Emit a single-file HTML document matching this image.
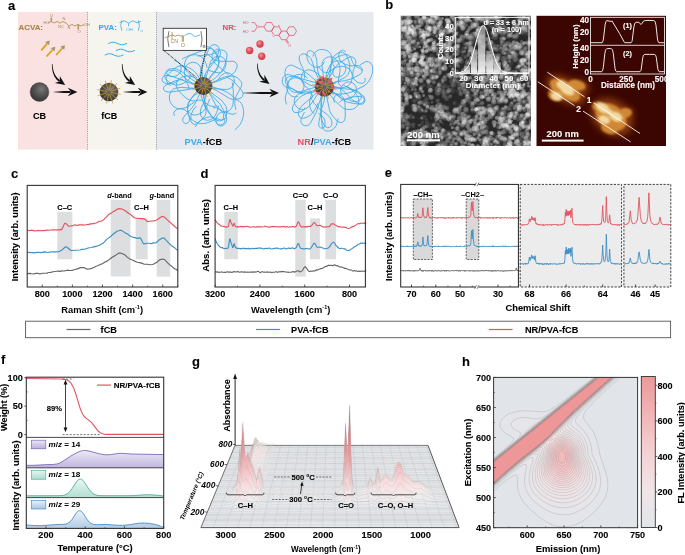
<!DOCTYPE html><html><head><meta charset="utf-8"><style>html,body{margin:0;padding:0;background:#fff;width:685px;height:555px;overflow:hidden}svg{display:block;will-change:transform}*{-webkit-font-smoothing:antialiased}text{font-family:"Liberation Sans",sans-serif}</style></head><body><svg width="685" height="555" viewBox="0 0 685 555" font-family="Liberation Sans"><defs><radialGradient id="gball" cx="0.6" cy="0.35" r="0.75"><stop offset="0" stop-color="#7a7a7a"/><stop offset="0.35" stop-color="#5a5a5a"/><stop offset="1" stop-color="#2e2e2e"/></radialGradient><linearGradient id="ag1" gradientUnits="userSpaceOnUse" x1="53.6" y1="92" x2="70.5" y2="92.0"><stop offset="0" stop-color="#111" stop-opacity="0.15"/><stop offset="0.6" stop-color="#111"/></linearGradient><linearGradient id="ag2" gradientUnits="userSpaceOnUse" x1="123.6" y1="92" x2="140.5" y2="92.0"><stop offset="0" stop-color="#111" stop-opacity="0.15"/><stop offset="0.6" stop-color="#111"/></linearGradient><linearGradient id="ag3" gradientUnits="userSpaceOnUse" x1="243" y1="93" x2="272.1" y2="93.0"><stop offset="0" stop-color="#111" stop-opacity="0.15"/><stop offset="0.6" stop-color="#111"/></linearGradient><radialGradient id="rball" cx="0.4" cy="0.35" r="0.7"><stop offset="0" stop-color="#f29aa2"/><stop offset="0.5" stop-color="#e2505c"/><stop offset="1" stop-color="#c83a48"/></radialGradient><clipPath id="csem"><rect x="400.8" y="15.8" width="130.2" height="130.2"/></clipPath><filter id="fsem" x="-5%" y="-5%" width="110%" height="110%"><feGaussianBlur stdDeviation="0.35"/></filter><radialGradient id="pg" cx="0.42" cy="0.4" r="0.6"><stop offset="0" stop-color="#fff" stop-opacity="1"/><stop offset="0.55" stop-color="#fff" stop-opacity="0.8"/><stop offset="0.85" stop-color="#fff" stop-opacity="0.3"/><stop offset="1" stop-color="#fff" stop-opacity="0"/></radialGradient><linearGradient id="hbar" x1="0" y1="0" x2="0" y2="1"><stop offset="0" stop-color="#aaa" stop-opacity="0.7"/><stop offset="1" stop-color="#f2f2f2" stop-opacity="1"/></linearGradient><clipPath id="cafm"><rect x="536.5" y="15.8" width="129.5" height="130.2"/></clipPath><filter id="fafm" x="-30%" y="-30%" width="160%" height="160%"><feGaussianBlur stdDeviation="1.6"/></filter><filter id="fafm2" x="-30%" y="-30%" width="160%" height="160%"><feGaussianBlur stdDeviation="1.1"/></filter><filter id="fafm3" x="-50%" y="-50%" width="200%" height="200%"><feGaussianBlur stdDeviation="3"/></filter><linearGradient id="gp14" x1="0" y1="0" x2="0" y2="1"><stop offset="0" stop-color="#ece8f6"/><stop offset="1" stop-color="#b9aedb"/></linearGradient><linearGradient id="gp18" x1="0" y1="0" x2="0" y2="1"><stop offset="0" stop-color="#e8f6f2"/><stop offset="1" stop-color="#a8dccd"/></linearGradient><linearGradient id="gp29" x1="0" y1="0" x2="0" y2="1"><stop offset="0" stop-color="#eaf1f9"/><stop offset="1" stop-color="#a9c6e4"/></linearGradient><linearGradient id="gpk" gradientUnits="userSpaceOnUse" x1="0" y1="400" x2="0" y2="500"><stop offset="0" stop-color="#e8666c"/><stop offset="0.45" stop-color="#f1a3a5"/><stop offset="1" stop-color="#f6e6e8" stop-opacity="0.6"/></linearGradient><linearGradient id="gs0" gradientUnits="userSpaceOnUse" x1="0" y1="360.5" x2="0" y2="445.5"><stop offset="0" stop-color="#e0565e"/><stop offset="0.4" stop-color="#ec9194"/><stop offset="0.8" stop-color="#f6d8d9" stop-opacity="0.7"/><stop offset="1" stop-color="#fbf2f2" stop-opacity="0.2"/></linearGradient><linearGradient id="gs1" gradientUnits="userSpaceOnUse" x1="0" y1="362.3" x2="0" y2="447.3"><stop offset="0" stop-color="#e0565e"/><stop offset="0.4" stop-color="#ec9194"/><stop offset="0.8" stop-color="#f6d8d9" stop-opacity="0.7"/><stop offset="1" stop-color="#fbf2f2" stop-opacity="0.2"/></linearGradient><linearGradient id="gs2" gradientUnits="userSpaceOnUse" x1="0" y1="364.1" x2="0" y2="449.1"><stop offset="0" stop-color="#e0565e"/><stop offset="0.4" stop-color="#ec9194"/><stop offset="0.8" stop-color="#f6d8d9" stop-opacity="0.7"/><stop offset="1" stop-color="#fbf2f2" stop-opacity="0.2"/></linearGradient><linearGradient id="gs3" gradientUnits="userSpaceOnUse" x1="0" y1="365.9" x2="0" y2="450.9"><stop offset="0" stop-color="#e0565e"/><stop offset="0.4" stop-color="#ec9194"/><stop offset="0.8" stop-color="#f6d8d9" stop-opacity="0.7"/><stop offset="1" stop-color="#fbf2f2" stop-opacity="0.2"/></linearGradient><linearGradient id="gs4" gradientUnits="userSpaceOnUse" x1="0" y1="367.7" x2="0" y2="452.7"><stop offset="0" stop-color="#e0565e"/><stop offset="0.4" stop-color="#ec9194"/><stop offset="0.8" stop-color="#f6d8d9" stop-opacity="0.7"/><stop offset="1" stop-color="#fbf2f2" stop-opacity="0.2"/></linearGradient><linearGradient id="gs5" gradientUnits="userSpaceOnUse" x1="0" y1="369.5" x2="0" y2="454.5"><stop offset="0" stop-color="#e0565e"/><stop offset="0.4" stop-color="#ec9194"/><stop offset="0.8" stop-color="#f6d8d9" stop-opacity="0.7"/><stop offset="1" stop-color="#fbf2f2" stop-opacity="0.2"/></linearGradient><linearGradient id="gs6" gradientUnits="userSpaceOnUse" x1="0" y1="371.3" x2="0" y2="456.3"><stop offset="0" stop-color="#e0565e"/><stop offset="0.4" stop-color="#ec9194"/><stop offset="0.8" stop-color="#f6d8d9" stop-opacity="0.7"/><stop offset="1" stop-color="#fbf2f2" stop-opacity="0.2"/></linearGradient><linearGradient id="gs7" gradientUnits="userSpaceOnUse" x1="0" y1="373.1" x2="0" y2="458.1"><stop offset="0" stop-color="#e0565e"/><stop offset="0.4" stop-color="#ec9194"/><stop offset="0.8" stop-color="#f6d8d9" stop-opacity="0.7"/><stop offset="1" stop-color="#fbf2f2" stop-opacity="0.2"/></linearGradient><linearGradient id="gs8" gradientUnits="userSpaceOnUse" x1="0" y1="374.9" x2="0" y2="459.9"><stop offset="0" stop-color="#e0565e"/><stop offset="0.4" stop-color="#ec9194"/><stop offset="0.8" stop-color="#f6d8d9" stop-opacity="0.7"/><stop offset="1" stop-color="#fbf2f2" stop-opacity="0.2"/></linearGradient><linearGradient id="gs9" gradientUnits="userSpaceOnUse" x1="0" y1="376.7" x2="0" y2="461.7"><stop offset="0" stop-color="#e0565e"/><stop offset="0.4" stop-color="#ec9194"/><stop offset="0.8" stop-color="#f6d8d9" stop-opacity="0.7"/><stop offset="1" stop-color="#fbf2f2" stop-opacity="0.2"/></linearGradient><linearGradient id="gs10" gradientUnits="userSpaceOnUse" x1="0" y1="378.5" x2="0" y2="463.5"><stop offset="0" stop-color="#e0565e"/><stop offset="0.4" stop-color="#ec9194"/><stop offset="0.8" stop-color="#f6d8d9" stop-opacity="0.7"/><stop offset="1" stop-color="#fbf2f2" stop-opacity="0.2"/></linearGradient><linearGradient id="gs11" gradientUnits="userSpaceOnUse" x1="0" y1="380.3" x2="0" y2="465.3"><stop offset="0" stop-color="#e0565e"/><stop offset="0.4" stop-color="#ec9194"/><stop offset="0.8" stop-color="#f6d8d9" stop-opacity="0.7"/><stop offset="1" stop-color="#fbf2f2" stop-opacity="0.2"/></linearGradient><linearGradient id="gs12" gradientUnits="userSpaceOnUse" x1="0" y1="382.3" x2="0" y2="467.3"><stop offset="0" stop-color="#e0565e"/><stop offset="0.4" stop-color="#ec9194"/><stop offset="0.8" stop-color="#f6d8d9" stop-opacity="0.7"/><stop offset="1" stop-color="#fbf2f2" stop-opacity="0.2"/></linearGradient><linearGradient id="gs13" gradientUnits="userSpaceOnUse" x1="0" y1="384.2" x2="0" y2="469.2"><stop offset="0" stop-color="#e0565e"/><stop offset="0.4" stop-color="#ec9194"/><stop offset="0.8" stop-color="#f6d8d9" stop-opacity="0.7"/><stop offset="1" stop-color="#fbf2f2" stop-opacity="0.2"/></linearGradient><linearGradient id="gs14" gradientUnits="userSpaceOnUse" x1="0" y1="386.1" x2="0" y2="471.1"><stop offset="0" stop-color="#e0565e"/><stop offset="0.4" stop-color="#ec9194"/><stop offset="0.8" stop-color="#f6d8d9" stop-opacity="0.7"/><stop offset="1" stop-color="#fbf2f2" stop-opacity="0.2"/></linearGradient><linearGradient id="gs15" gradientUnits="userSpaceOnUse" x1="0" y1="388.0" x2="0" y2="473.0"><stop offset="0" stop-color="#e0565e"/><stop offset="0.4" stop-color="#ec9194"/><stop offset="0.8" stop-color="#f6d8d9" stop-opacity="0.7"/><stop offset="1" stop-color="#fbf2f2" stop-opacity="0.2"/></linearGradient><linearGradient id="gs16" gradientUnits="userSpaceOnUse" x1="0" y1="389.9" x2="0" y2="474.9"><stop offset="0" stop-color="#e0565e"/><stop offset="0.4" stop-color="#ec9194"/><stop offset="0.8" stop-color="#f6d8d9" stop-opacity="0.7"/><stop offset="1" stop-color="#fbf2f2" stop-opacity="0.2"/></linearGradient><linearGradient id="gs17" gradientUnits="userSpaceOnUse" x1="0" y1="391.8" x2="0" y2="476.8"><stop offset="0" stop-color="#e0565e"/><stop offset="0.4" stop-color="#ec9194"/><stop offset="0.8" stop-color="#f6d8d9" stop-opacity="0.7"/><stop offset="1" stop-color="#fbf2f2" stop-opacity="0.2"/></linearGradient><linearGradient id="gs18" gradientUnits="userSpaceOnUse" x1="0" y1="393.7" x2="0" y2="478.7"><stop offset="0" stop-color="#e0565e"/><stop offset="0.4" stop-color="#ec9194"/><stop offset="0.8" stop-color="#f6d8d9" stop-opacity="0.7"/><stop offset="1" stop-color="#fbf2f2" stop-opacity="0.2"/></linearGradient><linearGradient id="gs19" gradientUnits="userSpaceOnUse" x1="0" y1="395.6" x2="0" y2="480.6"><stop offset="0" stop-color="#e0565e"/><stop offset="0.4" stop-color="#ec9194"/><stop offset="0.8" stop-color="#f6d8d9" stop-opacity="0.7"/><stop offset="1" stop-color="#fbf2f2" stop-opacity="0.2"/></linearGradient><linearGradient id="gs20" gradientUnits="userSpaceOnUse" x1="0" y1="397.5" x2="0" y2="482.5"><stop offset="0" stop-color="#e0565e"/><stop offset="0.4" stop-color="#ec9194"/><stop offset="0.8" stop-color="#f6d8d9" stop-opacity="0.7"/><stop offset="1" stop-color="#fbf2f2" stop-opacity="0.2"/></linearGradient><linearGradient id="gs21" gradientUnits="userSpaceOnUse" x1="0" y1="399.4" x2="0" y2="484.4"><stop offset="0" stop-color="#e0565e"/><stop offset="0.4" stop-color="#ec9194"/><stop offset="0.8" stop-color="#f6d8d9" stop-opacity="0.7"/><stop offset="1" stop-color="#fbf2f2" stop-opacity="0.2"/></linearGradient><linearGradient id="gs22" gradientUnits="userSpaceOnUse" x1="0" y1="401.5" x2="0" y2="486.5"><stop offset="0" stop-color="#e0565e"/><stop offset="0.4" stop-color="#ec9194"/><stop offset="0.8" stop-color="#f6d8d9" stop-opacity="0.7"/><stop offset="1" stop-color="#fbf2f2" stop-opacity="0.2"/></linearGradient><linearGradient id="gs23" gradientUnits="userSpaceOnUse" x1="0" y1="403.9" x2="0" y2="488.9"><stop offset="0" stop-color="#e0565e"/><stop offset="0.4" stop-color="#ec9194"/><stop offset="0.8" stop-color="#f6d8d9" stop-opacity="0.7"/><stop offset="1" stop-color="#fbf2f2" stop-opacity="0.2"/></linearGradient><linearGradient id="gs24" gradientUnits="userSpaceOnUse" x1="0" y1="406.2" x2="0" y2="491.2"><stop offset="0" stop-color="#e0565e"/><stop offset="0.4" stop-color="#ec9194"/><stop offset="0.8" stop-color="#f6d8d9" stop-opacity="0.7"/><stop offset="1" stop-color="#fbf2f2" stop-opacity="0.2"/></linearGradient><linearGradient id="gs25" gradientUnits="userSpaceOnUse" x1="0" y1="408.6" x2="0" y2="493.6"><stop offset="0" stop-color="#e0565e"/><stop offset="0.4" stop-color="#ec9194"/><stop offset="0.8" stop-color="#f6d8d9" stop-opacity="0.7"/><stop offset="1" stop-color="#fbf2f2" stop-opacity="0.2"/></linearGradient><linearGradient id="gs26" gradientUnits="userSpaceOnUse" x1="0" y1="411.0" x2="0" y2="496.0"><stop offset="0" stop-color="#e0565e"/><stop offset="0.4" stop-color="#ec9194"/><stop offset="0.8" stop-color="#f6d8d9" stop-opacity="0.7"/><stop offset="1" stop-color="#fbf2f2" stop-opacity="0.2"/></linearGradient><linearGradient id="gs27" gradientUnits="userSpaceOnUse" x1="0" y1="413.3" x2="0" y2="498.3"><stop offset="0" stop-color="#e0565e"/><stop offset="0.4" stop-color="#ec9194"/><stop offset="0.8" stop-color="#f6d8d9" stop-opacity="0.7"/><stop offset="1" stop-color="#fbf2f2" stop-opacity="0.2"/></linearGradient><linearGradient id="gs28" gradientUnits="userSpaceOnUse" x1="0" y1="415.7" x2="0" y2="500.7"><stop offset="0" stop-color="#e0565e"/><stop offset="0.4" stop-color="#ec9194"/><stop offset="0.8" stop-color="#f6d8d9" stop-opacity="0.7"/><stop offset="1" stop-color="#fbf2f2" stop-opacity="0.2"/></linearGradient><linearGradient id="gs29" gradientUnits="userSpaceOnUse" x1="0" y1="418.1" x2="0" y2="503.1"><stop offset="0" stop-color="#e0565e"/><stop offset="0.4" stop-color="#ec9194"/><stop offset="0.8" stop-color="#f6d8d9" stop-opacity="0.7"/><stop offset="1" stop-color="#fbf2f2" stop-opacity="0.2"/></linearGradient><linearGradient id="gs30" gradientUnits="userSpaceOnUse" x1="0" y1="420.4" x2="0" y2="505.4"><stop offset="0" stop-color="#e0565e"/><stop offset="0.4" stop-color="#ec9194"/><stop offset="0.8" stop-color="#f6d8d9" stop-opacity="0.7"/><stop offset="1" stop-color="#fbf2f2" stop-opacity="0.2"/></linearGradient><linearGradient id="gs31" gradientUnits="userSpaceOnUse" x1="0" y1="422.8" x2="0" y2="507.8"><stop offset="0" stop-color="#e0565e"/><stop offset="0.4" stop-color="#ec9194"/><stop offset="0.8" stop-color="#f6d8d9" stop-opacity="0.7"/><stop offset="1" stop-color="#fbf2f2" stop-opacity="0.2"/></linearGradient><linearGradient id="gs32" gradientUnits="userSpaceOnUse" x1="0" y1="425.2" x2="0" y2="510.2"><stop offset="0" stop-color="#e0565e"/><stop offset="0.4" stop-color="#ec9194"/><stop offset="0.8" stop-color="#f6d8d9" stop-opacity="0.7"/><stop offset="1" stop-color="#fbf2f2" stop-opacity="0.2"/></linearGradient><linearGradient id="gs33" gradientUnits="userSpaceOnUse" x1="0" y1="427.4" x2="0" y2="512.4"><stop offset="0" stop-color="#e0565e"/><stop offset="0.4" stop-color="#ec9194"/><stop offset="0.8" stop-color="#f6d8d9" stop-opacity="0.7"/><stop offset="1" stop-color="#fbf2f2" stop-opacity="0.2"/></linearGradient><linearGradient id="gs34" gradientUnits="userSpaceOnUse" x1="0" y1="429.0" x2="0" y2="514.0"><stop offset="0" stop-color="#e0565e"/><stop offset="0.4" stop-color="#ec9194"/><stop offset="0.8" stop-color="#f6d8d9" stop-opacity="0.7"/><stop offset="1" stop-color="#fbf2f2" stop-opacity="0.2"/></linearGradient><linearGradient id="gs35" gradientUnits="userSpaceOnUse" x1="0" y1="430.7" x2="0" y2="515.7"><stop offset="0" stop-color="#e0565e"/><stop offset="0.4" stop-color="#ec9194"/><stop offset="0.8" stop-color="#f6d8d9" stop-opacity="0.7"/><stop offset="1" stop-color="#fbf2f2" stop-opacity="0.2"/></linearGradient><linearGradient id="gs36" gradientUnits="userSpaceOnUse" x1="0" y1="432.3" x2="0" y2="517.3"><stop offset="0" stop-color="#e0565e"/><stop offset="0.4" stop-color="#ec9194"/><stop offset="0.8" stop-color="#f6d8d9" stop-opacity="0.7"/><stop offset="1" stop-color="#fbf2f2" stop-opacity="0.2"/></linearGradient><linearGradient id="gs37" gradientUnits="userSpaceOnUse" x1="0" y1="434.0" x2="0" y2="519.0"><stop offset="0" stop-color="#e0565e"/><stop offset="0.4" stop-color="#ec9194"/><stop offset="0.8" stop-color="#f6d8d9" stop-opacity="0.7"/><stop offset="1" stop-color="#fbf2f2" stop-opacity="0.2"/></linearGradient><linearGradient id="gs38" gradientUnits="userSpaceOnUse" x1="0" y1="435.6" x2="0" y2="520.6"><stop offset="0" stop-color="#e0565e"/><stop offset="0.4" stop-color="#ec9194"/><stop offset="0.8" stop-color="#f6d8d9" stop-opacity="0.7"/><stop offset="1" stop-color="#fbf2f2" stop-opacity="0.2"/></linearGradient><linearGradient id="gs39" gradientUnits="userSpaceOnUse" x1="0" y1="437.3" x2="0" y2="522.3"><stop offset="0" stop-color="#e0565e"/><stop offset="0.4" stop-color="#ec9194"/><stop offset="0.8" stop-color="#f6d8d9" stop-opacity="0.7"/><stop offset="1" stop-color="#fbf2f2" stop-opacity="0.2"/></linearGradient><clipPath id="chh"><rect x="493.6" y="377.4" width="144.0" height="150.30000000000007"/></clipPath><linearGradient id="gcb" x1="0" y1="1" x2="0" y2="0"><stop offset="0.000" stop-color="#e1e5ea"/><stop offset="0.118" stop-color="#e8e5e8"/><stop offset="0.235" stop-color="#f0e5e7"/><stop offset="0.353" stop-color="#f2dcde"/><stop offset="0.471" stop-color="#f4d4d6"/><stop offset="0.588" stop-color="#f3c7c9"/><stop offset="0.706" stop-color="#f2babc"/><stop offset="0.824" stop-color="#f0acae"/><stop offset="1.000" stop-color="#ed9799"/></linearGradient></defs><text x="8.00" y="9.80" font-size="13" font-weight="bold" text-anchor="start" fill="#000" stroke="#000" stroke-width="0.1" >a</text>
<text x="385.20" y="9.40" font-size="13" font-weight="bold" text-anchor="start" fill="#000" stroke="#000" stroke-width="0.1" >b</text>
<text x="11.00" y="177.50" font-size="13" font-weight="bold" text-anchor="start" fill="#000" stroke="#000" stroke-width="0.1" >c</text>
<text x="200.50" y="177.50" font-size="13" font-weight="bold" text-anchor="start" fill="#000" stroke="#000" stroke-width="0.1" >d</text>
<text x="384.80" y="177.40" font-size="13" font-weight="bold" text-anchor="start" fill="#000" stroke="#000" stroke-width="0.1" >e</text>
<text x="1.00" y="364.00" font-size="13" font-weight="bold" text-anchor="start" fill="#000" stroke="#000" stroke-width="0.1" >f</text>
<text x="192.00" y="365.60" font-size="13" font-weight="bold" text-anchor="start" fill="#000" stroke="#000" stroke-width="0.1" >g</text>
<text x="462.00" y="366.00" font-size="13" font-weight="bold" text-anchor="start" fill="#000" stroke="#000" stroke-width="0.1" >h</text>
<rect x="18.00" y="12.00" width="69.50" height="137.50" fill="#fae2e2" stroke="none" stroke-width="1" />
<rect x="87.50" y="12.00" width="69.00" height="137.50" fill="#f5f4ef" stroke="none" stroke-width="1" />
<rect x="156.50" y="12.00" width="217.00" height="137.50" fill="#e6e9ed" stroke="none" stroke-width="1" />
<line x1="87.50" y1="12.00" x2="87.50" y2="149.50" stroke="#8a8a8a" stroke-width="0.8" stroke-dasharray="1.2,1"/>
<line x1="156.50" y1="12.00" x2="156.50" y2="149.50" stroke="#8a8a8a" stroke-width="0.8" stroke-dasharray="1.2,1"/>
<text x="18.60" y="30.00" font-size="7.9" font-weight="bold" text-anchor="start" fill="#a8864a" stroke="#a8864a" stroke-width="0.1" >ACVA:</text>
<path d="M48,23 L51,21.5 L54,23 L57,21.5 L60,23 L63,21.5 L66,23 L69,26 L72,24.5 L75,26 L78,24.5 L81,26 L84,24.5" stroke="#a8864a" stroke-width="0.8" fill="none"/>
<path d="M51,21.5 L51,17.5 M51.6,21.5 L51.6,17.5 M78,24.5 L78,29.5 M78.6,24.5 L78.6,29.5" stroke="#a8864a" stroke-width="0.8" fill="none"/>
<text x="43.50" y="24.00" font-size="4.0" font-weight="normal" text-anchor="start" fill="#a8864a" stroke="#a8864a" stroke-width="0" >HO</text>
<text x="58.00" y="27.50" font-size="4.0" font-weight="normal" text-anchor="start" fill="#a8864a" stroke="#a8864a" stroke-width="0" >NC</text>
<text x="62.50" y="19.50" font-size="4.0" font-weight="normal" text-anchor="start" fill="#a8864a" stroke="#a8864a" stroke-width="0" >N</text>
<text x="67.50" y="29.00" font-size="4.0" font-weight="normal" text-anchor="start" fill="#a8864a" stroke="#a8864a" stroke-width="0" >N</text>
<text x="84.00" y="25.50" font-size="4.0" font-weight="normal" text-anchor="start" fill="#a8864a" stroke="#a8864a" stroke-width="0" >OH</text>
<text x="50.00" y="17.00" font-size="4.0" font-weight="normal" text-anchor="start" fill="#a8864a" stroke="#a8864a" stroke-width="0" >O</text>
<text x="77.50" y="33.00" font-size="4.0" font-weight="normal" text-anchor="start" fill="#a8864a" stroke="#a8864a" stroke-width="0" >O</text>
<line x1="41.30" y1="50.30" x2="47.16" y2="43.61" stroke="#dca11a" stroke-width="1.8" />
<path d="M49.80,40.60 L49.12,45.32 L45.21,41.89 Z" fill="#a49672"/>
<line x1="46.50" y1="56.50" x2="52.61" y2="49.76" stroke="#dca11a" stroke-width="1.8" />
<path d="M55.30,46.80 L54.54,51.51 L50.69,48.02 Z" fill="#a49672"/>
<line x1="56.10" y1="55.00" x2="62.30" y2="48.25" stroke="#dca11a" stroke-width="1.8" />
<path d="M65.00,45.30 L64.21,50.01 L60.38,46.49 Z" fill="#a49672"/>
<circle cx="39.5" cy="92" r="9.4" fill="url(#gball)" stroke="#333" stroke-width="0.4"/>
<circle cx="109" cy="92" r="9.3" fill="url(#gball)"/>
<path d="M111.3,92.5 120.4,94.3M110.7,93.5 117.7,99.7M109.7,94.2 112.7,103.0M108.5,94.3 106.7,103.4M107.5,93.7 101.3,100.7M106.8,92.7 98.0,95.7M106.7,91.5 97.6,89.7M107.3,90.5 100.3,84.3M108.3,89.8 105.3,81.0M109.5,89.7 111.3,80.6M110.5,90.3 116.7,83.3M111.2,91.3 120.0,88.3" stroke="#d19a24" stroke-width="0.75" stroke-linecap="round"/>
<path d="M53.60,93.00 55.00,93.00 56.36,93.01 57.67,93.01 58.93,93.01 60.15,93.02 61.32,93.02 62.45,93.02 63.52,93.03 64.56,93.03 65.55,93.03 66.49,93.03 67.38,93.04 68.23,93.04 69.03,93.04 69.79,93.05 70.50,93.05 70.50,90.95 69.79,90.95 69.03,90.96 68.23,90.96 67.38,90.96 66.49,90.97 65.55,90.97 64.56,90.97 63.52,90.97 62.45,90.98 61.32,90.98 60.15,90.98 58.93,90.99 57.67,90.99 56.36,90.99 55.00,91.00 53.60,91.00Z" fill="url(#ag1)"/>
<path d="M77.40,92.00 L67.80,96.30 L71.00,92.00 L67.80,87.70 Z" fill="#111"/>
<path d="M51.90,64.00 51.91,65.49 51.97,66.93 52.09,68.31 52.27,69.65 52.50,70.93 52.79,72.17 53.13,73.36 53.54,74.50 54.00,75.59 54.53,76.63 55.11,77.62 55.76,78.56 56.47,79.44 57.24,80.28 58.07,81.06 58.96,81.78 60.11,80.14 59.27,79.57 58.48,78.94 57.74,78.26 57.04,77.52 56.39,76.73 55.79,75.87 55.24,74.96 54.73,73.98 54.27,72.95 53.86,71.85 53.51,70.69 53.20,69.47 52.95,68.19 52.74,66.85 52.60,65.45 52.50,64.00Z" fill="#111"/>
<path d="M65.20,84.90 L54.86,82.95 L59.95,81.25 L59.77,75.89 Z" fill="#111"/>
<path d="M123.60,93.00 125.00,93.00 126.36,93.01 127.67,93.01 128.93,93.01 130.15,93.02 131.32,93.02 132.45,93.02 133.53,93.03 134.56,93.03 135.55,93.03 136.49,93.03 137.38,93.04 138.23,93.04 139.03,93.04 139.79,93.05 140.50,93.05 140.50,90.95 139.79,90.95 139.03,90.96 138.23,90.96 137.38,90.96 136.49,90.97 135.55,90.97 134.56,90.97 133.53,90.97 132.45,90.98 131.32,90.98 130.15,90.98 128.93,90.99 127.67,90.99 126.36,90.99 125.00,91.00 123.60,91.00Z" fill="url(#ag2)"/>
<path d="M147.40,92.00 L137.80,96.30 L141.00,92.00 L137.80,87.70 Z" fill="#111"/>
<path d="M121.90,64.00 121.91,65.49 121.97,66.93 122.09,68.31 122.27,69.65 122.50,70.93 122.79,72.17 123.13,73.36 123.54,74.50 124.00,75.59 124.53,76.63 125.11,77.62 125.76,78.56 126.47,79.44 127.24,80.28 128.07,81.06 128.96,81.78 130.11,80.14 129.27,79.57 128.48,78.94 127.74,78.26 127.04,77.52 126.39,76.73 125.79,75.87 125.24,74.96 124.73,73.98 124.27,72.95 123.86,71.85 123.51,70.69 123.20,69.47 122.95,68.19 122.74,66.85 122.60,65.45 122.50,64.00Z" fill="#111"/>
<path d="M135.20,84.90 L124.86,82.95 L129.95,81.25 L129.77,75.89 Z" fill="#111"/>
<path d="M243.00,94.00 245.34,94.00 247.61,94.01 249.81,94.01 251.94,94.01 254.01,94.02 256.00,94.02 257.92,94.02 259.77,94.03 261.56,94.03 263.27,94.03 264.92,94.03 266.49,94.04 268.00,94.04 269.44,94.04 270.80,94.05 272.10,94.05 272.10,91.95 270.80,91.95 269.44,91.96 268.00,91.96 266.49,91.96 264.92,91.97 263.27,91.97 261.56,91.97 259.77,91.97 257.92,91.98 256.00,91.98 254.01,91.98 251.94,91.99 249.81,91.99 247.61,91.99 245.34,92.00 243.00,92.00Z" fill="url(#ag3)"/>
<path d="M279.00,93.00 L269.40,97.30 L272.60,93.00 L269.40,88.70 Z" fill="#111"/>
<path d="M257.00,63.51 257.02,64.93 257.08,66.31 257.20,67.64 257.36,68.92 257.58,70.16 257.84,71.34 258.16,72.49 258.52,73.58 258.94,74.63 259.41,75.63 259.94,76.59 260.52,77.50 261.15,78.36 261.85,79.17 262.59,79.93 263.39,80.64 264.60,79.04 263.85,78.49 263.14,77.88 262.47,77.22 261.84,76.51 261.25,75.74 260.70,74.91 260.19,74.03 259.73,73.09 259.30,72.09 258.92,71.03 258.59,69.92 258.30,68.75 258.05,67.52 257.86,66.23 257.70,64.89 257.60,63.49Z" fill="#111"/>
<path d="M269.50,84.00 L259.25,81.64 L264.40,80.14 L264.44,74.78 Z" fill="#111"/>
<text x="33.00" y="119.00" font-size="9.1" font-weight="bold" text-anchor="start" fill="#000" stroke="#000" stroke-width="0.1" >CB</text>
<text x="101.20" y="119.00" font-size="9.0" font-weight="bold" text-anchor="start" fill="#000" stroke="#000" stroke-width="0.1" >fCB</text>
<text x="98.50" y="30.20" font-size="7.9" font-weight="bold" text-anchor="start" fill="#3aabe9" stroke="#3aabe9" stroke-width="0.1" >PVA:</text>
<path d="M121.8,20.3 Q119.6,25.5 121.8,30.7 M138.3,20.3 Q140.5,25.5 138.3,30.7" stroke="#3aabe9" stroke-width="0.8" fill="none"/>
<path d="M119.5,22.6 L124.2,20.8 L128.6,23.2 L133,20.8 L137,22.8 L140.8,21.4 M128.6,23.2 L128.6,26.4" stroke="#3aabe9" stroke-width="0.8" fill="none"/>
<text x="126.20" y="30.60" font-size="4.4" font-weight="normal" text-anchor="start" fill="#3aabe9" stroke="#3aabe9" stroke-width="0" >OH</text>
<text x="140.40" y="31.60" font-size="4.0" font-weight="normal" text-anchor="start" fill="#3aabe9" stroke="#3aabe9" stroke-width="0" >n</text>
<path d="M108.7,43.5 111.1,42.5 112.9,42.2 115.3,42.5 119.4,44.3 121.8,44.8 124.2,44.5 126.6,43.5" stroke="#3aabe9" stroke-width="1.0" fill="none" stroke-linejoin="round" stroke-linecap="round"/>
<path d="M116.3,50.5 118.7,49.5 120.5,49.2 123,49.5 127.2,51.3 129.6,51.8 132.1,51.5 134.5,50.5" stroke="#3aabe9" stroke-width="1.0" fill="none" stroke-linejoin="round" stroke-linecap="round"/>
<path d="M105.2,55 107.6,54 109.4,53.7 111.7,54 115.9,55.8 118.3,56.3 120.6,56 123,55" stroke="#3aabe9" stroke-width="1.0" fill="none" stroke-linejoin="round" stroke-linecap="round"/>
<path d="M209.7,85.9 223,90.4 226.7,92 230.9,94.7 236.1,99.3 239.5,101.4 241.5,103.6 242.7,106.4 243.5,110.3 243.7,113.3 243.1,117.2 241.9,121 240,124.5 238.1,126.9 235.1,129.6M209.5,86.9 219.2,92.1 229.3,98.4 232.2,99.2 235.2,99.2 238.2,98.9 241,97.9 242.4,96.5 243,94.6 242.8,92.6 242,90.8 234.1,81.8 230.9,79.4 227.3,77.5M208.3,87.6 213.2,88.6 226.2,89.5 229.1,89 230.9,88.1 233.4,85 234.5,81.2 233.7,77.3 232.7,75.6 231.3,74.2 228.6,72.9 226.6,72.8 224.6,73.2 221.3,75.3 220,76.8 218.6,79.5M207,88.1 211.9,93.1 221.5,100.3 225.2,105 226.1,106.8 226.7,109.7 226.6,113.7 225.9,117.6 224.7,119.2 221.9,120.2 211.4,117.1 209.4,116.9 206.4,117.5 201.9,119.5 199.4,121.2 195.3,126.8M208.1,91.3 220.4,104.5 223.7,110.6 226.3,117.1 226.7,119.1 226.5,121.1 225.7,122.9 224.5,124.4 222.8,125.6 220.9,126.1 218.1,125.2 216.9,123.6 216.1,120.7 216.1,118.7 217.5,115 219.7,113 221.5,112.2 224.5,112 232.1,114.3 234.1,114 235.9,113.1M206,89.6 208,91.8 210.9,95.9 215.6,104.7 218.5,108.7 220.9,110.6 222.7,111.5 224.6,111.9 226.6,111.7 228.5,111.1 230.8,109.2 231.9,107.5 232.9,104.7 233.4,99.7 233.3,90.7 232.3,82.8M206,92.3 205.5,98.2 204.2,102 201.4,107.3 200.4,111.2 200.6,115.1 202,117.7 204.4,119.6 207.3,120.3 210.2,119.8 212.8,118.4 214.8,116.1 216.7,112.6 217.9,108.8 218.3,105.8M203.6,90.5 204.1,98.5 205.9,110.4 205.8,113.4 205.2,115.3 202.9,118.5 196.9,123.8 195,124.4 194,124.3 192.2,123.4 191.2,121.7 190.7,119.8 191.1,114.8 193,110.2 196.2,106.5M203.1,92.9 204,98.8 206.1,105.5 207.5,109.2 211,115.3 214.3,119 217.9,120.7 219.9,120.9 221.8,120.3 223.1,118.8 223.4,117.9 223.7,115.9 223.5,113.9 221.6,110.5 218.3,108.2 216.4,107.8 213.4,107.8M201.3,92.1 201.5,96.1 202.1,99 204.9,106.5 208,111.7 213.1,117.8 216.9,123.6 218.6,124.7 220.6,125 223.3,124 224.5,122.4 224.8,121.5 224.6,119.5 223.8,117.7M200.2,92.1 197.6,98.6 194.8,103.9 192,108 185.2,115.3 182.8,118.5 182.7,120.5 183,121.5 184.3,123 186.2,123.5 188,122.9 188.7,122.1 189.5,120.3 189.4,116.3 187.8,112.7 185,109.9 181.2,108.7 178.2,109 176.4,109.8 174.8,111 173.8,112.7 173.7,113.7 174.5,115.5M198.8,92.1 194.8,95.1 191.9,97.8 189.5,101 188.1,103.7 187.3,106.6 187.5,109.5 188.9,112.2 190.3,113.6 193,114.8 196,115 198.9,114.1 202.3,112.1 204.5,110 206.2,107.6 209.6,99.3M198.1,89.6 191.9,97.3 189,102.6 187.4,110.4 187.8,113.4 188.8,116.2 190.6,118.6 193.7,121 197.3,122.9 200.2,123.5 203.2,123.6 207.1,122.9 215.4,119.5M196.9,88.3 189.9,88.1 181.9,87.4 176,88 173.3,89.2 171.8,90.6 170.2,93.1 169.4,96 169.5,100 171.1,103.6 173.7,106.7 177.2,108.5 181.2,108.7 185.1,107.8 187.8,106.5 194.4,102.1M198.7,87.4 186,89.9 171.1,91.9 168.1,92 165.2,91.3 163.8,89.9 163.5,89 163.8,87 165.1,85.5 174.1,81.2 179,79.9 182.9,79.5M197.7,85.5 193.1,83.5 188.8,81 185.6,78.5 179.8,73 177.3,71.4 174.5,70.3 169.5,70.3 166.8,71.4 165.5,72.8 164.7,74.7 164.7,76.7 165.5,78.6 168.1,81.5 171.5,83.7 175.2,85 178.2,85 183,83.5 188.1,80.5 189.8,78 190.1,75M199.5,84.8 192.5,83.9 172.9,76.6 169,75.6 166,75.4 164.1,75.9 162.7,77.3 162.2,78.2 162.1,80.2 162.9,82 163.7,82.6 166.5,83.5 169.5,83.8 172.5,83.4 175.4,82.5 177.9,80.9M196.3,82.6 181.1,71.2 176.6,69.1 171.7,68.6 167.8,69.6 166.6,71.1 166.4,72.1 167,74 167.7,74.7 169.3,75.9 171.2,76.6 174.1,76.6 177.8,75.2 180.4,72.2 181.2,68.3 180.3,64.4 179.2,62.8 177.6,61.6 174.8,60.6M198.2,81.3 194.8,77.7 187.6,72.2 185.7,70 184.8,68.2 184.5,65.2 184.9,62.2 186,59.4 188.6,56.5 191.3,55.1 195.2,54.7 199.2,55.4 201.7,56.9 204.3,59.9 206,63.5 207,67.4M198.5,80.5 194.5,77.6 190.7,76.2 186.7,76 181.9,77.1 178.7,79.4 176.6,82.8 176.3,84.8 176.5,86.8 178.2,90.4 180.2,92.7 185.3,97.4 189.5,100.2 193.3,101 198.2,100.1 201.2,100.2 204,101.3 207.7,104.6 210.4,106 213.4,106.5 216.3,105.8M200.8,80.3 195.8,72.9 192.2,69.5 188.6,67.6 184.9,66.3 181.9,65.8 179.9,65.9 177.1,66.9 173.7,69 168.7,73.9 166.3,77.1 166.1,79.1 167,81.9 168.8,84.3 170.5,85.4M201.5,79.7 200.2,74.9 200.9,69 203.5,60.4 209.5,47.8 210.7,46.1 212.3,45 215.2,44.6 217.8,46.1 218.8,47.8 219.2,49.7 217.8,54.5 215.8,59.1 213.3,62.1 210,64.4M202.9,81.5 202.1,71.5 201.2,68.7 199.8,66 197.8,63.8 195.1,62.5 192.1,62.3 189.3,63.3 187.6,64.4 185.6,66.7 184.8,68.5 184.3,71.4 185.5,80.3 188.3,85.5 188.9,88.5M203.5,79.9 205.2,74.1 207.1,70.6 212.9,63.7 218.4,58 220,55.5 220.6,52.5 220.1,50.6 218.6,49.4 216.6,49.3 215.7,49.7 213.6,51.9 212.3,54.5 212.1,57.5 213,60.4 214.7,62.9 216.7,65 228.4,74.4M205.1,79.2 207.2,73.6 210.4,62.1 212,59.5 214.2,57.5 217,56.3 218.9,56.2 220.9,56.5 223.5,58 225.3,60.4 225.9,62.3 226,64.3 225.3,67.2 224.4,69 222.5,71.3 220.8,72.3 218.8,72.8 214.9,72.4 208.3,70.2M207.1,80.6 214.7,72.7 216.9,69.4 218.5,65.7 219,61.7 218.1,56.8 216.5,53.2 213.9,50.1 211.4,48.4 208.5,48.4 188.8,55.7 182.6,58.8M207.7,81.5 211.2,75.4 216.2,69.2 217.8,66.7 219,62.9 218.7,59.9 217.2,56.2 215.1,52.7 212.1,48.8 210.5,47.6 207.6,46.7 204.6,46.4 201.7,47.1 199.1,48.6M209.9,81.4 213.4,79.5 216.5,77 220.6,72.6 222.9,69.3 224.6,65.7 226.3,59.9 227,55 226.6,53.1 225.4,51.5 223.7,50.4 220.8,49.9 218.9,50.5 214.6,53.1 210.9,54.6 198,56.1M208.3,83.7 217,81.4 225.3,78.1 230.8,75.5 233.1,73.7 235,71.4 236.5,68.8 237.3,65.9 236.3,63.1 234,61.3 221,61.3 217.1,60.7 212.6,58.5 206.5,53.3M207.8,84.7 222.2,77.9 227,76.3 232.9,76.1 235.8,76.9 238.4,78.5 241.5,82.4 241.9,84.3 241.1,87.2 236.6,95 235.2,98.7 234.7,103.7 235.7,109.5" stroke="#3aabe9" stroke-width="0.85" fill="none" stroke-linejoin="round" stroke-linecap="round"/>
<path d="M331.1,87 344,88.8 352,89.4 355.8,90.4 358.5,91.8 360.5,94 361.4,96.9 360.9,98.8 359.5,100.2 356.8,101.5 353.8,101.7 350.9,100.9 348.5,99.2M329.8,87.9 336.8,88.1 341.8,87.8 345.7,87 348.3,85.7 350.9,82.7 352.2,78.9 352.3,74.9 351.1,71.1 349.2,68.8 346.6,67.3 343.7,66.4 340.8,66.3 337.8,66.8 335,67.9 328.3,72.3 325.4,72.6 323.5,72 321.9,70.8 318.1,66.2M331.4,90.3 341.3,98.7 343.2,99.4 345.2,99.6 349.1,99 351.7,97.6 354,95.6 355.7,93.1 356.3,91.2 356.4,88.3 355.8,86.4 354.1,83.9 351.5,82.3 349.6,81.9 346.6,82.2 344.8,83.1 342.6,85.1 340.5,88.5 340.6,90.5 341.4,94.4M330.3,91.2 336.7,94 343.5,99.9 346.9,101.9 353.7,103.5 358.7,104 360.7,103.7 363.2,102.2 364.2,100.5 364.3,97.5 363.3,95.8 349.5,87.8 346.7,86.8M327.8,90.4 332.2,92.8 335,93.8 338,94.1 345,93.7 348.9,92.9 353.6,91.1 365.2,85.3 369.1,80.8 371.4,76.4 372.7,71.6 372.5,66.6 371.8,64.7 370.7,63.1 368.2,61.6 365.2,61.8 360.1,65M326.5,90.7 334.9,100.7 342.2,107.5 344.9,108.8 347.8,109.6 352.8,109.2 355.4,107.9 358.2,105 359,101.1 358.5,98.1 356.6,94.7 354,91.7 350,88.7 343.8,85.3M326.2,94 329.6,110.6 331.4,114.2 335.7,119.6 338,121.6 340.8,122.7 342.7,122.2 344.2,120.9 344.9,119 345.3,116 345,103 344.3,100.1 343,97.5 341.6,96 338.9,94.7 336.9,94.8 334.5,96.5 333.6,99.3 334.3,102.2M325,91.6 324.3,100.6 321.8,108.2 321,112.1 322.2,126 322.6,128 324.5,130.3 326.4,131 329.3,131 332.1,130 334.4,128.1 336.2,125.7 338,118.9M323.7,92.8 319.9,101 316.2,112.4 310.5,123 309.3,124.5 307.6,125.5 304.6,125.7 302.8,124.9 301.1,122.5 300.8,120.6 301.2,118.6 304.3,112.4M322.8,91.2 321.7,99.1 320.8,113.1 321,117 322.4,121.8 324.8,126.2 327.3,127.7 329.3,127.4 330.2,127 331.5,125.4 331.9,123.5 331.6,120.5 330.3,117.8 326.9,114.3 318.8,108.3 314,103.2 312.5,100.6M322.2,91.8 320.8,97.6 321.3,110.6 319,121.4 318.7,125.3 319.5,127.1 320.3,127.8 322.2,128.2 324,127.4 325,125.7 325.1,121.7 324.2,118.8 321.7,115.7 318.5,113.3M320,91.8 316.7,95.6 311.8,103.1 309.2,106.2 306.1,108.7 303.3,109.6 301.3,109.5 298.5,108.4 296.3,106.5 294.7,103.9 294.2,102 294.5,99 295.3,97.2 297.2,94.9 299.7,93.2 303.5,92 306.5,91.7 309.4,91.9 311.2,92.9 312.2,94.6 312.3,96.6 311.3,99.4M319.2,90.2 312,97.1 302.1,105.5 299.2,109.6 298.4,112.4 298.5,115.4 300.3,117.8 302.2,118.4 303.2,118.3 307,117.2 310.4,115.1 312.6,113.1 315.4,108.9 318,103.5M317.9,90.3 312.3,92.6 307.5,93.5 301.5,92.7 295.8,90.9 289,86.7 285.6,83.1 285.2,81.1 285.6,79.2 286.8,77.6 289.5,76.5 293.5,76.2 297.5,76.7 300.2,78 302.9,80.8 304,83.6 303.9,87.6 302.4,91.3 299.5,94M317.1,89.3 307.8,92.9 301.6,96.1 298.4,98.6 294.6,103.2 293.1,105.8 292.3,108.7 292.7,110.6 294.1,112.1 295,112.5 297.9,112.5 300.8,111.7 303.3,110.2 305.1,107.8M317.6,86.5 313.6,86.1 309.8,85 297.7,77.9 291.3,75.2 288.4,74.4 285.5,75 283.3,77 282.3,79.8 282.4,82.8 283.7,85.5 285.3,86.7 292.9,89.1 299.9,92.9 302.8,93.9M318.4,86.3 298.4,92.4 294.4,92.4 290.8,90.7 288.4,87.6 287.9,85.7 287.8,83.7 289.3,80 292.1,77.1 296.5,74.8 300.4,74.3 302.4,74.6 304.3,75.3 307.2,78M319.5,84.1 309,74.8 301.6,69.7 292.6,65.4 290.6,65.1 287.8,66.1 285.9,68.4 284.9,72.2 285.2,76.2 287.7,82.7 288.1,85.7 287.8,89.7 285.7,95.3 285.3,97.2 285.4,100.2 286.4,104.1M318.7,83.5 298.5,78 294.5,77.8 290.8,79.3 288.7,81.4 287.3,84 286.7,87.9 287.3,90.9 289.4,94.2 291.7,96.1 294.6,96.9 297.5,96.5M319.6,80.8 314.8,71 312.5,62.3 310.9,58.6 308.2,55.7 304.7,53.9 302.7,53.9 300.9,54.7 299.5,56.2 299.1,58.1 299.9,62 303.3,69.3 304.2,72.1 304.6,75.1 304.3,78.1M321.9,83.2 319.7,77.6 318,71.8 317,65.9 316.8,59.9 315,54.2 313.1,51.9 310.4,50.6 308.5,51 307.7,51.7 306.8,54.5 307.2,58.4 308.6,62.2 310.5,64.4 313.8,66.7 316.7,67.4 319.7,66.8 322.2,65.2 324.3,61.9M323.1,80.7 321,77.3 317.7,73.6 315.2,71.9 311.5,70.3 308.6,69.8 305.7,70.4 303.3,72.1 301.7,74.7 301.3,78.6 302.4,82.5 304.6,85.8 309.3,89.5 311,91.9 311.4,94.9 309.8,100.6 309.6,105.6 310.7,109.4 312.3,112 313.7,113.4M323.7,80.3 323.1,73.3 322,66.4 322.1,63.4 322.7,61.5 324.4,59 326.9,57.4 329.8,56.8 332.8,57.3 334.5,58.2 336.7,60.3 338.3,62.8 339.5,65.5 340,68.5 340,71.5 338.2,81.3 338.9,84.1 341,86.3M324.8,82.7 329.3,71.6 331.3,63.9 332.5,61.1 333.8,59.6 336.1,57.7 341.6,55.3 346.5,54.4 349.2,55.5 351,57.9 352.7,62.6 354.3,65.1 355.8,66.4 359.4,68.2 362.7,70.5M325.6,83 326,76 327.2,71.2 330.3,64.9 332.2,62.6 333.9,61.6 336.8,60.8 339.8,61.1 342.5,62.3 344,63.6 345.4,66.3 345.8,68.2 345.7,70.2 344.5,73 342.6,75.3 340,76.8 337.1,77.3 335.2,76.8 333.6,75.5 332.9,73.7 333,70.7 334.1,67.9M327.2,81.9 334.2,68.6 336,66.2 340.5,62.3 347.3,58 350,56.8 352,56.9 353.8,57.8 355.1,59.2 355.8,61.1 355.7,64.1 353.3,70.6 352.8,73.6 352.9,76.6 354,79.3 357,82 359.8,83.1 361.8,83.3 363.7,82.9 364.4,82.2 365.2,80.4 364.9,78.4M327.7,82.7 330.4,72.1 331.7,60.1 331.5,56.2 330.4,53.4 329.1,51.9 326.6,50.3 323.7,49.6 319.7,49.6 317.8,50.3 315.3,52 313.6,54.4 313,56.3M330.5,83.2 336.3,81.8 345.2,80.6 351,79 359,75 360.7,73.9 361.9,72.3 362.2,69.4 361.3,67.6 359.8,66.3 357,65.4 352,65.9 348.1,65.3 343.4,63.5 340.4,61 339.4,59.2 338.8,56.3 338.9,54.3 339.5,52.4 340.7,50.8 342.6,50.2 343.6,50.3 345.3,51.3M331,84.6 345.3,77.3 348,74.4 349.7,70.8 349.7,64.8 348.5,60 346,54.5 344.5,53.2 342.7,52.4 340.7,52.2 337.9,53.2 335.3,54.8 333.4,57.1 332.7,58.9 332.5,61.9 333.2,64.8 334.3,66.5M328.4,85.9 335.4,86.5 340,88.4 344.7,92.1 352.5,99.9 359.3,104 362.3,104.2 364,103.1 365.1,100.4 364.5,98.5 363.1,97.2 360.2,96.4 352.2,96.8 343.7,99.5 341.1,100.9 339.6,102.3" stroke="#3aabe9" stroke-width="0.85" fill="none" stroke-linejoin="round" stroke-linecap="round"/>
<circle cx="203.4" cy="86" r="9" fill="url(#gball)"/>
<path d="M205.6,86.4 214.4,88.2M205.1,87.5 211.8,93.4M204.1,88.1 207.0,96.7M203.0,88.2 201.2,97.0M201.9,87.7 196.0,94.4M201.3,86.7 192.7,89.6M201.2,85.6 192.4,83.8M201.7,84.5 195.0,78.6M202.7,83.9 199.8,75.3M203.8,83.8 205.6,75.0M204.9,84.3 210.8,77.6M205.5,85.3 214.1,82.4" stroke="#d19a24" stroke-width="0.75" stroke-linecap="round"/>
<circle cx="324.5" cy="87" r="9.5" fill="url(#gball)"/>
<path d="M326.8,87.5 336.1,89.4M326.3,88.6 333.4,94.9M325.3,89.3 328.3,98.3M324.0,89.3 322.1,98.6M322.9,88.8 316.6,95.9M322.2,87.8 313.2,90.8M322.2,86.5 312.9,84.6M322.7,85.4 315.6,79.1M323.7,84.7 320.7,75.7M325.0,84.7 326.9,75.4M326.1,85.2 332.4,78.1M326.8,86.2 335.8,83.2" stroke="#d19a24" stroke-width="0.75" stroke-linecap="round"/>
<circle cx="325.10" cy="94.94" r="1.1" fill="#e4606c"/>
<circle cx="318.84" cy="93.03" r="1.1" fill="#e4606c"/>
<circle cx="320.59" cy="83.05" r="1.1" fill="#e4606c"/>
<circle cx="333.91" cy="87.78" r="1.1" fill="#e4606c"/>
<circle cx="324.12" cy="93.39" r="1.1" fill="#e4606c"/>
<circle cx="332.09" cy="86.79" r="1.1" fill="#e4606c"/>
<circle cx="328.44" cy="80.47" r="1.1" fill="#e4606c"/>
<circle cx="320.66" cy="82.41" r="1.1" fill="#e4606c"/>
<circle cx="318.15" cy="79.81" r="1.1" fill="#e4606c"/>
<circle cx="315.64" cy="85.70" r="1.1" fill="#e4606c"/>
<circle cx="321.87" cy="82.12" r="1.1" fill="#e4606c"/>
<circle cx="324.92" cy="78.81" r="1.1" fill="#e4606c"/>
<circle cx="322.80" cy="92.10" r="1.1" fill="#e4606c"/>
<circle cx="329.55" cy="81.31" r="1.1" fill="#e4606c"/>
<circle cx="322.62" cy="77.53" r="1.1" fill="#e4606c"/>
<circle cx="322.30" cy="77.39" r="1.1" fill="#e4606c"/>
<circle cx="317.19" cy="92.68" r="1.1" fill="#e4606c"/>
<circle cx="315.16" cy="90.39" r="1.1" fill="#e4606c"/>
<circle cx="328.64" cy="83.06" r="1.1" fill="#e4606c"/>
<circle cx="328.65" cy="91.76" r="1.1" fill="#e4606c"/>
<circle cx="331.75" cy="85.40" r="1.1" fill="#e4606c"/>
<circle cx="319.78" cy="82.18" r="1.1" fill="#e4606c"/>
<circle cx="317.34" cy="86.67" r="1.1" fill="#e4606c"/>
<circle cx="319.66" cy="93.58" r="1.1" fill="#e4606c"/>
<circle cx="316.06" cy="82.06" r="1.1" fill="#e4606c"/>
<circle cx="320.40" cy="77.99" r="1.1" fill="#e4606c"/>
<circle cx="330.83" cy="78.98" r="1.1" fill="#e4606c"/>
<circle cx="321.63" cy="81.68" r="1.1" fill="#e4606c"/>
<circle cx="330.96" cy="79.26" r="1.1" fill="#e4606c"/>
<circle cx="331.18" cy="82.44" r="1.1" fill="#e4606c"/>
<rect x="163.20" y="28.30" width="43.30" height="22.10" fill="#fff" stroke="#333" stroke-width="0.9" />
<line x1="164.00" y1="50.60" x2="196.50" y2="77.50" stroke="#111" stroke-width="1.0" stroke-dasharray="1,0.8"/>
<line x1="205.50" y1="50.60" x2="200.50" y2="77.50" stroke="#111" stroke-width="1.0" stroke-dasharray="1,0.8"/>
<path d="M168.9,31.2 Q166.6,39.2 168.9,47.2 M200.9,31.2 Q203.2,39.2 200.9,47.2" stroke="#555" stroke-width="0.8" fill="none"/>
<path d="M164.6,38 L172.1,35 L175.2,36.1 L178.2,35 L180.9,36.1 L183.5,35.4 M172.1,32 L172.1,39.2" stroke="#a8864a" stroke-width="0.8" fill="none"/>
<path d="M182.3,36 L182.3,41.8 M183.4,36 L183.4,41.8" stroke="#a8864a" stroke-width="0.8" fill="none"/>
<path d="M184.5,35.6 C187,34.2 188.5,33 190.4,33.5 S193.5,36.7 195.3,36.5 S198.5,35 200,35.2" stroke="#3aabe9" stroke-width="0.85" fill="none"/>
<text x="170.40" y="43.40" font-size="5.4" font-weight="normal" text-anchor="start" fill="#a8864a" stroke="#a8864a" stroke-width="0" >CN</text>
<text x="182.80" y="47.20" font-size="5.4" font-weight="normal" text-anchor="middle" fill="#a8864a" stroke="#a8864a" stroke-width="0" >O</text>
<text x="202.60" y="48.00" font-size="5.4" font-weight="normal" text-anchor="start" fill="#222" stroke="#222" stroke-width="0" >n</text>
<text x="222.60" y="29.80" font-size="7.8" font-weight="bold" text-anchor="start" fill="#e2506b" stroke="#e2506b" stroke-width="0.1" >NR:</text>
<path d="M274.0,26.8 271.5,31.1 266.5,31.1 264.0,26.8 266.5,22.5 271.5,22.5ZM281.5,31.1 279.0,35.4 274.0,35.4 271.5,31.1 274.0,26.8 279.0,26.8ZM289.0,35.4 286.5,39.7 281.5,39.7 279.0,35.4 281.5,31.1 286.5,31.1ZM296.5,31.1 294.0,35.4 289.0,35.4 286.5,31.1 289.0,26.8 294.0,26.8ZM251.5,22.6 L254.6,22.6 L257.3,26.8 L254.6,31.2 L251.5,31.2 M257.3,26.8 L264,26.8M286.5,39.7 L288.8,43.2 M285.6,40.2 L287.9,43.7" stroke="#e2506b" stroke-width="0.75" fill="none" stroke-linejoin="round"/>
<circle cx="279" cy="26.8" r="1.3" fill="#e6e9ed"/>
<text x="279.00" y="28.10" font-size="3.6" font-weight="normal" text-anchor="middle" fill="#e2506b" stroke="#e2506b" stroke-width="0" >N</text>
<circle cx="274" cy="35.4" r="1.3" fill="#e6e9ed"/>
<text x="274.00" y="36.70" font-size="3.6" font-weight="normal" text-anchor="middle" fill="#e2506b" stroke="#e2506b" stroke-width="0" >O</text>
<circle cx="257.3" cy="26.8" r="1.3" fill="#e6e9ed"/>
<text x="257.30" y="28.10" font-size="3.6" font-weight="normal" text-anchor="middle" fill="#e2506b" stroke="#e2506b" stroke-width="0" >N</text>
<text x="289.60" y="46.80" font-size="3.8" font-weight="normal" text-anchor="middle" fill="#e2506b" stroke="#e2506b" stroke-width="0" >O</text>
<text x="242.80" y="24.00" font-size="3.9" font-weight="normal" text-anchor="start" fill="#e2506b" stroke="#e2506b" stroke-width="0" >HO</text>
<text x="242.80" y="32.80" font-size="3.9" font-weight="normal" text-anchor="start" fill="#e2506b" stroke="#e2506b" stroke-width="0" >HO</text>
<circle cx="249.6" cy="50.5" r="3.7" fill="url(#rball)"/>
<circle cx="260" cy="44" r="3.7" fill="url(#rball)"/>
<circle cx="261.7" cy="56.3" r="3.7" fill="url(#rball)"/>
<text x="184.5" y="144.6" font-size="9.2" font-weight="bold"><tspan fill="#3aabe9">PVA</tspan><tspan fill="#000">-fCB</tspan></text>
<text x="297.6" y="144.6" font-size="9.2" font-weight="bold"><tspan fill="#e2506b">NR</tspan><tspan fill="#000">/</tspan><tspan fill="#3aabe9">PVA</tspan><tspan fill="#000">-fCB</tspan></text>
<rect x="400.8" y="15.8" width="130.2" height="130.2" fill="#282828"/>
<g clip-path="url(#csem)"><g filter="url(#fsem)" fill="url(#pg)"><circle cx="482.6" cy="113.8" r="3.3" opacity="0.36"/><circle cx="523.4" cy="16.8" r="3.3" opacity="0.32"/><circle cx="520.5" cy="28.2" r="2.0" opacity="0.25"/><circle cx="476.0" cy="14.6" r="2.0" opacity="0.42"/><circle cx="416.7" cy="96.9" r="1.5" opacity="0.38"/><circle cx="426.3" cy="42.1" r="3.2" opacity="0.21"/><circle cx="528.8" cy="86.2" r="1.9" opacity="0.43"/><circle cx="491.9" cy="144.4" r="2.1" opacity="0.23"/><circle cx="420.4" cy="32.6" r="2.1" opacity="0.34"/><circle cx="398.3" cy="105.1" r="2.1" opacity="0.38"/><circle cx="463.3" cy="55.8" r="2.8" opacity="0.09"/><circle cx="530.6" cy="15.9" r="3.1" opacity="0.10"/><circle cx="505.1" cy="62.7" r="1.5" opacity="0.10"/><circle cx="422.4" cy="142.9" r="2.9" opacity="0.41"/><circle cx="526.1" cy="59.7" r="2.5" opacity="0.36"/><circle cx="410.2" cy="59.2" r="3.2" opacity="0.22"/><circle cx="523.7" cy="87.0" r="2.1" opacity="0.15"/><circle cx="408.5" cy="33.1" r="3.4" opacity="0.16"/><circle cx="404.4" cy="147.2" r="2.3" opacity="0.18"/><circle cx="478.7" cy="125.3" r="2.3" opacity="0.11"/><circle cx="522.6" cy="17.3" r="3.1" opacity="0.13"/><circle cx="497.5" cy="142.2" r="3.0" opacity="0.13"/><circle cx="457.0" cy="33.1" r="2.1" opacity="0.25"/><circle cx="463.0" cy="52.4" r="1.8" opacity="0.20"/><circle cx="532.4" cy="143.5" r="2.4" opacity="0.21"/><circle cx="409.9" cy="49.9" r="3.1" opacity="0.24"/><circle cx="504.9" cy="118.3" r="2.8" opacity="0.40"/><circle cx="447.3" cy="108.7" r="2.4" opacity="0.28"/><circle cx="486.3" cy="91.9" r="2.5" opacity="0.18"/><circle cx="489.3" cy="75.9" r="2.7" opacity="0.36"/><circle cx="528.1" cy="83.4" r="1.8" opacity="0.39"/><circle cx="525.5" cy="77.8" r="2.9" opacity="0.35"/><circle cx="488.4" cy="70.1" r="3.0" opacity="0.29"/><circle cx="495.9" cy="16.6" r="2.3" opacity="0.31"/><circle cx="427.6" cy="106.2" r="1.6" opacity="0.22"/><circle cx="428.6" cy="20.2" r="2.1" opacity="0.16"/><circle cx="424.1" cy="17.7" r="2.2" opacity="0.32"/><circle cx="397.9" cy="68.0" r="2.3" opacity="0.13"/><circle cx="511.0" cy="63.7" r="2.7" opacity="0.12"/><circle cx="472.1" cy="59.0" r="3.3" opacity="0.30"/><circle cx="454.9" cy="123.5" r="2.2" opacity="0.14"/><circle cx="529.6" cy="95.7" r="3.2" opacity="0.09"/><circle cx="412.5" cy="89.9" r="1.8" opacity="0.31"/><circle cx="519.2" cy="64.0" r="1.9" opacity="0.19"/><circle cx="522.3" cy="93.9" r="3.4" opacity="0.27"/><circle cx="464.8" cy="51.8" r="1.7" opacity="0.27"/><circle cx="458.2" cy="52.7" r="3.1" opacity="0.09"/><circle cx="504.3" cy="46.3" r="1.8" opacity="0.36"/><circle cx="485.6" cy="95.0" r="1.7" opacity="0.36"/><circle cx="438.8" cy="85.5" r="2.1" opacity="0.21"/><circle cx="478.3" cy="17.8" r="2.4" opacity="0.41"/><circle cx="518.7" cy="87.1" r="3.0" opacity="0.24"/><circle cx="476.2" cy="109.3" r="2.4" opacity="0.41"/><circle cx="450.3" cy="66.2" r="1.9" opacity="0.19"/><circle cx="492.4" cy="71.8" r="3.0" opacity="0.39"/><circle cx="417.2" cy="78.0" r="2.4" opacity="0.19"/><circle cx="418.7" cy="92.6" r="1.6" opacity="0.16"/><circle cx="509.4" cy="120.6" r="1.5" opacity="0.39"/><circle cx="531.1" cy="148.8" r="1.6" opacity="0.40"/><circle cx="494.8" cy="31.1" r="3.2" opacity="0.11"/><circle cx="481.0" cy="69.2" r="2.7" opacity="0.09"/><circle cx="412.5" cy="64.4" r="1.6" opacity="0.30"/><circle cx="498.9" cy="132.4" r="2.3" opacity="0.22"/><circle cx="448.8" cy="20.4" r="1.8" opacity="0.32"/><circle cx="466.7" cy="136.8" r="2.7" opacity="0.18"/><circle cx="468.2" cy="31.0" r="2.2" opacity="0.34"/><circle cx="422.2" cy="110.0" r="1.7" opacity="0.27"/><circle cx="410.2" cy="29.8" r="2.0" opacity="0.44"/><circle cx="401.8" cy="111.5" r="1.8" opacity="0.39"/><circle cx="490.6" cy="43.2" r="3.3" opacity="0.26"/><circle cx="446.1" cy="44.8" r="2.7" opacity="0.22"/><circle cx="450.3" cy="31.4" r="2.7" opacity="0.38"/><circle cx="456.8" cy="128.8" r="2.6" opacity="0.29"/><circle cx="498.6" cy="66.7" r="1.6" opacity="0.15"/><circle cx="403.2" cy="133.9" r="2.9" opacity="0.09"/><circle cx="461.8" cy="134.0" r="2.3" opacity="0.26"/><circle cx="411.4" cy="33.9" r="2.2" opacity="0.25"/><circle cx="517.7" cy="33.5" r="2.0" opacity="0.12"/><circle cx="436.9" cy="44.8" r="1.6" opacity="0.45"/><circle cx="448.1" cy="140.5" r="2.8" opacity="0.22"/><circle cx="526.6" cy="28.9" r="2.1" opacity="0.31"/><circle cx="497.1" cy="35.0" r="1.5" opacity="0.13"/><circle cx="447.4" cy="55.3" r="2.0" opacity="0.35"/><circle cx="495.6" cy="35.0" r="2.8" opacity="0.32"/><circle cx="398.7" cy="21.1" r="2.3" opacity="0.11"/><circle cx="472.5" cy="147.6" r="2.2" opacity="0.12"/><circle cx="407.5" cy="135.2" r="3.3" opacity="0.10"/><circle cx="431.0" cy="19.7" r="1.6" opacity="0.19"/><circle cx="453.3" cy="54.5" r="1.6" opacity="0.42"/><circle cx="422.2" cy="82.1" r="2.5" opacity="0.11"/><circle cx="440.6" cy="27.5" r="3.3" opacity="0.32"/><circle cx="514.5" cy="42.0" r="2.5" opacity="0.22"/><circle cx="475.6" cy="64.1" r="2.9" opacity="0.34"/><circle cx="428.3" cy="28.6" r="1.7" opacity="0.40"/><circle cx="509.4" cy="55.4" r="1.7" opacity="0.16"/><circle cx="409.3" cy="71.2" r="2.0" opacity="0.10"/><circle cx="493.2" cy="19.3" r="2.0" opacity="0.21"/><circle cx="411.2" cy="70.1" r="2.9" opacity="0.27"/><circle cx="519.8" cy="101.9" r="2.6" opacity="0.25"/><circle cx="497.0" cy="108.3" r="3.0" opacity="0.21"/><circle cx="415.5" cy="21.8" r="2.0" opacity="0.35"/><circle cx="436.7" cy="21.5" r="2.6" opacity="0.10"/><circle cx="404.7" cy="30.5" r="3.1" opacity="0.46"/><circle cx="481.2" cy="44.3" r="2.2" opacity="0.17"/><circle cx="399.5" cy="92.4" r="2.9" opacity="0.12"/><circle cx="470.0" cy="36.1" r="2.3" opacity="0.40"/><circle cx="506.0" cy="28.9" r="3.2" opacity="0.20"/><circle cx="456.9" cy="72.9" r="3.3" opacity="0.25"/><circle cx="529.9" cy="94.0" r="3.0" opacity="0.24"/><circle cx="404.9" cy="146.0" r="2.6" opacity="0.26"/><circle cx="517.9" cy="66.3" r="2.0" opacity="0.16"/><circle cx="430.7" cy="60.7" r="3.4" opacity="0.41"/><circle cx="513.5" cy="97.0" r="1.8" opacity="0.39"/><circle cx="464.6" cy="17.9" r="1.7" opacity="0.35"/><circle cx="482.7" cy="121.8" r="1.5" opacity="0.28"/><circle cx="477.7" cy="38.0" r="2.1" opacity="0.09"/><circle cx="440.3" cy="64.9" r="2.8" opacity="0.23"/><circle cx="531.6" cy="123.9" r="2.8" opacity="0.34"/><circle cx="470.9" cy="121.6" r="2.6" opacity="0.34"/><circle cx="468.9" cy="51.5" r="1.7" opacity="0.18"/><circle cx="476.8" cy="116.3" r="2.1" opacity="0.43"/><circle cx="435.2" cy="110.3" r="2.9" opacity="0.28"/><circle cx="528.1" cy="135.0" r="3.1" opacity="0.37"/><circle cx="481.0" cy="41.2" r="3.2" opacity="0.15"/><circle cx="530.5" cy="86.9" r="1.5" opacity="0.23"/><circle cx="521.8" cy="96.4" r="1.7" opacity="0.34"/><circle cx="473.2" cy="110.2" r="3.2" opacity="0.16"/><circle cx="439.4" cy="49.3" r="3.2" opacity="0.16"/><circle cx="484.0" cy="117.2" r="1.6" opacity="0.30"/><circle cx="510.9" cy="132.5" r="2.3" opacity="0.26"/><circle cx="469.8" cy="136.0" r="2.0" opacity="0.31"/><circle cx="529.4" cy="38.3" r="1.7" opacity="0.27"/><circle cx="480.0" cy="37.8" r="2.6" opacity="0.28"/><circle cx="491.8" cy="112.1" r="2.4" opacity="0.40"/><circle cx="528.2" cy="56.2" r="2.7" opacity="0.41"/><circle cx="462.7" cy="26.5" r="1.8" opacity="0.12"/><circle cx="418.5" cy="96.7" r="2.9" opacity="0.33"/><circle cx="509.0" cy="122.3" r="3.3" opacity="0.48"/><circle cx="482.9" cy="144.2" r="1.7" opacity="0.11"/><circle cx="425.9" cy="63.8" r="2.8" opacity="0.37"/><circle cx="409.2" cy="67.7" r="2.2" opacity="0.13"/><circle cx="438.1" cy="28.7" r="2.2" opacity="0.37"/><circle cx="522.9" cy="64.8" r="2.4" opacity="0.33"/><circle cx="505.3" cy="91.2" r="2.1" opacity="0.39"/><circle cx="468.5" cy="19.7" r="2.0" opacity="0.33"/><circle cx="407.8" cy="49.7" r="2.4" opacity="0.47"/><circle cx="410.3" cy="61.3" r="1.5" opacity="0.37"/><circle cx="447.0" cy="15.0" r="2.4" opacity="0.23"/><circle cx="468.2" cy="20.0" r="3.4" opacity="0.25"/><circle cx="462.1" cy="24.4" r="3.3" opacity="0.33"/><circle cx="467.0" cy="20.0" r="3.0" opacity="0.24"/><circle cx="478.6" cy="135.7" r="2.7" opacity="0.11"/><circle cx="401.0" cy="117.6" r="3.2" opacity="0.34"/><circle cx="500.8" cy="134.3" r="3.0" opacity="0.26"/><circle cx="530.2" cy="148.2" r="2.3" opacity="0.19"/><circle cx="461.8" cy="51.8" r="1.7" opacity="0.13"/><circle cx="460.1" cy="22.9" r="3.2" opacity="0.41"/><circle cx="424.6" cy="15.3" r="3.3" opacity="0.32"/><circle cx="416.4" cy="45.0" r="3.3" opacity="0.11"/><circle cx="423.0" cy="71.2" r="2.9" opacity="0.22"/><circle cx="503.4" cy="33.5" r="3.4" opacity="0.25"/><circle cx="410.1" cy="27.9" r="2.2" opacity="0.24"/><circle cx="430.6" cy="90.3" r="2.5" opacity="0.28"/><circle cx="416.0" cy="78.3" r="1.5" opacity="0.34"/><circle cx="454.8" cy="81.5" r="3.0" opacity="0.09"/><circle cx="466.0" cy="18.0" r="2.2" opacity="0.10"/><circle cx="438.4" cy="74.1" r="3.3" opacity="0.21"/><circle cx="527.1" cy="147.4" r="1.8" opacity="0.43"/><circle cx="408.3" cy="73.9" r="2.5" opacity="0.21"/><circle cx="523.7" cy="53.6" r="3.1" opacity="0.13"/><circle cx="445.6" cy="80.1" r="1.9" opacity="0.20"/><circle cx="405.9" cy="24.8" r="1.8" opacity="0.46"/><circle cx="433.7" cy="50.4" r="2.9" opacity="0.20"/><circle cx="510.7" cy="98.0" r="2.7" opacity="0.17"/><circle cx="433.7" cy="132.2" r="3.2" opacity="0.14"/><circle cx="416.5" cy="19.9" r="2.6" opacity="0.10"/><circle cx="403.7" cy="125.0" r="3.2" opacity="0.09"/><circle cx="478.0" cy="28.8" r="2.7" opacity="0.29"/><circle cx="428.0" cy="142.1" r="1.6" opacity="0.30"/><circle cx="410.4" cy="21.9" r="2.7" opacity="0.43"/><circle cx="496.0" cy="22.2" r="3.1" opacity="0.12"/><circle cx="500.6" cy="48.0" r="1.5" opacity="0.30"/><circle cx="468.0" cy="135.6" r="1.8" opacity="0.17"/><circle cx="433.7" cy="141.8" r="1.7" opacity="0.18"/><circle cx="408.6" cy="70.7" r="2.7" opacity="0.14"/><circle cx="416.7" cy="79.7" r="2.3" opacity="0.28"/><circle cx="522.0" cy="32.6" r="2.4" opacity="0.25"/><circle cx="520.4" cy="88.4" r="2.3" opacity="0.37"/><circle cx="511.7" cy="52.8" r="2.0" opacity="0.20"/><circle cx="519.0" cy="48.8" r="2.7" opacity="0.39"/><circle cx="413.7" cy="117.7" r="1.7" opacity="0.22"/><circle cx="512.8" cy="92.1" r="3.3" opacity="0.23"/><circle cx="484.5" cy="111.4" r="2.3" opacity="0.21"/><circle cx="410.9" cy="21.6" r="2.3" opacity="0.42"/><circle cx="406.3" cy="53.9" r="3.3" opacity="0.39"/><circle cx="519.9" cy="81.8" r="2.3" opacity="0.17"/><circle cx="401.5" cy="89.7" r="1.7" opacity="0.27"/><circle cx="524.9" cy="141.6" r="1.7" opacity="0.38"/><circle cx="413.4" cy="86.0" r="3.4" opacity="0.27"/><circle cx="457.4" cy="49.9" r="3.3" opacity="0.23"/><circle cx="442.2" cy="123.2" r="1.8" opacity="0.11"/><circle cx="525.7" cy="76.3" r="3.2" opacity="0.30"/><circle cx="432.7" cy="76.9" r="2.6" opacity="0.13"/><circle cx="411.8" cy="148.7" r="1.8" opacity="0.12"/><circle cx="420.0" cy="108.0" r="2.6" opacity="0.15"/><circle cx="446.3" cy="19.9" r="1.7" opacity="0.37"/><circle cx="464.4" cy="131.8" r="2.0" opacity="0.21"/><circle cx="517.2" cy="30.9" r="2.3" opacity="0.37"/><circle cx="415.3" cy="102.0" r="2.9" opacity="0.08"/><circle cx="526.3" cy="55.4" r="2.8" opacity="0.23"/><circle cx="511.9" cy="104.8" r="2.9" opacity="0.27"/><circle cx="494.7" cy="96.5" r="1.8" opacity="0.25"/><circle cx="398.0" cy="120.5" r="3.1" opacity="0.10"/><circle cx="470.7" cy="78.0" r="1.9" opacity="0.40"/><circle cx="486.5" cy="65.2" r="1.9" opacity="0.17"/><circle cx="399.2" cy="102.2" r="2.9" opacity="0.27"/><circle cx="457.0" cy="54.5" r="2.2" opacity="0.28"/><circle cx="501.0" cy="73.3" r="1.6" opacity="0.18"/><circle cx="512.3" cy="32.9" r="1.5" opacity="0.28"/><circle cx="412.3" cy="75.2" r="3.0" opacity="0.24"/><circle cx="468.9" cy="16.2" r="3.0" opacity="0.31"/><circle cx="511.5" cy="96.4" r="3.1" opacity="0.31"/><circle cx="425.2" cy="21.8" r="1.7" opacity="0.24"/><circle cx="409.9" cy="42.8" r="2.3" opacity="0.22"/><circle cx="497.1" cy="65.7" r="3.3" opacity="0.38"/><circle cx="491.7" cy="42.4" r="2.4" opacity="0.19"/><circle cx="401.4" cy="74.9" r="2.8" opacity="0.38"/><circle cx="490.8" cy="116.7" r="3.2" opacity="0.40"/><circle cx="518.0" cy="110.0" r="1.9" opacity="0.22"/><circle cx="447.6" cy="25.7" r="2.2" opacity="0.14"/><circle cx="437.0" cy="13.7" r="2.3" opacity="0.13"/><circle cx="408.7" cy="33.3" r="1.6" opacity="0.33"/><circle cx="500.9" cy="77.9" r="2.4" opacity="0.41"/><circle cx="480.6" cy="85.9" r="2.3" opacity="0.24"/><circle cx="509.9" cy="44.1" r="3.1" opacity="0.09"/><circle cx="470.9" cy="42.7" r="2.6" opacity="0.11"/><circle cx="497.3" cy="68.3" r="3.1" opacity="0.35"/><circle cx="440.0" cy="105.1" r="2.5" opacity="0.09"/><circle cx="485.1" cy="137.6" r="1.6" opacity="0.28"/><circle cx="461.7" cy="73.1" r="2.0" opacity="0.22"/><circle cx="407.5" cy="104.7" r="2.1" opacity="0.12"/><circle cx="439.0" cy="139.6" r="1.7" opacity="0.17"/><circle cx="526.5" cy="24.8" r="1.9" opacity="0.32"/><circle cx="460.7" cy="26.2" r="2.1" opacity="0.33"/><circle cx="459.5" cy="131.5" r="1.9" opacity="0.19"/><circle cx="433.8" cy="124.8" r="2.2" opacity="0.25"/><circle cx="513.0" cy="90.4" r="2.7" opacity="0.31"/><circle cx="453.0" cy="70.9" r="2.3" opacity="0.37"/><circle cx="439.5" cy="62.5" r="2.6" opacity="0.15"/><circle cx="458.5" cy="112.8" r="1.7" opacity="0.33"/><circle cx="521.1" cy="22.0" r="2.7" opacity="0.18"/><circle cx="487.2" cy="17.5" r="1.8" opacity="0.20"/><circle cx="492.3" cy="82.3" r="3.1" opacity="0.31"/><circle cx="513.2" cy="37.0" r="2.1" opacity="0.24"/><circle cx="413.0" cy="133.4" r="3.0" opacity="0.39"/><circle cx="525.9" cy="65.9" r="3.4" opacity="0.14"/><circle cx="499.6" cy="111.8" r="2.0" opacity="0.15"/><circle cx="453.9" cy="139.7" r="2.0" opacity="0.29"/><circle cx="436.8" cy="17.6" r="2.8" opacity="0.18"/><circle cx="465.8" cy="91.9" r="3.2" opacity="0.31"/><circle cx="439.5" cy="58.9" r="1.8" opacity="0.43"/><circle cx="404.0" cy="80.8" r="2.5" opacity="0.10"/><circle cx="428.3" cy="147.5" r="1.9" opacity="0.24"/><circle cx="402.2" cy="29.4" r="3.4" opacity="0.21"/><circle cx="431.5" cy="21.7" r="3.4" opacity="0.37"/><circle cx="523.2" cy="126.6" r="2.0" opacity="0.16"/><circle cx="434.6" cy="21.7" r="2.9" opacity="0.28"/><circle cx="399.2" cy="54.3" r="3.1" opacity="0.36"/><circle cx="497.4" cy="137.0" r="2.2" opacity="0.32"/><circle cx="436.3" cy="17.8" r="2.4" opacity="0.14"/><circle cx="408.8" cy="46.5" r="3.3" opacity="0.29"/><circle cx="511.8" cy="114.2" r="2.1" opacity="0.25"/><circle cx="505.5" cy="53.0" r="1.5" opacity="0.26"/><circle cx="428.9" cy="13.6" r="1.9" opacity="0.17"/><circle cx="488.3" cy="92.4" r="2.9" opacity="0.16"/><circle cx="523.3" cy="29.0" r="2.8" opacity="0.32"/><circle cx="464.2" cy="131.5" r="2.8" opacity="0.12"/><circle cx="423.2" cy="76.2" r="1.7" opacity="0.34"/><circle cx="445.0" cy="77.5" r="3.1" opacity="0.17"/><circle cx="474.0" cy="95.3" r="2.1" opacity="0.18"/><circle cx="416.0" cy="73.6" r="1.9" opacity="0.12"/><circle cx="524.3" cy="15.6" r="2.1" opacity="0.10"/><circle cx="434.6" cy="34.8" r="3.2" opacity="0.13"/><circle cx="400.6" cy="44.0" r="3.2" opacity="0.26"/><circle cx="432.9" cy="78.2" r="1.8" opacity="0.30"/><circle cx="496.0" cy="77.8" r="3.0" opacity="0.42"/><circle cx="481.3" cy="18.8" r="2.8" opacity="0.20"/><circle cx="491.0" cy="62.9" r="2.7" opacity="0.29"/><circle cx="523.8" cy="109.2" r="2.8" opacity="0.18"/><circle cx="481.4" cy="97.3" r="2.9" opacity="0.17"/><circle cx="471.3" cy="120.3" r="1.8" opacity="0.27"/><circle cx="507.2" cy="125.6" r="2.3" opacity="0.46"/><circle cx="526.7" cy="115.8" r="3.0" opacity="0.29"/><circle cx="488.7" cy="99.6" r="2.9" opacity="0.43"/><circle cx="465.0" cy="80.0" r="2.6" opacity="0.09"/><circle cx="528.5" cy="56.2" r="1.6" opacity="0.15"/><circle cx="524.3" cy="50.6" r="3.0" opacity="0.17"/><circle cx="488.7" cy="90.2" r="2.4" opacity="0.21"/><circle cx="433.1" cy="62.4" r="1.7" opacity="0.15"/><circle cx="446.1" cy="46.8" r="2.7" opacity="0.26"/><circle cx="413.8" cy="84.1" r="1.8" opacity="0.35"/><circle cx="412.1" cy="72.6" r="2.5" opacity="0.37"/><circle cx="441.0" cy="141.7" r="3.2" opacity="0.19"/><circle cx="398.2" cy="48.1" r="2.9" opacity="0.37"/><circle cx="508.3" cy="13.7" r="2.4" opacity="0.41"/><circle cx="473.3" cy="54.3" r="2.3" opacity="0.22"/><circle cx="431.1" cy="70.4" r="2.0" opacity="0.44"/><circle cx="482.4" cy="84.1" r="2.8" opacity="0.27"/><circle cx="447.7" cy="32.9" r="1.7" opacity="0.24"/><circle cx="399.2" cy="104.7" r="1.9" opacity="0.20"/><circle cx="463.6" cy="22.1" r="3.2" opacity="0.30"/><circle cx="437.5" cy="109.9" r="3.2" opacity="0.35"/><circle cx="488.3" cy="19.7" r="3.1" opacity="0.29"/><circle cx="426.3" cy="44.7" r="2.5" opacity="0.17"/><circle cx="464.8" cy="119.6" r="3.3" opacity="0.39"/><circle cx="463.5" cy="133.5" r="3.4" opacity="0.21"/><circle cx="523.7" cy="126.8" r="2.9" opacity="0.12"/><circle cx="490.5" cy="18.1" r="2.2" opacity="0.15"/><circle cx="428.4" cy="83.1" r="2.0" opacity="0.21"/><circle cx="526.8" cy="94.1" r="3.3" opacity="0.10"/><circle cx="517.7" cy="25.8" r="2.9" opacity="0.32"/><circle cx="481.5" cy="77.6" r="2.3" opacity="0.15"/><circle cx="427.7" cy="28.1" r="3.3" opacity="0.46"/><circle cx="445.3" cy="69.0" r="3.0" opacity="0.26"/><circle cx="404.1" cy="75.3" r="2.7" opacity="0.20"/><circle cx="438.4" cy="54.0" r="2.5" opacity="0.27"/><circle cx="482.5" cy="93.1" r="2.9" opacity="0.16"/><circle cx="454.6" cy="34.2" r="2.8" opacity="0.21"/><circle cx="432.5" cy="16.3" r="2.8" opacity="0.22"/><circle cx="422.8" cy="91.9" r="2.0" opacity="0.37"/><circle cx="480.9" cy="109.5" r="3.1" opacity="0.19"/><circle cx="482.0" cy="113.2" r="2.0" opacity="0.21"/><circle cx="531.0" cy="102.4" r="2.6" opacity="0.33"/><circle cx="433.5" cy="23.1" r="2.6" opacity="0.32"/><circle cx="531.0" cy="97.4" r="3.4" opacity="0.27"/><circle cx="455.2" cy="77.0" r="2.9" opacity="0.26"/><circle cx="414.5" cy="142.9" r="2.9" opacity="0.28"/><circle cx="478.0" cy="91.3" r="1.7" opacity="0.34"/><circle cx="445.4" cy="30.3" r="2.9" opacity="0.37"/><circle cx="450.5" cy="30.7" r="1.9" opacity="0.33"/><circle cx="492.7" cy="50.0" r="2.6" opacity="0.31"/><circle cx="477.9" cy="146.9" r="2.9" opacity="0.25"/><circle cx="476.8" cy="54.0" r="2.5" opacity="0.25"/><circle cx="521.7" cy="95.1" r="2.7" opacity="0.32"/><circle cx="453.4" cy="49.1" r="2.2" opacity="0.10"/><circle cx="421.0" cy="61.7" r="2.7" opacity="0.28"/><circle cx="509.0" cy="57.3" r="2.9" opacity="0.31"/><circle cx="455.8" cy="133.9" r="2.5" opacity="0.39"/><circle cx="470.4" cy="140.2" r="2.8" opacity="0.32"/><circle cx="532.7" cy="59.0" r="1.7" opacity="0.33"/><circle cx="407.4" cy="128.5" r="1.9" opacity="0.37"/><circle cx="465.7" cy="115.6" r="2.0" opacity="0.21"/><circle cx="518.0" cy="105.5" r="2.9" opacity="0.42"/><circle cx="478.6" cy="42.8" r="3.3" opacity="0.26"/><circle cx="418.1" cy="40.4" r="1.6" opacity="0.10"/><circle cx="448.7" cy="47.9" r="1.6" opacity="0.29"/><circle cx="489.8" cy="56.0" r="2.5" opacity="0.32"/><circle cx="476.3" cy="99.7" r="3.1" opacity="0.12"/><circle cx="398.9" cy="134.6" r="3.1" opacity="0.34"/><circle cx="449.0" cy="28.3" r="2.8" opacity="0.26"/><circle cx="434.7" cy="62.4" r="2.4" opacity="0.17"/><circle cx="532.1" cy="146.0" r="1.9" opacity="0.36"/><circle cx="450.5" cy="77.4" r="2.0" opacity="0.26"/><circle cx="425.6" cy="42.9" r="2.3" opacity="0.45"/><circle cx="417.3" cy="137.6" r="2.2" opacity="0.12"/><circle cx="440.9" cy="146.4" r="3.1" opacity="0.39"/><circle cx="492.5" cy="37.9" r="1.8" opacity="0.14"/><circle cx="443.4" cy="35.4" r="2.5" opacity="0.20"/><circle cx="432.5" cy="32.2" r="2.3" opacity="0.13"/><circle cx="462.1" cy="133.3" r="2.5" opacity="0.18"/><circle cx="494.2" cy="71.2" r="2.0" opacity="0.23"/><circle cx="448.2" cy="92.2" r="2.4" opacity="0.24"/><circle cx="527.6" cy="106.6" r="2.6" opacity="0.46"/><circle cx="505.4" cy="75.5" r="3.3" opacity="0.28"/><circle cx="533.5" cy="142.3" r="1.6" opacity="0.21"/><circle cx="510.4" cy="88.8" r="1.7" opacity="0.18"/><circle cx="415.1" cy="32.4" r="1.9" opacity="0.16"/><circle cx="486.4" cy="132.4" r="2.9" opacity="0.20"/><circle cx="455.4" cy="64.5" r="3.2" opacity="0.23"/><circle cx="506.6" cy="98.7" r="1.9" opacity="0.28"/><circle cx="505.3" cy="44.5" r="2.2" opacity="0.20"/><circle cx="455.0" cy="138.8" r="2.0" opacity="0.20"/><circle cx="466.9" cy="34.7" r="1.6" opacity="0.31"/><circle cx="515.9" cy="135.2" r="2.2" opacity="0.31"/><circle cx="473.5" cy="36.8" r="2.4" opacity="0.15"/><circle cx="458.1" cy="126.7" r="2.1" opacity="0.17"/><circle cx="483.6" cy="88.1" r="2.4" opacity="0.23"/><circle cx="483.2" cy="132.4" r="2.5" opacity="0.30"/><circle cx="488.7" cy="46.0" r="3.3" opacity="0.12"/><circle cx="490.6" cy="48.2" r="2.4" opacity="0.14"/><circle cx="421.8" cy="143.2" r="1.8" opacity="0.34"/><circle cx="448.4" cy="39.4" r="3.4" opacity="0.17"/><circle cx="479.1" cy="134.7" r="1.8" opacity="0.25"/><circle cx="493.9" cy="33.6" r="3.4" opacity="0.33"/><circle cx="486.4" cy="21.4" r="3.4" opacity="0.35"/><circle cx="495.2" cy="72.7" r="3.3" opacity="0.26"/><circle cx="408.0" cy="32.6" r="2.8" opacity="0.46"/><circle cx="417.9" cy="27.2" r="2.3" opacity="0.28"/><circle cx="496.7" cy="71.3" r="2.3" opacity="0.25"/><circle cx="525.9" cy="22.4" r="2.2" opacity="0.25"/><circle cx="472.5" cy="129.9" r="3.2" opacity="0.18"/><circle cx="506.3" cy="66.2" r="3.0" opacity="0.28"/><circle cx="428.5" cy="134.5" r="2.8" opacity="0.40"/><circle cx="481.6" cy="63.0" r="2.2" opacity="0.31"/><circle cx="450.6" cy="125.0" r="1.8" opacity="0.20"/><circle cx="513.7" cy="46.1" r="2.4" opacity="0.12"/><circle cx="426.5" cy="66.9" r="1.8" opacity="0.31"/><circle cx="443.9" cy="131.3" r="2.8" opacity="0.34"/><circle cx="493.5" cy="115.3" r="1.8" opacity="0.23"/><circle cx="528.4" cy="17.8" r="2.1" opacity="0.24"/><circle cx="516.4" cy="36.2" r="1.5" opacity="0.17"/><circle cx="496.8" cy="74.5" r="2.5" opacity="0.21"/><circle cx="497.6" cy="26.1" r="3.0" opacity="0.23"/><circle cx="499.8" cy="115.2" r="3.1" opacity="0.17"/><circle cx="439.0" cy="65.3" r="2.1" opacity="0.25"/><circle cx="518.6" cy="148.6" r="1.9" opacity="0.25"/><circle cx="421.1" cy="138.7" r="3.1" opacity="0.25"/><circle cx="465.7" cy="143.0" r="1.9" opacity="0.40"/><circle cx="502.9" cy="95.9" r="2.5" opacity="0.16"/><circle cx="442.1" cy="138.7" r="1.6" opacity="0.25"/><circle cx="533.1" cy="98.1" r="2.4" opacity="0.32"/><circle cx="518.6" cy="119.3" r="2.9" opacity="0.17"/><circle cx="464.6" cy="49.1" r="3.3" opacity="0.15"/><circle cx="508.8" cy="126.4" r="1.5" opacity="0.17"/><circle cx="485.7" cy="109.4" r="2.6" opacity="0.15"/><circle cx="487.4" cy="119.3" r="2.6" opacity="0.31"/><circle cx="398.1" cy="49.1" r="1.6" opacity="0.12"/><circle cx="528.2" cy="105.9" r="2.8" opacity="0.41"/><circle cx="484.3" cy="71.0" r="3.3" opacity="0.39"/><circle cx="444.6" cy="107.4" r="2.9" opacity="0.22"/><circle cx="528.0" cy="116.5" r="2.9" opacity="0.14"/><circle cx="472.2" cy="59.8" r="2.1" opacity="0.09"/><circle cx="457.1" cy="45.1" r="2.1" opacity="0.13"/><circle cx="400.8" cy="145.4" r="3.2" opacity="0.24"/><circle cx="414.2" cy="71.2" r="1.6" opacity="0.27"/><circle cx="398.8" cy="53.5" r="3.1" opacity="0.16"/><circle cx="453.2" cy="141.8" r="1.7" opacity="0.16"/><circle cx="515.7" cy="59.8" r="3.3" opacity="0.30"/><circle cx="424.7" cy="78.3" r="2.4" opacity="0.30"/><circle cx="530.7" cy="106.6" r="3.0" opacity="0.28"/><circle cx="424.1" cy="104.1" r="1.9" opacity="0.20"/><circle cx="463.8" cy="17.2" r="3.3" opacity="0.27"/><circle cx="447.9" cy="75.0" r="2.5" opacity="0.21"/><circle cx="455.5" cy="108.9" r="2.7" opacity="0.13"/><circle cx="463.9" cy="79.9" r="1.7" opacity="0.22"/><circle cx="502.0" cy="123.3" r="3.0" opacity="0.49"/><circle cx="424.5" cy="33.4" r="3.0" opacity="0.17"/><circle cx="440.9" cy="31.7" r="1.9" opacity="0.18"/><circle cx="478.8" cy="108.6" r="2.6" opacity="0.28"/><circle cx="473.3" cy="83.0" r="3.1" opacity="0.37"/><circle cx="442.9" cy="18.5" r="1.6" opacity="0.32"/><circle cx="463.2" cy="114.5" r="2.9" opacity="0.32"/><circle cx="443.1" cy="111.7" r="1.9" opacity="0.34"/><circle cx="462.2" cy="85.1" r="3.1" opacity="0.21"/><circle cx="498.9" cy="127.5" r="2.6" opacity="0.28"/><circle cx="402.5" cy="17.3" r="1.7" opacity="0.25"/><circle cx="444.4" cy="45.6" r="2.6" opacity="0.43"/><circle cx="424.3" cy="64.6" r="3.0" opacity="0.25"/><circle cx="423.1" cy="65.3" r="3.3" opacity="0.33"/><circle cx="512.8" cy="126.4" r="2.5" opacity="0.43"/><circle cx="496.3" cy="67.2" r="2.9" opacity="0.18"/><circle cx="433.9" cy="47.0" r="2.7" opacity="0.46"/><circle cx="443.2" cy="33.5" r="1.6" opacity="0.36"/><circle cx="454.0" cy="124.6" r="1.5" opacity="0.20"/><circle cx="433.7" cy="48.7" r="2.0" opacity="0.23"/><circle cx="412.5" cy="31.1" r="2.0" opacity="0.31"/><circle cx="475.5" cy="25.6" r="2.8" opacity="0.28"/><circle cx="436.0" cy="66.9" r="2.3" opacity="0.38"/><circle cx="450.5" cy="76.3" r="2.9" opacity="0.21"/><circle cx="450.3" cy="118.1" r="1.6" opacity="0.30"/><circle cx="498.3" cy="20.0" r="3.2" opacity="0.25"/><circle cx="453.3" cy="30.5" r="2.6" opacity="0.42"/><circle cx="488.0" cy="144.7" r="1.6" opacity="0.22"/><circle cx="447.7" cy="20.6" r="3.2" opacity="0.42"/><circle cx="415.9" cy="24.0" r="1.8" opacity="0.21"/><circle cx="428.6" cy="41.2" r="2.4" opacity="0.40"/><circle cx="407.5" cy="79.7" r="3.0" opacity="0.38"/><circle cx="517.0" cy="85.5" r="2.9" opacity="0.12"/><circle cx="436.6" cy="113.6" r="2.0" opacity="0.23"/><circle cx="456.4" cy="34.0" r="2.5" opacity="0.34"/><circle cx="444.1" cy="96.5" r="2.5" opacity="0.10"/><circle cx="504.8" cy="38.8" r="1.6" opacity="0.15"/><circle cx="471.5" cy="43.9" r="3.2" opacity="0.18"/><circle cx="427.2" cy="67.2" r="2.9" opacity="0.42"/><circle cx="472.1" cy="58.4" r="1.6" opacity="0.27"/><circle cx="512.1" cy="137.5" r="2.7" opacity="0.40"/><circle cx="437.5" cy="89.4" r="3.3" opacity="0.19"/><circle cx="421.8" cy="146.8" r="1.9" opacity="0.39"/><circle cx="483.1" cy="97.6" r="2.1" opacity="0.19"/><circle cx="475.5" cy="40.5" r="2.4" opacity="0.14"/><circle cx="414.8" cy="34.9" r="3.2" opacity="0.41"/><circle cx="513.3" cy="90.0" r="2.1" opacity="0.22"/><circle cx="520.9" cy="48.0" r="2.6" opacity="0.10"/><circle cx="474.9" cy="121.4" r="2.3" opacity="0.42"/><circle cx="403.0" cy="136.3" r="3.0" opacity="0.25"/><circle cx="477.8" cy="125.2" r="1.8" opacity="0.37"/><circle cx="517.1" cy="43.8" r="2.5" opacity="0.17"/><circle cx="417.9" cy="26.7" r="2.2" opacity="0.11"/><circle cx="418.9" cy="141.0" r="2.9" opacity="0.16"/><circle cx="399.6" cy="13.8" r="3.3" opacity="0.26"/><circle cx="431.8" cy="19.2" r="2.1" opacity="0.16"/><circle cx="457.3" cy="109.7" r="2.6" opacity="0.13"/><circle cx="524.2" cy="91.2" r="2.3" opacity="0.36"/><circle cx="476.6" cy="109.5" r="2.3" opacity="0.35"/><circle cx="422.5" cy="59.4" r="1.9" opacity="0.42"/><circle cx="440.3" cy="113.1" r="3.3" opacity="0.22"/><circle cx="499.1" cy="27.3" r="3.0" opacity="0.16"/><circle cx="410.5" cy="65.0" r="2.9" opacity="0.11"/><circle cx="442.0" cy="137.5" r="1.7" opacity="0.33"/><circle cx="509.5" cy="73.5" r="2.9" opacity="0.38"/><circle cx="505.2" cy="83.9" r="3.4" opacity="0.45"/><circle cx="507.4" cy="81.8" r="3.2" opacity="0.27"/><circle cx="415.8" cy="96.2" r="2.1" opacity="0.28"/><circle cx="441.7" cy="60.3" r="3.4" opacity="0.27"/><circle cx="506.2" cy="125.3" r="2.7" opacity="0.48"/><circle cx="400.6" cy="29.7" r="2.6" opacity="0.25"/><circle cx="505.8" cy="73.3" r="2.2" opacity="0.35"/><circle cx="485.2" cy="80.3" r="3.4" opacity="0.11"/><circle cx="491.5" cy="64.8" r="2.8" opacity="0.27"/><circle cx="504.8" cy="88.1" r="2.0" opacity="0.37"/><circle cx="412.4" cy="25.8" r="1.6" opacity="0.43"/><circle cx="424.1" cy="76.4" r="2.4" opacity="0.30"/><circle cx="418.2" cy="42.6" r="1.7" opacity="0.10"/><circle cx="528.4" cy="144.0" r="3.1" opacity="0.30"/><circle cx="426.1" cy="133.0" r="2.7" opacity="0.30"/><circle cx="493.0" cy="45.1" r="2.7" opacity="0.16"/><circle cx="480.3" cy="113.5" r="2.9" opacity="0.45"/><circle cx="452.7" cy="91.1" r="3.2" opacity="0.11"/><circle cx="411.4" cy="81.3" r="2.6" opacity="0.15"/><circle cx="524.3" cy="85.6" r="2.9" opacity="0.10"/><circle cx="523.2" cy="126.4" r="2.4" opacity="0.11"/><circle cx="505.8" cy="145.4" r="3.4" opacity="0.27"/><circle cx="516.0" cy="127.7" r="2.4" opacity="0.30"/><circle cx="402.5" cy="142.4" r="2.6" opacity="0.31"/><circle cx="421.5" cy="60.5" r="1.5" opacity="0.24"/><circle cx="526.9" cy="131.4" r="2.7" opacity="0.35"/><circle cx="505.2" cy="31.9" r="2.7" opacity="0.15"/><circle cx="522.5" cy="69.2" r="1.6" opacity="0.41"/><circle cx="530.3" cy="144.2" r="3.1" opacity="0.45"/><circle cx="412.4" cy="22.9" r="3.4" opacity="0.11"/><circle cx="511.9" cy="102.7" r="1.8" opacity="0.27"/><circle cx="519.0" cy="20.2" r="1.8" opacity="0.34"/><circle cx="485.3" cy="141.5" r="2.9" opacity="0.32"/><circle cx="472.3" cy="83.3" r="1.9" opacity="0.31"/><circle cx="511.1" cy="44.8" r="2.4" opacity="0.25"/><circle cx="409.6" cy="38.7" r="3.0" opacity="0.41"/><circle cx="471.0" cy="49.1" r="3.3" opacity="0.34"/><circle cx="414.3" cy="29.0" r="2.3" opacity="0.35"/><circle cx="418.7" cy="130.0" r="1.6" opacity="0.17"/><circle cx="467.9" cy="122.1" r="3.3" opacity="0.16"/><circle cx="492.6" cy="81.7" r="3.0" opacity="0.37"/><circle cx="407.5" cy="123.5" r="2.8" opacity="0.24"/><circle cx="438.3" cy="25.0" r="2.7" opacity="0.29"/><circle cx="439.1" cy="18.6" r="1.7" opacity="0.15"/><circle cx="402.9" cy="145.7" r="2.9" opacity="0.24"/><circle cx="426.6" cy="143.5" r="3.1" opacity="0.12"/><circle cx="532.2" cy="101.7" r="2.6" opacity="0.25"/><circle cx="417.1" cy="85.0" r="1.8" opacity="0.39"/><circle cx="500.3" cy="29.2" r="2.8" opacity="0.32"/><circle cx="533.8" cy="50.4" r="2.6" opacity="0.22"/><circle cx="430.5" cy="27.2" r="2.3" opacity="0.14"/><circle cx="425.6" cy="56.6" r="1.9" opacity="0.19"/><circle cx="530.7" cy="70.5" r="2.5" opacity="0.43"/><circle cx="510.3" cy="139.0" r="2.9" opacity="0.43"/><circle cx="430.0" cy="59.1" r="2.6" opacity="0.17"/><circle cx="415.1" cy="132.1" r="2.5" opacity="0.34"/><circle cx="464.0" cy="77.8" r="3.3" opacity="0.27"/><circle cx="488.8" cy="66.4" r="2.2" opacity="0.14"/><circle cx="486.3" cy="145.7" r="3.2" opacity="0.37"/><circle cx="475.5" cy="93.5" r="1.5" opacity="0.10"/><circle cx="519.1" cy="67.0" r="2.3" opacity="0.40"/><circle cx="498.2" cy="63.8" r="1.9" opacity="0.40"/><circle cx="419.6" cy="137.0" r="1.8" opacity="0.42"/><circle cx="424.9" cy="105.2" r="1.8" opacity="0.33"/><circle cx="519.1" cy="134.3" r="2.7" opacity="0.16"/><circle cx="533.7" cy="57.4" r="1.5" opacity="0.20"/><circle cx="469.0" cy="77.3" r="2.2" opacity="0.09"/><circle cx="485.8" cy="61.1" r="2.2" opacity="0.28"/><circle cx="499.1" cy="69.4" r="2.7" opacity="0.29"/><circle cx="463.7" cy="144.9" r="2.5" opacity="0.10"/><circle cx="415.9" cy="39.3" r="1.8" opacity="0.14"/><circle cx="523.0" cy="92.8" r="2.6" opacity="0.19"/><circle cx="515.8" cy="113.0" r="1.5" opacity="0.09"/><circle cx="402.6" cy="111.7" r="2.4" opacity="0.25"/><circle cx="527.8" cy="115.6" r="3.3" opacity="0.35"/><circle cx="429.3" cy="31.9" r="1.7" opacity="0.25"/><circle cx="480.6" cy="41.2" r="2.1" opacity="0.21"/><circle cx="517.6" cy="134.2" r="2.0" opacity="0.41"/><circle cx="429.5" cy="86.5" r="3.0" opacity="0.15"/><circle cx="504.3" cy="38.5" r="2.3" opacity="0.30"/><circle cx="484.3" cy="47.2" r="2.1" opacity="0.27"/><circle cx="437.0" cy="35.6" r="1.6" opacity="0.15"/><circle cx="441.3" cy="58.1" r="2.4" opacity="0.15"/><circle cx="510.8" cy="109.4" r="1.8" opacity="0.13"/><circle cx="462.2" cy="29.1" r="2.9" opacity="0.11"/><circle cx="482.8" cy="110.4" r="1.8" opacity="0.18"/><circle cx="457.5" cy="128.6" r="2.2" opacity="0.09"/><circle cx="471.5" cy="39.4" r="3.3" opacity="0.17"/><circle cx="406.1" cy="93.1" r="1.7" opacity="0.13"/><circle cx="443.2" cy="59.0" r="3.3" opacity="0.33"/><circle cx="457.7" cy="76.8" r="1.7" opacity="0.28"/><circle cx="494.8" cy="77.6" r="3.2" opacity="0.31"/><circle cx="491.6" cy="133.1" r="2.4" opacity="0.46"/><circle cx="420.5" cy="132.6" r="3.0" opacity="0.19"/><circle cx="436.8" cy="36.8" r="1.7" opacity="0.16"/><circle cx="509.5" cy="86.1" r="3.4" opacity="0.25"/><circle cx="421.9" cy="134.9" r="2.5" opacity="0.36"/><circle cx="414.8" cy="49.3" r="1.7" opacity="0.44"/><circle cx="499.6" cy="88.3" r="1.8" opacity="0.39"/><circle cx="460.1" cy="18.7" r="1.6" opacity="0.29"/><circle cx="427.4" cy="68.8" r="2.8" opacity="0.32"/><circle cx="445.7" cy="44.0" r="1.6" opacity="0.30"/><circle cx="496.8" cy="98.4" r="1.7" opacity="0.29"/><circle cx="430.2" cy="27.9" r="1.6" opacity="0.31"/><circle cx="470.5" cy="38.5" r="2.4" opacity="0.31"/><circle cx="505.5" cy="121.6" r="1.7" opacity="0.33"/><circle cx="488.7" cy="39.4" r="2.5" opacity="0.15"/><circle cx="409.0" cy="51.7" r="3.0" opacity="0.47"/><circle cx="513.0" cy="134.4" r="2.5" opacity="0.34"/><circle cx="444.9" cy="95.8" r="3.3" opacity="0.14"/><circle cx="527.6" cy="68.9" r="2.0" opacity="0.34"/><circle cx="482.2" cy="128.1" r="2.5" opacity="0.46"/><circle cx="401.1" cy="97.9" r="1.7" opacity="0.20"/><circle cx="528.9" cy="42.0" r="3.1" opacity="0.12"/><circle cx="400.8" cy="94.9" r="1.6" opacity="0.39"/><circle cx="502.3" cy="93.9" r="3.3" opacity="0.16"/><circle cx="533.9" cy="87.9" r="2.5" opacity="0.31"/><circle cx="526.0" cy="72.4" r="3.3" opacity="0.45"/><circle cx="426.4" cy="44.6" r="3.1" opacity="0.13"/><circle cx="511.7" cy="121.1" r="1.7" opacity="0.42"/><circle cx="409.1" cy="27.9" r="1.8" opacity="0.38"/><circle cx="532.1" cy="78.5" r="3.2" opacity="0.32"/><circle cx="531.9" cy="106.9" r="1.6" opacity="0.42"/><circle cx="434.6" cy="72.7" r="1.7" opacity="0.25"/><circle cx="495.1" cy="109.6" r="3.2" opacity="0.34"/><circle cx="431.8" cy="118.3" r="1.7" opacity="0.08"/><circle cx="526.8" cy="70.0" r="1.6" opacity="0.12"/><circle cx="513.7" cy="97.7" r="1.9" opacity="0.12"/><circle cx="502.1" cy="49.9" r="3.1" opacity="0.17"/><circle cx="420.8" cy="89.8" r="2.5" opacity="0.24"/><circle cx="471.5" cy="49.1" r="3.3" opacity="0.14"/><circle cx="454.8" cy="75.7" r="2.2" opacity="0.28"/><circle cx="524.9" cy="33.2" r="3.4" opacity="0.08"/><circle cx="492.2" cy="62.9" r="2.9" opacity="0.16"/><circle cx="459.8" cy="140.2" r="2.8" opacity="0.32"/><circle cx="502.3" cy="101.4" r="2.9" opacity="0.16"/><circle cx="518.0" cy="95.8" r="2.7" opacity="0.22"/><circle cx="430.5" cy="137.4" r="2.2" opacity="0.26"/><circle cx="465.4" cy="25.4" r="3.0" opacity="0.14"/><circle cx="463.4" cy="27.8" r="3.4" opacity="0.24"/><circle cx="461.5" cy="22.8" r="2.5" opacity="0.42"/><circle cx="525.6" cy="67.2" r="1.9" opacity="0.39"/><circle cx="416.6" cy="54.5" r="2.9" opacity="0.43"/><circle cx="411.3" cy="117.0" r="3.2" opacity="0.13"/><circle cx="516.5" cy="128.8" r="1.9" opacity="0.34"/><circle cx="408.1" cy="91.3" r="2.8" opacity="0.13"/><circle cx="491.6" cy="49.2" r="2.9" opacity="0.12"/><circle cx="519.2" cy="16.8" r="2.2" opacity="0.40"/><circle cx="465.8" cy="57.5" r="2.3" opacity="0.18"/><circle cx="400.7" cy="98.6" r="2.3" opacity="0.25"/><circle cx="517.5" cy="142.8" r="2.9" opacity="0.16"/><circle cx="447.1" cy="59.0" r="3.0" opacity="0.38"/><circle cx="418.7" cy="43.7" r="2.1" opacity="0.34"/><circle cx="456.0" cy="110.5" r="3.0" opacity="0.35"/><circle cx="492.4" cy="60.7" r="1.9" opacity="0.32"/><circle cx="506.6" cy="93.7" r="2.8" opacity="0.36"/><circle cx="520.8" cy="116.2" r="2.9" opacity="0.13"/><circle cx="425.1" cy="136.8" r="3.1" opacity="0.32"/><circle cx="416.9" cy="133.5" r="1.9" opacity="0.19"/><circle cx="490.4" cy="97.9" r="3.1" opacity="0.20"/><circle cx="514.4" cy="144.2" r="2.3" opacity="0.18"/><circle cx="466.0" cy="66.9" r="1.7" opacity="0.17"/><circle cx="410.3" cy="29.5" r="2.5" opacity="0.40"/><circle cx="448.8" cy="133.6" r="3.3" opacity="0.19"/><circle cx="441.9" cy="34.8" r="2.6" opacity="0.45"/><circle cx="465.4" cy="117.0" r="3.3" opacity="0.11"/><circle cx="423.6" cy="147.6" r="3.3" opacity="0.44"/><circle cx="406.6" cy="69.9" r="3.3" opacity="0.27"/><circle cx="521.4" cy="70.6" r="1.6" opacity="0.32"/><circle cx="426.5" cy="111.2" r="1.6" opacity="0.21"/><circle cx="429.2" cy="81.8" r="2.3" opacity="0.15"/><circle cx="463.4" cy="71.0" r="2.7" opacity="0.32"/><circle cx="430.4" cy="30.0" r="2.0" opacity="0.39"/><circle cx="473.4" cy="25.4" r="3.3" opacity="0.38"/><circle cx="504.7" cy="131.7" r="3.2" opacity="0.21"/><circle cx="526.3" cy="146.5" r="3.3" opacity="0.34"/><circle cx="409.7" cy="135.4" r="3.2" opacity="0.34"/><circle cx="517.2" cy="94.2" r="2.9" opacity="0.37"/><circle cx="484.3" cy="63.3" r="2.6" opacity="0.11"/><circle cx="434.7" cy="32.7" r="1.7" opacity="0.39"/><circle cx="478.3" cy="31.5" r="3.0" opacity="0.09"/><circle cx="522.7" cy="97.0" r="1.9" opacity="0.36"/><circle cx="493.1" cy="114.7" r="1.9" opacity="0.24"/><circle cx="420.6" cy="102.9" r="2.7" opacity="0.34"/><circle cx="483.6" cy="36.7" r="2.1" opacity="0.17"/><circle cx="491.0" cy="64.2" r="3.3" opacity="0.27"/><circle cx="521.8" cy="71.5" r="1.6" opacity="0.41"/><circle cx="401.4" cy="23.0" r="2.3" opacity="0.11"/><circle cx="444.2" cy="92.8" r="2.2" opacity="0.10"/><circle cx="466.6" cy="133.7" r="2.9" opacity="0.39"/><circle cx="399.7" cy="26.3" r="2.4" opacity="0.25"/><circle cx="515.4" cy="47.3" r="3.0" opacity="0.30"/><circle cx="407.0" cy="48.3" r="2.7" opacity="0.25"/><circle cx="520.0" cy="84.7" r="2.0" opacity="0.31"/><circle cx="449.4" cy="13.3" r="2.5" opacity="0.21"/><circle cx="440.9" cy="69.5" r="3.3" opacity="0.34"/><circle cx="526.4" cy="54.2" r="1.8" opacity="0.38"/><circle cx="505.0" cy="79.5" r="3.1" opacity="0.16"/><circle cx="533.5" cy="82.8" r="2.4" opacity="0.25"/><circle cx="486.9" cy="64.2" r="3.1" opacity="0.33"/><circle cx="431.9" cy="87.0" r="2.5" opacity="0.08"/><circle cx="466.8" cy="35.5" r="2.2" opacity="0.27"/><circle cx="496.8" cy="67.4" r="1.6" opacity="0.19"/><circle cx="407.7" cy="80.5" r="1.9" opacity="0.20"/><circle cx="399.2" cy="142.0" r="2.1" opacity="0.45"/><circle cx="497.2" cy="82.2" r="2.8" opacity="0.38"/><circle cx="505.3" cy="74.0" r="1.9" opacity="0.37"/><circle cx="531.4" cy="18.4" r="2.8" opacity="0.33"/><circle cx="416.9" cy="15.7" r="3.4" opacity="0.43"/><circle cx="406.4" cy="114.4" r="2.2" opacity="0.16"/><circle cx="494.5" cy="67.0" r="1.6" opacity="0.10"/><circle cx="455.3" cy="111.6" r="3.3" opacity="0.35"/><circle cx="519.6" cy="86.2" r="2.8" opacity="0.32"/><circle cx="421.5" cy="87.3" r="2.4" opacity="0.25"/><circle cx="467.0" cy="95.3" r="1.8" opacity="0.38"/><circle cx="504.7" cy="57.8" r="1.9" opacity="0.09"/><circle cx="483.8" cy="145.5" r="2.5" opacity="0.45"/><circle cx="433.7" cy="15.9" r="2.7" opacity="0.44"/><circle cx="409.1" cy="126.1" r="3.1" opacity="0.16"/><circle cx="401.7" cy="99.1" r="1.8" opacity="0.14"/><circle cx="410.3" cy="95.5" r="1.7" opacity="0.16"/><circle cx="509.9" cy="46.2" r="1.9" opacity="0.32"/><circle cx="477.1" cy="24.9" r="2.8" opacity="0.17"/><circle cx="415.6" cy="66.8" r="1.6" opacity="0.13"/><circle cx="530.5" cy="43.2" r="3.2" opacity="0.34"/><circle cx="479.2" cy="18.4" r="1.5" opacity="0.28"/><circle cx="453.5" cy="31.7" r="2.0" opacity="0.17"/><circle cx="426.5" cy="120.1" r="1.9" opacity="0.11"/><circle cx="488.5" cy="105.1" r="1.8" opacity="0.09"/><circle cx="524.3" cy="94.8" r="2.7" opacity="0.39"/><circle cx="425.6" cy="141.5" r="2.3" opacity="0.23"/><circle cx="529.0" cy="78.2" r="2.9" opacity="0.19"/><circle cx="460.5" cy="75.6" r="1.9" opacity="0.13"/><circle cx="532.5" cy="139.0" r="3.4" opacity="0.22"/><circle cx="501.3" cy="76.5" r="2.3" opacity="0.10"/><circle cx="477.2" cy="99.3" r="2.9" opacity="0.16"/><circle cx="516.0" cy="113.9" r="2.9" opacity="0.18"/><circle cx="531.4" cy="111.8" r="2.0" opacity="0.20"/><circle cx="517.8" cy="148.7" r="1.8" opacity="0.20"/><circle cx="471.7" cy="14.0" r="2.6" opacity="0.42"/><circle cx="491.7" cy="134.3" r="3.2" opacity="0.18"/><circle cx="432.1" cy="102.4" r="1.5" opacity="0.27"/><circle cx="406.6" cy="99.9" r="2.5" opacity="0.41"/><circle cx="454.8" cy="40.6" r="3.2" opacity="0.25"/><circle cx="498.4" cy="46.1" r="1.9" opacity="0.24"/><circle cx="504.6" cy="32.5" r="2.1" opacity="0.14"/><circle cx="445.6" cy="114.9" r="2.9" opacity="0.29"/><circle cx="448.6" cy="87.2" r="1.9" opacity="0.14"/><circle cx="514.1" cy="135.7" r="2.2" opacity="0.22"/><circle cx="491.5" cy="61.8" r="2.4" opacity="0.39"/><circle cx="422.9" cy="122.3" r="2.2" opacity="0.08"/><circle cx="431.9" cy="56.2" r="2.7" opacity="0.14"/><circle cx="477.6" cy="36.4" r="3.0" opacity="0.39"/><circle cx="420.7" cy="24.4" r="3.4" opacity="0.25"/><circle cx="529.0" cy="93.7" r="1.6" opacity="0.10"/><circle cx="512.1" cy="76.4" r="3.0" opacity="0.09"/><circle cx="467.8" cy="95.8" r="2.0" opacity="0.18"/><circle cx="522.7" cy="98.2" r="2.0" opacity="0.30"/><circle cx="458.5" cy="66.4" r="2.2" opacity="0.20"/><circle cx="413.3" cy="147.2" r="3.3" opacity="0.18"/><circle cx="490.7" cy="110.7" r="2.6" opacity="0.35"/><circle cx="478.5" cy="87.1" r="2.0" opacity="0.20"/><circle cx="465.9" cy="69.7" r="1.6" opacity="0.39"/><circle cx="419.9" cy="38.3" r="1.5" opacity="0.19"/><circle cx="481.6" cy="108.3" r="2.5" opacity="0.32"/><circle cx="409.6" cy="30.5" r="2.3" opacity="0.37"/><circle cx="496.9" cy="118.0" r="2.3" opacity="0.45"/><circle cx="489.1" cy="78.5" r="2.2" opacity="0.21"/><circle cx="478.7" cy="146.3" r="2.1" opacity="0.13"/><circle cx="486.4" cy="77.8" r="2.2" opacity="0.21"/><circle cx="476.8" cy="34.4" r="1.8" opacity="0.25"/><circle cx="465.4" cy="68.8" r="3.0" opacity="0.15"/><circle cx="469.6" cy="144.3" r="2.3" opacity="0.34"/><circle cx="465.5" cy="119.2" r="1.9" opacity="0.27"/><circle cx="462.3" cy="75.1" r="1.9" opacity="0.17"/><circle cx="431.3" cy="72.1" r="2.1" opacity="0.42"/><circle cx="482.0" cy="55.8" r="2.7" opacity="0.25"/><circle cx="475.6" cy="19.0" r="3.0" opacity="0.29"/><circle cx="488.9" cy="61.0" r="2.0" opacity="0.32"/><circle cx="499.2" cy="86.4" r="2.1" opacity="0.44"/><circle cx="403.1" cy="89.7" r="3.0" opacity="0.43"/><circle cx="477.5" cy="111.1" r="3.4" opacity="0.25"/><circle cx="516.6" cy="16.5" r="2.8" opacity="0.15"/><circle cx="399.1" cy="57.3" r="3.1" opacity="0.16"/><circle cx="478.7" cy="131.2" r="2.7" opacity="0.27"/><circle cx="428.8" cy="50.3" r="2.1" opacity="0.37"/><circle cx="431.6" cy="97.7" r="2.8" opacity="0.31"/><circle cx="416.8" cy="66.3" r="2.2" opacity="0.11"/><circle cx="458.3" cy="138.5" r="2.9" opacity="0.38"/><circle cx="446.2" cy="116.9" r="2.0" opacity="0.30"/><circle cx="494.0" cy="19.4" r="3.3" opacity="0.10"/><circle cx="451.3" cy="74.8" r="2.1" opacity="0.15"/><circle cx="487.3" cy="58.9" r="2.1" opacity="0.35"/><circle cx="498.0" cy="31.0" r="2.6" opacity="0.12"/><circle cx="509.8" cy="145.5" r="3.0" opacity="0.24"/><circle cx="521.1" cy="106.8" r="1.8" opacity="0.14"/><circle cx="421.5" cy="61.9" r="3.1" opacity="0.38"/><circle cx="497.0" cy="80.3" r="2.3" opacity="0.13"/><circle cx="494.8" cy="95.2" r="3.2" opacity="0.13"/><circle cx="483.4" cy="27.5" r="2.7" opacity="0.25"/><circle cx="516.7" cy="43.4" r="2.2" opacity="0.17"/><circle cx="489.8" cy="58.6" r="3.0" opacity="0.10"/><circle cx="486.8" cy="80.3" r="2.3" opacity="0.15"/><circle cx="415.4" cy="110.7" r="2.0" opacity="0.13"/><circle cx="483.6" cy="107.9" r="1.5" opacity="0.25"/><circle cx="454.3" cy="36.8" r="2.3" opacity="0.39"/><circle cx="405.7" cy="60.3" r="1.7" opacity="0.33"/><circle cx="403.4" cy="39.5" r="2.8" opacity="0.18"/><circle cx="405.1" cy="27.6" r="2.0" opacity="0.46"/><circle cx="495.4" cy="62.3" r="2.3" opacity="0.24"/><circle cx="450.3" cy="30.3" r="2.5" opacity="0.23"/><circle cx="472.5" cy="105.9" r="2.7" opacity="0.29"/><circle cx="475.6" cy="83.2" r="2.0" opacity="0.31"/><circle cx="525.6" cy="27.2" r="2.4" opacity="0.40"/><circle cx="517.7" cy="42.9" r="1.6" opacity="0.32"/><circle cx="407.1" cy="141.3" r="2.1" opacity="0.21"/><circle cx="413.4" cy="61.5" r="1.6" opacity="0.27"/><circle cx="511.3" cy="116.0" r="1.7" opacity="0.27"/><circle cx="424.4" cy="85.4" r="2.3" opacity="0.11"/><circle cx="522.5" cy="134.5" r="3.1" opacity="0.27"/><circle cx="514.7" cy="54.9" r="3.4" opacity="0.20"/><circle cx="403.6" cy="42.9" r="3.1" opacity="0.47"/><circle cx="435.2" cy="29.4" r="3.4" opacity="0.28"/><circle cx="415.6" cy="54.9" r="2.7" opacity="0.30"/><circle cx="503.2" cy="73.7" r="2.8" opacity="0.30"/><circle cx="411.2" cy="56.1" r="3.2" opacity="0.43"/><circle cx="493.4" cy="105.5" r="1.5" opacity="0.11"/><circle cx="410.9" cy="97.6" r="1.8" opacity="0.37"/><circle cx="509.7" cy="77.9" r="1.7" opacity="0.30"/><circle cx="499.6" cy="133.5" r="3.0" opacity="0.17"/><circle cx="523.3" cy="24.9" r="2.5" opacity="0.32"/><circle cx="484.9" cy="96.6" r="2.3" opacity="0.10"/><circle cx="481.7" cy="78.0" r="1.7" opacity="0.21"/><circle cx="530.5" cy="82.0" r="2.8" opacity="0.17"/><circle cx="458.3" cy="46.1" r="2.5" opacity="0.35"/><circle cx="474.8" cy="65.7" r="1.5" opacity="0.18"/><circle cx="481.3" cy="49.6" r="2.4" opacity="0.11"/><circle cx="427.7" cy="80.7" r="2.1" opacity="0.31"/><circle cx="441.2" cy="31.7" r="2.7" opacity="0.34"/><circle cx="499.2" cy="82.6" r="1.8" opacity="0.28"/><circle cx="487.3" cy="17.8" r="3.2" opacity="0.30"/><circle cx="518.2" cy="79.5" r="1.5" opacity="0.28"/><circle cx="499.6" cy="120.3" r="2.3" opacity="0.12"/><circle cx="499.2" cy="147.1" r="3.1" opacity="0.10"/><circle cx="490.7" cy="138.4" r="2.7" opacity="0.32"/><circle cx="449.9" cy="138.0" r="1.8" opacity="0.32"/><circle cx="502.0" cy="78.4" r="1.9" opacity="0.18"/><circle cx="403.3" cy="126.8" r="2.7" opacity="0.23"/><circle cx="471.7" cy="49.9" r="3.0" opacity="0.21"/><circle cx="445.1" cy="86.5" r="2.9" opacity="0.14"/><circle cx="442.1" cy="48.9" r="2.9" opacity="0.34"/><circle cx="507.3" cy="77.1" r="2.3" opacity="0.28"/><circle cx="508.8" cy="54.3" r="2.2" opacity="0.10"/><circle cx="529.4" cy="128.1" r="1.5" opacity="0.43"/><circle cx="415.3" cy="136.5" r="1.5" opacity="0.34"/><circle cx="401.2" cy="125.0" r="3.1" opacity="0.09"/><circle cx="414.8" cy="106.4" r="2.9" opacity="0.12"/><circle cx="474.6" cy="128.7" r="3.1" opacity="0.35"/><circle cx="509.0" cy="82.2" r="2.6" opacity="0.38"/><circle cx="423.1" cy="50.1" r="1.9" opacity="0.14"/><circle cx="506.5" cy="146.3" r="1.6" opacity="0.28"/><circle cx="475.8" cy="101.5" r="2.4" opacity="0.12"/><circle cx="465.4" cy="101.1" r="2.7" opacity="0.28"/><circle cx="412.8" cy="43.3" r="2.3" opacity="0.22"/><circle cx="519.3" cy="25.6" r="2.9" opacity="0.10"/><circle cx="404.6" cy="48.3" r="2.5" opacity="0.32"/><circle cx="500.0" cy="138.8" r="2.4" opacity="0.24"/><circle cx="428.0" cy="34.7" r="2.3" opacity="0.49"/><circle cx="427.0" cy="73.8" r="3.3" opacity="0.39"/><circle cx="444.9" cy="143.5" r="3.1" opacity="0.17"/><circle cx="513.1" cy="94.5" r="2.9" opacity="0.13"/><circle cx="524.9" cy="142.5" r="1.7" opacity="0.31"/><circle cx="484.3" cy="119.3" r="1.7" opacity="0.17"/><circle cx="398.4" cy="146.8" r="2.6" opacity="0.40"/><circle cx="423.4" cy="57.3" r="2.2" opacity="0.38"/><circle cx="429.4" cy="34.6" r="2.6" opacity="0.42"/><circle cx="472.7" cy="80.6" r="1.6" opacity="0.19"/><circle cx="502.7" cy="100.4" r="3.2" opacity="0.36"/><circle cx="513.8" cy="115.7" r="2.0" opacity="0.24"/><circle cx="454.6" cy="20.0" r="2.8" opacity="0.40"/><circle cx="407.0" cy="36.5" r="3.1" opacity="0.28"/><circle cx="476.3" cy="93.6" r="2.5" opacity="0.30"/><circle cx="413.6" cy="60.2" r="2.6" opacity="0.38"/><circle cx="478.1" cy="89.4" r="2.2" opacity="0.32"/><circle cx="502.4" cy="76.5" r="1.5" opacity="0.31"/><circle cx="496.8" cy="107.5" r="2.5" opacity="0.29"/><circle cx="494.7" cy="142.1" r="1.9" opacity="0.34"/><circle cx="403.5" cy="72.8" r="2.7" opacity="0.30"/><circle cx="412.4" cy="32.6" r="2.1" opacity="0.29"/><circle cx="477.9" cy="57.4" r="1.6" opacity="0.32"/><circle cx="423.7" cy="141.1" r="1.8" opacity="0.28"/><circle cx="408.2" cy="46.3" r="2.2" opacity="0.13"/><circle cx="424.1" cy="35.6" r="3.0" opacity="0.45"/><circle cx="507.8" cy="43.4" r="2.5" opacity="0.22"/><circle cx="524.9" cy="118.5" r="1.8" opacity="0.47"/><circle cx="532.9" cy="124.7" r="2.9" opacity="0.44"/><circle cx="500.1" cy="92.0" r="2.7" opacity="0.11"/><circle cx="412.4" cy="50.9" r="1.8" opacity="0.17"/><circle cx="409.5" cy="15.1" r="3.0" opacity="0.33"/><circle cx="511.9" cy="81.9" r="3.1" opacity="0.22"/><circle cx="509.7" cy="91.6" r="1.6" opacity="0.26"/><circle cx="443.3" cy="146.8" r="2.4" opacity="0.32"/><circle cx="440.7" cy="105.4" r="1.9" opacity="0.09"/><circle cx="477.9" cy="104.3" r="2.1" opacity="0.12"/><circle cx="421.8" cy="131.1" r="2.7" opacity="0.13"/><circle cx="430.7" cy="21.9" r="2.0" opacity="0.26"/><circle cx="449.8" cy="13.4" r="2.7" opacity="0.21"/><circle cx="403.1" cy="105.3" r="3.2" opacity="0.42"/><circle cx="481.0" cy="116.6" r="1.6" opacity="0.31"/><circle cx="502.7" cy="119.6" r="2.9" opacity="0.42"/><circle cx="517.8" cy="25.6" r="1.7" opacity="0.25"/><circle cx="417.6" cy="72.7" r="2.6" opacity="0.19"/><circle cx="412.9" cy="13.0" r="2.2" opacity="0.33"/><circle cx="407.6" cy="22.3" r="2.7" opacity="0.44"/><circle cx="448.9" cy="90.8" r="2.8" opacity="0.23"/><circle cx="511.0" cy="95.5" r="1.8" opacity="0.24"/><circle cx="482.9" cy="18.1" r="3.1" opacity="0.30"/><circle cx="522.8" cy="28.5" r="2.0" opacity="0.29"/><circle cx="398.3" cy="92.0" r="2.3" opacity="0.21"/><circle cx="504.7" cy="15.1" r="2.2" opacity="0.40"/><circle cx="508.3" cy="65.6" r="1.6" opacity="0.23"/><circle cx="466.7" cy="25.1" r="1.9" opacity="0.15"/><circle cx="413.7" cy="57.4" r="2.5" opacity="0.25"/><circle cx="466.7" cy="20.5" r="2.8" opacity="0.10"/><circle cx="488.4" cy="137.6" r="3.3" opacity="0.21"/><circle cx="439.5" cy="24.0" r="2.8" opacity="0.27"/><circle cx="484.3" cy="67.3" r="1.6" opacity="0.16"/><circle cx="532.4" cy="128.6" r="3.1" opacity="0.10"/><circle cx="423.0" cy="63.6" r="3.0" opacity="0.38"/><circle cx="503.1" cy="95.9" r="3.3" opacity="0.36"/><circle cx="489.0" cy="148.9" r="2.3" opacity="0.28"/><circle cx="499.9" cy="31.1" r="2.5" opacity="0.24"/><circle cx="422.7" cy="130.1" r="3.0" opacity="0.36"/><circle cx="511.8" cy="130.8" r="1.9" opacity="0.27"/><circle cx="525.6" cy="18.9" r="2.0" opacity="0.22"/><circle cx="445.8" cy="15.0" r="1.9" opacity="0.29"/><circle cx="438.7" cy="127.8" r="2.8" opacity="0.21"/><circle cx="424.8" cy="33.5" r="2.8" opacity="0.40"/><circle cx="509.5" cy="122.3" r="1.8" opacity="0.43"/><circle cx="419.1" cy="103.0" r="2.2" opacity="0.17"/><circle cx="446.3" cy="37.5" r="2.0" opacity="0.13"/><circle cx="491.6" cy="91.1" r="2.9" opacity="0.44"/><circle cx="519.4" cy="66.3" r="1.8" opacity="0.42"/><circle cx="493.8" cy="102.1" r="2.9" opacity="0.39"/><circle cx="515.8" cy="75.4" r="2.7" opacity="0.11"/><circle cx="499.5" cy="29.5" r="2.7" opacity="0.14"/><circle cx="477.2" cy="19.7" r="2.6" opacity="0.41"/><circle cx="521.6" cy="53.4" r="2.8" opacity="0.32"/><circle cx="498.6" cy="56.1" r="3.0" opacity="0.27"/><circle cx="435.5" cy="28.4" r="2.1" opacity="0.45"/><circle cx="512.1" cy="73.1" r="1.5" opacity="0.28"/><circle cx="495.7" cy="25.1" r="2.2" opacity="0.22"/><circle cx="478.7" cy="74.5" r="1.9" opacity="0.32"/><circle cx="520.6" cy="145.5" r="2.8" opacity="0.29"/><circle cx="484.9" cy="44.8" r="2.3" opacity="0.19"/><circle cx="522.5" cy="54.0" r="1.6" opacity="0.20"/><circle cx="431.8" cy="66.1" r="2.1" opacity="0.21"/><circle cx="460.8" cy="76.6" r="2.7" opacity="0.23"/><circle cx="446.3" cy="147.1" r="3.1" opacity="0.13"/><circle cx="459.1" cy="123.6" r="1.5" opacity="0.43"/><circle cx="522.0" cy="64.4" r="1.9" opacity="0.32"/><circle cx="415.2" cy="37.3" r="2.9" opacity="0.11"/><circle cx="490.0" cy="43.2" r="2.5" opacity="0.28"/><circle cx="452.8" cy="118.9" r="3.3" opacity="0.21"/><circle cx="420.4" cy="56.7" r="2.8" opacity="0.22"/><circle cx="412.4" cy="106.6" r="1.8" opacity="0.20"/><circle cx="481.0" cy="36.3" r="2.9" opacity="0.39"/><circle cx="440.1" cy="32.7" r="2.9" opacity="0.14"/><circle cx="462.5" cy="142.8" r="2.5" opacity="0.12"/><circle cx="531.7" cy="63.5" r="2.1" opacity="0.43"/><circle cx="508.7" cy="81.3" r="2.8" opacity="0.21"/><circle cx="464.7" cy="88.3" r="2.8" opacity="0.20"/><circle cx="510.6" cy="131.1" r="2.9" opacity="0.16"/><circle cx="447.5" cy="116.2" r="3.4" opacity="0.15"/><circle cx="514.1" cy="90.5" r="3.3" opacity="0.22"/><circle cx="528.1" cy="113.7" r="2.4" opacity="0.39"/><circle cx="404.8" cy="43.9" r="2.8" opacity="0.45"/><circle cx="531.2" cy="120.8" r="3.0" opacity="0.14"/><circle cx="476.6" cy="110.1" r="2.1" opacity="0.29"/><circle cx="481.5" cy="73.9" r="1.9" opacity="0.40"/><circle cx="525.6" cy="30.7" r="2.5" opacity="0.35"/><circle cx="477.6" cy="147.3" r="2.3" opacity="0.15"/><circle cx="503.2" cy="44.7" r="3.2" opacity="0.12"/><circle cx="443.2" cy="130.0" r="1.9" opacity="0.39"/><circle cx="521.2" cy="61.0" r="2.7" opacity="0.36"/><circle cx="419.5" cy="125.3" r="1.9" opacity="0.20"/><circle cx="509.7" cy="61.1" r="1.8" opacity="0.32"/><circle cx="439.5" cy="55.7" r="2.0" opacity="0.15"/><circle cx="413.1" cy="41.7" r="2.5" opacity="0.46"/><circle cx="473.6" cy="79.8" r="2.8" opacity="0.15"/><circle cx="417.0" cy="27.7" r="3.0" opacity="0.23"/><circle cx="528.8" cy="53.0" r="2.7" opacity="0.29"/><circle cx="401.8" cy="24.1" r="2.2" opacity="0.10"/><circle cx="500.3" cy="100.2" r="2.0" opacity="0.13"/><circle cx="525.2" cy="74.7" r="2.4" opacity="0.28"/><circle cx="519.5" cy="84.6" r="1.7" opacity="0.40"/><circle cx="508.1" cy="108.6" r="3.2" opacity="0.26"/><circle cx="493.2" cy="17.3" r="3.0" opacity="0.36"/><circle cx="506.3" cy="71.6" r="3.1" opacity="0.40"/><circle cx="524.4" cy="84.3" r="1.5" opacity="0.41"/><circle cx="423.7" cy="39.6" r="2.7" opacity="0.21"/><circle cx="424.6" cy="127.3" r="2.3" opacity="0.31"/><circle cx="486.8" cy="137.4" r="1.8" opacity="0.12"/><circle cx="488.1" cy="56.6" r="2.5" opacity="0.26"/><circle cx="522.3" cy="52.4" r="3.2" opacity="0.31"/><circle cx="418.0" cy="63.7" r="2.8" opacity="0.34"/><circle cx="461.9" cy="18.9" r="2.0" opacity="0.27"/><circle cx="428.1" cy="22.8" r="2.7" opacity="0.41"/><circle cx="431.4" cy="16.9" r="1.7" opacity="0.24"/><circle cx="491.8" cy="82.0" r="3.4" opacity="0.26"/><circle cx="527.5" cy="106.7" r="3.1" opacity="0.17"/><circle cx="425.2" cy="136.2" r="2.4" opacity="0.30"/><circle cx="493.8" cy="98.7" r="2.0" opacity="0.38"/><circle cx="428.4" cy="137.4" r="2.2" opacity="0.13"/><circle cx="422.8" cy="35.7" r="2.5" opacity="0.40"/><circle cx="448.0" cy="27.2" r="2.3" opacity="0.39"/><circle cx="532.7" cy="83.1" r="1.9" opacity="0.09"/><circle cx="401.2" cy="37.0" r="2.3" opacity="0.41"/><circle cx="516.5" cy="128.5" r="3.4" opacity="0.47"/><circle cx="532.6" cy="60.0" r="3.0" opacity="0.11"/><circle cx="530.7" cy="41.1" r="2.7" opacity="0.24"/><circle cx="516.3" cy="46.2" r="1.9" opacity="0.32"/><circle cx="482.4" cy="103.4" r="2.4" opacity="0.32"/><circle cx="509.1" cy="136.6" r="1.6" opacity="0.28"/><circle cx="519.9" cy="107.8" r="3.0" opacity="0.37"/><circle cx="413.6" cy="32.3" r="1.9" opacity="0.11"/><circle cx="513.7" cy="138.7" r="2.0" opacity="0.46"/><circle cx="407.9" cy="116.9" r="2.5" opacity="0.34"/><circle cx="497.2" cy="61.0" r="2.3" opacity="0.26"/><circle cx="405.6" cy="147.3" r="1.5" opacity="0.18"/><circle cx="492.9" cy="114.1" r="2.1" opacity="0.28"/><circle cx="523.9" cy="42.8" r="2.1" opacity="0.14"/><circle cx="526.8" cy="138.3" r="2.8" opacity="0.22"/><circle cx="413.6" cy="127.0" r="1.5" opacity="0.14"/><circle cx="476.2" cy="124.4" r="2.9" opacity="0.34"/><circle cx="417.8" cy="131.4" r="2.2" opacity="0.37"/><circle cx="487.8" cy="22.7" r="2.1" opacity="0.39"/><circle cx="409.5" cy="84.8" r="2.7" opacity="0.14"/><circle cx="421.8" cy="125.0" r="2.3" opacity="0.08"/><circle cx="407.1" cy="95.3" r="3.1" opacity="0.17"/><circle cx="518.7" cy="139.7" r="2.4" opacity="0.26"/><circle cx="485.7" cy="142.6" r="3.2" opacity="0.25"/><circle cx="448.2" cy="106.6" r="1.7" opacity="0.07"/><circle cx="404.3" cy="146.8" r="2.8" opacity="0.25"/><circle cx="521.7" cy="41.6" r="1.9" opacity="0.22"/><circle cx="401.3" cy="69.1" r="2.7" opacity="0.36"/><circle cx="531.1" cy="140.2" r="2.9" opacity="0.16"/><circle cx="514.0" cy="86.7" r="1.8" opacity="0.44"/><circle cx="417.0" cy="29.8" r="3.2" opacity="0.11"/><circle cx="499.5" cy="136.3" r="1.7" opacity="0.44"/><circle cx="414.8" cy="33.6" r="3.1" opacity="0.28"/><circle cx="495.9" cy="139.8" r="1.8" opacity="0.28"/><circle cx="425.1" cy="102.9" r="3.3" opacity="0.16"/><circle cx="472.8" cy="145.4" r="2.0" opacity="0.41"/><circle cx="459.4" cy="109.5" r="2.9" opacity="0.38"/><circle cx="514.7" cy="91.1" r="1.8" opacity="0.29"/><circle cx="432.7" cy="131.0" r="2.2" opacity="0.21"/><circle cx="516.4" cy="88.8" r="1.5" opacity="0.16"/><circle cx="475.8" cy="96.0" r="2.8" opacity="0.19"/><circle cx="462.6" cy="144.1" r="3.1" opacity="0.18"/><circle cx="530.7" cy="142.3" r="1.6" opacity="0.19"/><circle cx="514.9" cy="77.7" r="2.0" opacity="0.14"/><circle cx="482.8" cy="129.3" r="2.9" opacity="0.10"/><circle cx="421.2" cy="148.0" r="2.7" opacity="0.25"/><circle cx="484.5" cy="139.3" r="2.5" opacity="0.22"/><circle cx="515.8" cy="74.4" r="1.9" opacity="0.43"/><circle cx="530.7" cy="116.4" r="1.9" opacity="0.11"/><circle cx="418.9" cy="97.9" r="3.2" opacity="0.16"/><circle cx="522.7" cy="138.2" r="2.8" opacity="0.19"/><circle cx="462.8" cy="125.0" r="3.1" opacity="0.39"/><circle cx="402.9" cy="34.5" r="1.9" opacity="0.24"/><circle cx="426.8" cy="62.1" r="1.9" opacity="0.16"/><circle cx="412.0" cy="136.2" r="1.7" opacity="0.19"/><circle cx="516.1" cy="129.4" r="2.9" opacity="0.40"/><circle cx="517.0" cy="142.4" r="3.3" opacity="0.46"/><circle cx="432.6" cy="109.9" r="3.1" opacity="0.16"/><circle cx="411.4" cy="72.8" r="1.8" opacity="0.40"/><circle cx="528.6" cy="104.4" r="2.7" opacity="0.23"/><circle cx="462.6" cy="38.1" r="3.1" opacity="0.28"/><circle cx="476.1" cy="73.3" r="3.0" opacity="0.30"/><circle cx="500.6" cy="120.7" r="3.2" opacity="0.30"/><circle cx="435.8" cy="117.4" r="1.7" opacity="0.11"/><circle cx="462.0" cy="141.5" r="2.4" opacity="0.23"/><circle cx="431.8" cy="98.0" r="2.4" opacity="0.10"/><circle cx="502.6" cy="15.5" r="2.0" opacity="0.10"/><circle cx="465.0" cy="134.3" r="1.6" opacity="0.23"/><circle cx="496.4" cy="148.7" r="2.6" opacity="0.12"/><circle cx="458.1" cy="128.9" r="2.7" opacity="0.23"/><circle cx="494.2" cy="95.4" r="3.3" opacity="0.27"/><circle cx="442.8" cy="50.4" r="3.3" opacity="0.25"/><circle cx="403.3" cy="138.4" r="3.1" opacity="0.34"/><circle cx="402.3" cy="143.7" r="1.8" opacity="0.27"/><circle cx="486.2" cy="128.1" r="3.2" opacity="0.19"/><circle cx="403.0" cy="53.0" r="2.6" opacity="0.44"/><circle cx="510.4" cy="91.1" r="2.6" opacity="0.34"/><circle cx="495.5" cy="17.8" r="2.6" opacity="0.29"/><circle cx="526.2" cy="138.3" r="2.4" opacity="0.37"/><circle cx="461.1" cy="36.4" r="2.6" opacity="0.17"/><circle cx="416.8" cy="69.3" r="3.0" opacity="0.10"/><circle cx="399.8" cy="31.6" r="2.3" opacity="0.21"/><circle cx="425.8" cy="111.3" r="2.2" opacity="0.21"/><circle cx="467.9" cy="65.0" r="2.1" opacity="0.08"/><circle cx="406.5" cy="16.5" r="2.7" opacity="0.32"/><circle cx="434.5" cy="26.6" r="2.3" opacity="0.36"/><circle cx="480.2" cy="32.3" r="1.7" opacity="0.26"/><circle cx="531.4" cy="71.9" r="2.6" opacity="0.18"/><circle cx="459.7" cy="73.9" r="2.3" opacity="0.28"/><circle cx="454.6" cy="26.0" r="3.4" opacity="0.18"/><circle cx="430.1" cy="30.7" r="1.7" opacity="0.32"/><circle cx="468.3" cy="117.5" r="2.2" opacity="0.21"/><circle cx="453.6" cy="85.3" r="3.2" opacity="0.21"/><circle cx="442.7" cy="133.2" r="2.5" opacity="0.14"/><circle cx="505.6" cy="14.2" r="2.1" opacity="0.21"/><circle cx="419.6" cy="35.0" r="1.9" opacity="0.14"/><circle cx="405.5" cy="135.1" r="2.7" opacity="0.39"/><circle cx="527.2" cy="114.4" r="2.4" opacity="0.16"/><circle cx="444.4" cy="145.4" r="3.3" opacity="0.14"/><circle cx="450.1" cy="90.1" r="2.5" opacity="0.09"/><circle cx="492.7" cy="94.7" r="1.7" opacity="0.40"/><circle cx="478.4" cy="30.1" r="2.0" opacity="0.39"/><circle cx="405.0" cy="83.3" r="1.5" opacity="0.39"/><circle cx="468.1" cy="16.8" r="2.1" opacity="0.37"/><circle cx="506.4" cy="63.0" r="2.3" opacity="0.21"/><circle cx="438.8" cy="86.9" r="3.0" opacity="0.08"/><circle cx="533.5" cy="80.5" r="2.3" opacity="0.16"/><circle cx="418.7" cy="22.0" r="1.7" opacity="0.29"/><circle cx="496.4" cy="17.2" r="2.1" opacity="0.42"/><circle cx="461.6" cy="61.6" r="3.0" opacity="0.17"/><circle cx="471.0" cy="13.9" r="1.7" opacity="0.14"/><circle cx="398.1" cy="55.5" r="2.2" opacity="0.11"/><circle cx="532.9" cy="103.9" r="2.8" opacity="0.16"/><circle cx="525.2" cy="126.2" r="2.3" opacity="0.27"/><circle cx="493.9" cy="71.8" r="2.9" opacity="0.36"/><circle cx="467.1" cy="33.4" r="2.7" opacity="0.39"/><circle cx="475.3" cy="91.6" r="3.0" opacity="0.24"/><circle cx="404.2" cy="22.0" r="2.8" opacity="0.32"/><circle cx="525.3" cy="142.7" r="3.1" opacity="0.34"/><circle cx="510.1" cy="115.0" r="3.1" opacity="0.43"/><circle cx="418.1" cy="141.1" r="1.7" opacity="0.09"/><circle cx="444.6" cy="118.0" r="3.4" opacity="0.09"/><circle cx="485.4" cy="82.2" r="2.6" opacity="0.18"/><circle cx="437.8" cy="36.2" r="2.5" opacity="0.14"/><circle cx="523.3" cy="96.6" r="2.0" opacity="0.13"/><circle cx="486.5" cy="63.7" r="2.2" opacity="0.12"/><circle cx="514.6" cy="26.8" r="2.6" opacity="0.36"/><circle cx="404.8" cy="87.2" r="2.8" opacity="0.36"/><circle cx="479.5" cy="139.7" r="2.0" opacity="0.36"/><circle cx="416.0" cy="70.7" r="1.6" opacity="0.30"/><circle cx="513.5" cy="53.3" r="2.8" opacity="0.29"/><circle cx="477.7" cy="100.0" r="2.3" opacity="0.42"/><circle cx="443.2" cy="137.8" r="1.8" opacity="0.13"/><circle cx="464.0" cy="121.6" r="3.0" opacity="0.31"/><circle cx="521.6" cy="129.0" r="1.8" opacity="0.10"/><circle cx="441.5" cy="34.4" r="2.0" opacity="0.31"/><circle cx="408.9" cy="45.9" r="3.0" opacity="0.34"/><circle cx="525.4" cy="110.7" r="2.4" opacity="0.17"/><circle cx="426.2" cy="142.0" r="2.5" opacity="0.34"/><circle cx="506.1" cy="18.5" r="1.6" opacity="0.23"/><circle cx="415.6" cy="110.1" r="2.9" opacity="0.28"/><circle cx="440.6" cy="136.1" r="1.6" opacity="0.19"/><circle cx="410.1" cy="48.5" r="1.5" opacity="0.44"/><circle cx="519.1" cy="79.5" r="2.8" opacity="0.26"/><circle cx="442.8" cy="147.3" r="1.6" opacity="0.14"/><circle cx="516.6" cy="111.7" r="1.9" opacity="0.26"/><circle cx="438.7" cy="82.3" r="1.7" opacity="0.09"/><circle cx="496.7" cy="82.1" r="2.2" opacity="0.17"/><circle cx="443.1" cy="114.3" r="3.0" opacity="0.25"/><circle cx="490.6" cy="146.4" r="3.3" opacity="0.16"/><circle cx="490.6" cy="109.6" r="2.9" opacity="0.24"/><circle cx="474.9" cy="100.0" r="1.6" opacity="0.24"/><circle cx="524.8" cy="97.2" r="2.2" opacity="0.21"/><circle cx="407.0" cy="22.5" r="1.8" opacity="0.37"/><circle cx="430.5" cy="90.9" r="2.9" opacity="0.35"/><circle cx="511.4" cy="117.2" r="2.7" opacity="0.33"/><circle cx="440.8" cy="129.1" r="2.3" opacity="0.15"/><circle cx="489.3" cy="23.4" r="2.3" opacity="0.35"/><circle cx="496.2" cy="141.0" r="1.6" opacity="0.37"/><circle cx="456.3" cy="23.0" r="2.3" opacity="0.35"/><circle cx="504.4" cy="62.5" r="3.3" opacity="0.11"/><circle cx="532.6" cy="16.3" r="2.5" opacity="0.37"/><circle cx="514.0" cy="94.1" r="2.6" opacity="0.26"/><circle cx="504.3" cy="66.1" r="2.2" opacity="0.28"/><circle cx="509.6" cy="97.3" r="1.6" opacity="0.27"/><circle cx="472.6" cy="27.9" r="1.6" opacity="0.19"/><circle cx="429.7" cy="108.4" r="1.7" opacity="0.17"/><circle cx="464.8" cy="100.5" r="2.2" opacity="0.08"/><circle cx="498.2" cy="84.8" r="1.8" opacity="0.37"/><circle cx="405.9" cy="94.5" r="2.3" opacity="0.34"/><circle cx="502.4" cy="92.4" r="1.6" opacity="0.12"/><circle cx="399.0" cy="67.4" r="1.9" opacity="0.18"/><circle cx="407.4" cy="27.3" r="3.2" opacity="0.35"/><circle cx="499.2" cy="16.7" r="3.3" opacity="0.39"/><circle cx="403.9" cy="54.3" r="1.8" opacity="0.15"/><circle cx="430.1" cy="29.1" r="3.3" opacity="0.43"/><circle cx="503.5" cy="132.4" r="2.6" opacity="0.21"/><circle cx="442.1" cy="18.6" r="2.2" opacity="0.17"/><circle cx="468.3" cy="62.6" r="3.4" opacity="0.26"/><circle cx="420.6" cy="32.6" r="3.4" opacity="0.17"/><circle cx="472.2" cy="58.0" r="2.7" opacity="0.16"/><circle cx="484.1" cy="96.5" r="2.3" opacity="0.12"/><circle cx="528.1" cy="18.5" r="2.3" opacity="0.42"/><circle cx="471.6" cy="57.9" r="1.9" opacity="0.25"/><circle cx="532.6" cy="143.2" r="3.3" opacity="0.19"/><circle cx="406.9" cy="103.0" r="2.5" opacity="0.37"/><circle cx="434.4" cy="43.6" r="2.6" opacity="0.33"/><circle cx="435.2" cy="122.6" r="2.3" opacity="0.09"/><circle cx="459.9" cy="59.8" r="3.1" opacity="0.35"/><circle cx="431.3" cy="40.0" r="2.5" opacity="0.45"/><circle cx="524.8" cy="101.7" r="2.5" opacity="0.31"/><circle cx="513.2" cy="52.9" r="2.2" opacity="0.34"/><circle cx="438.3" cy="65.8" r="3.1" opacity="0.15"/><circle cx="529.4" cy="20.5" r="2.1" opacity="0.22"/><circle cx="521.2" cy="142.3" r="2.3" opacity="0.18"/><circle cx="478.9" cy="41.1" r="2.4" opacity="0.33"/><circle cx="528.3" cy="97.5" r="1.9" opacity="0.24"/><circle cx="464.8" cy="44.5" r="1.5" opacity="0.27"/><circle cx="474.7" cy="70.4" r="2.9" opacity="0.16"/><circle cx="484.9" cy="120.4" r="3.1" opacity="0.15"/><circle cx="431.6" cy="49.4" r="2.2" opacity="0.28"/><circle cx="405.2" cy="20.4" r="2.0" opacity="0.38"/><circle cx="529.6" cy="99.4" r="3.4" opacity="0.36"/><circle cx="511.8" cy="113.2" r="2.1" opacity="0.37"/><circle cx="494.6" cy="125.9" r="2.2" opacity="0.46"/><circle cx="503.3" cy="111.2" r="3.1" opacity="0.22"/><circle cx="419.9" cy="29.3" r="1.5" opacity="0.47"/><circle cx="413.0" cy="34.3" r="1.5" opacity="0.36"/><circle cx="445.3" cy="117.9" r="3.2" opacity="0.14"/><circle cx="468.3" cy="144.4" r="2.5" opacity="0.16"/><circle cx="440.1" cy="33.7" r="2.5" opacity="0.16"/><circle cx="400.1" cy="94.4" r="2.3" opacity="0.13"/><circle cx="411.0" cy="49.9" r="1.7" opacity="0.14"/><circle cx="408.0" cy="20.2" r="2.5" opacity="0.40"/><circle cx="512.0" cy="47.2" r="3.0" opacity="0.21"/><circle cx="473.6" cy="16.3" r="2.2" opacity="0.15"/><circle cx="458.4" cy="46.6" r="1.9" opacity="0.14"/><circle cx="517.0" cy="131.4" r="2.2" opacity="0.28"/><circle cx="515.1" cy="73.5" r="3.4" opacity="0.20"/><circle cx="409.3" cy="13.0" r="2.8" opacity="0.20"/><circle cx="411.3" cy="61.5" r="2.8" opacity="0.30"/><circle cx="406.8" cy="97.0" r="3.0" opacity="0.26"/><circle cx="527.2" cy="143.3" r="2.4" opacity="0.24"/><circle cx="438.5" cy="117.0" r="2.9" opacity="0.18"/><circle cx="462.4" cy="117.9" r="1.9" opacity="0.25"/><circle cx="479.3" cy="101.0" r="1.8" opacity="0.25"/><circle cx="436.3" cy="105.8" r="1.5" opacity="0.34"/><circle cx="516.3" cy="71.7" r="1.6" opacity="0.30"/><circle cx="476.6" cy="33.8" r="2.3" opacity="0.26"/><circle cx="454.4" cy="80.8" r="2.0" opacity="0.26"/><circle cx="402.5" cy="15.6" r="1.5" opacity="0.30"/><circle cx="528.4" cy="115.0" r="2.5" opacity="0.40"/><circle cx="501.7" cy="127.1" r="2.7" opacity="0.31"/><circle cx="413.4" cy="124.7" r="2.4" opacity="0.17"/><circle cx="438.7" cy="26.3" r="1.6" opacity="0.46"/><circle cx="423.7" cy="36.5" r="2.5" opacity="0.45"/><circle cx="429.3" cy="135.5" r="2.1" opacity="0.30"/><circle cx="528.5" cy="142.6" r="2.4" opacity="0.10"/><circle cx="438.6" cy="44.9" r="2.0" opacity="0.37"/><circle cx="499.0" cy="71.5" r="3.1" opacity="0.29"/><circle cx="467.9" cy="126.5" r="2.6" opacity="0.40"/><circle cx="460.5" cy="106.2" r="3.3" opacity="0.09"/><circle cx="510.8" cy="13.0" r="1.6" opacity="0.32"/><circle cx="490.5" cy="26.1" r="2.4" opacity="0.13"/><circle cx="455.8" cy="146.9" r="1.7" opacity="0.32"/><circle cx="443.6" cy="91.9" r="2.9" opacity="0.20"/><circle cx="467.3" cy="138.2" r="3.2" opacity="0.45"/><circle cx="520.8" cy="21.0" r="3.3" opacity="0.42"/><circle cx="482.7" cy="96.6" r="2.2" opacity="0.21"/><circle cx="506.2" cy="101.6" r="2.8" opacity="0.32"/><circle cx="423.8" cy="35.9" r="1.8" opacity="0.18"/><circle cx="523.8" cy="85.3" r="1.9" opacity="0.43"/><circle cx="503.7" cy="59.0" r="3.2" opacity="0.22"/><circle cx="499.6" cy="32.1" r="3.1" opacity="0.25"/><circle cx="530.5" cy="106.7" r="1.9" opacity="0.24"/><circle cx="493.7" cy="61.4" r="1.5" opacity="0.35"/><circle cx="408.6" cy="81.9" r="2.7" opacity="0.11"/><circle cx="415.5" cy="89.8" r="1.7" opacity="0.31"/><circle cx="502.4" cy="108.6" r="1.7" opacity="0.26"/><circle cx="454.9" cy="72.0" r="1.6" opacity="0.26"/><circle cx="469.0" cy="89.8" r="2.0" opacity="0.10"/><circle cx="505.3" cy="49.5" r="3.0" opacity="0.11"/><circle cx="460.7" cy="134.6" r="1.6" opacity="0.21"/><circle cx="472.4" cy="119.9" r="1.8" opacity="0.28"/><circle cx="480.6" cy="86.4" r="3.4" opacity="0.37"/><circle cx="475.4" cy="118.4" r="2.6" opacity="0.20"/><circle cx="486.2" cy="109.2" r="1.6" opacity="0.28"/><circle cx="403.3" cy="142.1" r="3.3" opacity="0.12"/><circle cx="478.2" cy="137.8" r="1.6" opacity="0.44"/><circle cx="432.8" cy="18.1" r="3.2" opacity="0.16"/><circle cx="430.3" cy="137.3" r="2.7" opacity="0.17"/><circle cx="420.7" cy="88.4" r="1.9" opacity="0.27"/><circle cx="470.0" cy="96.7" r="2.9" opacity="0.14"/><circle cx="513.5" cy="125.4" r="2.0" opacity="0.29"/><circle cx="489.9" cy="106.6" r="2.9" opacity="0.27"/><circle cx="457.8" cy="13.3" r="2.5" opacity="0.38"/><circle cx="522.5" cy="88.9" r="2.1" opacity="0.38"/><circle cx="440.6" cy="109.4" r="1.7" opacity="0.22"/><circle cx="428.3" cy="13.1" r="2.6" opacity="0.22"/><circle cx="523.8" cy="127.6" r="2.1" opacity="0.43"/><circle cx="451.9" cy="58.0" r="3.1" opacity="0.17"/><circle cx="449.5" cy="118.7" r="3.2" opacity="0.30"/><circle cx="472.1" cy="69.4" r="3.3" opacity="0.15"/><circle cx="469.7" cy="52.3" r="2.5" opacity="0.28"/><circle cx="412.7" cy="30.9" r="1.8" opacity="0.33"/><circle cx="447.9" cy="25.5" r="2.0" opacity="0.43"/><circle cx="439.8" cy="111.9" r="2.2" opacity="0.19"/><circle cx="520.0" cy="107.2" r="2.6" opacity="0.36"/><circle cx="436.5" cy="130.0" r="3.0" opacity="0.30"/><circle cx="506.9" cy="140.4" r="2.0" opacity="0.18"/><circle cx="484.8" cy="126.4" r="2.1" opacity="0.36"/><circle cx="470.7" cy="21.1" r="1.7" opacity="0.33"/><circle cx="400.7" cy="74.2" r="1.9" opacity="0.22"/><circle cx="528.4" cy="127.6" r="3.2" opacity="0.47"/><circle cx="430.4" cy="20.7" r="2.3" opacity="0.32"/><circle cx="444.7" cy="77.3" r="1.5" opacity="0.34"/><circle cx="414.8" cy="41.1" r="1.8" opacity="0.30"/><circle cx="530.9" cy="89.7" r="1.7" opacity="0.36"/><circle cx="519.6" cy="110.1" r="2.7" opacity="0.44"/><circle cx="507.5" cy="87.6" r="3.1" opacity="0.38"/><circle cx="456.6" cy="47.4" r="3.2" opacity="0.40"/><circle cx="530.2" cy="115.5" r="1.8" opacity="0.25"/><circle cx="510.4" cy="146.1" r="1.8" opacity="0.36"/><circle cx="440.1" cy="24.0" r="2.3" opacity="0.24"/><circle cx="514.7" cy="108.4" r="2.2" opacity="0.39"/><circle cx="527.9" cy="140.5" r="1.6" opacity="0.35"/><circle cx="477.2" cy="119.0" r="2.5" opacity="0.30"/><circle cx="483.9" cy="76.9" r="1.5" opacity="0.38"/><circle cx="524.6" cy="17.3" r="2.8" opacity="0.33"/><circle cx="510.4" cy="79.1" r="2.6" opacity="0.43"/><circle cx="423.1" cy="51.2" r="2.1" opacity="0.45"/><circle cx="410.4" cy="41.8" r="2.7" opacity="0.19"/><circle cx="487.7" cy="39.7" r="3.0" opacity="0.33"/><circle cx="527.4" cy="31.0" r="1.8" opacity="0.15"/><circle cx="509.0" cy="68.3" r="3.1" opacity="0.23"/><circle cx="525.8" cy="48.4" r="2.5" opacity="0.32"/><circle cx="514.8" cy="118.5" r="2.2" opacity="0.39"/><circle cx="527.6" cy="63.3" r="1.9" opacity="0.42"/><circle cx="448.0" cy="140.4" r="3.2" opacity="0.13"/><circle cx="533.4" cy="77.4" r="2.2" opacity="0.24"/><circle cx="515.3" cy="125.4" r="2.7" opacity="0.11"/><circle cx="439.2" cy="112.6" r="2.4" opacity="0.08"/><circle cx="440.7" cy="121.6" r="1.8" opacity="0.25"/><circle cx="429.1" cy="137.8" r="2.0" opacity="0.16"/><circle cx="524.2" cy="105.5" r="3.2" opacity="0.14"/><circle cx="455.7" cy="29.0" r="2.4" opacity="0.39"/><circle cx="486.9" cy="141.9" r="1.8" opacity="0.17"/><circle cx="427.3" cy="47.5" r="2.6" opacity="0.35"/><circle cx="495.6" cy="146.2" r="1.7" opacity="0.39"/><circle cx="403.4" cy="115.9" r="3.0" opacity="0.24"/><circle cx="443.1" cy="82.2" r="2.1" opacity="0.26"/><circle cx="406.3" cy="13.5" r="2.7" opacity="0.23"/><circle cx="457.5" cy="60.6" r="2.2" opacity="0.36"/><circle cx="474.8" cy="140.1" r="2.1" opacity="0.30"/><circle cx="500.1" cy="30.3" r="3.2" opacity="0.09"/><circle cx="464.4" cy="122.8" r="3.1" opacity="0.29"/><circle cx="510.1" cy="144.3" r="3.2" opacity="0.46"/><circle cx="501.4" cy="45.5" r="1.9" opacity="0.16"/><circle cx="473.3" cy="74.0" r="2.7" opacity="0.35"/><circle cx="473.1" cy="38.6" r="1.6" opacity="0.10"/><circle cx="448.8" cy="31.8" r="3.1" opacity="0.24"/><circle cx="495.9" cy="142.2" r="2.8" opacity="0.19"/><circle cx="518.0" cy="108.9" r="2.0" opacity="0.15"/><circle cx="443.0" cy="34.1" r="1.9" opacity="0.28"/><circle cx="506.6" cy="87.5" r="2.5" opacity="0.10"/><circle cx="495.4" cy="74.8" r="3.3" opacity="0.26"/><circle cx="448.7" cy="41.8" r="3.0" opacity="0.41"/><circle cx="506.7" cy="49.4" r="2.4" opacity="0.32"/><circle cx="449.5" cy="114.5" r="2.4" opacity="0.19"/><circle cx="420.6" cy="62.0" r="2.3" opacity="0.40"/><circle cx="484.0" cy="97.2" r="1.8" opacity="0.25"/><circle cx="502.0" cy="82.9" r="1.7" opacity="0.39"/><circle cx="515.3" cy="56.1" r="1.7" opacity="0.14"/><circle cx="451.0" cy="136.4" r="2.1" opacity="0.23"/><circle cx="406.8" cy="116.3" r="2.4" opacity="0.11"/><circle cx="509.6" cy="69.7" r="1.8" opacity="0.33"/><circle cx="417.2" cy="69.1" r="3.3" opacity="0.23"/><circle cx="426.9" cy="99.2" r="2.6" opacity="0.13"/><circle cx="523.2" cy="27.7" r="2.0" opacity="0.10"/><circle cx="399.1" cy="124.6" r="1.6" opacity="0.23"/><circle cx="410.4" cy="32.2" r="3.3" opacity="0.28"/><circle cx="433.2" cy="44.4" r="2.5" opacity="0.18"/><circle cx="467.9" cy="78.9" r="3.0" opacity="0.38"/><circle cx="482.2" cy="146.6" r="1.8" opacity="0.19"/><circle cx="468.4" cy="93.1" r="2.2" opacity="0.33"/><circle cx="493.0" cy="59.0" r="1.8" opacity="0.25"/><circle cx="528.6" cy="24.8" r="2.8" opacity="0.16"/><circle cx="520.4" cy="116.4" r="2.3" opacity="0.10"/><circle cx="427.6" cy="106.6" r="2.1" opacity="0.26"/><circle cx="436.2" cy="16.6" r="1.5" opacity="0.24"/><circle cx="452.8" cy="37.6" r="1.6" opacity="0.24"/><circle cx="442.2" cy="131.2" r="2.1" opacity="0.20"/><circle cx="423.5" cy="145.0" r="1.6" opacity="0.23"/><circle cx="438.4" cy="137.0" r="2.3" opacity="0.19"/><circle cx="503.5" cy="30.1" r="2.0" opacity="0.11"/><circle cx="524.3" cy="75.6" r="2.6" opacity="0.45"/><circle cx="444.6" cy="68.0" r="3.2" opacity="0.36"/><circle cx="427.1" cy="32.2" r="1.7" opacity="0.37"/><circle cx="425.2" cy="134.1" r="3.4" opacity="0.23"/><circle cx="437.9" cy="14.4" r="2.7" opacity="0.13"/><circle cx="413.4" cy="109.1" r="2.6" opacity="0.09"/><circle cx="453.3" cy="47.0" r="1.6" opacity="0.19"/><circle cx="508.8" cy="82.3" r="2.0" opacity="0.28"/><circle cx="415.4" cy="58.0" r="3.0" opacity="0.34"/><circle cx="398.6" cy="42.4" r="2.1" opacity="0.23"/><circle cx="402.7" cy="23.5" r="3.3" opacity="0.45"/><circle cx="487.4" cy="142.1" r="1.6" opacity="0.13"/><circle cx="430.2" cy="65.2" r="1.6" opacity="0.35"/><circle cx="511.9" cy="77.7" r="1.6" opacity="0.26"/><circle cx="504.8" cy="63.7" r="2.8" opacity="0.36"/><circle cx="452.0" cy="81.4" r="3.0" opacity="0.15"/><circle cx="422.7" cy="41.4" r="3.1" opacity="0.25"/><circle cx="417.8" cy="75.4" r="2.6" opacity="0.41"/><circle cx="401.7" cy="26.5" r="2.5" opacity="0.20"/><circle cx="477.2" cy="60.1" r="1.8" opacity="0.12"/><circle cx="461.2" cy="114.3" r="3.2" opacity="0.16"/><circle cx="436.7" cy="131.2" r="2.3" opacity="0.10"/><circle cx="438.0" cy="60.7" r="3.3" opacity="0.39"/><circle cx="437.4" cy="17.7" r="3.2" opacity="0.19"/><circle cx="406.5" cy="78.3" r="1.6" opacity="0.30"/><circle cx="428.3" cy="40.8" r="1.6" opacity="0.27"/><circle cx="471.7" cy="64.6" r="2.4" opacity="0.18"/><circle cx="478.5" cy="54.0" r="2.5" opacity="0.08"/><circle cx="471.8" cy="131.6" r="3.2" opacity="0.19"/><circle cx="503.3" cy="98.7" r="2.6" opacity="0.31"/><circle cx="525.7" cy="42.7" r="1.7" opacity="0.15"/><circle cx="408.7" cy="65.1" r="2.8" opacity="0.44"/><circle cx="434.3" cy="29.3" r="2.2" opacity="0.11"/><circle cx="481.0" cy="123.4" r="3.2" opacity="0.43"/><circle cx="473.2" cy="53.3" r="2.0" opacity="0.20"/><circle cx="501.4" cy="74.7" r="1.9" opacity="0.37"/><circle cx="502.1" cy="114.4" r="2.4" opacity="0.44"/><circle cx="467.9" cy="38.1" r="2.0" opacity="0.26"/><circle cx="511.7" cy="146.3" r="1.5" opacity="0.29"/><circle cx="472.5" cy="146.4" r="3.1" opacity="0.33"/><circle cx="521.0" cy="76.2" r="3.0" opacity="0.27"/><circle cx="447.0" cy="98.9" r="2.7" opacity="0.19"/><circle cx="406.7" cy="46.8" r="2.8" opacity="0.46"/><circle cx="456.7" cy="61.5" r="3.4" opacity="0.34"/><circle cx="413.9" cy="68.9" r="2.1" opacity="0.39"/><circle cx="513.2" cy="136.9" r="3.0" opacity="0.24"/><circle cx="524.5" cy="70.3" r="2.5" opacity="0.20"/><circle cx="432.9" cy="70.8" r="2.7" opacity="0.17"/><circle cx="404.7" cy="143.9" r="3.1" opacity="0.24"/><circle cx="452.7" cy="17.2" r="3.1" opacity="0.45"/><circle cx="497.9" cy="83.2" r="2.3" opacity="0.28"/><circle cx="423.1" cy="111.3" r="1.7" opacity="0.24"/><circle cx="399.8" cy="28.3" r="2.4" opacity="0.28"/><circle cx="406.5" cy="66.9" r="2.7" opacity="0.10"/><circle cx="515.0" cy="112.5" r="2.1" opacity="0.23"/><circle cx="497.0" cy="49.7" r="2.5" opacity="0.32"/><circle cx="516.2" cy="55.2" r="3.0" opacity="0.21"/><circle cx="452.0" cy="138.7" r="1.9" opacity="0.19"/><circle cx="449.7" cy="58.2" r="3.0" opacity="0.33"/><circle cx="519.2" cy="46.3" r="3.3" opacity="0.37"/><circle cx="511.1" cy="57.2" r="2.8" opacity="0.32"/><circle cx="401.8" cy="121.5" r="2.3" opacity="0.08"/><circle cx="407.7" cy="14.1" r="2.2" opacity="0.22"/><circle cx="475.2" cy="133.8" r="2.3" opacity="0.17"/><circle cx="483.4" cy="37.9" r="2.2" opacity="0.13"/><circle cx="436.9" cy="108.8" r="2.7" opacity="0.12"/><circle cx="401.4" cy="87.3" r="2.2" opacity="0.16"/><circle cx="400.1" cy="128.0" r="1.8" opacity="0.21"/><circle cx="442.2" cy="39.3" r="2.0" opacity="0.12"/><circle cx="470.1" cy="43.3" r="2.8" opacity="0.15"/><circle cx="533.8" cy="82.1" r="2.2" opacity="0.34"/><circle cx="428.9" cy="59.7" r="3.3" opacity="0.33"/><circle cx="419.9" cy="47.1" r="1.7" opacity="0.41"/><circle cx="516.6" cy="93.7" r="3.1" opacity="0.28"/><circle cx="495.2" cy="64.6" r="1.7" opacity="0.34"/><circle cx="402.6" cy="69.3" r="2.5" opacity="0.35"/><circle cx="521.9" cy="124.5" r="3.0" opacity="0.40"/><circle cx="426.1" cy="70.5" r="3.2" opacity="0.39"/><circle cx="466.5" cy="36.4" r="3.3" opacity="0.22"/><circle cx="459.8" cy="40.6" r="2.9" opacity="0.39"/><circle cx="415.8" cy="27.2" r="1.6" opacity="0.15"/><circle cx="399.7" cy="113.5" r="3.4" opacity="0.22"/><circle cx="498.5" cy="30.4" r="2.7" opacity="0.10"/><circle cx="442.3" cy="114.4" r="2.8" opacity="0.39"/><circle cx="494.7" cy="48.3" r="1.8" opacity="0.24"/><circle cx="438.6" cy="134.0" r="2.3" opacity="0.28"/><circle cx="525.1" cy="71.5" r="3.1" opacity="0.40"/><circle cx="534.0" cy="81.5" r="2.0" opacity="0.29"/><circle cx="523.8" cy="108.4" r="1.9" opacity="0.44"/><circle cx="438.3" cy="93.1" r="3.2" opacity="0.26"/><circle cx="440.7" cy="112.2" r="1.7" opacity="0.16"/><circle cx="484.5" cy="112.4" r="2.6" opacity="0.20"/><circle cx="429.5" cy="95.8" r="1.6" opacity="0.29"/><circle cx="525.1" cy="144.0" r="2.2" opacity="0.31"/><circle cx="460.7" cy="106.6" r="1.7" opacity="0.33"/><circle cx="442.2" cy="105.3" r="1.8" opacity="0.09"/><circle cx="505.4" cy="54.1" r="1.9" opacity="0.26"/><circle cx="443.8" cy="31.9" r="2.1" opacity="0.34"/><circle cx="457.3" cy="74.7" r="3.3" opacity="0.18"/><circle cx="438.2" cy="124.1" r="1.9" opacity="0.21"/><circle cx="471.4" cy="137.9" r="3.0" opacity="0.33"/><circle cx="404.5" cy="105.6" r="1.5" opacity="0.13"/><circle cx="445.3" cy="34.3" r="2.0" opacity="0.23"/><circle cx="518.1" cy="73.5" r="1.6" opacity="0.31"/><circle cx="486.3" cy="90.4" r="2.7" opacity="0.33"/><circle cx="451.8" cy="30.0" r="3.2" opacity="0.20"/><circle cx="532.7" cy="111.6" r="2.2" opacity="0.39"/><circle cx="533.7" cy="32.3" r="2.0" opacity="0.28"/><circle cx="398.7" cy="112.1" r="1.9" opacity="0.33"/><circle cx="409.3" cy="56.4" r="1.7" opacity="0.33"/><circle cx="443.4" cy="107.9" r="2.7" opacity="0.10"/><circle cx="455.5" cy="35.3" r="3.0" opacity="0.15"/><circle cx="441.9" cy="110.1" r="2.0" opacity="0.24"/><circle cx="425.8" cy="14.2" r="2.2" opacity="0.19"/><circle cx="511.3" cy="137.9" r="2.4" opacity="0.32"/><circle cx="510.1" cy="34.4" r="3.1" opacity="0.24"/><circle cx="493.7" cy="56.3" r="3.1" opacity="0.32"/><circle cx="496.8" cy="81.8" r="2.9" opacity="0.11"/><circle cx="503.4" cy="53.1" r="2.3" opacity="0.32"/><circle cx="469.4" cy="122.6" r="3.0" opacity="0.32"/><circle cx="442.0" cy="136.5" r="3.3" opacity="0.34"/><circle cx="454.4" cy="52.3" r="1.9" opacity="0.17"/><circle cx="475.4" cy="85.6" r="2.3" opacity="0.37"/><circle cx="533.4" cy="101.2" r="2.3" opacity="0.23"/><circle cx="528.6" cy="58.0" r="1.9" opacity="0.31"/><circle cx="519.5" cy="99.4" r="2.9" opacity="0.45"/><circle cx="526.5" cy="95.1" r="1.9" opacity="0.32"/><circle cx="417.7" cy="69.6" r="3.4" opacity="0.42"/><circle cx="483.1" cy="83.0" r="3.0" opacity="0.31"/><circle cx="504.7" cy="73.1" r="2.7" opacity="0.28"/><circle cx="509.2" cy="51.8" r="2.8" opacity="0.17"/><circle cx="529.7" cy="14.5" r="1.9" opacity="0.35"/><circle cx="489.5" cy="44.6" r="3.4" opacity="0.12"/><circle cx="471.2" cy="62.8" r="1.6" opacity="0.28"/><circle cx="427.5" cy="107.7" r="2.4" opacity="0.32"/><circle cx="446.1" cy="136.3" r="2.2" opacity="0.14"/><circle cx="445.2" cy="116.1" r="2.7" opacity="0.21"/><circle cx="452.5" cy="127.9" r="1.9" opacity="0.42"/><circle cx="483.8" cy="77.1" r="3.0" opacity="0.40"/><circle cx="447.4" cy="24.6" r="2.5" opacity="0.21"/><circle cx="424.5" cy="44.6" r="2.9" opacity="0.15"/><circle cx="463.6" cy="84.8" r="2.7" opacity="0.31"/><circle cx="506.5" cy="101.0" r="2.1" opacity="0.38"/><circle cx="475.1" cy="138.4" r="2.5" opacity="0.10"/><circle cx="416.6" cy="43.7" r="2.6" opacity="0.12"/><circle cx="405.0" cy="29.3" r="3.4" opacity="0.47"/><circle cx="464.3" cy="82.8" r="1.8" opacity="0.32"/><circle cx="495.8" cy="37.8" r="2.9" opacity="0.17"/><circle cx="525.2" cy="118.4" r="2.5" opacity="0.10"/><circle cx="432.6" cy="65.3" r="3.3" opacity="0.40"/><circle cx="475.1" cy="33.3" r="2.1" opacity="0.30"/><circle cx="490.7" cy="17.6" r="2.5" opacity="0.23"/><circle cx="498.6" cy="144.5" r="2.9" opacity="0.11"/><circle cx="443.1" cy="117.3" r="2.5" opacity="0.29"/><circle cx="484.6" cy="110.7" r="2.2" opacity="0.20"/><circle cx="515.6" cy="134.0" r="2.4" opacity="0.37"/><circle cx="509.8" cy="120.7" r="2.3" opacity="0.11"/><circle cx="484.0" cy="142.8" r="1.7" opacity="0.40"/><circle cx="511.5" cy="50.2" r="3.3" opacity="0.27"/><circle cx="507.7" cy="18.5" r="2.2" opacity="0.13"/><circle cx="531.0" cy="114.1" r="2.1" opacity="0.31"/><circle cx="458.1" cy="26.2" r="2.2" opacity="0.10"/><circle cx="493.0" cy="68.0" r="2.8" opacity="0.12"/><circle cx="400.9" cy="114.9" r="2.1" opacity="0.32"/><circle cx="519.0" cy="129.8" r="3.2" opacity="0.30"/><circle cx="484.1" cy="12.8" r="2.7" opacity="0.11"/><circle cx="408.0" cy="84.0" r="2.3" opacity="0.23"/><circle cx="530.3" cy="43.2" r="1.5" opacity="0.28"/><circle cx="440.6" cy="20.8" r="2.5" opacity="0.26"/><circle cx="486.3" cy="132.3" r="2.7" opacity="0.21"/><circle cx="484.2" cy="138.8" r="2.9" opacity="0.11"/><circle cx="435.8" cy="127.9" r="1.8" opacity="0.24"/><circle cx="530.0" cy="110.3" r="3.3" opacity="0.46"/><circle cx="477.1" cy="133.0" r="2.3" opacity="0.17"/><circle cx="429.4" cy="63.1" r="2.5" opacity="0.31"/><circle cx="482.3" cy="61.5" r="3.0" opacity="0.13"/><circle cx="481.5" cy="118.2" r="2.6" opacity="0.35"/><circle cx="431.0" cy="125.9" r="3.2" opacity="0.09"/><circle cx="433.2" cy="44.2" r="1.5" opacity="0.21"/><circle cx="412.8" cy="83.2" r="2.0" opacity="0.30"/><circle cx="420.6" cy="36.7" r="1.6" opacity="0.43"/><circle cx="502.0" cy="125.6" r="3.0" opacity="0.24"/><circle cx="477.5" cy="30.6" r="2.0" opacity="0.37"/><circle cx="442.4" cy="110.1" r="3.3" opacity="0.11"/><circle cx="507.3" cy="68.4" r="2.5" opacity="0.21"/><circle cx="463.5" cy="42.0" r="2.2" opacity="0.11"/><circle cx="493.9" cy="100.2" r="2.3" opacity="0.15"/><circle cx="445.6" cy="60.6" r="3.3" opacity="0.26"/><circle cx="495.9" cy="98.0" r="1.8" opacity="0.16"/><circle cx="431.3" cy="15.7" r="2.2" opacity="0.34"/><circle cx="415.6" cy="82.6" r="2.3" opacity="0.33"/><circle cx="410.3" cy="62.3" r="1.6" opacity="0.23"/><circle cx="451.1" cy="41.9" r="3.3" opacity="0.40"/><circle cx="456.5" cy="65.6" r="2.8" opacity="0.11"/><circle cx="415.8" cy="80.0" r="3.0" opacity="0.37"/><circle cx="399.5" cy="48.0" r="2.9" opacity="0.30"/><circle cx="509.4" cy="94.2" r="2.3" opacity="0.12"/><circle cx="522.4" cy="28.6" r="2.6" opacity="0.23"/><circle cx="494.4" cy="147.1" r="2.2" opacity="0.12"/><circle cx="522.2" cy="65.3" r="3.2" opacity="0.17"/><circle cx="493.2" cy="68.8" r="1.5" opacity="0.40"/><circle cx="510.0" cy="143.1" r="3.1" opacity="0.39"/><circle cx="399.0" cy="39.1" r="3.2" opacity="0.10"/><circle cx="452.5" cy="143.7" r="3.1" opacity="0.27"/><circle cx="433.7" cy="41.6" r="2.5" opacity="0.13"/><circle cx="437.8" cy="101.0" r="2.4" opacity="0.20"/><circle cx="477.0" cy="129.4" r="2.9" opacity="0.20"/><circle cx="461.0" cy="94.0" r="2.6" opacity="0.28"/><circle cx="401.5" cy="46.7" r="3.1" opacity="0.29"/><circle cx="468.4" cy="62.9" r="1.7" opacity="0.34"/><circle cx="467.2" cy="97.4" r="2.7" opacity="0.32"/><circle cx="415.7" cy="93.8" r="2.5" opacity="0.36"/><circle cx="422.4" cy="50.5" r="2.3" opacity="0.38"/><circle cx="399.6" cy="21.7" r="3.4" opacity="0.46"/><circle cx="465.5" cy="35.9" r="2.3" opacity="0.11"/><circle cx="470.3" cy="102.8" r="2.3" opacity="0.15"/><circle cx="450.2" cy="135.9" r="2.9" opacity="0.24"/><circle cx="467.8" cy="18.3" r="3.4" opacity="0.17"/><circle cx="500.0" cy="99.3" r="3.1" opacity="0.32"/><circle cx="530.7" cy="103.8" r="2.1" opacity="0.25"/><circle cx="459.4" cy="15.0" r="3.3" opacity="0.18"/><circle cx="423.8" cy="95.7" r="1.8" opacity="0.38"/><circle cx="438.7" cy="55.1" r="2.1" opacity="0.12"/><circle cx="430.8" cy="48.6" r="3.2" opacity="0.29"/><circle cx="487.1" cy="97.5" r="2.9" opacity="0.14"/><circle cx="426.2" cy="51.1" r="2.2" opacity="0.32"/><circle cx="513.7" cy="95.5" r="2.4" opacity="0.34"/><circle cx="521.8" cy="23.5" r="2.6" opacity="0.24"/><circle cx="476.6" cy="24.0" r="3.1" opacity="0.27"/><circle cx="511.2" cy="142.2" r="1.8" opacity="0.11"/><circle cx="439.4" cy="105.8" r="3.4" opacity="0.26"/><circle cx="488.1" cy="80.0" r="3.2" opacity="0.20"/><circle cx="424.2" cy="18.4" r="3.2" opacity="0.41"/><circle cx="414.4" cy="60.8" r="2.9" opacity="0.33"/><circle cx="438.3" cy="84.5" r="1.7" opacity="0.18"/><circle cx="498.1" cy="98.9" r="1.7" opacity="0.12"/><circle cx="487.8" cy="109.8" r="1.8" opacity="0.29"/><circle cx="489.6" cy="21.0" r="1.8" opacity="0.17"/><circle cx="473.9" cy="26.2" r="3.0" opacity="0.23"/><circle cx="435.6" cy="15.3" r="2.1" opacity="0.46"/><circle cx="427.0" cy="126.8" r="2.3" opacity="0.25"/><circle cx="513.8" cy="22.7" r="2.9" opacity="0.35"/><circle cx="532.1" cy="33.3" r="2.0" opacity="0.15"/><circle cx="526.2" cy="94.0" r="2.0" opacity="0.38"/><circle cx="414.5" cy="100.5" r="2.6" opacity="0.10"/><circle cx="523.6" cy="60.5" r="3.2" opacity="0.41"/><circle cx="475.3" cy="77.1" r="1.5" opacity="0.31"/><circle cx="457.9" cy="81.6" r="2.4" opacity="0.23"/><circle cx="420.4" cy="73.3" r="3.4" opacity="0.33"/><circle cx="533.6" cy="50.0" r="2.3" opacity="0.12"/><circle cx="533.2" cy="115.0" r="1.6" opacity="0.43"/><circle cx="454.7" cy="135.5" r="3.2" opacity="0.13"/><circle cx="492.9" cy="27.4" r="2.9" opacity="0.09"/><circle cx="438.5" cy="43.8" r="1.5" opacity="0.45"/><circle cx="485.8" cy="16.3" r="2.7" opacity="0.17"/><circle cx="437.1" cy="138.6" r="3.3" opacity="0.14"/><circle cx="526.4" cy="51.8" r="1.6" opacity="0.21"/><circle cx="463.2" cy="28.4" r="2.5" opacity="0.35"/><circle cx="399.7" cy="44.4" r="2.1" opacity="0.40"/><circle cx="468.5" cy="55.2" r="2.3" opacity="0.30"/><circle cx="484.3" cy="56.1" r="2.2" opacity="0.32"/><circle cx="448.8" cy="119.3" r="2.7" opacity="0.34"/><circle cx="439.8" cy="84.9" r="2.6" opacity="0.27"/><circle cx="439.5" cy="52.5" r="2.4" opacity="0.16"/><circle cx="409.9" cy="144.0" r="2.5" opacity="0.13"/><circle cx="472.8" cy="63.6" r="3.1" opacity="0.21"/><circle cx="501.7" cy="42.6" r="2.2" opacity="0.25"/><circle cx="423.2" cy="24.0" r="1.9" opacity="0.12"/><circle cx="399.5" cy="102.3" r="3.3" opacity="0.35"/><circle cx="512.1" cy="115.4" r="3.3" opacity="0.11"/><circle cx="505.1" cy="69.8" r="3.0" opacity="0.13"/><circle cx="501.5" cy="17.2" r="2.2" opacity="0.28"/><circle cx="462.1" cy="148.0" r="3.1" opacity="0.41"/><circle cx="445.7" cy="135.3" r="2.0" opacity="0.15"/><circle cx="406.8" cy="89.3" r="2.6" opacity="0.12"/><circle cx="500.7" cy="118.3" r="2.0" opacity="0.26"/><circle cx="517.3" cy="136.6" r="2.2" opacity="0.21"/><circle cx="527.2" cy="42.9" r="2.4" opacity="0.12"/><circle cx="431.3" cy="89.6" r="1.7" opacity="0.11"/><circle cx="474.8" cy="16.7" r="2.5" opacity="0.25"/><circle cx="400.3" cy="24.7" r="1.9" opacity="0.38"/><circle cx="529.2" cy="53.0" r="3.0" opacity="0.32"/><circle cx="500.7" cy="119.2" r="3.3" opacity="0.32"/><circle cx="480.1" cy="119.2" r="2.0" opacity="0.29"/><circle cx="457.0" cy="52.8" r="3.2" opacity="0.11"/><circle cx="532.7" cy="128.6" r="2.3" opacity="0.18"/><circle cx="518.0" cy="107.7" r="2.5" opacity="0.22"/><circle cx="483.6" cy="108.5" r="2.5" opacity="0.30"/><circle cx="420.7" cy="110.2" r="3.3" opacity="0.14"/><circle cx="454.7" cy="103.3" r="2.3" opacity="0.15"/><circle cx="497.4" cy="19.0" r="3.0" opacity="0.18"/><circle cx="430.6" cy="80.8" r="3.0" opacity="0.22"/><circle cx="466.0" cy="65.3" r="2.0" opacity="0.15"/><circle cx="449.9" cy="48.9" r="3.1" opacity="0.39"/><circle cx="424.1" cy="70.7" r="1.8" opacity="0.31"/><circle cx="441.0" cy="22.6" r="2.6" opacity="0.40"/><circle cx="476.1" cy="52.0" r="3.3" opacity="0.12"/><circle cx="440.5" cy="73.1" r="2.1" opacity="0.27"/><circle cx="502.9" cy="137.8" r="2.3" opacity="0.17"/><circle cx="410.6" cy="27.8" r="3.3" opacity="0.21"/><circle cx="492.6" cy="112.7" r="2.2" opacity="0.20"/><circle cx="494.6" cy="113.1" r="2.1" opacity="0.34"/><circle cx="514.8" cy="84.2" r="3.1" opacity="0.39"/><circle cx="495.5" cy="64.1" r="2.5" opacity="0.33"/><circle cx="443.0" cy="68.3" r="1.9" opacity="0.31"/><circle cx="425.2" cy="146.1" r="2.9" opacity="0.24"/><circle cx="427.2" cy="123.5" r="2.4" opacity="0.14"/><circle cx="515.5" cy="116.6" r="1.8" opacity="0.45"/><circle cx="474.7" cy="102.9" r="2.5" opacity="0.30"/><circle cx="490.4" cy="46.3" r="1.8" opacity="0.18"/><circle cx="529.0" cy="47.9" r="2.0" opacity="0.10"/><circle cx="489.1" cy="144.1" r="3.2" opacity="0.12"/><circle cx="414.9" cy="109.5" r="2.9" opacity="0.34"/><circle cx="523.4" cy="122.1" r="2.2" opacity="0.31"/><circle cx="435.2" cy="32.0" r="2.8" opacity="0.32"/><circle cx="533.7" cy="100.7" r="2.8" opacity="0.16"/><circle cx="409.3" cy="18.3" r="2.8" opacity="0.34"/><circle cx="493.3" cy="28.9" r="2.4" opacity="0.15"/><circle cx="484.8" cy="122.5" r="3.0" opacity="0.32"/><circle cx="439.7" cy="44.8" r="2.0" opacity="0.21"/><circle cx="401.1" cy="63.0" r="2.4" opacity="0.13"/><circle cx="469.2" cy="117.0" r="2.4" opacity="0.30"/><circle cx="428.9" cy="135.7" r="2.6" opacity="0.39"/><circle cx="417.0" cy="47.2" r="2.2" opacity="0.21"/><circle cx="460.8" cy="89.7" r="3.0" opacity="0.21"/><circle cx="414.9" cy="59.9" r="2.9" opacity="0.35"/><circle cx="489.9" cy="110.3" r="2.8" opacity="0.30"/><circle cx="408.8" cy="137.4" r="2.1" opacity="0.33"/><circle cx="449.7" cy="75.0" r="2.5" opacity="0.39"/><circle cx="409.7" cy="25.4" r="2.9" opacity="0.25"/><circle cx="518.2" cy="80.7" r="2.3" opacity="0.44"/><circle cx="486.6" cy="140.3" r="3.2" opacity="0.41"/><circle cx="486.2" cy="112.7" r="3.3" opacity="0.21"/><circle cx="509.7" cy="127.8" r="3.1" opacity="0.44"/><circle cx="490.1" cy="63.1" r="2.2" opacity="0.10"/><circle cx="473.5" cy="34.9" r="3.2" opacity="0.25"/><circle cx="454.0" cy="116.6" r="2.4" opacity="0.31"/><circle cx="510.4" cy="144.8" r="1.5" opacity="0.32"/><circle cx="440.5" cy="134.8" r="3.0" opacity="0.15"/><circle cx="422.3" cy="31.3" r="2.8" opacity="0.39"/><circle cx="409.2" cy="69.0" r="2.3" opacity="0.40"/><circle cx="526.6" cy="123.7" r="2.6" opacity="0.12"/><circle cx="478.9" cy="51.9" r="1.7" opacity="0.17"/><circle cx="426.8" cy="51.7" r="2.2" opacity="0.44"/><circle cx="510.2" cy="94.9" r="3.3" opacity="0.44"/><circle cx="513.7" cy="82.4" r="2.1" opacity="0.34"/><circle cx="481.0" cy="93.2" r="2.1" opacity="0.16"/><circle cx="473.1" cy="139.9" r="2.7" opacity="0.44"/><circle cx="522.9" cy="122.6" r="1.8" opacity="0.46"/><circle cx="489.1" cy="74.6" r="2.8" opacity="0.33"/><circle cx="458.4" cy="91.7" r="2.6" opacity="0.08"/><circle cx="516.0" cy="47.1" r="2.6" opacity="0.29"/><circle cx="456.3" cy="143.7" r="2.1" opacity="0.40"/><circle cx="421.8" cy="61.3" r="2.9" opacity="0.15"/><circle cx="436.8" cy="77.3" r="2.5" opacity="0.38"/><circle cx="413.5" cy="75.0" r="2.5" opacity="0.12"/><circle cx="402.9" cy="28.9" r="3.2" opacity="0.16"/><circle cx="486.7" cy="65.4" r="3.3" opacity="0.37"/><circle cx="530.7" cy="121.2" r="2.0" opacity="0.15"/><circle cx="512.6" cy="148.1" r="2.9" opacity="0.12"/><circle cx="430.7" cy="141.1" r="3.3" opacity="0.13"/><circle cx="423.7" cy="47.8" r="1.6" opacity="0.47"/><circle cx="413.4" cy="143.7" r="3.3" opacity="0.25"/><circle cx="490.3" cy="92.2" r="2.7" opacity="0.20"/><circle cx="434.1" cy="43.1" r="2.0" opacity="0.39"/><circle cx="427.1" cy="36.6" r="2.0" opacity="0.10"/><circle cx="494.6" cy="59.4" r="1.8" opacity="0.31"/><circle cx="506.6" cy="45.6" r="1.8" opacity="0.28"/><circle cx="467.3" cy="84.8" r="2.3" opacity="0.22"/><circle cx="421.0" cy="80.7" r="2.8" opacity="0.41"/><circle cx="426.0" cy="133.0" r="3.1" opacity="0.11"/><circle cx="491.1" cy="48.1" r="2.8" opacity="0.21"/><circle cx="454.5" cy="36.0" r="1.8" opacity="0.38"/><circle cx="490.2" cy="112.6" r="3.3" opacity="0.28"/><circle cx="399.7" cy="144.6" r="2.6" opacity="0.23"/><circle cx="522.5" cy="115.7" r="2.5" opacity="0.29"/><circle cx="511.0" cy="123.0" r="1.8" opacity="0.44"/><circle cx="479.0" cy="128.3" r="3.2" opacity="0.10"/><circle cx="475.8" cy="109.5" r="2.8" opacity="0.11"/><circle cx="516.9" cy="67.9" r="2.2" opacity="0.25"/><circle cx="414.5" cy="60.4" r="3.1" opacity="0.34"/><circle cx="438.9" cy="112.0" r="1.6" opacity="0.35"/><circle cx="533.2" cy="85.1" r="1.6" opacity="0.18"/><circle cx="427.5" cy="104.2" r="3.0" opacity="0.16"/><circle cx="421.2" cy="89.9" r="1.8" opacity="0.24"/><circle cx="497.6" cy="57.9" r="2.6" opacity="0.32"/><circle cx="443.6" cy="58.4" r="3.0" opacity="0.32"/><circle cx="431.0" cy="140.4" r="2.2" opacity="0.28"/><circle cx="506.2" cy="66.3" r="3.0" opacity="0.10"/><circle cx="421.8" cy="20.9" r="3.1" opacity="0.23"/><circle cx="471.6" cy="139.7" r="2.8" opacity="0.39"/><circle cx="462.1" cy="78.5" r="1.7" opacity="0.34"/><circle cx="516.4" cy="95.7" r="2.7" opacity="0.43"/><circle cx="481.7" cy="120.3" r="2.0" opacity="0.19"/><circle cx="505.3" cy="138.6" r="1.9" opacity="0.41"/><circle cx="445.0" cy="14.2" r="1.9" opacity="0.33"/><circle cx="447.0" cy="48.4" r="2.9" opacity="0.32"/><circle cx="434.8" cy="47.2" r="2.7" opacity="0.23"/><circle cx="442.8" cy="80.2" r="2.2" opacity="0.33"/><circle cx="462.0" cy="75.2" r="3.1" opacity="0.21"/><circle cx="420.4" cy="141.8" r="3.0" opacity="0.21"/><circle cx="433.5" cy="65.0" r="1.8" opacity="0.31"/><circle cx="503.8" cy="113.8" r="3.4" opacity="0.28"/><circle cx="451.4" cy="116.3" r="2.1" opacity="0.40"/><circle cx="421.1" cy="22.6" r="2.9" opacity="0.24"/><circle cx="497.8" cy="59.8" r="2.8" opacity="0.40"/><circle cx="514.8" cy="85.0" r="2.5" opacity="0.12"/><circle cx="475.7" cy="139.9" r="2.4" opacity="0.34"/><circle cx="416.3" cy="107.0" r="2.8" opacity="0.26"/><circle cx="533.3" cy="129.6" r="2.7" opacity="0.34"/><circle cx="529.6" cy="142.2" r="2.2" opacity="0.25"/><circle cx="474.3" cy="88.3" r="1.7" opacity="0.15"/><circle cx="504.6" cy="139.0" r="3.4" opacity="0.18"/><circle cx="424.2" cy="143.3" r="1.7" opacity="0.25"/><circle cx="529.0" cy="44.1" r="3.2" opacity="0.31"/><circle cx="478.5" cy="108.8" r="2.6" opacity="0.29"/><circle cx="498.6" cy="123.4" r="1.8" opacity="0.34"/><circle cx="436.9" cy="118.0" r="3.0" opacity="0.34"/><circle cx="532.5" cy="128.3" r="1.6" opacity="0.28"/><circle cx="502.6" cy="140.8" r="2.5" opacity="0.11"/><circle cx="533.7" cy="67.8" r="2.2" opacity="0.39"/><circle cx="426.7" cy="74.5" r="2.5" opacity="0.22"/><circle cx="417.2" cy="138.5" r="2.6" opacity="0.14"/><circle cx="405.7" cy="119.7" r="3.0" opacity="0.25"/><circle cx="422.2" cy="57.9" r="2.5" opacity="0.37"/><circle cx="502.0" cy="138.5" r="2.6" opacity="0.43"/><circle cx="499.7" cy="102.2" r="2.6" opacity="0.25"/><circle cx="432.1" cy="140.0" r="2.5" opacity="0.09"/><circle cx="519.6" cy="70.2" r="1.8" opacity="0.17"/><circle cx="441.0" cy="133.7" r="1.8" opacity="0.21"/><circle cx="530.4" cy="100.5" r="3.0" opacity="0.23"/><circle cx="472.3" cy="15.9" r="1.8" opacity="0.31"/><circle cx="478.9" cy="124.1" r="1.7" opacity="0.33"/><circle cx="438.6" cy="116.1" r="2.7" opacity="0.22"/><circle cx="479.7" cy="135.9" r="1.8" opacity="0.36"/><circle cx="438.5" cy="12.9" r="2.0" opacity="0.16"/><circle cx="407.0" cy="132.4" r="2.9" opacity="0.31"/><circle cx="458.1" cy="41.2" r="3.0" opacity="0.27"/><circle cx="532.3" cy="93.1" r="2.7" opacity="0.16"/><circle cx="474.3" cy="134.7" r="1.8" opacity="0.35"/><circle cx="468.6" cy="99.8" r="3.1" opacity="0.20"/><circle cx="496.0" cy="61.3" r="2.6" opacity="0.38"/><circle cx="457.7" cy="24.9" r="2.0" opacity="0.44"/><circle cx="454.7" cy="47.5" r="1.5" opacity="0.29"/><circle cx="486.4" cy="34.9" r="2.7" opacity="0.08"/><circle cx="399.1" cy="118.3" r="3.1" opacity="0.18"/><circle cx="477.0" cy="32.2" r="1.9" opacity="0.40"/><circle cx="438.0" cy="59.5" r="2.7" opacity="0.21"/><circle cx="423.2" cy="53.3" r="2.2" opacity="0.41"/><circle cx="424.5" cy="38.3" r="1.9" opacity="0.48"/><circle cx="512.8" cy="88.1" r="1.7" opacity="0.27"/><circle cx="428.0" cy="19.7" r="3.1" opacity="0.40"/><circle cx="517.6" cy="141.5" r="2.5" opacity="0.32"/><circle cx="453.0" cy="69.1" r="1.7" opacity="0.40"/><circle cx="477.8" cy="114.2" r="2.3" opacity="0.19"/><circle cx="507.0" cy="90.9" r="1.8" opacity="0.12"/><circle cx="420.3" cy="26.3" r="1.7" opacity="0.38"/><circle cx="505.2" cy="85.3" r="2.0" opacity="0.33"/><circle cx="458.8" cy="88.1" r="1.6" opacity="0.24"/><circle cx="464.6" cy="146.3" r="1.6" opacity="0.29"/><circle cx="437.3" cy="77.2" r="1.6" opacity="0.40"/><circle cx="482.1" cy="79.5" r="2.9" opacity="0.26"/><circle cx="422.6" cy="57.5" r="3.4" opacity="0.33"/><circle cx="521.5" cy="61.3" r="2.1" opacity="0.40"/><circle cx="523.2" cy="101.9" r="2.0" opacity="0.26"/><circle cx="493.8" cy="139.8" r="2.6" opacity="0.29"/><circle cx="504.1" cy="25.9" r="1.9" opacity="0.27"/><circle cx="524.3" cy="137.0" r="2.0" opacity="0.18"/><circle cx="482.5" cy="80.4" r="2.4" opacity="0.26"/><circle cx="411.0" cy="80.7" r="3.2" opacity="0.18"/><circle cx="482.1" cy="97.2" r="2.8" opacity="0.40"/><circle cx="413.4" cy="105.1" r="1.5" opacity="0.35"/><circle cx="398.0" cy="43.8" r="2.5" opacity="0.39"/><circle cx="481.3" cy="45.9" r="1.7" opacity="0.18"/><circle cx="438.1" cy="146.3" r="2.9" opacity="0.39"/><circle cx="504.5" cy="108.4" r="2.2" opacity="0.28"/><circle cx="404.0" cy="91.7" r="1.9" opacity="0.25"/><circle cx="495.6" cy="123.3" r="2.3" opacity="0.19"/><circle cx="499.8" cy="134.7" r="2.3" opacity="0.17"/><circle cx="528.4" cy="33.6" r="3.0" opacity="0.10"/><circle cx="503.8" cy="125.8" r="3.0" opacity="0.36"/><circle cx="451.5" cy="14.7" r="2.5" opacity="0.41"/><circle cx="445.5" cy="64.2" r="2.1" opacity="0.33"/><circle cx="411.5" cy="37.6" r="2.9" opacity="0.18"/><circle cx="447.8" cy="113.6" r="2.8" opacity="0.13"/><circle cx="530.9" cy="28.1" r="1.7" opacity="0.38"/><circle cx="470.1" cy="28.4" r="2.6" opacity="0.37"/><circle cx="453.7" cy="132.9" r="2.4" opacity="0.43"/><circle cx="481.7" cy="66.9" r="1.7" opacity="0.09"/><circle cx="518.3" cy="146.6" r="2.9" opacity="0.35"/><circle cx="428.0" cy="65.5" r="1.8" opacity="0.11"/><circle cx="479.9" cy="73.0" r="2.5" opacity="0.22"/><circle cx="493.9" cy="110.2" r="3.1" opacity="0.14"/><circle cx="404.0" cy="62.7" r="3.1" opacity="0.31"/><circle cx="483.5" cy="20.2" r="2.2" opacity="0.13"/><circle cx="463.9" cy="88.3" r="3.1" opacity="0.09"/><circle cx="401.9" cy="21.6" r="3.3" opacity="0.09"/><circle cx="474.7" cy="128.7" r="3.1" opacity="0.22"/><circle cx="505.6" cy="126.6" r="3.3" opacity="0.49"/><circle cx="435.0" cy="30.5" r="1.8" opacity="0.30"/><circle cx="451.3" cy="49.2" r="3.4" opacity="0.10"/><circle cx="436.8" cy="65.2" r="2.1" opacity="0.27"/><circle cx="400.0" cy="90.7" r="2.8" opacity="0.10"/><circle cx="401.6" cy="142.2" r="2.9" opacity="0.27"/><circle cx="453.8" cy="14.3" r="3.0" opacity="0.16"/><circle cx="413.1" cy="26.8" r="1.7" opacity="0.46"/><circle cx="456.6" cy="122.2" r="2.5" opacity="0.44"/><circle cx="402.9" cy="95.1" r="2.5" opacity="0.21"/><circle cx="529.0" cy="128.5" r="2.5" opacity="0.17"/><circle cx="477.0" cy="128.4" r="2.7" opacity="0.38"/><circle cx="399.7" cy="83.4" r="3.0" opacity="0.42"/><circle cx="462.6" cy="17.4" r="2.3" opacity="0.41"/><circle cx="487.1" cy="29.1" r="1.9" opacity="0.12"/><circle cx="399.3" cy="18.6" r="3.3" opacity="0.30"/><circle cx="420.6" cy="135.9" r="1.6" opacity="0.19"/><circle cx="421.7" cy="118.3" r="2.0" opacity="0.28"/><circle cx="508.8" cy="36.4" r="2.7" opacity="0.25"/><circle cx="492.1" cy="65.7" r="3.3" opacity="0.39"/><circle cx="524.3" cy="43.5" r="2.2" opacity="0.40"/><circle cx="461.7" cy="134.7" r="2.5" opacity="0.30"/><circle cx="519.3" cy="96.8" r="3.2" opacity="0.41"/><circle cx="479.7" cy="18.7" r="2.9" opacity="0.21"/><circle cx="423.0" cy="64.6" r="1.7" opacity="0.21"/><circle cx="407.1" cy="96.3" r="2.0" opacity="0.22"/><circle cx="414.7" cy="106.0" r="2.0" opacity="0.28"/><circle cx="509.7" cy="35.4" r="2.7" opacity="0.08"/><circle cx="397.8" cy="56.7" r="3.4" opacity="0.44"/><circle cx="413.4" cy="47.4" r="1.7" opacity="0.27"/><circle cx="482.4" cy="63.6" r="1.8" opacity="0.19"/><circle cx="482.4" cy="13.8" r="3.2" opacity="0.31"/><circle cx="419.9" cy="137.4" r="2.5" opacity="0.22"/><circle cx="467.3" cy="139.9" r="2.7" opacity="0.30"/><circle cx="530.7" cy="125.6" r="2.6" opacity="0.21"/><circle cx="530.2" cy="71.3" r="2.8" opacity="0.41"/><circle cx="511.3" cy="88.8" r="2.7" opacity="0.16"/><circle cx="501.7" cy="38.1" r="2.5" opacity="0.08"/><circle cx="421.0" cy="130.1" r="1.9" opacity="0.36"/><circle cx="515.1" cy="106.1" r="1.7" opacity="0.26"/><circle cx="442.0" cy="88.6" r="3.4" opacity="0.12"/><circle cx="442.1" cy="45.6" r="2.8" opacity="0.25"/><circle cx="400.8" cy="55.9" r="3.2" opacity="0.09"/><circle cx="471.6" cy="21.9" r="2.0" opacity="0.13"/><circle cx="436.5" cy="131.8" r="2.3" opacity="0.24"/><circle cx="498.0" cy="142.6" r="2.1" opacity="0.40"/><circle cx="464.7" cy="122.7" r="2.7" opacity="0.31"/><circle cx="453.1" cy="68.3" r="2.0" opacity="0.18"/><circle cx="448.6" cy="45.4" r="2.1" opacity="0.33"/><circle cx="504.7" cy="22.0" r="2.8" opacity="0.19"/><circle cx="532.5" cy="15.7" r="2.1" opacity="0.13"/><circle cx="424.4" cy="17.9" r="2.1" opacity="0.46"/><circle cx="458.2" cy="121.0" r="1.6" opacity="0.20"/><circle cx="436.3" cy="18.8" r="2.2" opacity="0.41"/><circle cx="517.1" cy="20.8" r="3.0" opacity="0.10"/><circle cx="506.7" cy="22.5" r="1.7" opacity="0.18"/><circle cx="436.5" cy="120.8" r="1.9" opacity="0.25"/><circle cx="409.3" cy="13.1" r="1.7" opacity="0.32"/><circle cx="524.0" cy="121.3" r="3.0" opacity="0.26"/><circle cx="530.6" cy="75.6" r="3.1" opacity="0.26"/><circle cx="497.7" cy="109.9" r="2.5" opacity="0.10"/><circle cx="403.5" cy="120.9" r="2.5" opacity="0.26"/><circle cx="436.2" cy="124.1" r="1.5" opacity="0.11"/><circle cx="414.7" cy="55.6" r="3.2" opacity="0.31"/><circle cx="430.5" cy="148.7" r="2.1" opacity="0.24"/><circle cx="452.4" cy="85.7" r="1.7" opacity="0.08"/><circle cx="419.6" cy="19.7" r="2.4" opacity="0.42"/><circle cx="401.9" cy="109.2" r="3.2" opacity="0.41"/><circle cx="440.8" cy="39.2" r="3.0" opacity="0.32"/><circle cx="466.4" cy="111.5" r="3.2" opacity="0.12"/><circle cx="465.8" cy="48.0" r="1.6" opacity="0.29"/><circle cx="495.6" cy="46.8" r="2.8" opacity="0.20"/><circle cx="522.0" cy="148.8" r="3.0" opacity="0.34"/><circle cx="468.8" cy="44.8" r="3.3" opacity="0.34"/><circle cx="469.3" cy="130.1" r="2.8" opacity="0.32"/><circle cx="424.2" cy="117.3" r="3.0" opacity="0.10"/><circle cx="483.2" cy="80.2" r="1.6" opacity="0.14"/><circle cx="408.9" cy="23.4" r="2.2" opacity="0.44"/><circle cx="406.9" cy="34.7" r="2.7" opacity="0.24"/><circle cx="435.2" cy="130.6" r="1.8" opacity="0.14"/><circle cx="505.2" cy="140.1" r="2.6" opacity="0.30"/><circle cx="411.8" cy="68.5" r="2.2" opacity="0.30"/><circle cx="410.8" cy="97.1" r="2.3" opacity="0.44"/><circle cx="492.0" cy="70.0" r="2.4" opacity="0.19"/><circle cx="527.6" cy="134.6" r="2.1" opacity="0.22"/><circle cx="400.5" cy="73.5" r="1.6" opacity="0.26"/><circle cx="400.5" cy="117.4" r="2.4" opacity="0.10"/><circle cx="531.5" cy="69.3" r="2.0" opacity="0.44"/><circle cx="439.5" cy="89.9" r="2.4" opacity="0.25"/><circle cx="434.2" cy="82.6" r="2.3" opacity="0.30"/><circle cx="418.7" cy="17.2" r="1.6" opacity="0.11"/><circle cx="512.8" cy="71.9" r="2.2" opacity="0.16"/><circle cx="500.0" cy="117.4" r="1.5" opacity="0.28"/><circle cx="447.6" cy="143.9" r="3.1" opacity="0.09"/><circle cx="516.9" cy="114.1" r="2.4" opacity="0.38"/><circle cx="426.9" cy="24.9" r="1.7" opacity="0.15"/><circle cx="472.3" cy="109.7" r="1.8" opacity="0.32"/><circle cx="517.1" cy="94.6" r="2.8" opacity="0.30"/><circle cx="513.2" cy="13.3" r="2.6" opacity="0.41"/><circle cx="525.2" cy="60.9" r="2.3" opacity="0.35"/><circle cx="523.4" cy="25.8" r="2.0" opacity="0.21"/><circle cx="432.3" cy="108.1" r="3.1" opacity="0.33"/><circle cx="406.7" cy="40.3" r="1.5" opacity="0.17"/><circle cx="521.0" cy="125.6" r="2.7" opacity="0.23"/><circle cx="529.3" cy="127.2" r="2.5" opacity="0.15"/><circle cx="452.9" cy="148.8" r="2.3" opacity="0.28"/><circle cx="448.9" cy="22.2" r="2.7" opacity="0.40"/><circle cx="475.8" cy="125.5" r="3.4" opacity="0.19"/><circle cx="521.8" cy="116.1" r="2.3" opacity="0.17"/><circle cx="452.0" cy="123.2" r="2.5" opacity="0.19"/><circle cx="477.2" cy="13.5" r="2.7" opacity="0.11"/><circle cx="521.6" cy="123.9" r="3.0" opacity="0.37"/><circle cx="422.5" cy="148.4" r="3.0" opacity="0.18"/><circle cx="482.0" cy="124.3" r="3.3" opacity="0.33"/><circle cx="499.3" cy="93.0" r="2.8" opacity="0.28"/><circle cx="407.3" cy="98.7" r="2.6" opacity="0.34"/><circle cx="479.9" cy="104.5" r="1.5" opacity="0.16"/><circle cx="532.8" cy="52.6" r="3.2" opacity="0.25"/><circle cx="423.4" cy="31.6" r="1.8" opacity="0.21"/><circle cx="472.5" cy="103.3" r="2.4" opacity="0.19"/><circle cx="481.8" cy="20.0" r="3.3" opacity="0.31"/><circle cx="426.7" cy="46.5" r="1.6" opacity="0.27"/><circle cx="482.7" cy="47.3" r="1.6" opacity="0.25"/><circle cx="428.6" cy="40.3" r="2.2" opacity="0.29"/><circle cx="409.0" cy="23.5" r="1.7" opacity="0.24"/><circle cx="399.2" cy="18.9" r="2.7" opacity="0.15"/><circle cx="452.4" cy="14.5" r="3.0" opacity="0.09"/><circle cx="477.5" cy="74.1" r="3.1" opacity="0.21"/><circle cx="439.5" cy="118.9" r="2.7" opacity="0.25"/><circle cx="522.9" cy="69.5" r="2.7" opacity="0.12"/><circle cx="459.7" cy="84.7" r="3.0" opacity="0.14"/><circle cx="403.9" cy="143.3" r="2.2" opacity="0.36"/><circle cx="439.4" cy="18.4" r="2.1" opacity="0.13"/><circle cx="435.2" cy="41.0" r="1.7" opacity="0.21"/><circle cx="488.3" cy="83.3" r="1.6" opacity="0.11"/><circle cx="408.1" cy="81.2" r="2.6" opacity="0.18"/><circle cx="481.8" cy="133.6" r="3.0" opacity="0.20"/><circle cx="466.6" cy="43.3" r="1.6" opacity="0.30"/><circle cx="401.8" cy="109.7" r="3.0" opacity="0.41"/><circle cx="463.7" cy="104.9" r="3.2" opacity="0.23"/><circle cx="407.7" cy="75.6" r="2.9" opacity="0.10"/><circle cx="533.8" cy="62.7" r="1.6" opacity="0.19"/><circle cx="475.6" cy="130.7" r="1.7" opacity="0.33"/><circle cx="499.5" cy="75.9" r="2.6" opacity="0.26"/><circle cx="533.1" cy="103.2" r="2.3" opacity="0.27"/><circle cx="401.4" cy="28.0" r="2.0" opacity="0.26"/><circle cx="434.1" cy="126.1" r="2.0" opacity="0.32"/><circle cx="525.0" cy="74.7" r="2.1" opacity="0.44"/><circle cx="491.7" cy="133.9" r="2.2" opacity="0.23"/><circle cx="449.1" cy="23.5" r="3.2" opacity="0.39"/><circle cx="458.2" cy="133.8" r="3.3" opacity="0.16"/><circle cx="524.2" cy="145.7" r="1.7" opacity="0.33"/><circle cx="460.2" cy="18.2" r="2.2" opacity="0.42"/><circle cx="436.6" cy="115.1" r="2.2" opacity="0.37"/><circle cx="516.7" cy="148.4" r="3.2" opacity="0.22"/><circle cx="400.6" cy="32.4" r="2.5" opacity="0.10"/><circle cx="401.6" cy="66.7" r="2.1" opacity="0.15"/><circle cx="534.0" cy="143.1" r="3.3" opacity="0.42"/><circle cx="466.1" cy="109.7" r="3.0" opacity="0.33"/><circle cx="501.1" cy="98.1" r="3.4" opacity="0.08"/><circle cx="459.9" cy="119.0" r="3.2" opacity="0.33"/><circle cx="460.3" cy="16.8" r="2.6" opacity="0.20"/><circle cx="506.1" cy="60.7" r="2.4" opacity="0.14"/><circle cx="473.1" cy="90.0" r="2.8" opacity="0.35"/><circle cx="481.2" cy="57.1" r="2.8" opacity="0.14"/><circle cx="432.4" cy="76.9" r="3.3" opacity="0.25"/><circle cx="494.3" cy="122.8" r="2.8" opacity="0.38"/><circle cx="509.5" cy="117.6" r="2.9" opacity="0.45"/><circle cx="404.5" cy="76.5" r="1.9" opacity="0.14"/><circle cx="463.5" cy="101.9" r="3.0" opacity="0.33"/><circle cx="482.4" cy="141.5" r="3.3" opacity="0.24"/><circle cx="511.3" cy="94.5" r="3.1" opacity="0.34"/><circle cx="478.9" cy="72.7" r="2.9" opacity="0.36"/><circle cx="448.0" cy="137.7" r="2.7" opacity="0.08"/><circle cx="451.3" cy="146.4" r="2.4" opacity="0.30"/><circle cx="400.7" cy="34.2" r="1.5" opacity="0.15"/><circle cx="401.9" cy="138.2" r="2.5" opacity="0.25"/><circle cx="531.3" cy="27.4" r="3.1" opacity="0.37"/><circle cx="493.9" cy="134.2" r="2.1" opacity="0.13"/><circle cx="426.8" cy="31.1" r="2.2" opacity="0.18"/><circle cx="408.2" cy="36.9" r="2.5" opacity="0.15"/><circle cx="461.9" cy="73.2" r="1.5" opacity="0.14"/><circle cx="447.0" cy="53.5" r="3.2" opacity="0.31"/><circle cx="406.9" cy="41.8" r="2.0" opacity="0.33"/><circle cx="472.7" cy="103.4" r="2.1" opacity="0.20"/><circle cx="487.5" cy="94.3" r="2.2" opacity="0.33"/><circle cx="508.4" cy="128.7" r="2.6" opacity="0.37"/><circle cx="452.1" cy="60.6" r="2.4" opacity="0.09"/><circle cx="413.3" cy="30.9" r="3.3" opacity="0.48"/><circle cx="399.0" cy="63.4" r="2.8" opacity="0.27"/><circle cx="434.2" cy="70.6" r="3.0" opacity="0.30"/><circle cx="403.2" cy="89.8" r="2.0" opacity="0.29"/><circle cx="534.0" cy="136.6" r="2.8" opacity="0.23"/><circle cx="484.9" cy="92.4" r="2.4" opacity="0.16"/><circle cx="456.0" cy="60.5" r="2.9" opacity="0.37"/><circle cx="516.0" cy="36.5" r="3.3" opacity="0.36"/><circle cx="450.1" cy="45.5" r="2.6" opacity="0.42"/><circle cx="404.6" cy="57.0" r="2.4" opacity="0.40"/><circle cx="465.0" cy="74.3" r="2.7" opacity="0.28"/><circle cx="522.0" cy="120.1" r="2.8" opacity="0.20"/><circle cx="507.3" cy="147.6" r="2.9" opacity="0.32"/><circle cx="488.2" cy="141.2" r="3.2" opacity="0.34"/><circle cx="435.6" cy="49.9" r="3.1" opacity="0.35"/><circle cx="531.6" cy="86.1" r="1.6" opacity="0.17"/><circle cx="500.5" cy="28.3" r="2.7" opacity="0.35"/><circle cx="517.1" cy="80.0" r="3.4" opacity="0.19"/><circle cx="513.6" cy="43.4" r="2.3" opacity="0.32"/><circle cx="515.0" cy="100.6" r="2.4" opacity="0.35"/><circle cx="519.3" cy="33.6" r="2.2" opacity="0.21"/><circle cx="522.9" cy="61.5" r="3.4" opacity="0.31"/><circle cx="505.7" cy="107.0" r="2.0" opacity="0.35"/><circle cx="440.2" cy="107.2" r="2.2" opacity="0.32"/><circle cx="455.7" cy="55.0" r="1.8" opacity="0.14"/><circle cx="401.8" cy="79.2" r="2.3" opacity="0.25"/><circle cx="495.9" cy="101.9" r="3.3" opacity="0.12"/><circle cx="454.7" cy="14.4" r="1.7" opacity="0.26"/><circle cx="456.6" cy="144.9" r="2.5" opacity="0.16"/><circle cx="520.3" cy="103.9" r="1.9" opacity="0.21"/><circle cx="495.7" cy="84.8" r="1.6" opacity="0.36"/><circle cx="510.3" cy="90.8" r="2.4" opacity="0.21"/><circle cx="529.5" cy="74.9" r="1.6" opacity="0.43"/><circle cx="521.5" cy="45.6" r="3.3" opacity="0.28"/><circle cx="425.4" cy="46.2" r="2.6" opacity="0.27"/><circle cx="458.5" cy="124.6" r="1.6" opacity="0.24"/><circle cx="430.8" cy="139.7" r="1.7" opacity="0.11"/><circle cx="507.1" cy="31.3" r="2.9" opacity="0.25"/><circle cx="510.9" cy="35.6" r="2.5" opacity="0.29"/><circle cx="499.8" cy="128.1" r="1.5" opacity="0.19"/><circle cx="504.4" cy="49.4" r="3.0" opacity="0.21"/><circle cx="450.4" cy="96.5" r="2.3" opacity="0.25"/><circle cx="523.7" cy="95.5" r="1.8" opacity="0.19"/><circle cx="399.5" cy="133.6" r="1.6" opacity="0.34"/><circle cx="417.9" cy="57.2" r="2.0" opacity="0.33"/><circle cx="455.5" cy="78.7" r="3.1" opacity="0.10"/><circle cx="416.0" cy="83.2" r="2.4" opacity="0.31"/><circle cx="502.7" cy="39.8" r="3.2" opacity="0.32"/><circle cx="428.7" cy="81.9" r="2.6" opacity="0.29"/><circle cx="435.8" cy="15.6" r="3.2" opacity="0.45"/><circle cx="486.4" cy="88.9" r="2.8" opacity="0.16"/><circle cx="490.9" cy="18.2" r="1.7" opacity="0.22"/><circle cx="421.4" cy="133.1" r="1.7" opacity="0.12"/><circle cx="510.9" cy="89.5" r="2.9" opacity="0.15"/><circle cx="434.8" cy="77.9" r="3.1" opacity="0.27"/><circle cx="422.1" cy="70.0" r="2.4" opacity="0.26"/><circle cx="433.9" cy="59.4" r="2.8" opacity="0.29"/><circle cx="515.5" cy="49.8" r="2.3" opacity="0.23"/><circle cx="426.8" cy="35.6" r="2.4" opacity="0.32"/><circle cx="429.9" cy="28.4" r="1.8" opacity="0.33"/><circle cx="448.9" cy="134.0" r="1.9" opacity="0.32"/><circle cx="457.8" cy="63.6" r="3.2" opacity="0.11"/><circle cx="418.9" cy="106.7" r="1.6" opacity="0.28"/><circle cx="462.6" cy="73.4" r="2.5" opacity="0.36"/><circle cx="518.8" cy="88.0" r="3.3" opacity="0.39"/></g></g>
<rect x="455.30" y="17.40" width="73.70" height="56.10" fill="none" stroke="#fff" stroke-width="0.9" />
<rect x="464.20" y="65.90" width="6.04" height="7.00" fill="url(#hbar)" stroke="none" stroke-width="1" />
<rect x="471.00" y="49.55" width="6.19" height="23.35" fill="url(#hbar)" stroke="none" stroke-width="1" />
<rect x="478.10" y="26.20" width="7.25" height="46.70" fill="url(#hbar)" stroke="none" stroke-width="1" />
<rect x="486.25" y="50.72" width="6.80" height="22.18" fill="url(#hbar)" stroke="none" stroke-width="1" />
<rect x="493.80" y="62.39" width="6.95" height="10.51" fill="url(#hbar)" stroke="none" stroke-width="1" />
<rect x="501.35" y="70.57" width="5.44" height="2.33" fill="url(#hbar)" stroke="none" stroke-width="1" />
<path d="M455.3,72.8 460.1,72.5 463.1,71.5 465.6,69.8 466.8,68.5 468,66.8 470.4,61.8 472.2,56.6 477.6,36.9 479.5,31.2 481.3,27.2 482.5,25.9 483.1,25.6 483.7,25.7 484.9,26.7 486.7,30.4 488.5,35.9 492.7,51.5 495.2,59.3 497.6,65.1 498.8,67.2 500.6,69.5 501.8,70.6 503.6,71.7 505.4,72.3 507.2,72.6 512.7,72.9 529,72.9" stroke="#fff" stroke-width="1.0" fill="none" stroke-linejoin="round" />
<text x="453.80" y="75.80" font-size="7.8" font-weight="bold" text-anchor="end" fill="#fff" stroke="#fff" stroke-width="0.1" >0</text>
<line x1="455.30" y1="72.90" x2="456.80" y2="72.90" stroke="#fff" stroke-width="0.6" />
<text x="453.80" y="64.13" font-size="7.8" font-weight="bold" text-anchor="end" fill="#fff" stroke="#fff" stroke-width="0.1" >10</text>
<line x1="455.30" y1="61.23" x2="456.80" y2="61.23" stroke="#fff" stroke-width="0.6" />
<text x="453.80" y="52.45" font-size="7.8" font-weight="bold" text-anchor="end" fill="#fff" stroke="#fff" stroke-width="0.1" >20</text>
<line x1="455.30" y1="49.55" x2="456.80" y2="49.55" stroke="#fff" stroke-width="0.6" />
<text x="453.80" y="40.78" font-size="7.8" font-weight="bold" text-anchor="end" fill="#fff" stroke="#fff" stroke-width="0.1" >30</text>
<line x1="455.30" y1="37.88" x2="456.80" y2="37.88" stroke="#fff" stroke-width="0.6" />
<text x="453.80" y="29.10" font-size="7.8" font-weight="bold" text-anchor="end" fill="#fff" stroke="#fff" stroke-width="0.1" >40</text>
<line x1="455.30" y1="26.20" x2="456.80" y2="26.20" stroke="#fff" stroke-width="0.6" />
<text x="463.60" y="81.40" font-size="7.8" font-weight="bold" text-anchor="middle" fill="#fff" stroke="#fff" stroke-width="0.1" >20</text>
<line x1="463.60" y1="73.50" x2="463.60" y2="72.00" stroke="#fff" stroke-width="0.6" />
<text x="478.70" y="81.40" font-size="7.8" font-weight="bold" text-anchor="middle" fill="#fff" stroke="#fff" stroke-width="0.1" >30</text>
<line x1="478.70" y1="73.50" x2="478.70" y2="72.00" stroke="#fff" stroke-width="0.6" />
<text x="493.80" y="81.40" font-size="7.8" font-weight="bold" text-anchor="middle" fill="#fff" stroke="#fff" stroke-width="0.1" >40</text>
<line x1="493.80" y1="73.50" x2="493.80" y2="72.00" stroke="#fff" stroke-width="0.6" />
<text x="508.90" y="81.40" font-size="7.8" font-weight="bold" text-anchor="middle" fill="#fff" stroke="#fff" stroke-width="0.1" >50</text>
<line x1="508.90" y1="73.50" x2="508.90" y2="72.00" stroke="#fff" stroke-width="0.6" />
<text x="524.00" y="81.40" font-size="7.8" font-weight="bold" text-anchor="middle" fill="#fff" stroke="#fff" stroke-width="0.1" >60</text>
<line x1="524.00" y1="73.50" x2="524.00" y2="72.00" stroke="#fff" stroke-width="0.6" />
<text x="492.70" y="88.40" font-size="8.0" font-weight="bold" text-anchor="middle" fill="#fff" stroke="#fff" stroke-width="0.1" >Diameter (nm)</text>
<text transform="translate(443.00,46.00) rotate(-90)" font-size="7.6" font-weight="bold" text-anchor="middle" fill="#fff" stroke="#fff" stroke-width="0.1">Counts</text>
<text x="528.80" y="24.60" font-size="7.2" font-weight="bold" text-anchor="end" fill="#fff" stroke="#fff" stroke-width="0.1" >d = 33 ± 6 nm</text>
<text x="521.50" y="32.30" font-size="7.3" font-weight="bold" text-anchor="end" fill="#fff" stroke="#fff" stroke-width="0.1" >(n = 100)</text>
<rect x="406.80" y="139.30" width="33.20" height="2.00" fill="#fff" stroke="none" stroke-width="1" />
<text x="423.40" y="137.60" font-size="9.4" font-weight="bold" text-anchor="middle" fill="#fff" stroke="#fff" stroke-width="0.1" >200 nm</text>
<rect x="536.5" y="15.8" width="129.5" height="130.2" fill="#3b0602"/>
<g clip-path="url(#cafm)"><g filter="url(#fafm3)"><ellipse cx="566" cy="90" rx="22" ry="12" transform="rotate(30,566,90)" fill="#8c3a0a" opacity="0.9"/><ellipse cx="612" cy="117" rx="23" ry="17" transform="rotate(35,612,117)" fill="#8c3a0a" opacity="0.9"/><ellipse cx="580" cy="86" rx="10" ry="6" transform="rotate(20,580,86)" fill="#8c3a0a" opacity="0.9"/><ellipse cx="626" cy="113" rx="8" ry="6" transform="rotate(0,626,113)" fill="#8c3a0a" opacity="0.9"/></g><g filter="url(#fafm2)"><ellipse cx="565" cy="90" rx="17" ry="8.5" transform="rotate(32,565,90)" fill="#d08834" opacity="1"/><ellipse cx="556" cy="95" rx="8" ry="6" transform="rotate(10,556,95)" fill="#d08834" opacity="1"/><ellipse cx="577" cy="85" rx="9" ry="5" transform="rotate(15,577,85)" fill="#d08834" opacity="1"/><ellipse cx="611" cy="117" rx="17" ry="12" transform="rotate(35,611,117)" fill="#d08834" opacity="1"/><ellipse cx="625" cy="113" rx="7" ry="5" transform="rotate(-10,625,113)" fill="#d08834" opacity="1"/><ellipse cx="610" cy="128" rx="9" ry="6" transform="rotate(10,610,128)" fill="#d08834" opacity="1"/><ellipse cx="599" cy="107" rx="7" ry="5" transform="rotate(20,599,107)" fill="#d08834" opacity="1"/></g><g filter="url(#fafm2)"><ellipse cx="567" cy="89.7" rx="8" ry="4.8" transform="rotate(32,567,89.7)" fill="#f2d9a2" opacity="1"/><ellipse cx="556.5" cy="96.3" rx="5.5" ry="4" transform="rotate(20,556.5,96.3)" fill="#f2d9a2" opacity="1"/><ellipse cx="561.5" cy="85.3" rx="5.5" ry="3.8" transform="rotate(30,561.5,85.3)" fill="#f2d9a2" opacity="1"/><ellipse cx="602.8" cy="108" rx="7.5" ry="4.5" transform="rotate(30,602.8,108)" fill="#f2d9a2" opacity="1"/><ellipse cx="615.9" cy="116.7" rx="7" ry="4.6" transform="rotate(25,615.9,116.7)" fill="#f2d9a2" opacity="1"/><ellipse cx="604.2" cy="119.6" rx="6" ry="4" transform="rotate(20,604.2,119.6)" fill="#f2d9a2" opacity="1"/><ellipse cx="609" cy="112" rx="4" ry="3" transform="rotate(30,609,112)" fill="#f2d9a2" opacity="1"/></g></g>
<line x1="547.30" y1="72.20" x2="584.50" y2="96.80" stroke="#fff" stroke-width="0.85" />
<line x1="593.50" y1="102.75" x2="640.00" y2="133.50" stroke="#fff" stroke-width="0.85" />
<line x1="537.80" y1="81.80" x2="574.50" y2="105.57" stroke="#fff" stroke-width="0.85" />
<line x1="583.00" y1="111.07" x2="630.60" y2="141.90" stroke="#fff" stroke-width="0.85" />
<text x="589.00" y="102.70" font-size="8.4" font-weight="bold" text-anchor="middle" fill="#fff" stroke="#fff" stroke-width="0.1" >1</text>
<text x="578.70" y="112.00" font-size="8.4" font-weight="bold" text-anchor="middle" fill="#fff" stroke="#fff" stroke-width="0.1" >2</text>
<rect x="541.80" y="139.60" width="41.80" height="2.00" fill="#fff" stroke="none" stroke-width="1" />
<text x="562.70" y="137.20" font-size="9.4" font-weight="bold" text-anchor="middle" fill="#fff" stroke="#fff" stroke-width="0.1" >200 nm</text>
<rect x="590.60" y="17.30" width="73.90" height="56.70" fill="none" stroke="#fff" stroke-width="0.8" />
<line x1="590.60" y1="45.30" x2="664.50" y2="45.30" stroke="#fff" stroke-width="0.8" />
<path d="M590.6,42.7 602,42.7 602.3,42.5 603,40.9 603.4,39.1 605.2,24.2 605.9,21.7 606.2,21.1 606.9,20.6 611.6,21.5 611.9,20.9 619.7,33.7 624.4,42.4 624.7,42.7 631.1,42.7 631.8,41.7 632.2,40.5 633.9,26.9 634.3,25 635,23 635.4,22.6 636.1,22.3 638.6,22.3 639.3,22.6 640.7,24.3 641.1,24.4 641.8,23.7 643.2,21.5 644.2,20.8 645.7,20.5 649.9,20.4 653.8,20.6 654.6,21 655.3,22.2 656,25.5 657.4,38.2 657.7,40.3 658.5,42.3 658.8,42.7 664.5,42.7" stroke="#fff" stroke-width="0.9" fill="none" stroke-linejoin="round" />
<path d="M590.6,71.7 601.6,71.7 602,71.5 602.7,70.2 603.4,66.8 604.8,53.7 605.5,50.3 605.9,49.5 606.6,48.8 607.3,48.6 609.1,48.5 610.9,48.6 611.6,48.8 612.3,49.5 612.6,50.3 613.3,53.7 615.1,68.9 615.8,71 616.5,71.7 640,71.7 640.7,70.9 641.1,69.9 642.8,57.4 643.5,55.2 644.2,54.6 645,54.4 649.6,54.4 654.2,54.4 654.9,54.6 655.6,55.2 656.3,57.4 657.7,68.2 658.1,69.9 658.8,71.4 659.2,71.7 664.5,71.7" stroke="#fff" stroke-width="0.9" fill="none" stroke-linejoin="round" />
<text x="627.50" y="27.50" font-size="7.2" font-weight="bold" text-anchor="middle" fill="#fff" stroke="#fff" stroke-width="0.1" >(1)</text>
<text x="627.50" y="55.50" font-size="7.2" font-weight="bold" text-anchor="middle" fill="#fff" stroke="#fff" stroke-width="0.1" >(2)</text>
<text x="589.10" y="23.34" font-size="8.2" font-weight="bold" text-anchor="end" fill="#fff" stroke="#fff" stroke-width="0.1" >40</text>
<text x="589.10" y="34.77" font-size="8.2" font-weight="bold" text-anchor="end" fill="#fff" stroke="#fff" stroke-width="0.1" >20</text>
<text x="589.10" y="51.38" font-size="8.2" font-weight="bold" text-anchor="end" fill="#fff" stroke="#fff" stroke-width="0.1" >40</text>
<text x="589.10" y="63.14" font-size="8.2" font-weight="bold" text-anchor="end" fill="#fff" stroke="#fff" stroke-width="0.1" >20</text>
<text x="589.10" y="74.90" font-size="8.2" font-weight="bold" text-anchor="end" fill="#fff" stroke="#fff" stroke-width="0.1" >0</text>
<text x="590.60" y="82.00" font-size="8.2" font-weight="bold" text-anchor="middle" fill="#fff" stroke="#fff" stroke-width="0.1" >0</text>
<text x="626.13" y="82.00" font-size="8.2" font-weight="bold" text-anchor="middle" fill="#fff" stroke="#fff" stroke-width="0.1" >250</text>
<text x="661.66" y="82.00" font-size="8.2" font-weight="bold" text-anchor="middle" fill="#fff" stroke="#fff" stroke-width="0.1" >500</text>
<text x="628.00" y="88.00" font-size="8.2" font-weight="bold" text-anchor="middle" fill="#fff" stroke="#fff" stroke-width="0.1" >Distance (nm)</text>
<text transform="translate(578.00,46.60) rotate(-90)" font-size="8.0" font-weight="bold" text-anchor="middle" fill="#fff" stroke="#fff" stroke-width="0.1">Height (nm)</text>
<rect x="57.32" y="211.80" width="15.06" height="47.50" fill="#dcdedf" stroke="none" stroke-width="1" />
<rect x="110.78" y="199.80" width="19.73" height="76.60" fill="#dcdedf" stroke="none" stroke-width="1" />
<rect x="135.63" y="218.40" width="12.05" height="40.90" fill="#dcdedf" stroke="none" stroke-width="1" />
<rect x="156.72" y="199.80" width="13.55" height="76.80" fill="#dcdedf" stroke="none" stroke-width="1" />
<path d="M27.2,230.3 29.6,230.6 32,230.1 34.4,230.9 35.6,231 38.6,230.4 39.9,230.7 41.1,230.5 41.7,230.7 42.3,230.5 44.1,230.6 47.1,230.1 49.5,230.3 53.1,229.7 53.7,229.9 54.9,229.8 56.1,230 56.7,229.8 57.9,229.9 58.5,229.7 59.7,229.9 60.3,229.6 61.5,229.6 62.7,227.6 64.5,223.7 65.2,223.3 65.8,223.5 66.4,223.9 68.2,225.9 68.8,226.2 69.4,226.3 71.8,225.8 72.4,225.8 74.2,225 75.4,224.9 76,225.3 76.6,225.2 77.2,225.4 79,224.9 80.8,224.7 81.4,224.9 83.2,224.8 83.8,225.2 85,225 86.8,224.5 88.6,224.3 89.2,224.4 90.5,223.9 91.7,223.9 93.5,223.5 94.1,223.6 94.7,223.2 95.3,223.2 96.5,222.8 98.3,221.8 98.9,221.8 100.1,221.3 101.3,221.2 102.5,220.6 103.7,219.6 104.9,218.3 106.1,217.4 108.5,214.7 110.3,213.5 111.5,212.9 112.1,212.3 112.7,212.1 114.5,210.9 115.2,210.8 117,209.2 118.8,208.6 120,208.9 121.2,208.8 123.6,209.8 126,211.2 129,213.8 130.2,214.3 131.4,215.2 134.4,217.7 136.2,218.3 139.2,218.4 140.5,218.5 141.1,218.8 141.7,218.6 143.5,218.9 144.1,218.7 145.3,219.5 146.5,220.8 147.7,221.6 148.3,221.7 149.5,221.3 153.7,220.9 156.1,220.2 157.9,219.3 160.3,217.5 162.1,216.4 163.9,216.7 167,219.6 175.4,227 176.6,228 177.8,228.6" stroke="#e2545f" stroke-width="1.15" fill="none" stroke-linejoin="round" />
<path d="M27.2,252.4 32,252.6 34.4,252.9 37.4,252.3 41.1,252.6 44.1,251.9 44.7,252.1 45.3,251.9 46.5,252.3 47.7,252.5 50.7,251.9 51.3,252 53.1,251.8 56.1,251.9 56.7,251.7 57.3,251.8 58.5,251.6 59.7,251.2 62.1,249.9 65.2,247 65.8,246.9 67,247.2 70,249.8 71.2,250.5 80.2,250 81.4,249.4 84.4,249.2 86.8,248.6 87.4,248.2 89.2,247.7 91.7,247.5 92.3,247.3 92.9,246.9 94.1,246.9 98.9,245.5 102.5,243.5 103.7,242.7 106.7,239.4 110.3,236.8 112.7,234.5 117,231.2 118.8,230.7 119.4,230.4 121.2,230.3 122.4,230.9 125.4,233.1 126.6,233.5 127.8,234.2 129.6,235.9 130.2,236 131.4,236.7 132.6,237 133.8,237.6 135,237.6 137.4,238.4 138,238.4 139.8,237.9 140.5,238.1 141.1,239 142.9,242.8 143.5,243.8 144.1,243.9 147.1,243.2 148.9,243.2 150.1,243.5 151.3,243.6 151.9,243.5 152.5,243.1 153.7,242.9 155.5,243 156.1,242.8 157.3,241.8 159.1,239.9 160.3,239.2 162.7,237.9 163.9,238 165.1,239 166.4,240.6 168.8,243.1 171.2,245.4 174.2,247.4 177.2,250.1 177.8,250.5" stroke="#3d8fc4" stroke-width="1.15" fill="none" stroke-linejoin="round" />
<path d="M27.2,273.6 30.2,273.4 31.4,273.8 33.2,274 34.4,273.6 36.2,273.4 38,273.3 39.2,273.8 40.5,273.8 42.3,273.3 47.1,273.2 47.7,272.8 48.9,272.5 50.7,272.4 53.1,271.7 56.7,271.2 57.9,271.1 59.7,271.4 62.1,270.9 63.9,271 68.2,270.1 69.4,270.5 71.8,270.4 74.2,269.8 75.4,269.2 76.6,269.1 79.6,267.9 81.4,267.6 83.8,267.5 86.8,269.1 89.8,269 91.7,268.4 95.3,266.7 96.5,266 97.7,265.8 101.3,264.1 101.9,264 104.3,262.6 104.9,261.9 106.1,261.8 107.3,260.8 107.9,260.6 111.5,257.8 115.2,255.6 118.2,253.4 118.8,253.1 120,253 121.2,253.2 123.6,254.2 125.4,255.3 127.2,257.1 129,258.4 131.4,259.7 132.6,260 133.8,260.8 134.4,260.9 135,261.4 137.4,262.2 140.5,262.9 141.1,262.8 141.7,263.3 142.3,263.3 144.1,264.2 147.1,264.2 150.1,264.7 152.5,264.5 153.7,264.1 157.3,262.1 158.5,260.8 160.3,259.5 162.7,259.1 163.9,259.3 164.5,259.6 165.1,260.1 167.6,262.8 171.2,266.1 172.4,266.8 173.6,268 175.4,269.2 176,269.3 176.6,269.6 177.8,270.8" stroke="#666" stroke-width="1.15" fill="none" stroke-linejoin="round" />
<rect x="27.20" y="185.40" width="150.60" height="101.60" fill="none" stroke="#333" stroke-width="1.1" />
<line x1="42.26" y1="287.00" x2="42.26" y2="284.50" stroke="#333" stroke-width="0.8" />
<text x="42.26" y="297.30" font-size="9.1" font-weight="bold" text-anchor="middle" fill="#000" stroke="#000" stroke-width="0.1" >800</text>
<line x1="72.38" y1="287.00" x2="72.38" y2="284.50" stroke="#333" stroke-width="0.8" />
<text x="72.38" y="297.30" font-size="9.1" font-weight="bold" text-anchor="middle" fill="#000" stroke="#000" stroke-width="0.1" >1000</text>
<line x1="102.50" y1="287.00" x2="102.50" y2="284.50" stroke="#333" stroke-width="0.8" />
<text x="102.50" y="297.30" font-size="9.1" font-weight="bold" text-anchor="middle" fill="#000" stroke="#000" stroke-width="0.1" >1200</text>
<line x1="132.62" y1="287.00" x2="132.62" y2="284.50" stroke="#333" stroke-width="0.8" />
<text x="132.62" y="297.30" font-size="9.1" font-weight="bold" text-anchor="middle" fill="#000" stroke="#000" stroke-width="0.1" >1400</text>
<line x1="162.74" y1="287.00" x2="162.74" y2="284.50" stroke="#333" stroke-width="0.8" />
<text x="162.74" y="297.30" font-size="9.1" font-weight="bold" text-anchor="middle" fill="#000" stroke="#000" stroke-width="0.1" >1600</text>
<line x1="57.32" y1="287.00" x2="57.32" y2="285.50" stroke="#333" stroke-width="0.6" />
<line x1="87.44" y1="287.00" x2="87.44" y2="285.50" stroke="#333" stroke-width="0.6" />
<line x1="117.56" y1="287.00" x2="117.56" y2="285.50" stroke="#333" stroke-width="0.6" />
<line x1="147.68" y1="287.00" x2="147.68" y2="285.50" stroke="#333" stroke-width="0.6" />
<line x1="177.80" y1="287.00" x2="177.80" y2="285.50" stroke="#333" stroke-width="0.6" />
<text x="61.3" y="312.6" font-size="9.35" font-weight="bold">Raman Shift (cm<tspan font-size="5.5" dy="-3.5">-1</tspan><tspan dy="3.5">)</tspan></text>
<text transform="translate(18.40,236.80) rotate(-90)" font-size="9.3" font-weight="bold" text-anchor="middle" fill="#000" stroke="#000" stroke-width="0.1">Intensity (arb. units)</text>
<text x="57.30" y="210.40" font-size="7.4" font-weight="bold" text-anchor="start" fill="#000" stroke="#000" stroke-width="0.1" >C–C</text>
<text x="148.90" y="210.40" font-size="7.4" font-weight="bold" text-anchor="end" fill="#000" stroke="#000" stroke-width="0.1" >C–H</text>
<text x="107.2" y="197.9" font-size="7.4" font-weight="bold"><tspan font-style="italic">d</tspan>-band</text>
<text x="149.6" y="197.9" font-size="7.4" font-weight="bold"><tspan font-style="italic">g</tspan>-band</text>
<rect x="224.30" y="211.80" width="13.50" height="47.50" fill="#dcdedf" stroke="none" stroke-width="1" />
<rect x="295.30" y="199.80" width="10.40" height="76.80" fill="#dcdedf" stroke="none" stroke-width="1" />
<rect x="310.00" y="218.40" width="9.90" height="40.90" fill="#dcdedf" stroke="none" stroke-width="1" />
<rect x="325.40" y="199.80" width="10.60" height="59.50" fill="#dcdedf" stroke="none" stroke-width="1" />
<path d="M215.1,219.5 215.8,221.1 216.1,221.3 217.5,223.4 218.5,224.1 218.8,224 220.5,225.6 221.1,226 221.5,225.9 221.8,226.3 223.2,226.5 223.5,226.2 224.5,226.5 225.2,227.1 225.9,227 226.2,227.2 226.9,226.8 227.2,227 227.9,226.8 228.2,226.5 228.9,224.1 229.5,220.3 229.9,219.5 230.2,219.9 230.9,222.4 231.6,223.4 232.6,226 232.9,226.1 233.2,225.7 233.9,223.4 234.3,223.4 235.3,226.4 235.6,226.8 235.9,226.8 236.3,227 237.9,226.6 239,226.9 240.6,226.4 243,226.9 243.7,226.5 244,226.8 244.7,226.6 245,226.8 245.7,226.5 246.3,226.5 247,226.2 248.7,226.9 249.7,226.9 250,227.3 254.1,226.7 255.8,227.2 256.4,226.8 258.1,226.9 258.8,226.6 259.1,226.9 261.1,226.8 262.1,227 263.8,226.7 264.5,226.3 265.5,226.3 266.5,226.7 267.5,226.7 267.9,227 268.2,226.9 269.2,227.2 270.5,226.7 271.2,226.9 273.6,226.4 274.2,226.8 274.9,226.6 276.6,226.8 277.3,226.5 278.6,227 279.3,226.7 281,226.9 281.3,226.5 283,226.7 283.6,226.4 284,226.6 284.3,226.4 285.7,227.2 286,227.2 286.7,226.6 287.3,226.6 287.7,227 288.7,227.2 289.7,226.7 291.7,227 292.4,226.5 293.4,226.5 294.1,227.1 294.4,227.1 295.1,227 296.4,226 298.1,221.8 298.4,221.7 299.1,222.8 300.1,225.6 301.1,226.7 301.8,226.9 303.5,226.7 304.1,227.1 305.8,226.6 307.5,226.9 307.8,226.8 308.2,226.4 310.2,226.5 311.2,225.7 311.5,225.8 312.9,223.9 313.2,223.1 313.9,222.6 314.6,222.8 316.9,225.7 317.9,225.8 319.6,225.2 319.9,225.2 320.6,225.4 321.6,226.3 321.9,226.2 323,227 323.3,226.9 323.6,227.1 324.3,227.1 324.6,226.8 325.3,227 326,226.9 326.3,227.1 328,226.5 328.3,226.7 329.3,226.7 329.7,226.4 331.4,223.9 333,223.9 333.4,223.7 334,223.9 335.4,225.3 336.4,225.5 336.7,226 337.4,226.2 338.1,226.7 338.4,226.6 339.1,226.9 340.4,226.8 341.1,227 342.1,227.1 342.4,227.3 343.1,227 343.8,227.1 344.1,226.9 344.8,227.4 345.1,227.3 345.8,227.6 346.5,227.6 347.1,228.3 348.2,228.5 350.2,228 350.8,227.7 351.2,227.2 351.5,227.3 351.9,226.8 353.5,226.4 354.5,226 354.9,225.6 355.9,225.2 357.6,223.8 358.6,223.5 359.9,223.7 360.3,223.4 361.3,223.3 361.6,223.1 361.9,223.3 363.6,223 364.3,223.4 365.3,223.4 365.6,223.1 366.3,222.8" stroke="#e2545f" stroke-width="1.1" fill="none" stroke-linejoin="round" />
<path d="M215.1,238.4 216.4,242.3 218.5,245.5 220.5,247.3 221.1,247.6 222.2,247.6 224.2,248.7 225.9,248.2 226.9,248.5 227.9,248.3 228.5,246.6 229.5,239.7 229.9,238.8 230.2,239.3 231.2,243.7 231.9,245 232.6,247.5 232.9,247.6 233.2,247 233.9,243.9 234.3,243.7 235.3,247.3 235.6,247.8 236.3,247.8 236.9,248.4 237.3,248.3 238.3,248.5 238.6,248.2 239,248.6 240,248.6 241,248.9 242,248.6 242.3,248.3 242.7,248.4 243.3,248.1 244,248.6 244.3,248.3 245,248.8 245.3,248.6 246.3,248.4 247,248.8 248.7,248.4 250.7,248.9 252.1,248.4 253.1,248.4 253.7,248.7 254.1,248.5 254.7,248.6 255.8,248.3 256.1,248.5 256.4,248.3 257.1,248.4 258.4,248.1 259.1,248.3 259.8,248.1 260.1,248.3 260.8,247.8 261.5,248.4 262.1,248.5 262.5,248.7 263.1,248.7 263.8,249 265.5,248.2 266.5,248.5 266.8,248.4 267.2,248.6 269.2,248 269.9,248.2 270.2,248.6 270.9,249 271.9,249 274.2,248.4 276.3,248.3 276.6,248 276.9,247.9 277.3,248.2 277.9,248.1 278.3,248.6 278.6,248.8 280.6,248.7 281.3,249.2 281.6,248.8 283.3,248.2 284.3,248.1 286.3,248.9 287.7,248.3 288.7,248.1 289.4,248.4 289.7,248.1 290.4,248.7 291,248.2 291.7,248.2 292,247.8 293.1,248 294.4,248.9 295.1,248.3 295.4,248.3 296.4,247.2 297.8,243.7 298.4,243.6 298.8,243.9 299.4,246.1 300.4,248 300.8,248.2 302.1,248.6 302.5,248.4 303.1,248.9 304.1,249.1 304.5,248.9 305.5,248.8 305.8,248.5 307.2,248.4 309.2,249.2 310.5,248.4 311.2,247.8 313.5,243.8 314.2,243.3 314.6,243.4 315.2,244.1 316.6,246.5 317.2,247.3 318.6,247.3 318.9,247.1 319.3,247.3 319.6,247.2 319.9,247.3 320.3,247 321.6,247.5 321.9,247.8 323,248 324.6,248.7 325.6,248.8 326.3,248.5 327.7,248.3 328.7,247.7 330.3,245.8 331,244.3 332,243.1 333.4,242.1 334.4,242.7 336.1,245.7 338.1,247.5 338.4,247.6 339.1,248.5 339.4,248.6 341.4,248.2 342.1,248.3 343.5,248.8 344.1,248.9 344.5,248.7 344.8,248.9 345.1,248.9 345.8,249.3 346.8,250.3 347.8,250.5 348.5,250.4 348.8,250.6 350.2,250.1 350.5,249.6 352.2,248.4 352.9,248.1 354.2,247 356.6,245.8 357.6,244.9 357.9,244.3 359.6,244 360.6,243 362.3,243.4 362.9,243.1 363.6,243.3 364.3,243.2 364.6,243.4 365,243.1 365.6,243.3 366.3,243.1" stroke="#3d8fc4" stroke-width="1.1" fill="none" stroke-linejoin="round" />
<path d="M215.1,271.8 215.4,271.8 215.8,272.1 216.1,272 216.8,272.1 217.1,271.7 217.5,271.7 218.8,272.4 221.1,272 221.5,271.8 222.2,272.2 225.5,272.4 227.5,271.8 228.2,272.1 228.9,272 229.5,272.2 229.9,271.9 231.9,272.5 232.6,272.1 233.2,272.1 233.9,271.5 235.3,271.8 235.6,272.1 236.6,271.8 237.3,271.4 238.3,271.7 239,272.3 241.6,271.9 242.7,271.9 243.3,272.2 244.7,271.9 246,272.2 247.4,272 248,272.3 250,272 250.7,272.2 251.4,271.9 251.7,272.2 252.4,271.9 252.7,271.9 253.1,272.2 253.4,271.9 253.7,272.1 254.1,272 254.4,272.2 254.7,271.9 255.1,272.1 255.4,271.9 256.4,272 257.8,271.3 258.8,271.5 259.5,272.3 260.5,272.9 261.8,271.7 262.1,271.6 263.5,272.3 264.2,272.3 264.8,272 266.2,272.3 267.2,271.9 268.9,272.2 270.5,272.1 271.5,272.6 272.9,272.2 274.6,272.2 276.3,271.6 277.3,272.2 277.9,272.4 278.9,271.6 279.6,271.9 280.6,271.9 281.3,271.4 282.3,271.6 283.3,271.5 287,272.2 287.3,272 288,272.1 288.3,272.4 288.7,272.2 289,272.3 291.4,272.2 292.7,271.6 294.1,271.9 294.4,272.2 297.4,270.8 298.1,270.7 298.8,271 299.8,271.8 300.4,271.9 302.5,270.6 304.1,267.5 304.5,267.1 305.1,266.6 306.5,268 308.2,270.6 309.2,271.5 309.9,271.5 310.5,271.1 312.5,271.3 313.5,270.7 313.9,271 314.9,271 315.9,270.1 316.6,269.9 316.9,270.1 317.6,269.9 319.3,269.2 319.6,269.2 320.3,268.6 320.6,268.8 320.9,268.5 321.9,268.7 322.3,268.3 322.6,268.3 324,267.1 324.6,267.1 325.3,266.6 325.6,266.8 326.3,266.1 326.7,266 327,266.3 327.3,265.8 327.7,265.8 328.7,265.1 330,265.5 331.7,265.2 332.7,265.8 334.4,264.8 334.7,265 335.1,265 335.7,265.5 336.4,265.6 336.7,265.9 337.1,265.9 337.4,265.6 337.7,265.7 338.4,266.3 338.7,266.3 339.4,266.9 340.1,266.8 340.8,267 341.4,266.9 342.1,267.2 342.8,267.3 343.5,267.9 344.1,267.8 344.8,268.5 345.1,268.3 345.8,268.6 346.8,268.6 348.5,269.6 349.5,270 350.8,269.9 351.9,270.3 352.9,271.2 354.5,270.5 355.2,270.9 356.6,271 357.6,271.4 358.9,271.1 359.6,271.4 360.6,271.5 361.6,271.1 362.6,271.1 362.9,271.3 364.6,271 365.3,271.1 366,270.7 366.3,270.7" stroke="#666" stroke-width="1.1" fill="none" stroke-linejoin="round" />
<rect x="215.10" y="185.40" width="150.30" height="101.60" fill="none" stroke="#333" stroke-width="1.1" />
<line x1="215.10" y1="287.00" x2="215.10" y2="284.50" stroke="#333" stroke-width="0.8" />
<text x="215.10" y="297.30" font-size="9.1" font-weight="bold" text-anchor="middle" fill="#000" stroke="#000" stroke-width="0.1" >3200</text>
<line x1="259.90" y1="287.00" x2="259.90" y2="284.50" stroke="#333" stroke-width="0.8" />
<text x="259.90" y="297.30" font-size="9.1" font-weight="bold" text-anchor="middle" fill="#000" stroke="#000" stroke-width="0.1" >2400</text>
<line x1="304.70" y1="287.00" x2="304.70" y2="284.50" stroke="#333" stroke-width="0.8" />
<text x="304.70" y="297.30" font-size="9.1" font-weight="bold" text-anchor="middle" fill="#000" stroke="#000" stroke-width="0.1" >1600</text>
<line x1="349.50" y1="287.00" x2="349.50" y2="284.50" stroke="#333" stroke-width="0.8" />
<text x="349.50" y="297.30" font-size="9.1" font-weight="bold" text-anchor="middle" fill="#000" stroke="#000" stroke-width="0.1" >800</text>
<line x1="237.50" y1="287.00" x2="237.50" y2="285.50" stroke="#333" stroke-width="0.6" />
<line x1="282.30" y1="287.00" x2="282.30" y2="285.50" stroke="#333" stroke-width="0.6" />
<line x1="327.10" y1="287.00" x2="327.10" y2="285.50" stroke="#333" stroke-width="0.6" />
<text x="251" y="312.6" font-size="9.35" font-weight="bold">Wavelength (cm<tspan font-size="5.5" dy="-3.5">-1</tspan><tspan dy="3.5">)</tspan></text>
<text transform="translate(209.20,235.30) rotate(-90)" font-size="9.55" font-weight="bold" text-anchor="middle" fill="#000" stroke="#000" stroke-width="0.1">Abs. (arb. units)</text>
<text x="230.80" y="210.40" font-size="7.4" font-weight="bold" text-anchor="middle" fill="#000" stroke="#000" stroke-width="0.1" >C–H</text>
<text x="300.50" y="197.90" font-size="7.4" font-weight="bold" text-anchor="middle" fill="#000" stroke="#000" stroke-width="0.1" >C=O</text>
<text x="315.00" y="210.40" font-size="7.4" font-weight="bold" text-anchor="middle" fill="#000" stroke="#000" stroke-width="0.1" >C–H</text>
<text x="330.70" y="197.90" font-size="7.4" font-weight="bold" text-anchor="middle" fill="#000" stroke="#000" stroke-width="0.1" >C–O</text>
<rect x="413.30" y="199.00" width="19.10" height="60.50" fill="#d9d9d9" stroke="#222" stroke-width="0.7" stroke-dasharray="2,1.3"/>
<rect x="466.20" y="199.00" width="12.60" height="60.50" fill="#d9d9d9" stroke="#222" stroke-width="0.7" stroke-dasharray="2,1.3"/>
<path d="M400.6,218 400.8,217.4 401,218 401.1,217.6 401.6,218.2 401.9,217.9 402.2,218 402.4,217.6 402.7,218.3 403.2,218.1 403.3,218.2 403.7,217.4 404.1,217.6 404.3,218.1 404.6,218 404.7,218.3 405,217.8 405.4,217.9 406,217.5 406.1,217.7 406.2,217.5 406.5,217.8 406.6,217.7 406.8,218 407.1,217.7 407.2,217.9 407.3,217.7 407.6,218.3 407.8,217.9 408,218.1 408.5,217.6 408.7,218.1 408.9,218.2 409.1,218 409.4,218.2 409.5,218 409.9,218.1 410.1,217.9 410.3,218.2 410.8,217.5 411,217.9 411.3,217.5 411.5,218.1 411.7,217.7 412.1,218.1 412.3,218.1 412.4,217.7 412.7,218.2 412.9,218.2 413.2,217.5 413.5,218.1 413.6,217.9 414,217.9 414.6,217.3 414.7,217.7 414.9,217.8 415,217.7 415.3,218.2 415.6,217.9 415.7,218.2 415.8,217.9 416,218 416.1,217.7 416.4,217.7 416.6,217.3 416.7,217.4 417.1,217 417.7,213.6 417.9,213.7 418.6,217.5 418.7,217.2 419,217.1 419.1,217.6 419.4,217.9 419.8,216.8 420.3,217.9 420.6,217 420.9,217.7 421.5,217 421.7,217.2 422.2,215.8 422.9,207.8 423.4,213.7 423.8,216.3 423.9,216.2 424.8,217.9 425.2,217.6 425.3,217.1 425.4,216.9 425.5,217.2 425.6,216.9 425.9,217.9 426.6,216.2 426.7,216.5 427.1,215.3 427.8,207.5 428.5,215.9 428.7,216.4 429.1,217 429.2,216.8 429.5,217.8 429.7,217.3 430.1,217.2 430.4,218.2 430.6,217.5 430.9,218.2 431.1,218 431.4,218.3 431.6,217.8 431.9,218.2 432.2,217.8 432.4,218.2 432.7,217.7 433.2,218 433.5,217.6 433.7,218 433.9,217.7 434.1,218 434.6,217.3 435,218.1 435.2,217.5 435.5,218 435.8,217.9 436,218.2 436.1,218 436.4,218.2 436.6,217.7 437.2,218.5 437.8,217.4 438.2,218.3 438.6,217.4 438.8,217.7 439,217.4 439.2,217.9 439.5,218 439.8,217.7 439.9,218 440.1,218 440.2,217.8 440.5,218.1 440.6,217.7 440.8,217.6 440.9,218 441,217.8 441.1,218 441.4,217.5 441.7,217.7 441.8,217.3 442.1,218.1 442.4,217.5 442.7,217.9 442.7,217.6 443,218.2 443.4,217.7 443.6,217.7 444,218.4 444.4,217.4 445,218.4 445.2,217.8 445.4,217.9 445.7,218.7 445.9,217.7 446.1,217.7 446.2,218.1 446.5,217.7 447.2,218.1 447.4,217.8 447.8,217.9 448.1,217.5 448.4,218.4 448.6,217.4 448.9,217.7 449,217.3 449.3,217.8 449.7,217.7 449.8,218.1 450.2,218 450.4,217.6 450.7,218.2 451,217.9 451.2,217.9 451.5,218.5 451.9,217.6 452.3,217.9 452.5,217.6 452.8,218.3 453.2,217.4 453.2,218 453.5,217.1 453.8,218.4 454.7,217.7 455.1,218 455.4,217.7 455.5,218 455.6,217.9 455.9,218.3 456.2,217.8 456.5,218.3 456.9,217.4 457.1,217.9 457.3,217.7 457.4,218 457.7,217.8 457.9,218.2 458.2,217.6 458.5,218 458.8,217.6 459.3,218.3 459.8,217.6 459.9,218 460.1,217.5 460.3,217.6 460.6,218 460.7,217.8 461.4,217.5 461.6,218.3 461.7,218.4 462,218 462.2,218.5 462.5,217.5 463,218 463.5,217.5 463.8,218 464,217.6 464.6,218.3 464.9,217.7 465.2,218 465.4,217.6 465.6,218 465.9,217.4 466,217.8 466.7,217.8 467,217 467.3,217.8 467.9,217.4 468,217.7 468.2,217.8 468.3,217.5 469,217.7 469.6,217.3 470.2,215.9 470.5,216.2 470.8,214.3 471.5,202.3 471.9,208.7 472.1,210.6 472.2,210.8 472.3,210.7 472.9,201.6 473.4,212.1 473.9,215.7 474.4,216.8 474.5,216.6 474.7,216.9 474.8,217.3 475,217 475.3,217.8 475.5,217.4 475.9,217.5 476.1,217.8 476.4,217.4 476.8,217.9 477.1,217.8 477.3,218 477.4,217.8 477.7,218.2 477.9,218" stroke="#e2545f" stroke-width="0.9" fill="none" stroke-linejoin="round" />
<path d="M477.1,217.9 477.4,217.8 477.5,218.1 477.6,217.9 477.7,218.3 477.8,217.6 477.9,217.8 478,217.6 478.1,218 478.3,217.7 478.5,218.2 478.8,217.6 478.9,218 479.3,218 479.6,217.4 479.8,217.4 480,218 480.3,217.2 480.7,218.4 481,217.6 481.2,218.1 481.8,217.5 481.9,217.8 482,217.6 482.2,217.9 482.5,218.1 483,217.8 483.1,218.1 483.4,217.7 483.7,217.9 484,217.5 484.3,218.3 484.6,217.7 485,218.2 485.2,217.8 485.6,217.6 486.1,218.1 486.4,217.5 486.8,218 486.9,217.7 487,218.2 487.1,217.9 487.2,218 487.6,217.8 487.7,218.3 487.8,218.2 487.9,218.4 488.2,217.6 488.4,218 488.7,217.9 488.8,218.2 488.9,217.9 489.2,218.2 489.3,217.8 489.7,218.1 489.9,217.4 490.1,217.4 490.4,218.3 490.7,218.3 491,217.5 491.5,218 491.8,217.7 492.1,218.2 492.6,217.4 493.1,218.8 493.3,217.7 493.7,218.3 494.1,217.3 494.4,218 494.6,217.8 494.9,218 495.2,217.5 495.5,217.8 495.6,217.6 495.8,218.2 496.1,218.1 496.3,218.4 496.7,217.1 497,218 497.3,217.5 497.4,217.9 497.5,217.7 497.6,218 497.7,217.8 497.9,218 498.3,217.4 498.7,218 499,217.4 499.7,218.3 499.9,217.9 500.3,218.1 500.5,217.7 500.8,218.6 501.2,217.6 501.4,217.9 501.8,217.5 502,218 502.3,217.8 502.5,218.1 502.7,217.8 503,218 503.4,217.6 503.8,218.2 504,218.2 504.2,217.8 504.5,217.9 504.7,217.2 504.9,217.7 505.2,217.4 505.5,217.9 506.3,217.6 506.8,218.4 507.1,217.5 507.3,218.2 507.8,217.7 508.4,218.1 508.6,218 508.8,218.4 509.6,217.3 509.7,217.6 510.1,217.8 510.2,217.5 510.5,218.3 510.6,217.8 510.8,217.7 511.1,218.1 511.2,217.9 511.5,218.2 511.7,217.7 512,218.4 512.7,217.4 512.8,217.7 513,217.8 513.2,217.5 513.5,218.4 513.6,217.9 513.9,218.2 514.2,217.6 514.5,218.2 514.7,217.7 515,218.2 515.2,217.9 515.4,218 515.8,217.1 516.4,218 516.6,217.4 516.9,217.4 517.6,218.8 518.3,217.4 518.6,218.3 518.8,217.6 519.1,218.6 519.3,218" stroke="#e2545f" stroke-width="0.9" fill="none" stroke-linejoin="round" />
<path d="M400.6,246.4 400.9,246.2 401.1,246.8 401.5,246.2 401.8,246.7 402.1,245.8 402.5,246.5 402.9,246.4 403.2,246.9 403.5,246.1 403.8,246.5 404.1,246.1 404.4,246.5 405,246 405.2,246.3 405.5,246.3 405.8,246.8 406.1,246.3 406.4,246.3 406.7,246 406.8,246.4 407.1,245.9 407.3,246.7 407.6,245.8 408,246.7 408.2,246.5 408.5,246.8 408.7,246.3 409,246.8 409.2,246.1 410,246.7 410.1,246.5 410.4,246.6 410.7,246.4 411,246.4 411.2,246.7 411.4,246.1 411.8,246.6 411.9,246.2 412.1,246.2 412.3,246.7 412.6,246.4 413,246.4 413.3,246.5 413.4,246.8 413.8,246.2 414.2,246.6 414.5,245.8 414.7,246.4 415,246.3 415.1,246.6 415.3,246.6 415.8,245.7 416.4,246.5 416.7,245.5 416.9,245.9 417.2,244.6 417.3,244.8 417.9,241.9 418.4,245.6 418.5,245.5 418.6,245.8 418.7,245.5 419.1,246.1 419.3,245.6 419.6,245.9 419.7,245.6 420,246.6 420.3,245.8 420.5,246.2 420.9,246.3 421,245.8 421.3,245.9 421.5,245.8 421.6,246 421.9,245.5 421.9,245.7 422,245.3 422.5,242.2 422.9,236.9 423.6,244.4 424,245.8 424.2,245.8 424.5,245 424.8,245.8 424.9,245.7 425.1,245.8 425.4,246.2 425.8,245.5 425.9,245.7 426.2,245.5 426.3,245.8 426.5,245.6 427.1,243.7 427.8,235.5 428.3,242.1 428.8,245 428.9,245.6 429.3,246.1 429.4,245.7 429.7,246.2 430,246 430.6,246.5 431.1,246.1 431.3,246.4 431.6,246 431.8,246.4 432,246.1 432.3,246.9 432.4,246.1 432.6,246.7 433,246.1 433.5,246.7 433.8,246.1 434,246.4 434.1,246.2 434.4,246.6 434.5,246.1 434.8,247 435.2,246 435.4,245.9 435.5,246.3 435.8,246.3 435.9,246.6 436.6,246.2 437,246.4 437.3,246.2 437.5,246.6 438,246 438.2,246.4 438.5,245.7 438.7,246.4 438.9,246 439.3,246.7 439.5,246.6 439.8,246.9 440.1,246.3 440.5,246.8 440.6,246.6 440.8,246.9 441,246.5 441.3,246.8 441.7,246.2 442,246.7 442.4,246.6 443.1,246.1 443.2,245.8 443.6,246.5 443.8,246.1 444.1,246.9 444.4,246 444.7,246.4 445,246.2 445.2,245.7 446,246.9 446.2,246 446.6,246.4 446.9,246 447.1,246.3 447.3,246.2 447.6,246.5 448,245.8 448.3,246.2 448.7,246.1 449,246.5 449.3,246.2 449.5,246.5 449.7,246 449.9,246.1 450.7,246.8 451.2,246 451.4,246.8 451.6,247 452.4,246.3 452.7,246.7 453.2,246.3 453.7,246.9 453.9,246.4 454.2,246.6 454.3,246.3 454.5,246.3 454.7,246.7 455,246.4 455.3,246.8 455.6,246.6 455.7,246.8 456,246 456.3,246.7 456.5,245.8 456.7,246.5 457.2,246 457.5,246.5 457.9,246.2 458.2,246.7 458.5,246.1 459,246.8 459.5,246.4 459.6,246 459.8,246.5 460.1,246.4 460.1,246.5 460.4,246 461.1,246.6 461.5,246.1 462.3,246.6 462.5,246.3 462.8,246.7 463.2,246.1 463.4,246.4 463.6,246.2 463.7,246.5 464,246.1 464.2,246.4 464.5,245.8 464.8,246.7 465,246.7 465.3,246.2 465.4,246.4 465.6,246.1 465.8,246.2 466.1,246 466.2,246.2 466.5,246.2 466.7,246.5 466.9,246.5 467,246.2 467.1,246.2 467.2,246.5 467.6,246 467.8,245.8 467.9,246.1 468.2,245.6 468.5,246.1 469.1,245.5 469.2,245.8 469.4,245.9 469.5,245.6 469.8,245.6 469.9,245.9 470.3,245 470.8,242.8 470.9,241.8 471.5,230.6 472,238.3 472.2,238.9 472.9,229.4 473.4,240 474,244.3 474.3,245.5 474.6,245.2 475.2,246 475.6,245.6 475.8,246.2 476.2,246.2 476.6,246.6 476.9,246.1 477.2,246.7 477.5,246.1 477.9,246.4" stroke="#3d8fc4" stroke-width="0.9" fill="none" stroke-linejoin="round" />
<path d="M477.1,247 477.2,247.1 477.9,246 478.2,246.8 478.4,246.8 478.7,246.3 478.9,246.2 479.3,247.1 479.6,246.3 479.7,246.6 479.8,246.2 480.2,246.5 480.3,246.3 480.7,246.8 481,246.2 481.2,246.2 481.5,247 481.7,246.9 481.9,246.1 482.1,246 482.2,246.4 482.4,246.3 482.6,246.8 482.9,246.2 483.1,246.6 483.5,246.3 483.8,246.6 484.2,245.9 484.5,246.7 484.8,246.3 485.2,246.7 485.5,246.2 485.9,246.7 486.2,246.2 486.3,246.4 486.4,246.2 486.6,246.5 486.8,246.3 487.3,246.3 487.4,246.5 487.7,246.3 487.8,246.6 487.9,246.6 488,246.8 488.1,246.5 488.3,246.9 488.8,246.1 489.1,246.7 489.3,246.1 489.6,246.3 489.7,246.1 490,246.6 490.6,246.1 491,247 491.4,246.1 491.7,246.6 491.8,246.4 492,246.4 492.1,246.8 492.2,246.5 492.3,246.8 492.8,245.7 493.1,246.6 493.3,245.7 493.6,246.4 493.8,246.1 494.1,246.6 494.2,246.3 494.4,246.7 494.7,246.3 494.8,246.6 495,246.2 495.4,246.3 496.1,246.9 496.5,246.2 497,246.7 497.2,246.2 497.3,246.4 497.4,246.2 497.5,246.4 497.6,246.2 497.7,246.4 497.9,246 498.1,246.5 498.4,246.1 498.5,246.6 498.7,246.7 498.9,246 499.5,246.8 499.7,246.3 499.8,246.7 500.1,246.1 500.2,246.3 500.5,245.9 500.9,246.5 501.3,246.2 501.7,246.5 502,246.4 502.3,246.8 502.7,246.1 503.2,246.5 503.4,245.8 503.7,246.8 504.1,246.4 504.3,246.5 504.6,246.1 504.9,246.8 505.2,245.7 505.5,246.4 505.7,246.3 506,246.5 506.4,246.4 506.5,246.7 506.6,246.4 506.8,246.6 507.1,246 507.3,246.3 507.4,246.2 507.5,246.4 507.6,246.3 507.7,246.7 507.8,246.4 508.1,246.3 508.5,247.1 508.8,246.4 509,246.5 509.3,246.1 509.6,246.7 509.9,246.3 510.2,246.6 510.6,246.2 510.9,246.8 511.2,246.4 511.6,246.3 511.8,246 512.2,246 512.5,246.5 512.8,246 513.3,246 513.4,246.3 513.6,246.4 513.6,246.2 513.7,246.4 514,246.5 514.2,247 514.7,246.1 515.2,246.4 515.4,246.1 515.6,246.6 515.9,245.9 516.1,246.6 516.4,246.2 516.7,247 517.1,245.9 517.4,246 517.5,246.5 518,245.9 518.6,246.7 518.9,246.6 519.1,246.1 519.3,246.3" stroke="#3d8fc4" stroke-width="0.9" fill="none" stroke-linejoin="round" />
<path d="M400.6,270.6 401.1,270.7 401.2,270.5 401.4,270.9 401.9,271 402,270.9 402.1,271 402.2,270.4 402.5,271.1 402.9,270.6 403.2,271 403.4,270.4 403.6,271.1 404.2,270.6 404.5,271 404.6,270.7 405.1,271.4 405.7,270.5 405.9,271 406.3,270.5 406.4,270.9 406.8,270.5 407.3,270.9 407.6,270.4 407.8,270.8 407.9,270.5 408,270.8 408,270.6 408.1,271.2 408.4,270.4 408.7,270.8 408.8,270.5 408.9,270.8 409,270.6 409.1,271 409.4,270.6 409.6,271.2 410.2,270.3 410.5,271.1 411,270.6 411.3,271.3 412.2,270.3 412.5,271.1 412.7,270.9 413,271 413.1,270.6 413.3,270.6 413.4,271.1 413.7,271.1 414.1,270.8 414.4,271.4 414.7,270.6 415,270.6 415,270.2 415.3,271.1 415.5,270.7 415.8,270.9 415.9,270.6 416,270.7 416.3,270.5 416.5,270.9 417,270.6 417.4,271.2 417.6,271.1 417.7,270.5 417.8,270.9 418.3,270.3 418.5,270.9 419.2,270.2 420,268.3 421.4,271.3 421.8,270 422,270.9 422.7,270.7 422.9,270.3 423.2,271.6 423.5,270.7 423.7,271 423.9,270.7 424.1,270.9 424.2,270.7 424.5,270.8 424.8,270.5 425.1,271 425.5,270.2 425.6,270.6 425.9,270.7 426.1,271.2 426.4,270.8 426.7,270.9 426.9,270.6 427.1,271.3 427.3,271.2 427.6,270.5 427.9,270.9 428.2,270.6 428.8,271.1 428.9,270.6 429,270.5 429.1,270.8 429.3,270.5 429.5,271.2 429.8,270.4 430.1,271 430.4,270.8 430.6,270.9 430.9,270.4 431.2,270.6 431.3,270.3 431.6,271.3 431.7,270.9 432,271.2 432.1,271.1 432.3,270.2 432.5,271.1 433.2,270.8 433.5,271.5 433.8,270.7 434.2,270.9 434.5,270.6 434.7,270.7 435,270.5 435.2,271.1 435.5,270.7 435.8,271.1 436,270.3 436.3,270.9 436.6,270.8 436.8,271.1 437,270.9 437.3,271.3 437.8,270.4 438.3,271.1 438.6,270.5 438.9,270.8 439.2,270.3 439.4,270.8 439.7,270.7 440,271.3 440.2,270.7 440.5,271.2 440.9,270.9 441.1,270.9 441.4,270.5 441.8,271.2 442,270.7 442.1,270.9 442.3,270.8 442.5,271.1 442.7,270.6 442.9,270.4 443,270.7 443.1,270.5 443.2,270.7 443.3,270.4 443.4,270.6 443.6,270.5 443.8,271 444.1,270.7 444.3,271.3 444.6,270.5 444.7,270.9 444.8,270.5 445.1,270.8 445.4,270.5 445.6,270.6 445.8,271.2 446,270.6 446.2,271 446.3,270.6 446.6,271.4 446.9,270.4 447.5,271 447.7,270.6 447.8,270.8 447.9,270.6 448.1,270.8 448.2,271 448.3,270.8 448.4,271.1 448.7,270.6 449.2,271.3 449.4,271.2 449.5,270.8 449.7,270.8 449.9,271.1 450.2,270.9 450.3,271.1 450.6,270.8 450.9,271.1 451.4,270.7 451.6,271 451.8,270.5 452,270.8 452.2,270.7 452.3,271 452.5,270.9 452.6,270.5 453,271.1 453.3,270.9 453.5,271 453.7,270.6 454,271 454.2,270.6 454.5,270.9 454.6,270.7 455.1,270.8 455.4,270.5 455.5,270.8 455.7,270.4 456.2,270.6 456.3,270.9 456.4,270.4 456.6,271.1 456.9,270.6 457.1,270.7 457.2,270.6 457.5,271 457.6,270.6 457.8,270.5 457.9,270.7 458.2,270.3 458.8,271.6 459.2,270.6 459.3,270.5 459.6,271 460,270.4 460.1,270.8 460.2,270.6 460.5,271.3 460.7,271.3 461.2,270.4 461.6,270.6 461.7,270.5 462,270.8 462.3,270.6 463,270.5 463.1,270.6 463.2,270.5 463.5,271.1 463.9,270.5 464.3,271.3 464.7,270.5 465.1,271.3 465.4,270.5 465.7,271.1 465.9,270.7 466.3,271.1 466.6,270.6 467,270.9 467.3,270.6 467.6,271.1 468.3,270.9 468.6,270.5 468.9,270.5 469.3,271.1 469.5,270.7 469.8,271.4 470.1,270.4 470.6,270.9 471,270.6 471.3,271.1 471.4,270.8 471.6,270.7 471.7,271 472,270.7 472.2,271 472.8,271.1 473.1,270.4 473.4,271.2 473.5,270.9 474,270.6 474.2,271.3 474.5,270.9 474.7,271.2 475,270.6 475.1,270.9 475.2,270.5 475.9,271.4 476.3,270.7 476.7,271.1 477,270.6 477.4,270.9 477.6,270.6 477.9,270.9" stroke="#666" stroke-width="0.9" fill="none" stroke-linejoin="round" />
<path d="M477.1,271.2 477.3,270.5 477.6,270.4 477.9,270.9 478.3,270.6 478.5,270.7 478.6,271.3 478.9,271 479,271.1 479.1,270.9 479.5,271.1 479.7,270.7 480.1,271.1 480.7,270.5 481,271.2 481.3,270.6 481.5,270.7 481.6,271 481.8,270.7 482,271.1 482.3,270.4 482.4,270.9 482.6,270.7 482.9,271 483.1,270.4 483.4,270.6 483.5,270.4 484.1,271.3 484.5,270.4 484.9,270.7 485.3,270.3 485.8,271 485.9,270.6 486,270.8 486.1,270.6 486.2,270.9 486.5,270.4 486.7,271.1 487,270.5 487.3,270.8 487.6,270.4 488.2,271.2 488.5,270.4 488.8,271 489,270.7 489.3,270.7 489.5,271.1 489.7,270.9 490,271.1 490.3,270.5 490.6,271.1 490.8,270.8 491,271.3 491.4,270.4 492,271.3 492.3,270.6 492.5,271.3 492.7,270.7 492.9,271 493,270.7 493.4,271.2 493.8,270.8 493.9,271.3 494.2,270.6 494.6,271 494.9,270.3 495,270.9 495.3,270.3 495.7,271.2 496,270.9 496.1,271.1 496.3,271 496.3,270.8 496.4,271.1 496.7,270.8 496.9,271.2 497.4,270.5 497.7,271 498,270.3 498.3,271.1 498.8,270.6 498.9,270.7 499,270.6 499.5,271.1 499.6,270.9 499.7,271.1 499.9,271 500.2,271.3 500.4,270.5 500.6,270.9 500.9,270.5 501.2,271.1 501.5,270.8 501.9,271 502.1,270.7 502.4,271.3 502.9,270.9 503.2,271.5 503.3,271 503.5,270.9 503.6,271.1 503.7,270.8 504,271.3 504.6,270.6 504.9,271.2 505.2,270.7 505.5,271.2 505.8,270.5 506.2,271 506.5,271.1 506.7,270.5 507,270.8 507.2,270.8 507.3,271.1 507.5,271.1 507.6,270.7 508,270.5 508.2,270.8 508.5,270.8 508.9,271.1 509,270.7 509.2,270.6 509.4,271 509.7,270.8 509.8,270.9 509.9,270.4 510.1,270.3 510.3,271.1 510.6,270.7 510.9,270.7 511.1,271 511.4,270.4 511.5,270.7 511.6,270.5 511.9,270.7 512.1,270.5 512.3,271.1 512.6,270.5 513.2,270.9 513.5,270.5 514,270.9 514.2,270.5 514.5,270.8 515.1,270.1 515.3,270.4 515.5,270.3 515.6,269.8 515.8,269.8 516.1,268.2 516.4,268 516.8,270.3 517.1,269.9 517.3,270.5 517.5,270.6 517.6,270.4 517.7,270.8 517.8,270.5 518.2,271 518.7,270.3 519.1,271.5 519.3,271.3" stroke="#666" stroke-width="0.9" fill="none" stroke-linejoin="round" />
<rect x="400.70" y="184.40" width="117.70" height="102.60" fill="none" stroke="#222" stroke-width="1.0" />
<rect x="475.50" y="182.90" width="3.00" height="3.00" fill="#fff" stroke="none" stroke-width="1" />
<path d="M474.5,186.20000000000002 l2,-3.6 M477,186.20000000000002 l2,-3.6" stroke="#222" stroke-width="0.6"/>
<rect x="475.50" y="285.50" width="3.00" height="3.00" fill="#fff" stroke="none" stroke-width="1" />
<path d="M474.5,288.8 l2,-3.6 M477,288.8 l2,-3.6" stroke="#222" stroke-width="0.6"/>
<line x1="411.50" y1="287.00" x2="411.50" y2="284.50" stroke="#222" stroke-width="0.8" />
<text x="411.50" y="297.30" font-size="9.1" font-weight="bold" text-anchor="middle" fill="#000" stroke="#000" stroke-width="0.1" >70</text>
<line x1="435.80" y1="287.00" x2="435.80" y2="284.50" stroke="#222" stroke-width="0.8" />
<text x="435.80" y="297.30" font-size="9.1" font-weight="bold" text-anchor="middle" fill="#000" stroke="#000" stroke-width="0.1" >60</text>
<line x1="460.10" y1="287.00" x2="460.10" y2="284.50" stroke="#222" stroke-width="0.8" />
<text x="460.10" y="297.30" font-size="9.1" font-weight="bold" text-anchor="middle" fill="#000" stroke="#000" stroke-width="0.1" >50</text>
<line x1="498.00" y1="287.00" x2="498.00" y2="284.50" stroke="#222" stroke-width="0.8" />
<text x="498.00" y="297.30" font-size="9.1" font-weight="bold" text-anchor="middle" fill="#000" stroke="#000" stroke-width="0.1" >30</text>
<line x1="423.65" y1="287.00" x2="423.65" y2="285.50" stroke="#222" stroke-width="0.6" />
<line x1="447.95" y1="287.00" x2="447.95" y2="285.50" stroke="#222" stroke-width="0.6" />
<line x1="472.25" y1="287.00" x2="472.25" y2="285.50" stroke="#222" stroke-width="0.6" />
<line x1="510.15" y1="287.00" x2="510.15" y2="285.50" stroke="#222" stroke-width="0.6" />
<text x="422.90" y="197.20" font-size="7.4" font-weight="bold" text-anchor="middle" fill="#000" stroke="#000" stroke-width="0.1" >–CH–</text>
<text x="472.5" y="197.2" font-size="7.4" font-weight="bold" text-anchor="middle">–CH2–</text>
<text transform="translate(391.50,236.40) rotate(-90)" font-size="9.35" font-weight="bold" text-anchor="middle" fill="#000" stroke="#000" stroke-width="0.1">Intensity (arb. units)</text>
<rect x="520.20" y="184.40" width="101.40" height="102.60" fill="#ececec" stroke="#111" stroke-width="0.8" stroke-dasharray="2.2,1.4"/>
<rect x="623.90" y="184.40" width="46.90" height="102.60" fill="#ececec" stroke="#111" stroke-width="0.8" stroke-dasharray="2.2,1.4"/>
<path d="M520.4,224.6 520.5,224.3 520.7,224.9 521,224.3 521.3,225 521.6,225.1 521.8,224.8 521.9,225.3 522,225 522.1,225.5 522.3,225.4 522.5,224.7 523.1,224.8 523.4,224.5 523.5,224.9 523.8,224.9 523.9,224.6 524.2,225.3 524.4,224.8 524.6,224.8 525,224.4 525.3,224.8 525.9,224.3 526.5,225.1 526.9,224.4 527.3,224.8 527.7,224.2 528,224.4 528.3,223.6 528.5,223.7 528.6,223.5 529,221.5 529.4,218.8 530,221.8 530.5,220.5 530.7,219.1 530.9,219 531,219.8 531.1,219.5 531.2,219.6 531.7,216.3 532,219.3 532.2,219.9 532.8,217.7 533.4,220 533.9,217.9 534.3,221.1 534.7,220.2 535.1,217.6 535.2,217.7 535.6,221.9 536.1,223.9 536.2,223.7 536.3,223.9 536.5,223.2 537,224.7 537.4,223.8 537.7,224.4 537.8,224.2 538,224.4 538.1,224.9 538.4,225 538.7,224.5 539,225.2 539.6,225.1 539.9,224.2 540.4,225 541,225 541.1,224.6 541.3,224.5 541.8,225.2 541.9,224.9 542.1,225.1 542.2,224.9 542.5,225.6 542.9,224.7 543.3,225.5 543.6,224.4 543.7,224.9 543.8,224.6 544,225.3 544.2,225.1 544.5,225.4 544.8,224.9 545.2,225.4 545.4,224.7 546,225 546.5,224.5 546.7,224.5 547,225 547.3,224.3 547.7,225.4 548,224.9 548.2,225 548.6,224.6 549,225.1 549.4,224.6 549.7,225 550.1,225.1 550.3,224.8 550.5,225.1 550.8,224.2 551,224.3 551.1,224.8 551.2,224.6 551.5,225.4 551.9,224.7 552,225.3 552.3,224.9 552.4,225 552.5,224.9 552.9,224.3 553.3,225 553.6,224.3 554.3,225 554.4,224.5 554.5,224.6 554.6,224.5 554.8,224.8 555.2,224.3 555.4,225 555.6,224.6 555.8,224.9 556,224.5 556.4,225 556.6,224.6 556.9,225 557,224.7 557.4,225.6 557.7,224.6 557.9,224.4 558.1,225.1 558.3,224.8 558.7,225.1 559,224.9 559.2,225.4 559.7,224.6 560.3,224.8 560.4,224.6 560.8,225.3 561,224.4 561.3,224.7 561.5,224.4 562.1,225.1 562.4,224.7 562.5,224.8 562.6,224.1 562.7,224.4 563.1,223.5 563.3,224.5 563.7,224.1 564.2,223.4 564.3,223.7 564.5,222.9 564.9,219.6 565.4,212.4 565.8,216.2 566.2,209.4 566.8,215.8 567.2,210.9 567.6,215.2 567.8,214.7 568,213.1 568.3,215.7 568.8,211 569.2,214.9 569.5,211.5 570,214.2 570.4,210 570.7,216.6 571,217.9 571.5,211.4 572,208.3 572.4,218.9 572.7,222.2 573.2,223.5 573.4,223.4 573.5,223.5 574,224.6 574.7,224.4 574.9,224.8 575.2,224.2 575.4,224.8 575.6,224.9 575.8,224.1 576.1,225.2 576.2,224.7 576.3,225.1 576.7,224.7 576.9,225.1 577.8,224.3 578.2,225.1 578.8,224.3 579.3,225.3 579.6,224.3 579.9,224.7 580.3,224.6 580.4,224.3 580.6,224.2 581,225.3 581.4,224.8 581.6,224.8 581.7,225.1 582.1,224.3 582.7,225.2 583,225.1 583.2,224.8 583.3,224.9 583.4,224.6 583.5,224.8 583.6,224.6 583.8,225.4 584,224.8 584.3,224.7 584.9,225.2 585.2,224 586,225.5 586.3,224.5 586.6,225.1 587.1,225.1 587.3,224.6 587.5,225.2 587.9,224.4 588.6,225.5 589,224.6 589.1,224.6 589.3,225.1 589.6,224.1 589.9,225 590.1,224.6 590.4,224.4 591.1,225 591.5,224.4 591.8,224.8 592,224.2 592.4,224.4 592.5,224.3 592.6,224.7 592.8,224.4 592.9,224.6 593,224.4 593.1,224.6 593.3,224.2 593.5,224.7 593.8,224.5 593.9,224.7 594,224.4 594.4,224.9 594.6,224.6 594.9,224.9 595,224.6 595.3,225.1 595.6,224.5 595.7,224.6 595.8,224.4 596,225.1 596.4,224.6 596.9,224.8 597.2,224.7 597.3,225.2 597.8,224.4 598.1,224.9 598.5,224.7 598.9,223.8 599.2,224.8 599.3,224.5 599.4,224.9 599.7,224.2 599.8,224.4 600.1,224 600.4,224.4 600.7,223.4 601.1,224.2 601.5,223.1 602,218.5 602.7,205.5 603.2,216.5 603.7,221.4 603.8,221.9 604.6,222.6 605,222.2 605.4,220 605.8,215.3 606.3,196.6 607,215.8 607.4,221.3 608.1,222.9 608.3,223.1 609,221.6 609.5,215.4 609.7,214.8 610.3,221.8 610.7,223.9 610.9,223.3 611.3,224.1 611.4,224 611.7,224.5 612,223.9 612.5,224.3 612.8,225.1 612.9,224.6 613,224.8 613.2,224.5 613.7,225 614.4,224.2 614.7,224.8 614.8,224.7 614.9,224.8 615,224.5 615.1,224.7 615.5,224.6 615.8,225.1 616.1,224.5 616.2,224.9 616.4,225 616.6,225 616.9,224.6 617.4,225.5 617.7,224.6 618.2,225 618.5,224.6 618.6,224.8 618.7,224.5 619.1,225.6 619.4,224.6 619.7,225.2 620.2,224.4 620.4,224.8 620.7,224.5 620.9,225 621.3,224.2" stroke="#e2545f" stroke-width="0.9" fill="none" stroke-linejoin="round" />
<path d="M623.9,224.5 624,224.7 624.1,224.4 624.5,224.8 624.7,224.6 624.8,224.9 625.2,224.7 625.4,224.2 625.8,224.5 626.2,224.1 626.4,224.4 626.5,224.1 626.6,224.3 626.7,224.1 626.9,224.2 627.3,223.6 627.6,224.1 627.8,224.1 628.1,223.2 628.2,223.3 629.1,222 630.3,210.8 631.2,219.6 632.4,223.6 632.5,223.4 632.8,223.7 633.1,223.3 633.4,223.7 633.7,223.7 634.3,223.1 634.6,223.7 634.8,223.2 635.1,223.5 635.9,222.7 636.3,221.5 636.5,221.8 636.8,220.7 636.9,220.9 637.1,220.7 637.3,219.9 637.8,215.8 639.1,197.4 640.4,216.3 641.3,220.8 641.6,222 641.7,221.9 642.1,222.4 642.2,222.8 642.4,222.9 642.6,222.6 642.8,223.3 642.9,223.4 643.1,223.2 643.4,223.8 643.7,222.9 644.2,223.9 644.5,223.2 644.8,223.2 645.1,223.5 645.4,222.9 645.7,223.4 646.3,221.9 646.9,221.3 647.6,217.7 648,212.7 648.9,192.8 649.8,214.4 650.3,218.8 651.1,222.2 651.5,222.6 651.7,222.4 652,223.5 652.2,223.3 652.4,223.7 652.7,223.3 653.4,224.5 653.6,224.1 653.8,224.3 653.9,224.1 654,224.3 654.1,224.2 654.2,224.6 654.5,224.2 654.7,224.7 655,224.5 655.1,224.7 655.4,224.1 655.5,224.3 655.8,224 656.3,223.9 656.6,224.3 656.8,224.3 656.9,224.6 657.1,224 657.3,224.4 657.5,224.1 657.8,224.3 658.2,223.2 658.5,223.7 658.6,223.6 659.4,220.7 659.9,217.1 660.1,217.3 661,222.7 661.1,222.5 661.4,223.5 661.7,223.3 662,224 662.2,224.3 662.4,224.2 662.7,224.8 663,224.3 663.2,224.6 663.4,224.4 663.6,224.7 663.9,224.4 664,224.7 664.5,224.1 664.6,224.3 664.7,224.2 664.8,224.8 665,224.3 665.1,224.6 665.4,224.4 665.6,225 666.1,224.5 666.4,224.8 666.8,224.8 667,224.4 667.3,224.9 667.5,224.6 667.6,224.8 667.8,224.8 667.9,224.5 668.2,225.3 668.8,224.5 669.2,224.6 669.3,225.1 669.6,224.6 669.9,225.1 670.1,224.4 670.2,224.6" stroke="#e2545f" stroke-width="0.9" fill="none" stroke-linejoin="round" />
<path d="M520.4,264.4 520.8,263.3 521.1,264.2 521.7,263.5 521.9,264.1 522.2,263.7 522.7,263.7 522.9,263.5 523.4,264.5 523.8,263.8 524,264.2 524.3,263.3 524.4,263.6 524.6,263.4 524.9,263.7 525.1,263.4 525.4,264.3 525.7,263.5 526.1,264.3 526.4,264 526.5,264.1 526.8,263.2 526.9,263.8 527.2,263.9 527.3,263.7 527.4,263.9 527.8,264 528.1,263.2 528.3,263.3 528.5,263.1 529.4,257 530,260.6 530.3,260.4 530.7,257.5 530.9,257.1 531.2,257.7 531.7,254.9 532.2,258.9 532.6,256.6 532.9,256.4 533.2,258.1 533.5,257.9 533.9,256.5 534.3,260 534.6,259.4 535.1,255.7 535.2,255.9 535.8,261.7 536.5,263.7 537.1,263.1 537.5,263.2 537.8,263.8 538,263.1 538.4,263.1 538.7,264.2 539,263.3 539.3,264.3 539.7,263.5 539.9,264.1 540.1,264.1 540.2,263.6 540.7,264 540.8,263.7 541.1,264.1 541.4,263.6 541.8,263.9 541.9,263.6 542.2,264.4 542.3,263.7 542.4,264.1 542.5,263.9 542.6,264.6 542.7,264.1 543,264 543.1,264.4 543.4,264 543.5,264.4 543.8,263.7 544,263.8 544.2,263.5 544.5,264.4 544.8,263.6 544.9,263.9 545.3,263.7 545.6,264.2 545.8,263.7 545.9,263.9 546,263.6 546.4,264.4 546.7,263.6 547,264.5 547.4,263.2 547.7,264 547.8,263.9 548,264.2 548.3,264.1 548.6,264.6 548.9,263.9 549.1,264.2 549.4,263.5 550.1,264.5 550.4,263.4 550.9,264.2 551.1,263.6 551.4,264.1 551.9,263.6 552.1,264.2 552.3,264 552.6,264.3 553,263.6 553.3,264.1 553.9,263.5 554.7,264 554.9,263.9 555.2,264.2 555.6,263.5 555.9,264.2 556,263.9 556.1,264.2 556.4,263.9 556.7,264.4 556.9,264.3 557,264.4 557.2,264.1 557.6,264.4 557.7,264 557.8,264.1 558.1,263.7 558.7,264.2 558.8,263.9 559.1,264.1 559.2,263.6 559.5,264.2 559.7,263.8 560.1,263.4 560.4,264.2 560.5,263.9 560.6,264.1 560.9,263.8 561,263.3 561.4,263.7 561.7,263.4 562,263.8 562.2,263.5 562.5,263.7 562.7,263.1 563.1,263.5 563.5,263.3 563.6,262.9 563.8,263.3 563.9,263.2 564.1,263.3 564.2,262.9 564.3,263.1 564.4,263 564.9,259.4 565.4,250.5 565.7,254.1 565.8,254.3 565.9,253.7 566.2,247 566.8,254.1 567.2,249.4 567.6,253.6 567.7,253.7 568,250.3 568.3,253.9 568.8,248.1 569.1,252.5 569.3,253.3 569.7,249.5 570,252.3 570.3,248.2 571,256.3 571.5,249.9 572,247.3 572.5,258.7 573.1,262.3 573.5,262.8 573.7,262.5 574.2,263.5 574.4,262.9 574.6,263.1 574.7,263.7 575.1,263.3 575.2,263.6 575.5,263.3 575.8,263.9 576.1,263.4 576.5,264.3 576.7,263.9 577.3,263.8 577.6,263.3 577.9,264 578.1,263.8 578.4,263.9 578.8,263.7 579,263.8 579.2,263.3 579.5,263.8 579.8,263.4 580.2,264.6 580.5,263.8 580.8,264.1 581.1,263.9 581.2,264.2 581.8,263.5 582.2,264.2 582.4,263.6 582.7,264.4 583,263.6 583.4,264.2 583.7,263.6 584.4,264.5 584.9,263.7 585.4,264.2 585.5,263.8 585.6,264 585.7,263.9 585.8,264.2 586,264.1 586.2,263.5 586.6,264.1 586.8,264 587,263.2 587.4,264.1 587.5,263.9 587.8,264.1 587.9,263.6 588.1,263.6 588.3,264.1 588.4,263.6 588.5,264 589.1,264.4 589.3,264.3 589.4,264.4 589.7,263.6 589.9,263.7 590,263.4 590.2,263.5 590.3,263.3 591,264.7 591.4,263.6 591.6,263.5 591.7,263.7 591.8,263.4 592.2,264.1 592.7,263.7 592.8,263.9 592.9,263.8 593,264.3 593.1,264.1 593.3,264.3 593.4,264 593.6,264.2 593.8,263.4 594.1,263.7 594.2,263.5 594.5,263.9 594.9,263.7 595,264.1 595.2,264.2 595.3,263.9 595.6,264.1 595.9,263.5 596.2,263.8 596.6,263.7 596.8,263.3 597.2,264.1 597.6,263.7 597.9,263.3 598.4,264.2 598.5,263.8 598.6,264.1 599,263.7 599.2,263.9 599.3,263.7 599.5,263.7 599.7,264.2 600.1,262.9 600.2,262.8 600.6,263.2 600.8,262.6 601.1,262.6 601.3,261.5 601.4,261.8 601.6,261.1 602,257.3 602.7,245 603.2,255.5 603.7,260.1 603.8,260.7 604,261.2 604.1,260.9 604.5,261.8 604.8,261.6 605.1,260.6 605.8,253.9 606.3,234.2 607,254.5 607.3,259.1 608,261.7 608.1,261.8 608.3,261.2 608.5,261.5 609,260.2 609.6,249 610.2,258.7 610.6,261.6 611.3,263.4 611.6,262.7 611.9,263.6 612.3,263.3 612.5,263.7 612.8,263.5 613,263.8 613.2,263.5 613.6,263.7 613.7,263.5 613.9,264.1 614.1,263.7 614.3,263.9 614.6,263.3 614.9,264.2 615,263.8 615.2,263.7 615.4,264.1 615.5,263.7 615.9,264.4 616.2,263.5 616.5,263.8 616.6,263.6 617,264.1 617.2,263.6 618,264.2 618.1,263.7 618.2,263.8 618.3,263.5 619.1,264.4 619.3,264 619.6,264.4 619.9,263.4 620.3,263.7 620.8,263.6 621.1,264.3 621.3,263.9" stroke="#3d8fc4" stroke-width="0.9" fill="none" stroke-linejoin="round" />
<path d="M623.9,263.9 624.4,263.9 624.7,264.3 625.2,263.8 625.5,264.1 625.7,263.8 625.9,263.9 626.1,263.2 626.3,263.7 626.6,263.5 626.7,263.9 627.2,263.3 627.4,263.5 627.7,263.1 627.8,263.4 628.1,263 628.4,263.5 628.6,262.8 628.9,263.1 629,262.8 629.2,262.8 630.3,258 630.9,260.9 631.4,262.4 631.6,262.7 632.1,262.9 632.4,263.6 632.5,263 632.7,262.8 633.2,263.5 633.5,263.1 633.6,263.8 634,263.5 634.1,263.1 634.4,263.9 634.7,262.9 634.9,263.5 635.2,263.2 635.5,263.8 636,262.7 636.1,262.9 636.2,262.7 636.6,263.3 636.9,262.2 637,262.4 637.3,261.5 637.6,261.3 638,259.5 638.7,253.9 639.2,251.9 640.2,259.2 641,261.9 641.2,262 641.4,262.6 641.4,262.4 641.6,262.5 642,263.2 642.3,262.7 642.4,263 642.5,262.9 643.1,263.5 643.4,263.1 643.8,263.6 644.1,263.5 644.2,263.7 644.8,262.9 645.1,263.5 645.7,262.7 646,263.2 646.2,262.8 646.7,262.5 646.8,262.7 647.1,261.8 647.3,261.8 647.4,261.5 648.1,257.8 648.9,249.4 649.9,259.8 650.5,261.9 651.2,263 651.7,263 652.1,263.5 652.4,263.3 652.7,263.6 653,263.3 653.1,263.6 653.4,262.9 653.8,264 654,263.9 654.2,263 654.5,263.8 654.8,263.7 655.1,264 655.4,263.6 655.5,263.8 655.6,263.6 655.7,263.8 655.8,263.6 655.9,263.9 656,263.7 656.4,264.2 656.7,263.4 657.1,264.2 657.8,263 658.1,263.9 658.4,263 658.7,263.4 658.8,263 659.1,263.1 660,261.2 660.4,261.8 660.7,262.9 660.8,262.8 661,263.2 661.2,263 661.8,263.9 661.9,263.6 662.3,263.6 662.4,263.2 662.7,264.3 662.8,264.2 663,264.4 663.3,264 663.7,264.2 664.1,263.9 664.5,264.2 664.6,264.1 664.9,264.3 665,263.8 665.2,264.3 665.5,263.9 665.6,264.3 665.9,263.7 666.2,264.2 666.4,263.7 666.6,263.6 667.1,264.4 667.4,264 667.7,264.3 668,263.5 668.2,264 668.4,263.5 668.6,264 668.8,263.6 668.9,263.9 669.1,263.8 669.2,263.5 669.5,264.1 669.6,263.8 670,263.9 670.2,264.4" stroke="#3d8fc4" stroke-width="0.9" fill="none" stroke-linejoin="round" />
<line x1="529.50" y1="287.00" x2="529.50" y2="284.50" stroke="#222" stroke-width="0.8" />
<text x="529.50" y="297.30" font-size="9.1" font-weight="bold" text-anchor="middle" fill="#000" stroke="#000" stroke-width="0.1" >68</text>
<line x1="566.10" y1="287.00" x2="566.10" y2="284.50" stroke="#222" stroke-width="0.8" />
<text x="566.10" y="297.30" font-size="9.1" font-weight="bold" text-anchor="middle" fill="#000" stroke="#000" stroke-width="0.1" >66</text>
<line x1="602.70" y1="287.00" x2="602.70" y2="284.50" stroke="#222" stroke-width="0.8" />
<text x="602.70" y="297.30" font-size="9.1" font-weight="bold" text-anchor="middle" fill="#000" stroke="#000" stroke-width="0.1" >64</text>
<line x1="547.80" y1="287.00" x2="547.80" y2="285.50" stroke="#222" stroke-width="0.6" />
<line x1="584.40" y1="287.00" x2="584.40" y2="285.50" stroke="#222" stroke-width="0.6" />
<line x1="621.00" y1="287.00" x2="621.00" y2="285.50" stroke="#222" stroke-width="0.6" />
<line x1="635.60" y1="287.00" x2="635.60" y2="284.50" stroke="#222" stroke-width="0.8" />
<text x="635.60" y="297.30" font-size="9.1" font-weight="bold" text-anchor="middle" fill="#000" stroke="#000" stroke-width="0.1" >46</text>
<line x1="655.10" y1="287.00" x2="655.10" y2="284.50" stroke="#222" stroke-width="0.8" />
<text x="655.10" y="297.30" font-size="9.1" font-weight="bold" text-anchor="middle" fill="#000" stroke="#000" stroke-width="0.1" >45</text>
<text x="537.90" y="310.50" font-size="9.35" font-weight="bold" text-anchor="middle" fill="#000" stroke="#000" stroke-width="0.1" >Chemical Shift</text>
<rect x="25.60" y="321.20" width="645.00" height="16.50" fill="none" stroke="#555" stroke-width="0.9" />
<line x1="66.60" y1="329.50" x2="90.40" y2="329.50" stroke="#666" stroke-width="1.2" />
<text x="100.60" y="332.80" font-size="9.2" font-weight="bold" text-anchor="start" fill="#000" stroke="#000" stroke-width="0.1" >fCB</text>
<line x1="256.00" y1="329.50" x2="280.00" y2="329.50" stroke="#3d8fc4" stroke-width="1.2" />
<text x="291.00" y="332.80" font-size="9.2" font-weight="bold" text-anchor="start" fill="#000" stroke="#000" stroke-width="0.1" >PVA-fCB</text>
<line x1="488.80" y1="329.50" x2="512.60" y2="329.50" stroke="#e2545f" stroke-width="1.2" />
<text x="524.90" y="332.80" font-size="9.2" font-weight="bold" text-anchor="start" fill="#000" stroke="#000" stroke-width="0.1" >NR/PVA-fCB</text>
<path d="M26.3,378.5 61.1,379 64.1,379.3 66,379.7 67.5,380.3 69,381.1 70.5,382.5 71.4,383.7 73.4,387.4 75.4,392.7 80.3,408.8 81.8,412.4 83.2,415 84.2,416.4 85.7,417.9 89.6,420.9 91.6,422.7 97,429.7 98.4,431.3 99.9,432.5 101.9,433.5 103.8,434.1 106.3,434.4 163.7,434.4" stroke="#e2545f" stroke-width="1.1" fill="none" stroke-linejoin="round" />
<line x1="62.70" y1="379.00" x2="73.60" y2="379.00" stroke="#333" stroke-width="0.7" stroke-dasharray="2,1.5"/>
<line x1="62.70" y1="434.60" x2="101.00" y2="434.60" stroke="#333" stroke-width="0.7" stroke-dasharray="2,1.5"/>
<line x1="65.50" y1="382.00" x2="65.50" y2="430.00" stroke="#111" stroke-width="0.8" />
<path d="M65.5,379.8 L63.6,384.5 L67.4,384.5 Z M65.5,432.3 L63.6,427.6 L67.4,427.6 Z" fill="#111"/>
<text x="46.70" y="411.00" font-size="7.6" font-weight="bold" text-anchor="start" fill="#000" stroke="#000" stroke-width="0.1" >89%</text>
<line x1="97.00" y1="385.10" x2="110.90" y2="385.10" stroke="#e2545f" stroke-width="1.2" />
<text x="113.70" y="387.60" font-size="8.0" font-weight="bold" text-anchor="start" fill="#000" stroke="#000" stroke-width="0.1" >NR/PVA-fCB</text>
<path d="M26.3,465.4 34.2,465.3 44.9,464.7 52.8,464.5 57.2,463.9 59.7,463.1 62.1,461.8 71,455.9 75.9,453.1 80.3,451.2 83.7,450.5 85.7,450.5 88.1,450.8 99.4,453.8 102.9,454.5 105.8,454.8 110.2,454.7 118.1,453.5 121,453.3 131.3,454 163.7,454.6 163.7,467.8 26.3,467.8Z" fill="url(#gp14)" opacity="0.9"/>
<path d="M26.3,465.4 34.2,465.3 44.9,464.7 52.8,464.5 57.2,463.9 59.7,463.1 62.1,461.8 71,455.9 75.9,453.1 80.3,451.2 83.7,450.5 85.7,450.5 88.1,450.8 99.4,453.8 102.9,454.5 105.8,454.8 110.2,454.7 118.1,453.5 121,453.3 131.3,454 163.7,454.6" stroke="#6a5cb0" stroke-width="0.8" fill="none"/>
<rect x="31.50" y="440.20" width="14.30" height="8.60" fill="url(#gp14)" stroke="#6a5cb0" stroke-width="0.6" />
<text x="48.5" y="446.7" font-size="8.1" font-weight="bold"><tspan font-style="italic">m</tspan>/<tspan font-style="italic">z</tspan> = 14</text>
<path d="M26.3,495.8 58.2,495.7 62.1,495.5 64.6,495 67,494 69.5,491.9 71.9,488.8 76.8,481.3 78.8,479.4 80.3,479 81.8,479.4 83.2,480.7 84.7,482.6 89.1,489.5 91.6,492.4 94,494.2 97,495.3 99.4,495.6 102.9,495.7 127.4,495.7 133.8,495.6 144.1,494.8 148.5,494.7 155.8,495.1 163.7,496 163.7,497.6 26.3,497.6Z" fill="url(#gp18)" opacity="0.9"/>
<path d="M26.3,495.8 58.2,495.7 62.1,495.5 64.6,495 67,494 69.5,491.9 71.9,488.8 76.8,481.3 78.8,479.4 80.3,479 81.8,479.4 83.2,480.7 84.7,482.6 89.1,489.5 91.6,492.4 94,494.2 97,495.3 99.4,495.6 102.9,495.7 127.4,495.7 133.8,495.6 144.1,494.8 148.5,494.7 155.8,495.1 163.7,496" stroke="#3aa88e" stroke-width="0.8" fill="none"/>
<rect x="31.50" y="470.60" width="14.30" height="8.60" fill="url(#gp18)" stroke="#3aa88e" stroke-width="0.6" />
<text x="48.5" y="477.1" font-size="8.1" font-weight="bold"><tspan font-style="italic">m</tspan>/<tspan font-style="italic">z</tspan> = 18</text>
<path d="M26.3,524.9 34.6,525.6 41,525.7 55.7,524.6 63.6,524.3 66,524 68,523.2 70,521.8 71.9,519.6 76.8,512.3 78.3,511 79.8,510.6 80.8,510.9 82.2,512.2 83.7,514.1 87.1,519.6 89.1,522 91.1,523.5 93.5,524.4 96.5,524.7 106.3,524.5 118.1,525.3 122.5,525.3 127.9,524.9 138.7,523.2 144.6,523 149,523.4 155.8,524.5 161.7,526.7 163.7,527.2 163.7,528.4 26.3,528.4Z" fill="url(#gp29)" opacity="0.9"/>
<path d="M26.3,524.9 34.6,525.6 41,525.7 55.7,524.6 63.6,524.3 66,524 68,523.2 70,521.8 71.9,519.6 76.8,512.3 78.3,511 79.8,510.6 80.8,510.9 82.2,512.2 83.7,514.1 87.1,519.6 89.1,522 91.1,523.5 93.5,524.4 96.5,524.7 106.3,524.5 118.1,525.3 122.5,525.3 127.9,524.9 138.7,523.2 144.6,523 149,523.4 155.8,524.5 161.7,526.7 163.7,527.2" stroke="#3c80c0" stroke-width="0.8" fill="none"/>
<rect x="31.50" y="500.40" width="14.30" height="8.60" fill="url(#gp29)" stroke="#3c80c0" stroke-width="0.6" />
<text x="48.5" y="506.9" font-size="8.1" font-weight="bold"><tspan font-style="italic">m</tspan>/<tspan font-style="italic">z</tspan> = 29</text>
<line x1="26.30" y1="437.40" x2="163.70" y2="437.40" stroke="#333" stroke-width="0.9" />
<line x1="26.30" y1="467.80" x2="163.70" y2="467.80" stroke="#333" stroke-width="0.9" />
<line x1="26.30" y1="497.60" x2="163.70" y2="497.60" stroke="#333" stroke-width="0.9" />
<rect x="26.30" y="377.20" width="137.40" height="151.20" fill="none" stroke="#333" stroke-width="1.1" />
<line x1="45.93" y1="528.40" x2="45.93" y2="526.20" stroke="#333" stroke-width="0.8" />
<text x="45.93" y="537.70" font-size="9.1" font-weight="bold" text-anchor="middle" fill="#000" stroke="#000" stroke-width="0.1" >200</text>
<line x1="85.19" y1="528.40" x2="85.19" y2="526.20" stroke="#333" stroke-width="0.8" />
<text x="85.19" y="537.70" font-size="9.1" font-weight="bold" text-anchor="middle" fill="#000" stroke="#000" stroke-width="0.1" >400</text>
<line x1="124.44" y1="528.40" x2="124.44" y2="526.20" stroke="#333" stroke-width="0.8" />
<text x="124.44" y="537.70" font-size="9.1" font-weight="bold" text-anchor="middle" fill="#000" stroke="#000" stroke-width="0.1" >600</text>
<line x1="163.70" y1="528.40" x2="163.70" y2="526.20" stroke="#333" stroke-width="0.8" />
<text x="163.70" y="537.70" font-size="9.1" font-weight="bold" text-anchor="middle" fill="#000" stroke="#000" stroke-width="0.1" >800</text>
<line x1="65.56" y1="528.40" x2="65.56" y2="527.10" stroke="#333" stroke-width="0.6" />
<line x1="104.81" y1="528.40" x2="104.81" y2="527.10" stroke="#333" stroke-width="0.6" />
<line x1="144.07" y1="528.40" x2="144.07" y2="527.10" stroke="#333" stroke-width="0.6" />
<line x1="26.30" y1="377.70" x2="24.30" y2="377.70" stroke="#333" stroke-width="0.8" />
<text x="22.80" y="380.80" font-size="9.1" font-weight="bold" text-anchor="end" fill="#000" stroke="#000" stroke-width="0.1" >100</text>
<line x1="26.30" y1="406.15" x2="24.30" y2="406.15" stroke="#333" stroke-width="0.8" />
<text x="22.80" y="409.25" font-size="9.1" font-weight="bold" text-anchor="end" fill="#000" stroke="#000" stroke-width="0.1" >50</text>
<line x1="26.30" y1="434.60" x2="24.30" y2="434.60" stroke="#333" stroke-width="0.8" />
<text x="22.80" y="437.70" font-size="9.1" font-weight="bold" text-anchor="end" fill="#000" stroke="#000" stroke-width="0.1" >0</text>
<line x1="26.30" y1="391.93" x2="27.80" y2="391.93" stroke="#333" stroke-width="0.6" />
<line x1="26.30" y1="420.38" x2="27.80" y2="420.38" stroke="#333" stroke-width="0.6" />
<text x="95.00" y="550.50" font-size="9.35" font-weight="bold" text-anchor="middle" fill="#000" stroke="#000" stroke-width="0.1" >Temperature (°C)</text>
<text transform="translate(6.60,407.30) rotate(-90)" font-size="9.2" font-weight="bold" text-anchor="middle" fill="#000" stroke="#000" stroke-width="0.1">Weight (%)</text>
<text transform="translate(19.30,485.50) rotate(-90)" font-size="9.45" font-weight="bold" text-anchor="middle" fill="#000" stroke="#000" stroke-width="0.1">Intensity (arb. units)</text>
<path d="M200.9,527.6 L459.1,527.6 L428.0,445.4 L235.0,445.4 Z" fill="#e6e9ec"/>
<path d="M200.9,527.6 235.4,445.4 M213.1,527.6 244.4,445.4 M225.3,527.6 253.5,445.4 M237.4,527.6 262.6,445.4 M249.6,527.6 271.7,445.4 M261.8,527.6 280.7,445.4 M274.0,527.6 289.8,445.4 M286.2,527.6 298.9,445.4 M298.3,527.6 307.9,445.4 M310.5,527.6 317.0,445.4 M322.7,527.6 326.1,445.4 M334.9,527.6 335.1,445.4 M347.1,527.6 344.2,445.4 M359.2,527.6 353.3,445.4 M371.4,527.6 362.4,445.4 M383.6,527.6 371.4,445.4 M395.8,527.6 380.5,445.4 M407.9,527.6 389.6,445.4 M420.1,527.6 398.6,445.4 M432.3,527.6 407.7,445.4 M444.5,527.6 416.8,445.4 M456.7,527.6 425.8,445.4 M202.0,524.8 458.1,524.8 M204.1,519.8 456.1,519.8 M206.2,514.8 454.2,514.8 M208.7,508.7 452.0,508.7 M211.7,501.5 449.2,501.5 M214.7,494.2 446.5,494.2 M217.7,487.0 443.7,487.0 M220.3,480.9 441.4,480.9 M222.7,475.1 439.2,475.1 M225.1,469.3 437.0,469.3 M227.5,463.5 434.8,463.5 M229.8,458.0 432.8,458.0 M232.1,452.5 430.7,452.5 M234.3,447.0 428.6,447.0" stroke="#c4c8cd" stroke-width="0.45" fill="none"/>
<path d="M200.9,527.6 L459.1,527.6 L428.0,445.4" stroke="#444" stroke-width="0.9" fill="none"/>
<path d="M200.9,527.6 L235.0,445.4 L428.0,445.4" stroke="#555" stroke-width="0.8" fill="none"/>
<path d="M235,445.5 247.2,445.4 252.4,444.8 254.8,444.1 255.4,443.6 255.9,442.2 256.5,443.2 257.1,443.1 257.7,442.6 258.3,440.4 259.4,442.7 260,442.9 262.9,442.6 269.3,444.6 272.3,443.7 274.6,445.2 276.3,445.5 338.1,445.5 347.5,444.9 349.2,445.4 351.5,445.5 388.3,445.1 428,445.5Z" fill="url(#gs0)"/>
<path d="M235,445.5 247.2,445.4 252.4,444.8 254.8,444.1 255.4,443.6 255.9,442.2 256.5,443.2 257.1,443.1 257.7,442.6 258.3,440.4 259.4,442.7 260,442.9 262.9,442.6 269.3,444.6 272.3,443.7 274.6,445.2 276.3,445.5 338.1,445.5 347.5,444.9 349.2,445.4 351.5,445.5 388.3,445.1 427.9,445.5" fill="none" stroke="#999" stroke-width="0.3" stroke-opacity="0.6"/>
<path d="M234.2,447.3 246.5,447.2 251.8,446.3 254.2,445.3 254.8,444.6 255.4,442.7 255.9,444 256.5,444 257.1,443.2 257.7,440.1 258.9,443.3 259.5,443.7 262.4,443.3 263.6,444 265.9,444.5 268.9,446 269.4,446 271.2,444.8 271.8,444.7 274.1,446.8 275.9,447.3 338.1,447.3 342.3,447.2 344,446.8 345.8,447 347.5,446.6 349.3,447.2 351.7,447.3 388.6,446.8 428.7,447.3Z" fill="url(#gs1)"/>
<path d="M234.2,447.3 246.5,447.2 251.8,446.3 254.2,445.3 254.8,444.6 255.4,442.7 255.9,444 256.5,444 257.1,443.2 257.7,440.1 258.9,443.3 259.5,443.7 262.4,443.3 263.6,444 265.9,444.5 268.9,446 269.4,446 271.2,444.8 271.8,444.7 274.1,446.8 275.9,447.3 338.1,447.3 342.3,447.2 344,446.8 345.8,447 347.5,446.6 349.3,447.2 351.7,447.3 388.6,446.8 428.6,447.3" fill="none" stroke="#999" stroke-width="0.3" stroke-opacity="0.6"/>
<path d="M233.5,449.1 245.9,448.9 248.8,448.5 251.2,447.7 253.6,446.4 254.2,445.4 254.8,442.9 255.4,444.7 255.9,444.6 256.5,443.5 257.1,439.5 258.3,443.8 258.9,444.2 260.1,444.2 261.3,443.6 261.9,443.7 263,444.6 265.4,445.4 268.4,447.4 269,447.3 270.7,445.7 271.3,445.6 273.7,448.5 275.5,449 338.2,449.1 342.3,448.9 344.1,448.4 345.9,448.7 347.6,448.3 349.4,448.9 351.8,449 368.9,448.9 371.3,448.6 373.7,448.9 383.1,448.8 389,448.5 429.4,449.1Z" fill="url(#gs2)"/>
<path d="M233.5,449.1 245.9,448.9 248.8,448.5 251.2,447.7 253.6,446.4 254.2,445.4 254.8,442.9 255.4,444.7 255.9,444.6 256.5,443.5 257.1,439.5 258.3,443.8 258.9,444.2 260.1,444.2 261.3,443.6 261.9,443.7 263,444.6 265.4,445.4 268.4,447.4 269,447.3 270.7,445.7 271.3,445.6 273.7,448.5 275.5,449 338.2,449.1 342.3,448.9 344.1,448.4 345.9,448.7 347.6,448.3 349.4,448.9 351.8,449 368.9,448.9 371.3,448.6 373.7,448.9 383.1,448.8 389,448.5 429.3,449.1" fill="none" stroke="#999" stroke-width="0.3" stroke-opacity="0.6"/>
<path d="M232.7,450.9 245.2,450.7 248.2,450.1 250.6,449.2 253,447.4 253.6,446.2 254.2,443 254.8,445.2 255.4,445.2 256,443.7 256.6,438.5 257.7,444.1 258.3,444.6 259.5,444.6 260.7,443.8 261.3,444 262.5,445.1 264.9,446.1 267.9,448.7 268.5,448.6 270.3,446.5 270.9,446.5 273.2,450.1 275,450.8 338.2,450.9 342.3,450.7 344.1,450.1 345.9,450.4 347.7,449.9 349.5,450.7 351.9,450.8 369.2,450.7 371.5,450.3 373.9,450.6 383.5,450.6 389.4,450.2 401.9,450.6 430.1,450.9Z" fill="url(#gs3)"/>
<path d="M232.7,450.9 245.2,450.7 248.2,450.1 250.6,449.2 253,447.4 253.6,446.2 254.2,443 254.8,445.2 255.4,445.2 256,443.7 256.6,438.5 257.7,444.1 258.3,444.6 259.5,444.6 260.7,443.8 261.3,444 262.5,445.1 264.9,446.1 267.9,448.7 268.5,448.6 270.3,446.5 270.9,446.5 273.2,450.1 275,450.8 338.2,450.9 342.3,450.7 344.1,450.1 345.9,450.4 347.7,449.9 349.5,450.7 351.9,450.8 369.2,450.7 371.5,450.3 373.9,450.6 383.5,450.6 389.4,450.2 401.9,450.6 429.9,450.9" fill="none" stroke="#999" stroke-width="0.3" stroke-opacity="0.6"/>
<path d="M232,452.7 244.6,452.4 247.6,451.8 250,450.6 252.4,448.4 253,447 253.6,443.1 254.2,445.8 254.8,445.8 255.4,444 256,437.7 257.2,444.4 257.8,445.1 259,445.1 260.2,444.2 260.8,444.3 262,445.7 264.4,446.9 266.8,449.7 267.4,450.1 268,449.9 269.8,447.4 270.4,447.3 272.8,451.7 273.4,452.3 274.6,452.6 338.2,452.7 342.4,452.5 344.2,451.8 346,452.1 347.8,451.6 349.6,452.5 352,452.6 365.8,452.3 369.4,452.5 371.8,452 374.2,452.4 383.8,452.3 389.8,451.9 402.4,452.4 430.8,452.7Z" fill="url(#gs4)"/>
<path d="M232,452.7 244.6,452.4 247.6,451.8 250,450.6 252.4,448.4 253,447 253.6,443.1 254.2,445.8 254.8,445.8 255.4,444 256,437.7 257.2,444.4 257.8,445.1 259,445.1 260.2,444.2 260.8,444.3 262,445.7 264.4,446.9 266.8,449.7 267.4,450.1 268,449.9 269.8,447.4 270.4,447.3 272.8,451.7 273.4,452.3 274.6,452.6 338.2,452.7 342.4,452.5 344.2,451.8 346,452.1 347.8,451.6 349.6,452.5 352,452.6 365.8,452.3 369.4,452.5 371.8,452 374.2,452.4 383.8,452.3 389.8,451.9 402.4,452.4 430.6,452.7" fill="none" stroke="#999" stroke-width="0.3" stroke-opacity="0.6"/>
<path d="M231.2,454.5 243.9,454.2 246.9,453.4 249.4,452.1 251.8,449.6 252.4,448 253,443.6 253.6,446.6 254.2,446.6 254.8,444.6 255.4,437.4 256.6,445 257.2,445.8 258.4,445.8 259.6,444.8 260.2,444.9 261.4,446.5 263.9,447.9 266.3,451.1 266.9,451.5 267.5,451.3 269.3,448.5 269.9,448.4 272.3,453.4 272.9,454 274.1,454.4 338.2,454.5 342.4,454.2 344.3,453.5 346.1,453.9 347.9,453.2 349.7,454.2 352.1,454.4 363,454.3 366,454 369.6,454.2 372.1,453.7 374.5,454.1 384.1,454.1 390.2,453.6 402.9,454.2 431.4,454.5Z" fill="url(#gs5)"/>
<path d="M231.2,454.5 243.9,454.2 246.9,453.4 249.4,452.1 251.8,449.6 252.4,448 253,443.6 253.6,446.6 254.2,446.6 254.8,444.6 255.4,437.4 256.6,445 257.2,445.8 258.4,445.8 259.6,444.8 260.2,444.9 261.4,446.5 263.9,447.9 266.3,451.1 266.9,451.5 267.5,451.3 269.3,448.5 269.9,448.4 272.3,453.4 272.9,454 274.1,454.4 338.2,454.5 342.4,454.2 344.3,453.5 346.1,453.9 347.9,453.2 349.7,454.2 352.1,454.4 363,454.3 366,454 369.6,454.2 372.1,453.7 374.5,454.1 384.1,454.1 390.2,453.6 402.9,454.2 431.3,454.5" fill="none" stroke="#999" stroke-width="0.3" stroke-opacity="0.6"/>
<path d="M230.5,456.3 243.3,455.9 246.3,455.2 248.7,453.7 251.2,451 251.8,449.2 252.4,444.5 253,447.7 253.6,447.7 254.2,445.6 254.8,437.8 256,446 256.7,446.9 257.9,446.9 259.1,445.8 259.7,445.9 260.9,447.5 263.4,449 266.4,452.9 267,452.8 268.8,449.7 269.4,449.5 271.9,455 273.1,455.7 276.1,456 278.6,455.9 280.4,456.3 282.8,455.6 285.3,455.8 287.1,455.5 289.5,456.3 292,455.7 293.8,455.9 296.2,455.2 298,455.9 300.5,455.7 302.3,456.2 304.7,455.3 307.2,455.7 309,455.4 311.4,456.3 313.3,455.7 315.7,455.9 317.5,455.4 320.6,456.1 322.4,455.9 324.2,456.2 326.7,455.6 333.4,456.3 335.8,456 341.9,456.1 344.3,455 346.1,455.5 348,454.7 349.2,455.7 350.4,456 354.7,456.2 363.8,456.1 366.2,455.8 369.9,456 372.3,455.4 374.8,455.9 385.1,455.8 390.6,455.3 403.4,455.9 432.1,456.3Z" fill="url(#gs6)"/>
<path d="M230.5,456.3 243.3,455.9 246.3,455.2 248.7,453.7 251.2,451 251.8,449.2 252.4,444.5 253,447.7 253.6,447.7 254.2,445.6 254.8,437.8 256,446 256.7,446.9 257.9,446.9 259.1,445.8 259.7,445.9 260.9,447.5 263.4,449 266.4,452.9 267,452.8 268.8,449.7 269.4,449.5 271.9,455 273.1,455.7 276.1,456 278.6,455.9 280.4,456.3 282.8,455.6 285.3,455.8 287.1,455.5 289.5,456.3 292,455.7 293.8,455.9 296.2,455.2 298,455.9 300.5,455.7 302.3,456.2 304.7,455.3 307.2,455.7 309,455.4 311.4,456.3 313.3,455.7 315.7,455.9 317.5,455.4 320.6,456.1 322.4,455.9 324.2,456.2 326.7,455.6 333.4,456.3 335.8,456 341.9,456.1 344.3,455 346.1,455.5 348,454.7 349.2,455.7 350.4,456 354.7,456.2 363.8,456.1 366.2,455.8 369.9,456 372.3,455.4 374.8,455.9 385.1,455.8 390.6,455.3 403.4,455.9 432,456.3" fill="none" stroke="#999" stroke-width="0.3" stroke-opacity="0.6"/>
<path d="M229.7,458.1 242.6,457.7 245.7,456.9 248.1,455.4 250.6,452.7 251.2,450.9 251.8,446 252.4,449.4 253,449.3 253.6,447.2 254.3,439.3 255.5,447.6 256.1,448.5 257.3,448.5 258.5,447.4 259.2,447.5 260.4,449.2 262.8,450.7 265.9,454.6 266.5,454.5 268.4,451.3 269,451.2 271.4,456.7 272.6,457.5 275.7,457.8 278.2,457.7 280,458.1 282.5,457.4 284.9,457.6 286.7,457.3 289.2,458.1 291.6,457.5 293.5,457.7 295.9,457 297.8,457.7 300.2,457.5 302.1,458 304.5,457.1 307,457.5 308.8,457.2 311.3,458.1 313.1,457.5 315.6,457.7 317.4,457.2 320.5,457.9 322.3,457.7 324.1,458 326.6,457.4 333.3,458.1 335.8,457.8 341.9,457.8 344.4,456.7 346.2,457.2 348.1,456.3 349.3,457.4 350.5,457.8 354.8,458 364,457.9 366.4,457.5 370.1,457.8 372.6,457.1 375,457.6 379.3,457.4 385.4,457.5 391,456.9 403.8,457.7 432.8,458.1Z" fill="url(#gs7)"/>
<path d="M229.7,458.1 242.6,457.7 245.7,456.9 248.1,455.4 250.6,452.7 251.2,450.9 251.8,446 252.4,449.4 253,449.3 253.6,447.2 254.3,439.3 255.5,447.6 256.1,448.5 257.3,448.5 258.5,447.4 259.2,447.5 260.4,449.2 262.8,450.7 265.9,454.6 266.5,454.5 268.4,451.3 269,451.2 271.4,456.7 272.6,457.5 275.7,457.8 278.2,457.7 280,458.1 282.5,457.4 284.9,457.6 286.7,457.3 289.2,458.1 291.6,457.5 293.5,457.7 295.9,457 297.8,457.7 300.2,457.5 302.1,458 304.5,457.1 307,457.5 308.8,457.2 311.3,458.1 313.1,457.5 315.6,457.7 317.4,457.2 320.5,457.9 322.3,457.7 324.1,458 326.6,457.4 333.3,458.1 335.8,457.8 341.9,457.8 344.4,456.7 346.2,457.2 348.1,456.3 349.3,457.4 350.5,457.8 354.8,458 364,457.9 366.4,457.5 370.1,457.8 372.6,457.1 375,457.6 379.3,457.4 385.4,457.5 391,456.9 403.8,457.7 432.7,458.1" fill="none" stroke="#999" stroke-width="0.3" stroke-opacity="0.6"/>
<path d="M229,459.9 241.9,459.5 245,458.8 247.5,457.3 250,454.7 250.6,452.9 251.2,448.2 251.8,451.4 252.4,451.4 253.1,449.3 253.7,441.6 254.9,449.7 255.5,450.5 256.8,450.6 258,449.5 258.6,449.6 259.9,451.2 262.3,452.7 265.4,456.5 266,456.4 267.9,453.3 268.5,453.2 271,458.6 272.2,459.3 275.3,459.6 277.8,459.5 279.6,459.9 282.1,459.2 284.5,459.4 286.4,459.1 288.9,459.9 291.3,459.3 293.2,459.5 295.7,458.8 297.5,459.5 300,459.3 301.8,459.8 304.3,458.9 306.8,459.3 308.6,459 311.1,459.9 312.9,459.3 315.4,459.5 317.3,459 320.4,459.7 322.2,459.5 324.1,459.8 326.5,459.2 333.3,459.9 335.8,459.6 342,459.6 344.4,458.3 346.3,459 348.1,457.9 349.4,459.1 350.6,459.6 354.9,459.8 364.2,459.6 366.7,459.2 370.4,459.5 372.8,458.8 375.3,459.4 379.6,459.1 385.8,459.3 391.4,458.6 404.3,459.4 433.5,459.9Z" fill="url(#gs8)"/>
<path d="M229,459.9 241.9,459.5 245,458.8 247.5,457.3 250,454.7 250.6,452.9 251.2,448.2 251.8,451.4 252.4,451.4 253.1,449.3 253.7,441.6 254.9,449.7 255.5,450.5 256.8,450.6 258,449.5 258.6,449.6 259.9,451.2 262.3,452.7 265.4,456.5 266,456.4 267.9,453.3 268.5,453.2 271,458.6 272.2,459.3 275.3,459.6 277.8,459.5 279.6,459.9 282.1,459.2 284.5,459.4 286.4,459.1 288.9,459.9 291.3,459.3 293.2,459.5 295.7,458.8 297.5,459.5 300,459.3 301.8,459.8 304.3,458.9 306.8,459.3 308.6,459 311.1,459.9 312.9,459.3 315.4,459.5 317.3,459 320.4,459.7 322.2,459.5 324.1,459.8 326.5,459.2 333.3,459.9 335.8,459.6 342,459.6 344.4,458.3 346.3,459 348.1,457.9 349.4,459.1 350.6,459.6 354.9,459.8 364.2,459.6 366.7,459.2 370.4,459.5 372.8,458.8 375.3,459.4 379.6,459.1 385.8,459.3 391.4,458.6 404.3,459.4 433.3,459.9" fill="none" stroke="#999" stroke-width="0.3" stroke-opacity="0.6"/>
<path d="M228.2,461.7 241.3,461.4 244.4,460.6 246.9,459.3 249.4,456.8 250,455.1 250.6,450.7 251.2,453.7 251.9,453.7 252.5,451.8 253.1,444.6 254.3,452.1 255,452.9 256.2,453 257.5,452 258.1,452.1 259.3,453.6 261.8,454.9 264.9,458.5 265.5,458.4 267.4,455.5 268,455.4 270.5,460.4 271.1,461 274.9,461.4 277.4,461.3 279.2,461.7 281.7,461 284.2,461.2 286.1,460.9 288.5,461.7 291,461.1 292.9,461.3 295.4,460.6 297.2,461.3 299.7,461.1 301.6,461.6 304.1,460.7 306.6,461.1 308.4,460.8 310.9,461.7 312.8,461.1 315.3,461.3 317.1,460.8 320.2,461.5 322.1,461.3 324,461.6 326.5,461 333.3,461.7 335.8,461.4 342,461.4 342.6,461.3 344.5,460 345.7,460.7 346.4,460.7 348.2,459.6 349.5,460.9 350.7,461.4 355.1,461.6 364.4,461.4 366.9,461 370.6,461.3 373.1,460.5 375.6,461.1 379.9,460.8 386.1,461 391.7,460.3 396.7,460.8 404.8,461.2 434.2,461.7Z" fill="url(#gs9)"/>
<path d="M228.2,461.7 241.3,461.4 244.4,460.6 246.9,459.3 249.4,456.8 250,455.1 250.6,450.7 251.2,453.7 251.9,453.7 252.5,451.8 253.1,444.6 254.3,452.1 255,452.9 256.2,453 257.5,452 258.1,452.1 259.3,453.6 261.8,454.9 264.9,458.5 265.5,458.4 267.4,455.5 268,455.4 270.5,460.4 271.1,461 274.9,461.4 277.4,461.3 279.2,461.7 281.7,461 284.2,461.2 286.1,460.9 288.5,461.7 291,461.1 292.9,461.3 295.4,460.6 297.2,461.3 299.7,461.1 301.6,461.6 304.1,460.7 306.6,461.1 308.4,460.8 310.9,461.7 312.8,461.1 315.3,461.3 317.1,460.8 320.2,461.5 322.1,461.3 324,461.6 326.5,461 333.3,461.7 335.8,461.4 342,461.4 342.6,461.3 344.5,460 345.7,460.7 346.4,460.7 348.2,459.6 349.5,460.9 350.7,461.4 355.1,461.6 364.4,461.4 366.9,461 370.6,461.3 373.1,460.5 375.6,461.1 379.9,460.8 386.1,461 391.7,460.3 396.7,460.8 404.8,461.2 434,461.7" fill="none" stroke="#999" stroke-width="0.3" stroke-opacity="0.6"/>
<path d="M227.5,463.5 240.6,463.2 243.8,462.5 246.3,461.3 248.8,459 249.4,457.5 250,453.4 250.7,456.2 251.3,456.2 251.9,454.4 252.5,447.8 253.8,454.8 254.4,455.5 255.7,455.5 256.9,454.6 257.5,454.7 258.8,456 261.3,457.3 264.4,460.6 265.1,460.5 266.9,457.9 267.6,457.7 270.1,462.3 270.7,462.8 274.4,463.2 276.9,463.1 278.8,463.5 281.3,462.8 283.8,463 285.7,462.7 288.2,463.5 290.7,462.9 292.6,463.1 295.1,462.4 297,463.1 299.5,462.9 301.4,463.4 303.9,462.5 306.4,462.9 308.2,462.6 310.7,463.5 312.6,462.9 315.1,463.1 317,462.6 320.1,463.3 322,463.1 323.9,463.4 326.4,462.8 333.3,463.5 335.8,463.2 342,463.2 342.7,463 344.6,461.7 345.8,462.4 346.4,462.4 348.3,461.2 348.9,462.1 350.2,463 355.2,463.4 364.6,463.2 367.1,462.7 369,463.1 370.8,463.1 373.3,462.2 375.8,462.9 380.2,462.6 386.5,462.8 392.1,462 397.1,462.6 405.3,462.9 434.8,463.5Z" fill="url(#gs10)"/>
<path d="M227.5,463.5 240.6,463.2 243.8,462.5 246.3,461.3 248.8,459 249.4,457.5 250,453.4 250.7,456.2 251.3,456.2 251.9,454.4 252.5,447.8 253.8,454.8 254.4,455.5 255.7,455.5 256.9,454.6 257.5,454.7 258.8,456 261.3,457.3 264.4,460.6 265.1,460.5 266.9,457.9 267.6,457.7 270.1,462.3 270.7,462.8 274.4,463.2 276.9,463.1 278.8,463.5 281.3,462.8 283.8,463 285.7,462.7 288.2,463.5 290.7,462.9 292.6,463.1 295.1,462.4 297,463.1 299.5,462.9 301.4,463.4 303.9,462.5 306.4,462.9 308.2,462.6 310.7,463.5 312.6,462.9 315.1,463.1 317,462.6 320.1,463.3 322,463.1 323.9,463.4 326.4,462.8 333.3,463.5 335.8,463.2 342,463.2 342.7,463 344.6,461.7 345.8,462.4 346.4,462.4 348.3,461.2 348.9,462.1 350.2,463 355.2,463.4 364.6,463.2 367.1,462.7 369,463.1 370.8,463.1 373.3,462.2 375.8,462.9 380.2,462.6 386.5,462.8 392.1,462 397.1,462.6 405.3,462.9 434.7,463.5" fill="none" stroke="#999" stroke-width="0.3" stroke-opacity="0.6"/>
<path d="M226.7,465.3 240,465.1 243.1,464.5 245.6,463.3 248.2,461.3 248.8,459.9 249.4,456.2 250,458.7 250.7,458.7 251.3,457.1 251.9,451.1 253.2,457.4 253.8,458.1 255.1,458.1 256.4,457.3 257,457.3 258.2,458.6 260.8,459.7 263.9,462.7 264.5,462.6 266.4,460.2 267.1,460.1 269.6,464.3 270.2,464.7 274,465.1 276.5,465 278.4,465.3 280.9,464.7 283.5,464.9 285.4,464.6 287.9,465.3 290.4,464.7 292.3,465 294.8,464.2 296.7,465 299.2,464.7 301.1,465.3 303.6,464.3 306.2,464.8 308,464.5 310.6,465.3 312.5,464.7 315,464.9 316.9,464.4 320,465.2 321.9,464.9 323.8,465.2 326.3,464.7 333.3,465.3 335.8,465 342.1,465 342.7,464.9 344.6,463.4 345.9,464.2 346.5,464.2 348.4,462.9 349,463.8 350.3,464.8 355.3,465.2 364.8,465 367.3,464.5 369.2,464.9 371.1,464.9 373.6,464 376.1,464.7 380.5,464.4 386.8,464.6 392.5,463.7 397.6,464.4 405.8,464.7 435.5,465.3Z" fill="url(#gs11)"/>
<path d="M226.7,465.3 239.3,465.1 242.5,464.6 245.6,463.3 248.2,461.3 248.8,459.9 249.4,456.2 250,458.7 250.7,458.7 251.3,457.1 251.9,451.1 253.2,457.4 253.8,458.1 255.1,458.1 256.4,457.3 257,457.3 258.2,458.6 260.8,459.7 263.9,462.7 264.5,462.6 266.4,460.2 267.1,460.1 269.6,464.3 270.2,464.7 274,465.1 276.5,465 278.4,465.3 280.9,464.7 283.5,464.9 285.4,464.6 287.9,465.3 290.4,464.7 292.3,465 294.8,464.2 296.7,465 299.2,464.7 301.1,465.3 303.6,464.3 306.2,464.8 308,464.5 310.6,465.3 312.5,464.7 315,464.9 316.9,464.4 320,465.2 321.9,464.9 323.8,465.2 326.3,464.7 333.3,465.3 335.8,465 342.1,465 342.7,464.9 344.6,463.4 345.9,464.2 346.5,464.2 348.4,462.9 349,463.8 350.3,464.8 355.3,465.2 364.8,465 367.3,464.5 369.2,464.9 371.1,464.9 373.6,464 376.1,464.7 380.5,464.4 386.8,464.6 392.5,463.7 397.6,464.4 405.8,464.7 435.4,465.3" fill="none" stroke="#999" stroke-width="0.3" stroke-opacity="0.6"/>
<path d="M225.9,467.3 238.6,467.1 241.8,466.6 245,465.4 247.5,463.5 248.2,462.3 248.8,458.9 249.4,461.2 250.1,461.2 250.7,459.7 251.3,454.2 252.6,460 253.2,460.6 254.5,460.6 255.8,459.8 256.4,459.9 257.7,461 260.2,462.1 263.4,464.8 264,464.8 265.9,462.5 266.6,462.4 269.1,466.3 269.7,466.7 273.6,467 276.1,466.9 278,467.2 280.5,466.6 283.1,466.8 285,466.5 287.5,467.2 290.1,466.6 292,466.9 294.5,466.1 296.4,466.9 299,466.6 300.9,467.2 303.4,466.2 305.9,466.7 307.8,466.4 310.4,467.2 312.3,466.7 314.8,466.8 316.7,466.3 319.9,467.1 321.8,466.8 323.7,467.2 326.3,466.6 333.2,467.2 335.8,466.9 342.1,466.9 342.8,466.8 344.7,465.2 345.9,466 346.6,466 348.5,464.7 349.1,465.7 350.4,466.7 354.8,467.1 365,466.9 367.5,466.4 369.4,466.8 371.3,466.8 373.9,465.8 376.4,466.6 380.9,466.2 386.6,466.5 392.9,465.6 398,466.2 406.3,466.6 436.3,467.3Z" fill="url(#gs12)"/>
<path d="M225.9,467.2 238.6,467.1 241.8,466.6 245,465.4 247.5,463.5 248.2,462.3 248.8,458.9 249.4,461.2 250.1,461.2 250.7,459.7 251.3,454.2 252.6,460 253.2,460.6 254.5,460.6 255.8,459.8 256.4,459.9 257.7,461 260.2,462.1 263.4,464.8 264,464.8 265.9,462.5 266.6,462.4 269.1,466.3 269.7,466.7 273.6,467 276.1,466.9 278,467.2 280.5,466.6 283.1,466.8 285,466.5 287.5,467.2 290.1,466.6 292,466.9 294.5,466.1 296.4,466.9 299,466.6 300.9,467.2 303.4,466.2 305.9,466.7 307.8,466.4 310.4,467.2 312.3,466.7 314.8,466.8 316.7,466.3 319.9,467.1 321.8,466.8 323.7,467.2 326.3,466.6 333.2,467.2 335.8,466.9 342.1,466.9 342.8,466.8 344.7,465.2 345.9,466 346.6,466 348.5,464.7 349.1,465.7 350.4,466.7 354.8,467.1 365,466.9 367.5,466.4 369.4,466.8 371.3,466.8 373.9,465.8 376.4,466.6 380.9,466.2 386.6,466.5 392.9,465.6 398,466.2 406.3,466.6 436.1,467.2" fill="none" stroke="#999" stroke-width="0.3" stroke-opacity="0.6"/>
<path d="M225.1,469.2 237.9,469 241.1,468.6 244.3,467.4 246.9,465.7 247.5,464.5 248.2,461.3 248.8,463.5 249.4,463.5 250.1,462.1 250.7,457 252,462.4 252.6,462.9 253.9,463 255.2,462.3 255.8,462.3 257.1,463.4 259.7,464.3 262.9,466.9 263.5,466.8 265.4,464.8 266.1,464.6 268.6,468.2 269.3,468.6 273.1,468.9 275.7,468.8 277.6,469.1 280.1,468.5 282.7,468.7 284.6,468.4 287.2,469.1 289.7,468.6 291.7,468.8 294.2,468 296.1,468.8 298.7,468.5 300.6,469.1 303.2,468.1 305.7,468.6 307.6,468.3 310.2,469.2 312.1,468.6 314.7,468.7 316.6,468.2 319.8,469 321.7,468.7 323.6,469.1 326.2,468.5 333.2,469.2 342.2,468.8 342.8,468.6 344.7,467.1 346,467.9 346.7,467.9 348.6,466.5 349.9,468.2 351.1,468.8 352.4,468.9 364.6,468.9 367.8,468.3 371,468.7 372.2,468.6 374.2,467.7 376.7,468.5 381.2,468.1 386.9,468.4 393.3,467.4 398.5,468.1 406.8,468.5 437,469.2Z" fill="url(#gs13)"/>
<path d="M225.1,469.2 237.9,469 241.1,468.6 244.3,467.4 246.9,465.7 247.5,464.5 248.2,461.3 248.8,463.5 249.4,463.5 250.1,462.1 250.7,457 252,462.4 252.6,462.9 253.9,463 255.2,462.3 255.8,462.3 257.1,463.4 259.7,464.3 262.9,466.9 263.5,466.8 265.4,464.8 266.1,464.6 268.6,468.2 269.3,468.6 273.1,468.9 275.7,468.8 277.6,469.1 280.1,468.5 282.7,468.7 284.6,468.4 287.2,469.1 289.7,468.6 291.7,468.8 294.2,468 296.1,468.8 298.7,468.5 300.6,469.1 303.2,468.1 305.7,468.6 307.6,468.3 310.2,469.2 312.1,468.6 314.7,468.7 316.6,468.2 319.8,469 321.7,468.7 323.6,469.1 326.2,468.5 333.2,469.2 342.2,468.8 342.8,468.6 344.7,467.1 346,467.9 346.7,467.9 348.6,466.5 349.2,467.5 350.5,468.6 355,469 364.6,468.9 367.8,468.3 369.7,468.7 371.6,468.7 374.2,467.7 376.7,468.5 381.2,468.1 386.9,468.4 393.3,467.4 398.5,468.1 406.8,468.5 436.8,469.1" fill="none" stroke="#999" stroke-width="0.3" stroke-opacity="0.6"/>
<path d="M224.4,471.1 237.2,470.9 240.5,470.5 243.7,469.4 246.3,467.8 246.9,466.6 247.5,463.6 248.2,465.7 248.8,465.7 249.5,464.4 250.1,459.6 251.4,464.6 252,465.2 253.3,465.2 254.6,464.5 255.3,464.6 256.6,465.6 259.1,466.5 262.4,468.9 263,468.9 264.9,466.9 265.6,466.8 268.1,470.2 268.8,470.5 272.7,470.8 275.2,470.7 277.2,471 279.7,470.4 282.3,470.6 284.3,470.3 286.8,471 289.4,470.5 291.3,470.7 293.9,469.9 295.8,470.7 298.4,470.5 300.4,471 302.9,470 305.5,470.5 307.4,470.2 310,471.1 311.9,470.5 314.5,470.7 316.5,470.1 319.7,470.9 321.6,470.7 323.5,471 326.1,470.4 333.2,471.1 342.2,470.7 342.9,470.5 344.8,468.9 346.1,469.8 346.7,469.8 348.7,468.4 350,470.1 351.2,470.7 352.5,470.8 364.8,470.8 368,470.2 371.2,470.6 372.5,470.5 374.4,469.6 377,470.4 381.5,470 387.3,470.2 393.8,469.3 398.9,470 407.3,470.4 437.7,471.1Z" fill="url(#gs14)"/>
<path d="M224.4,471.1 237.2,470.9 240.5,470.5 243.7,469.4 246.3,467.8 246.9,466.6 247.5,463.6 248.2,465.7 248.8,465.7 249.5,464.4 250.1,459.6 251.4,464.6 252,465.2 253.3,465.2 254.6,464.5 255.3,464.6 256.6,465.6 259.1,466.5 262.4,468.9 263,468.9 264.9,466.9 265.6,466.8 268.1,470.2 268.8,470.5 272.7,470.8 275.2,470.7 277.2,471 279.7,470.4 282.3,470.6 284.3,470.3 286.8,471 289.4,470.5 291.3,470.7 293.9,469.9 295.8,470.7 298.4,470.5 300.4,471 302.9,470 305.5,470.5 307.4,470.2 310,471.1 311.9,470.5 314.5,470.7 316.5,470.1 319.7,470.9 321.6,470.7 323.5,471 326.1,470.4 333.2,471.1 342.2,470.7 342.9,470.5 344.8,468.9 346.1,469.8 346.7,469.8 348.7,468.4 350,470.1 351.2,470.7 352.5,470.8 364.8,470.8 368,470.2 371.2,470.6 372.5,470.5 374.4,469.6 377,470.4 381.5,470 387.3,470.2 393.8,469.3 398.9,470 407.3,470.4 437.6,471" fill="none" stroke="#999" stroke-width="0.3" stroke-opacity="0.6"/>
<path d="M223.6,473 236.5,472.8 239.8,472.4 243,471.4 245.6,469.8 246.3,468.7 246.9,465.8 247.6,467.8 248.2,467.8 248.9,466.5 249.5,461.9 250.8,466.8 251.5,467.3 252.7,467.3 254,466.7 254.7,466.7 256,467.7 258.6,468.6 261.8,470.9 262.5,470.8 264.4,469 265.1,468.8 267.7,472.1 268.3,472.4 272.2,472.7 274.8,472.6 276.8,472.9 279.3,472.3 281.9,472.5 283.9,472.2 286.5,472.9 289.1,472.4 291,472.6 293.6,471.8 295.6,472.6 298.2,472.4 300.1,472.9 302.7,471.9 305.3,472.4 307.2,472.1 309.8,473 311.8,472.4 314.4,472.6 316.3,472.1 319.6,472.8 321.5,472.6 323.5,472.9 326.1,472.3 333.2,473 342.3,472.6 342.9,472.5 344.9,470.8 346.2,471.7 346.8,471.7 348.8,470.3 350.1,472 351.3,472.6 352.6,472.7 365,472.7 368.2,472.1 371.5,472.5 372.8,472.4 374.7,471.5 377.3,472.3 381.8,471.9 387.7,472.2 394.2,471.2 399.4,471.9 407.8,472.3 438.4,473Z" fill="url(#gs15)"/>
<path d="M223.6,473 236.5,472.8 239.8,472.4 243,471.4 245.6,469.8 246.3,468.7 246.9,465.8 247.6,467.8 248.2,467.8 248.9,466.5 249.5,461.9 250.8,466.8 251.5,467.3 252.7,467.3 254,466.7 254.7,466.7 256,467.7 258.6,468.6 261.8,470.9 262.5,470.8 264.4,469 265.1,468.8 267.7,472.1 268.3,472.4 272.2,472.7 274.8,472.6 276.8,472.9 279.3,472.3 281.9,472.5 283.9,472.2 286.5,472.9 289.1,472.4 291,472.6 293.6,471.8 295.6,472.6 298.2,472.4 300.1,472.9 302.7,471.9 305.3,472.4 307.2,472.1 309.8,473 311.8,472.4 314.4,472.6 316.3,472.1 319.6,472.8 321.5,472.6 323.5,472.9 326.1,472.3 333.2,473 342.3,472.6 342.9,472.5 344.9,470.8 346.2,471.7 346.8,471.7 348.8,470.3 350.1,472 351.3,472.6 352.6,472.7 365,472.7 368.2,472.1 371.5,472.5 372.8,472.4 374.7,471.5 377.3,472.3 381.8,471.9 387.7,472.2 394.2,471.2 399.4,471.9 407.8,472.3 438.3,472.9" fill="none" stroke="#999" stroke-width="0.3" stroke-opacity="0.6"/>
<path d="M222.8,474.9 235.8,474.7 239.1,474.4 242.4,473.4 245,471.8 245.6,470.7 246.3,468 246.9,469.9 247.6,469.9 248.2,468.6 248.9,464.1 250.2,468.9 250.9,469.4 252.2,469.4 253.5,468.8 254.1,468.8 255.4,469.7 258,470.6 261.3,472.8 262,472.8 263.9,471 264.6,470.8 267.2,474.1 267.8,474.4 271.8,474.6 274.4,474.5 276.3,474.9 278.9,474.2 281.6,474.4 283.5,474.1 286.1,474.8 288.7,474.3 290.7,474.5 293.3,473.8 295.3,474.5 297.9,474.3 299.9,474.8 302.5,473.8 305.1,474.3 307,474 309.6,474.9 311.6,474.3 314.2,474.5 316.2,474 319.4,474.7 321.4,474.5 323.4,474.8 326,474.2 333.2,474.9 342.3,474.5 343,474.4 344.9,472.8 346.2,473.6 346.9,473.6 348.8,472.2 350.2,473.9 351.5,474.5 352.8,474.6 365.2,474.6 368.4,474 371.7,474.4 373,474.3 375,473.4 377.6,474.2 382.2,473.8 388,474.1 394.6,473.1 399.8,473.8 408.3,474.2 439.2,474.9Z" fill="url(#gs16)"/>
<path d="M222.8,474.9 235.8,474.7 239.1,474.4 242.4,473.4 245,471.8 245.6,470.7 246.3,468 246.9,469.9 247.6,469.9 248.2,468.6 248.9,464.1 250.2,468.9 250.9,469.4 252.2,469.4 253.5,468.8 254.1,468.8 255.4,469.7 258,470.6 261.3,472.8 262,472.8 263.9,471 264.6,470.8 267.2,474.1 267.8,474.4 271.8,474.6 274.4,474.5 276.3,474.9 278.9,474.2 281.6,474.4 283.5,474.1 286.1,474.8 288.7,474.3 290.7,474.5 293.3,473.8 295.3,474.5 297.9,474.3 299.9,474.8 302.5,473.8 305.1,474.3 307,474 309.6,474.9 311.6,474.3 314.2,474.5 316.2,474 319.4,474.7 321.4,474.5 323.4,474.8 326,474.2 333.2,474.9 342.3,474.5 343,474.4 344.9,472.8 346.2,473.6 346.9,473.6 348.8,472.2 350.2,473.9 351.5,474.5 352.8,474.6 365.2,474.6 368.4,474 371.7,474.4 373,474.3 375,473.4 377.6,474.2 382.2,473.8 388,474.1 394.6,473.1 399.8,473.8 408.3,474.2 439,474.9" fill="none" stroke="#999" stroke-width="0.3" stroke-opacity="0.6"/>
<path d="M222,476.8 235.1,476.6 238.4,476.3 241.7,475.3 244.3,473.8 245,472.8 245.7,470.1 246.3,471.9 247,471.9 247.6,470.7 248.3,466.4 249.6,471 250.3,471.4 251.6,471.5 252.9,470.9 253.6,470.9 254.9,471.8 257.5,472.6 260.8,474.8 261.4,474.8 263.4,473 264.1,472.9 266.7,476 267.4,476.3 269.3,476.2 271.3,476.5 273.9,476.4 275.9,476.8 278.5,476.1 281.2,476.3 283.2,476 285.8,476.8 288.4,476.2 290.4,476.4 293,475.7 295,476.4 297.6,476.2 299.6,476.7 302.2,475.7 304.9,476.2 306.8,475.9 309.5,476.8 311.4,476.2 314.1,476.4 316,475.9 319.3,476.6 321.3,476.4 323.3,476.7 325.9,476.1 333.1,476.8 342.4,476.4 343,476.3 345,474.7 346.3,475.5 347,475.5 348.9,474.1 350.3,475.8 351.6,476.4 352.9,476.6 365.4,476.5 368.7,475.9 372,476.3 373.3,476.2 375.2,475.3 377.9,476.1 382.5,475.7 388.4,476 395,475 400.2,475.7 408.8,476.1 439.9,476.8Z" fill="url(#gs17)"/>
<path d="M222,476.8 235.1,476.6 238.4,476.3 241.7,475.3 244.3,473.8 245,472.8 245.7,470.1 246.3,471.9 247,471.9 247.6,470.7 248.3,466.4 249.6,471 250.3,471.4 251.6,471.5 252.9,470.9 253.6,470.9 254.9,471.8 257.5,472.6 260.8,474.8 261.4,474.8 263.4,473 264.1,472.9 266.7,476 267.4,476.3 269.3,476.2 271.3,476.5 273.9,476.4 275.9,476.8 278.5,476.1 281.2,476.3 283.2,476 285.8,476.8 288.4,476.2 290.4,476.4 293,475.7 295,476.4 297.6,476.2 299.6,476.7 302.2,475.7 304.9,476.2 306.8,475.9 309.5,476.8 311.4,476.2 314.1,476.4 316,475.9 319.3,476.6 321.3,476.4 323.3,476.7 325.9,476.1 333.1,476.8 342.4,476.4 343,476.3 345,474.7 346.3,475.5 347,475.5 348.9,474.1 349.6,475.2 350.9,476.2 352.2,476.5 355.5,476.6 365.4,476.5 368.7,475.9 370.6,476.3 372.6,476.3 375.2,475.3 377.9,476.1 382.5,475.7 388.4,476 395,475 400.2,475.7 408.8,476.1 439.7,476.8" fill="none" stroke="#999" stroke-width="0.3" stroke-opacity="0.6"/>
<path d="M221.2,478.7 234.4,478.5 237.7,478.2 241.1,477.3 243.7,475.8 244.4,474.8 245,472.2 245.7,474 246.4,474 247,472.8 247.7,468.6 249,473 249.7,473.5 251,473.5 252.3,472.9 253,473 254.3,473.8 257,474.7 260.3,476.8 260.9,476.7 262.9,475 263.6,474.9 266.2,477.9 266.9,478.2 268.9,478.1 270.9,478.5 273.5,478.3 275.5,478.7 278.1,478 280.8,478.2 282.8,477.9 285.4,478.7 288.1,478.1 290.1,478.3 292.7,477.6 294.7,478.3 297.4,478.1 299.3,478.6 302,477.6 304.6,478.1 306.6,477.8 309.3,478.7 311.3,478.1 313.9,478.3 315.9,477.8 319.2,478.5 321.2,478.3 323.2,478.6 325.8,478 333.1,478.7 342.4,478.3 343.1,478.2 345.1,476.5 346.4,477.4 347,477.4 349,476 350.3,477.7 351.7,478.3 353,478.5 365.6,478.4 368.9,477.8 372.2,478.2 373.5,478.1 375.5,477.2 378.2,478 382.8,477.6 388.8,477.9 395.4,476.9 400.7,477.6 409.3,478 440.6,478.7Z" fill="url(#gs18)"/>
<path d="M221.2,478.7 234.4,478.5 237.7,478.2 241.1,477.3 243.7,475.8 244.4,474.8 245,472.2 245.7,474 246.4,474 247,472.8 247.7,468.6 249,473 249.7,473.5 251,473.5 252.3,472.9 253,473 254.3,473.8 257,474.7 260.3,476.8 260.9,476.7 262.9,475 263.6,474.9 266.2,477.9 266.9,478.2 268.9,478.1 270.9,478.5 273.5,478.3 275.5,478.7 278.1,478 280.8,478.2 282.8,477.9 285.4,478.7 288.1,478.1 290.1,478.3 292.7,477.6 294.7,478.3 297.4,478.1 299.3,478.6 302,477.6 304.6,478.1 306.6,477.8 309.3,478.7 311.3,478.1 313.9,478.3 315.9,477.8 319.2,478.5 321.2,478.3 323.2,478.6 325.8,478 333.1,478.7 342.4,478.3 343.1,478.2 345.1,476.5 346.4,477.4 347,477.4 349,476 349.7,477 351,478.1 352.3,478.4 355.6,478.5 365.6,478.4 368.9,477.8 370.9,478.3 372.9,478.2 375.5,477.2 378.2,478 382.8,477.6 388.8,477.9 395.4,476.9 400.7,477.6 409.3,478 440.4,478.7" fill="none" stroke="#999" stroke-width="0.3" stroke-opacity="0.6"/>
<path d="M220.4,480.6 233.7,480.4 237.1,480.1 240.4,479.2 243.1,477.7 243.7,476.7 244.4,474 245.1,475.8 245.7,475.8 246.4,474.7 247.1,470.4 248.4,474.9 249.1,475.4 250.4,475.4 251.7,474.8 252.4,474.9 253.7,475.7 256.4,476.5 259.7,478.6 260.4,478.6 262.4,476.9 263.1,476.8 265.7,479.8 266.4,480.1 268.4,480 270.4,480.4 273.1,480.2 275.1,480.6 277.8,479.9 280.4,480.1 282.4,479.8 285.1,480.6 287.8,480 289.8,480.2 292.4,479.4 294.4,480.2 297.1,480 299.1,480.5 301.8,479.5 304.4,480 306.4,479.7 309.1,480.6 311.1,480 313.8,480.2 315.8,479.7 319.1,480.4 321.1,480.2 323.1,480.5 325.8,479.9 333.1,480.6 342.4,480.2 343.1,480 345.1,478 346.4,479 347.1,479 349.1,477.3 350.4,479.4 351.8,480.1 353.1,480.3 365.8,480.3 369.1,479.6 370.5,480 372.5,480.1 373.8,480 375.8,479 378.5,479.8 383.1,479.4 389.1,479.7 395.8,478.7 401.1,479.4 409.8,479.9 441.3,480.6Z" fill="url(#gs19)"/>
<path d="M220.4,480.6 233.7,480.4 237.1,480.1 240.4,479.2 243.1,477.7 243.7,476.7 244.4,474 245.1,475.8 245.7,475.8 246.4,474.7 247.1,470.4 248.4,474.9 249.1,475.4 250.4,475.4 251.7,474.8 252.4,474.9 253.7,475.7 256.4,476.5 259.7,478.6 260.4,478.6 262.4,476.9 263.1,476.8 265.7,479.8 266.4,480.1 268.4,480 270.4,480.4 273.1,480.2 275.1,480.6 277.8,479.9 280.4,480.1 282.4,479.8 285.1,480.6 287.8,480 289.8,480.2 292.4,479.4 294.4,480.2 297.1,480 299.1,480.5 301.8,479.5 304.4,480 306.4,479.7 309.1,480.6 311.1,480 313.8,480.2 315.8,479.7 319.1,480.4 321.1,480.2 323.1,480.5 325.8,479.9 333.1,480.6 342.4,480.2 343.1,480 345.1,478 346.4,479 347.1,479 349.1,477.3 350.4,479.4 351.8,480.1 353.1,480.3 365.8,480.3 369.1,479.6 370.5,480 372.5,480.1 373.8,480 375.8,479 378.5,479.8 383.1,479.4 389.1,479.7 395.8,478.7 401.1,479.4 409.8,479.9 441.2,480.6" fill="none" stroke="#999" stroke-width="0.3" stroke-opacity="0.6"/>
<path d="M219.6,482.5 233,482.3 236.4,482 239.7,480.9 242.4,479.2 243.1,478.1 243.8,475.1 244.4,477.2 245.1,477.2 245.8,475.9 246.5,471.1 247.8,476.1 248.5,476.6 249.8,476.7 251.2,476 251.8,476.1 253.2,477 255.9,477.9 259.2,480.3 259.9,480.3 261.9,478.3 262.6,478.2 265.3,481.6 265.9,481.9 268,481.9 270,482.2 272.7,482.1 274.7,482.5 277.4,481.8 280,482 282.1,481.6 284.7,482.5 287.4,481.8 289.4,482.1 292.1,481.2 294.1,482.1 296.8,481.8 298.8,482.4 301.5,481.3 304.2,481.9 306.2,481.5 308.9,482.5 310.9,481.8 313.6,482.1 315.6,481.5 319,482.3 321,482.1 323,482.4 325.7,481.8 333.1,482.5 335.1,482.2 337.8,482.3 342.5,481.8 343.2,481.4 345.2,478 346.5,479.8 347.2,479.8 349.2,476.9 349.9,479.2 351.2,481.3 352.6,482 353.9,482.2 366,482.1 369.4,481.1 371.4,481.8 373.4,481.8 376.1,480.3 378.8,481.4 383.5,480.9 389.5,481.3 396.2,479.8 398.2,480 401.6,480.9 410.3,481.5 417,481.5 427.1,482.2 442,482.5Z" fill="url(#gs20)"/>
<path d="M219.6,482.5 233,482.3 236.4,482 239.7,480.9 242.4,479.2 243.1,478.1 243.8,475.1 244.4,477.2 245.1,477.2 245.8,475.9 246.5,471.1 247.8,476.1 248.5,476.6 249.8,476.7 251.2,476 251.8,476.1 253.2,477 255.9,477.9 259.2,480.3 259.9,480.3 261.9,478.3 262.6,478.2 265.3,481.6 265.9,481.9 268,481.9 270,482.2 272.7,482.1 274.7,482.5 277.4,481.8 280,482 282.1,481.6 284.7,482.5 287.4,481.8 289.4,482.1 292.1,481.2 294.1,482.1 296.8,481.8 298.8,482.4 301.5,481.3 304.2,481.9 306.2,481.5 308.9,482.5 310.9,481.8 313.6,482.1 315.6,481.5 319,482.3 321,482.1 323,482.4 325.7,481.8 333.1,482.5 335.1,482.2 337.8,482.3 342.5,481.8 343.2,481.4 345.2,478 346.5,479.8 347.2,479.8 349.2,476.9 349.9,479.2 351.2,481.3 352.6,482 353.9,482.2 366,482.1 369.4,481.1 371.4,481.8 373.4,481.8 376.1,480.3 378.8,481.4 383.5,480.9 389.5,481.3 396.2,479.8 398.2,480 401.6,480.9 410.3,481.5 417,481.5 427.1,482.2 441.9,482.5" fill="none" stroke="#999" stroke-width="0.3" stroke-opacity="0.6"/>
<path d="M218.8,484.4 232.3,484.2 235.7,483.7 239.1,482.2 241.8,479.9 242.5,478.4 243.1,474.3 243.8,477.1 244.5,477.1 245.2,475.3 245.9,468.7 247.2,475.6 247.9,476.3 249.2,476.4 250.6,475.5 251.3,475.6 252.6,476.9 255.3,478.2 258.7,481.4 259.4,481.4 261.4,478.7 262.1,478.5 264.8,483.2 265.5,483.7 267.5,483.6 269.5,484.1 272.2,483.9 274.2,484.4 277,483.5 279.7,483.8 281.7,483.3 284.4,484.4 287.1,483.6 289.1,483.9 291.8,482.9 293.9,483.9 296.6,483.6 298.6,484.3 301.3,483 304,483.6 306,483.2 308.7,484.4 310.8,483.6 313.5,483.9 315.5,483.2 318.9,484.2 320.9,483.9 322.9,484.3 325.6,483.5 328.3,484 330.4,483.9 333.1,484.4 335.1,484 337.8,484 341.9,483.1 343.2,482.1 345.2,474.9 346.6,478.6 347.3,478.6 349.3,472.5 350,477.4 351.3,482 352.7,483.4 354,483.8 357.4,484 366.2,483.6 367.6,483.2 368.9,482 369.6,481.9 371.6,483.2 373.6,483.1 374.3,482.8 376.3,480.4 377,480.7 378.4,482.3 379,482.5 383.8,481.5 389.9,482.2 391.9,481.7 395.3,479.7 396.6,479.6 398.7,479.8 402,481.4 405.4,481.6 410.8,482.6 417.6,482.6 427.7,483.9 442.8,484.4Z" fill="url(#gs21)"/>
<path d="M218.8,484.4 232.3,484.2 235.7,483.7 239.1,482.2 241.8,479.9 242.5,478.4 243.1,474.3 243.8,477.1 244.5,477.1 245.2,475.3 245.9,468.7 247.2,475.6 247.9,476.3 249.2,476.4 250.6,475.5 251.3,475.6 252.6,476.9 255.3,478.2 258.7,481.4 259.4,481.4 261.4,478.7 262.1,478.5 264.8,483.2 265.5,483.7 267.5,483.6 269.5,484.1 272.2,483.9 274.2,484.4 277,483.5 279.7,483.8 281.7,483.3 284.4,484.4 287.1,483.6 289.1,483.9 291.8,482.9 293.9,483.9 296.6,483.6 298.6,484.3 301.3,483 304,483.6 306,483.2 308.7,484.4 310.8,483.6 313.5,483.9 315.5,483.2 318.9,484.2 320.9,483.9 322.9,484.3 325.6,483.5 328.3,484 330.4,483.9 333.1,484.4 335.1,484 337.8,484 341.9,483.1 343.2,482.1 345.2,474.9 346.6,478.6 347.3,478.6 349.3,472.5 350,477.4 351.3,482 352.7,483.4 354,483.8 357.4,484 366.2,483.6 367.6,483.2 368.9,482 369.6,481.9 371.6,483.2 373.6,483.1 374.3,482.8 376.3,480.4 377,480.7 378.4,482.3 379,482.5 383.8,481.5 389.9,482.2 391.9,481.7 395.3,479.7 396.6,479.6 398.7,479.8 402,481.4 405.4,481.6 410.8,482.6 417.6,482.6 427.7,483.9 442.6,484.3" fill="none" stroke="#999" stroke-width="0.3" stroke-opacity="0.6"/>
<path d="M218,486.5 231.6,486.1 235,485.2 238.4,482.9 239.7,481.4 241.1,479.2 241.8,476.8 242.5,470.2 243.2,474.7 243.8,474.7 244.5,471.8 245.2,461.2 246.6,472.3 247.2,473.5 247.9,473.8 248.6,473.6 250,472.1 250.6,472.2 252,474.4 254.7,476.5 258.1,481.7 258.8,481.6 260.9,477.3 261.5,477.1 262.2,478.4 264.3,484.6 264.9,485.4 267,485.4 269,486 271.8,485.8 273.8,486.4 274.5,486.4 276.5,485.3 279.2,485.6 281.3,485 284,486.4 286.7,485.3 288.8,485.8 290.8,484.5 291.5,484.4 293.5,485.8 294.2,485.9 296.3,485.3 298.3,486.3 299,486.2 301,484.5 303.8,485.4 305.8,484.8 308.5,486.5 310.6,485.4 311.3,485.2 313.3,485.7 315.3,484.8 316,484.8 318.1,486.1 318.7,486.2 320.8,485.7 322.8,486.3 325.6,485.3 328.3,485.9 330.3,485.7 333,486.4 335.1,485.9 338.5,485.6 341.9,483.9 342.6,483.2 343.3,481.7 345.3,466.3 346.7,474.2 347.4,474.1 349.4,461.2 350.1,471.6 351.4,481.5 352.1,483.4 352.8,484.4 354.2,485.2 357.6,485.7 366.4,484.9 367.8,484 369.1,481.7 369.8,481.6 371.2,483.6 371.9,484 373.9,483.8 374.6,483.3 376.6,478.5 377.3,479.2 378.7,482.3 379.4,482.7 384.1,480.7 388.2,481.9 390.3,482.1 392.3,481.1 395.7,477.3 397.1,476.9 399.1,477.5 401.2,479.6 402.5,480.6 405.9,480.9 411.4,482.8 418.2,483 425,485 428.4,485.5 443.5,486.5Z" fill="url(#gs22)"/>
<path d="M218,486.5 231.6,486.1 235,485.2 238.4,482.9 239.7,481.4 241.1,479.2 241.8,476.8 242.5,470.2 243.2,474.7 243.8,474.7 244.5,471.8 245.2,461.2 246.6,472.3 247.2,473.5 247.9,473.8 248.6,473.6 250,472.1 250.6,472.2 252,474.4 254.7,476.5 258.1,481.7 258.8,481.6 260.9,477.3 261.5,477.1 262.2,478.4 264.3,484.6 264.9,485.4 267,485.4 269,486 271.8,485.8 273.8,486.4 274.5,486.4 276.5,485.3 279.2,485.6 281.3,485 284,486.4 286.7,485.3 288.8,485.8 290.8,484.5 291.5,484.4 293.5,485.8 294.2,485.9 296.3,485.3 298.3,486.3 299,486.2 301,484.5 303.8,485.4 305.8,484.8 308.5,486.5 310.6,485.4 311.3,485.2 313.3,485.7 315.3,484.8 316,484.8 318.1,486.1 318.7,486.2 320.8,485.7 322.8,486.3 325.6,485.3 328.3,485.9 330.3,485.7 333,486.4 335.1,485.9 338.5,485.6 341.9,483.9 342.6,483.2 343.3,481.7 345.3,466.3 346.7,474.2 347.4,474.1 349.4,461.2 350.1,471.6 351.4,481.5 352.1,483.4 352.8,484.4 354.2,485.2 357.6,485.7 366.4,484.9 367.8,484 369.1,481.7 369.8,481.6 371.2,483.6 371.9,484 373.9,483.8 374.6,483.3 376.6,478.5 377.3,479.2 378.7,482.3 379.4,482.7 384.1,480.7 388.2,481.9 390.3,482.1 392.3,481.1 395.7,477.3 397.1,476.9 399.1,477.5 401.2,479.6 402.5,480.6 405.9,480.9 411.4,482.8 418.2,483 425,485 428.4,485.5 443.4,486.3" fill="none" stroke="#999" stroke-width="0.3" stroke-opacity="0.6"/>
<path d="M217,488.9 228,488.7 231.4,488.1 233.5,487.3 234.8,486.3 237.6,483 238.9,480.7 240.3,477.1 241,473.2 241.7,462.6 242.4,469.8 243.1,469.8 243.8,465.1 244.4,447.9 245.8,466 246.5,467.9 247.2,468.4 247.9,468.1 249.2,465.6 249.9,465.8 251.3,469.4 254.1,472.7 256.8,480.1 257.5,481.2 258.2,481 260.2,474.1 260.9,473.7 261.6,475.8 263.7,485.8 264.4,487.1 265,487.4 266.4,487.3 269.2,488.3 271.2,487.8 273.3,488.8 274,488.7 276,487.1 276.7,487 278.8,487.6 280.8,486.7 283.6,488.7 286.3,487.2 288.4,487.8 290.4,486 291.1,485.8 293.2,487.8 293.9,488 295.9,487.2 298,488.6 298.7,488.4 300.7,486.1 301.4,486.1 303.5,487.3 305.6,486.5 308.3,488.8 310.4,487.2 311.1,487.1 313.1,487.7 315.2,486.4 315.9,486.4 317.9,488.2 318.6,488.4 320.7,487.7 322.7,488.6 325.5,487.1 328.2,488.1 330.3,487.8 333,488.8 335.1,488 337.8,487.8 339.2,486.9 342,484.1 342.6,482.9 343.3,480 345.4,451.5 346.8,466.2 347.4,466.1 349.5,442.2 350.2,461.4 351.6,479.7 352.3,483.3 352.9,485.2 354.3,486.6 356.4,487.3 357.7,487.4 366.7,485.9 367.4,485.5 368,484.4 369.4,480.3 370.1,480.1 371.5,483.6 372.2,484.5 372.9,484.6 374.2,484.1 374.9,483.1 377,474.6 377.7,475.8 379,481.4 379.7,482.1 380.4,481.8 383.2,479.2 384.5,478.5 385.9,478.9 388.6,480.7 390.7,481 392.1,480.2 392.8,479.3 396.2,472.5 397.6,471.8 398.9,472.1 399.6,472.8 401.7,476.6 403.1,478.3 406.5,478.9 412,482.4 413.4,482.6 417.5,482.3 418.9,482.5 425.7,486.1 429.2,487.1 436,488 444.3,488.5 444.4,488.9Z" fill="url(#gs23)"/>
<path d="M217,488.8 227.3,488.7 231.4,488.1 233.5,487.3 234.8,486.3 237.6,483 238.9,480.7 240.3,477.1 241,473.2 241.7,462.6 242.4,469.8 243.1,469.8 243.8,465.1 244.4,447.9 245.8,466 246.5,467.9 247.2,468.4 247.9,468.1 249.2,465.6 249.9,465.8 251.3,469.4 254.1,472.7 256.8,480.1 257.5,481.2 258.2,481 260.2,474.1 260.9,473.7 261.6,475.8 263.7,485.8 264.4,487.1 265,487.4 266.4,487.3 269.2,488.3 271.2,487.8 273.3,488.8 274,488.7 276,487.1 276.7,487 278.8,487.6 280.8,486.7 283.6,488.7 286.3,487.2 288.4,487.8 290.4,486 291.1,485.8 293.2,487.8 293.9,488 295.9,487.2 298,488.6 298.7,488.4 300.7,486.1 301.4,486.1 303.5,487.3 305.6,486.5 308.3,488.8 310.4,487.2 311.1,487.1 313.1,487.7 315.2,486.4 315.9,486.4 317.9,488.2 318.6,488.4 320.7,487.7 322.7,488.6 325.5,487.1 328.2,488.1 330.3,487.8 333,488.8 335.1,488 337.8,487.8 339.2,486.9 342,484.1 342.6,482.9 343.3,480 345.4,451.5 346.8,466.2 347.4,466.1 349.5,442.2 350.2,461.4 351.6,479.7 352.3,483.3 352.9,485.2 354.3,486.6 356.4,487.3 357.7,487.4 366.7,485.9 367.4,485.5 368,484.4 369.4,480.3 370.1,480.1 371.5,483.6 372.2,484.5 372.9,484.6 374.2,484.1 374.9,483.1 377,474.6 377.7,475.8 379,481.4 379.7,482.1 380.4,481.8 383.2,479.2 384.5,478.5 385.9,478.9 388.6,480.7 390.7,481 392.1,480.2 392.8,479.3 396.2,472.5 397.6,471.8 398.9,472.1 399.6,472.8 401.7,476.6 403.1,478.3 406.5,478.9 412,482.4 413.4,482.6 417.5,482.3 418.9,482.5 425.7,486.1 429.2,487.1 436,488 444.3,488.5" fill="none" stroke="#999" stroke-width="0.3" stroke-opacity="0.6"/>
<path d="M216,491.2 227.1,490.9 230.5,490.1 232.6,488.9 234,487.5 236.8,482.8 238.1,479.4 239.5,474.3 240.2,468.6 240.9,453.3 241.6,463.8 242.3,463.7 243,457 243.7,432.2 245.1,458.3 245.8,461 246.5,461.7 247.1,461.3 248.5,457.6 249.2,458 250.6,463.2 252.7,466.3 253.4,467.9 256.1,478.7 256.8,480.3 257.5,480 259.6,470 260.3,469.4 261,472.4 263.1,486.9 263.8,488.7 264.5,489.2 265.8,489.1 267.9,490.3 268.6,490.4 270.7,489.8 272.8,491.1 273.5,491 275.5,488.8 276.2,488.7 278.3,489.6 280.4,488.4 281.1,488.7 283.2,491.1 283.8,490.8 285.2,489.3 285.9,489 288,489.8 290.1,487.3 290.8,487.2 292.8,489.9 293.5,490.1 294.9,489.1 295.6,489 297.7,490.9 298.4,490.6 300.5,487.5 301.2,487.5 302.5,488.9 303.2,489.2 305.3,488 306,488.6 307.4,490.7 308.1,491.2 308.8,490.8 310.2,489.1 310.8,488.8 312.9,489.7 315,487.9 315.7,487.9 317.8,490.4 318.5,490.6 320.5,489.7 322.6,490.8 323.3,490.6 325.4,488.9 328.2,490.2 330.2,489.7 333,491.1 335.1,490 337.8,489.7 339.2,488.4 342,484 342.7,482.1 343.4,477.7 345.5,434.2 346.8,456.6 347.5,456.4 349.6,419.9 350.3,449.3 351.7,477.2 352.4,482.8 353.1,485.6 354.5,487.8 355.8,488.6 357.9,489 366.9,486.8 367.6,486.2 368.3,484.5 369.7,478.3 370.4,478.1 371.8,483.4 372.5,484.6 373.2,484.8 374.5,484.1 375.2,482.6 377.3,469.8 378,471.5 379.4,480 380.1,481 380.8,480.6 383.5,476.6 384.9,475.7 386.3,476.2 389.1,478.9 390.5,479.4 391.2,479.3 392.5,478.1 393.2,476.8 396.7,466.5 397.4,465.7 398.1,465.5 399.5,466 400.2,467 402.2,472.7 403.6,475.3 404.3,475.7 407.1,476.2 411.2,480.4 412.6,481.4 414,481.8 418.2,481.4 419.5,481.7 421.6,483 426.5,487.1 429.9,488.6 436.9,489.9 445.2,490.7 445.3,491.2Z" fill="url(#gs24)"/>
<path d="M216,491.2 226.4,491 228.5,490.7 230.5,490.1 232.6,488.9 234,487.5 236.8,482.8 238.1,479.4 239.5,474.3 240.2,468.6 240.9,453.3 241.6,463.8 242.3,463.7 243,457 243.7,432.2 245.1,458.3 245.8,461 246.5,461.7 247.1,461.3 248.5,457.6 249.2,458 250.6,463.2 252.7,466.3 253.4,467.9 256.1,478.7 256.8,480.3 257.5,480 259.6,470 260.3,469.4 261,472.4 263.1,486.9 263.8,488.7 264.5,489.2 265.8,489.1 267.9,490.3 268.6,490.4 270.7,489.8 272.8,491.1 273.5,491 275.5,488.8 276.2,488.7 278.3,489.6 280.4,488.4 281.1,488.7 283.2,491.1 283.8,490.8 285.2,489.3 285.9,489 288,489.8 290.1,487.3 290.8,487.2 292.8,489.9 293.5,490.1 294.9,489.1 295.6,489 297.7,490.9 298.4,490.6 300.5,487.5 301.2,487.5 302.5,488.9 303.2,489.2 305.3,488 306,488.6 307.4,490.7 308.1,491.2 308.8,490.8 310.2,489.1 310.8,488.8 312.9,489.7 315,487.9 315.7,487.9 317.8,490.4 318.5,490.6 320.5,489.7 322.6,490.8 323.3,490.6 325.4,488.9 328.2,490.2 330.2,489.7 333,491.1 335.1,490 337.8,489.7 339.2,488.4 342,484 342.7,482.1 343.4,477.7 345.5,434.2 346.8,456.6 347.5,456.4 349.6,419.9 350.3,449.3 351.7,477.2 352.4,482.8 353.1,485.6 354.5,487.8 355.8,488.6 357.9,489 366.9,486.8 367.6,486.2 368.3,484.5 369.7,478.3 370.4,478.1 371.8,483.4 372.5,484.6 373.2,484.8 374.5,484.1 375.2,482.6 377.3,469.8 378,471.5 379.4,480 380.1,481 380.8,480.6 383.5,476.6 384.9,475.7 386.3,476.2 389.1,478.9 390.5,479.4 391.2,479.3 392.5,478.1 393.2,476.8 396.7,466.5 397.4,465.7 398.1,465.5 399.5,466 400.2,467 402.2,472.7 403.6,475.3 404.3,475.7 407.1,476.2 411.2,480.4 412.6,481.4 414,481.8 418.2,481.4 419.5,481.7 421.6,483 426.5,487.1 429.9,488.6 436.9,489.9 445.2,490.7" fill="none" stroke="#999" stroke-width="0.3" stroke-opacity="0.6"/>
<path d="M215,493.6 226.2,493.2 229.7,492.2 231.8,490.8 233.2,489.1 235.9,483.4 237.3,479.2 238.7,473 239.4,466.1 240.1,447.5 240.8,460.2 241.5,460.2 242.2,452 242.9,421.9 244.3,453.6 245,456.9 245.7,457.8 246.4,457.2 247.8,452.8 248.5,453.3 249.9,459.5 252,463.3 252.7,465.3 255.5,478.4 256.2,480.3 256.9,479.9 259,467.8 259.7,467.1 260.4,470.8 262.5,488.3 263.2,490.6 263.9,491.2 265.3,491 267.4,492.5 268.1,492.6 270.2,491.9 272.2,493.4 272.9,493.3 275,490.8 275.7,490.7 277.1,491.6 277.8,491.7 279.9,490.2 280.6,490.6 282,492.8 282.7,493.4 283.4,493.1 284.8,491.3 285.5,491 286.9,491.9 287.6,492 289.7,489 290.4,488.8 292.5,492 293.2,492.2 294.6,491.1 295.3,491 297.4,493.2 298.1,492.8 300.2,489.2 300.9,489.2 302.3,490.9 303,491.1 305.1,489.8 305.8,490.5 307.1,493 307.8,493.5 308.5,493.1 309.9,491 310.6,490.7 312.7,491.8 314.8,489.7 315.5,489.7 317.6,492.6 318.3,492.8 320.4,491.8 322.5,493.1 323.2,492.9 325.3,490.8 328.1,492.3 330.2,491.8 332.3,493.3 333,493.4 335.1,492.1 337.9,491.8 340,488.9 342.1,484.7 342.7,482.3 343.4,476.7 345.5,422.6 346.9,450.5 347.6,450.2 348.3,439.4 349.7,404.7 350.4,441.4 351.8,476.2 352.5,483.1 353.2,486.6 354.6,489.3 356,490.4 358.1,490.8 363,489.6 367.2,488.2 367.9,487.4 368.6,485.3 370,477.6 370.7,477.3 372.1,483.9 372.8,485.4 373.5,485.7 374.9,484.8 375.6,482.9 377.7,467 378.3,469.2 379.7,479.7 380.4,480.9 381.1,480.4 383.9,475.5 385.3,474.3 386.7,475 389.5,478.3 390.9,478.9 391.6,478.8 393,477.3 393.7,475.7 397.2,463 397.9,462 398.6,461.7 400,462.4 400.7,463.5 402.8,470.7 404.2,473.9 404.9,474.4 407,474.6 407.7,475 411.9,480.2 413.3,481.4 414.6,481.9 418.8,481.4 420.2,481.8 422.3,483.4 427.2,488.5 430.7,490.4 437.7,492 446.1,493 446.2,493.6Z" fill="url(#gs25)"/>
<path d="M215,493.5 225.5,493.3 227.6,493 229.7,492.2 231.8,490.8 233.2,489.1 235.9,483.4 237.3,479.2 238.7,473 239.4,466.1 240.1,447.5 240.8,460.2 241.5,460.2 242.2,452 242.9,421.9 244.3,453.6 245,456.9 245.7,457.8 246.4,457.2 247.8,452.8 248.5,453.3 249.9,459.5 252,463.3 252.7,465.3 255.5,478.4 256.2,480.3 256.9,479.9 259,467.8 259.7,467.1 260.4,470.8 262.5,488.3 263.2,490.6 263.9,491.2 265.3,491 267.4,492.5 268.1,492.6 270.2,491.9 272.2,493.4 272.9,493.3 275,490.8 275.7,490.7 277.1,491.6 277.8,491.7 279.9,490.2 280.6,490.6 282,492.8 282.7,493.4 283.4,493.1 284.8,491.3 285.5,491 286.9,491.9 287.6,492 289.7,489 290.4,488.8 292.5,492 293.2,492.2 294.6,491.1 295.3,491 297.4,493.2 298.1,492.8 300.2,489.2 300.9,489.2 302.3,490.9 303,491.1 305.1,489.8 305.8,490.5 307.1,493 307.8,493.5 308.5,493.1 309.9,491 310.6,490.7 312.7,491.8 314.8,489.7 315.5,489.7 317.6,492.6 318.3,492.8 320.4,491.8 322.5,493.1 323.2,492.9 325.3,490.8 328.1,492.3 330.2,491.8 332.3,493.3 333,493.4 335.1,492.1 337.9,491.8 340,488.9 342.1,484.7 342.7,482.3 343.4,476.7 345.5,422.6 346.9,450.5 347.6,450.2 348.3,439.4 349.7,404.7 350.4,441.4 351.8,476.2 352.5,483.1 353.2,486.6 354.6,489.3 356,490.4 358.1,490.8 363,489.6 367.2,488.2 367.9,487.4 368.6,485.3 370,477.6 370.7,477.3 372.1,483.9 372.8,485.4 373.5,485.7 374.9,484.8 375.6,482.9 377.7,467 378.3,469.2 379.7,479.7 380.4,480.9 381.1,480.4 383.9,475.5 385.3,474.3 386.7,475 389.5,478.3 390.9,478.9 391.6,478.8 393,477.3 393.7,475.7 397.2,463 397.9,462 398.6,461.7 400,462.4 400.7,463.5 402.8,470.7 404.2,473.9 404.9,474.4 407,474.6 407.7,475 411.9,480.2 413.3,481.4 414.6,481.9 418.8,481.4 420.2,481.8 422.3,483.4 427.2,488.5 430.7,490.4 437.7,492 446.1,493" fill="none" stroke="#999" stroke-width="0.3" stroke-opacity="0.6"/>
<path d="M214,496 225.3,495.6 228.8,494.6 230.9,493.1 232.3,491.5 235.1,485.8 236.5,481.6 238,475.4 238.7,468.5 239.4,449.9 240.1,462.6 240.8,462.5 241.5,454.3 242.2,424.2 243.6,455.9 244.3,459.2 245,460.1 245.7,459.5 247.1,455.1 247.8,455.6 249.2,461.8 251.3,465.6 252,467.6 254.8,480.7 255.5,482.7 256.2,482.3 258.4,470.1 259.1,469.4 259.8,473.1 261.9,490.7 262.6,493 263.3,493.5 264.7,493.4 266.8,494.9 267.5,495 269.6,494.3 271.7,495.8 272.4,495.7 274.5,493.1 275.2,493 276.7,493.9 277.4,494 279.5,492.6 280.2,493 281.6,495.2 282.3,495.8 283,495.5 284.4,493.7 285.1,493.3 286.5,494.2 287.2,494.3 289.3,491.3 290,491.1 292.1,494.3 292.8,494.6 294.2,493.4 295,493.3 297.1,495.5 297.8,495.2 299.9,491.5 300.6,491.5 302,493.2 302.7,493.5 304.8,492.2 305.5,492.8 306.9,495.4 307.6,495.9 308.3,495.4 309.7,493.4 310.4,493.1 312.5,494.2 314.7,492 315.4,492 317.5,495 318.2,495.2 320.3,494.2 322.4,495.5 323.1,495.2 325.2,493.1 325.9,493.3 328,494.7 330.1,494.2 332.2,495.6 333,495.8 335.1,494.5 337.9,494.1 340,491.3 342.1,486.9 342.8,484.5 343.5,478.9 345.6,424.2 347,452.4 347.7,452.1 348.4,441.3 349.8,406.2 350.5,443.3 352,478.4 352.7,485.4 353.4,488.9 354.8,491.7 356.2,492.7 358.3,493.1 363.2,491.9 367.4,490.5 368.1,489.7 368.8,487.6 370.2,479.8 371,479.6 372.4,486.1 373.1,487.7 373.8,488 375.2,487.1 375.9,485.2 378,469.2 378.7,471.4 380.1,481.9 380.8,483.2 381.5,482.7 384.3,477.7 385.7,476.5 387.1,477.2 390,480.5 391.4,481.2 392.1,481.1 393.5,479.6 394.2,477.9 397.7,465.1 398.4,464.1 399.1,463.9 400.5,464.5 401.2,465.7 403.3,472.9 404.7,476.1 405.4,476.6 407.5,476.9 408.2,477.2 412.5,482.5 413.9,483.7 415.3,484.2 419.5,483.7 420.9,484.1 423,485.7 428,490.8 431.5,492.7 438.5,494.4 447,495.3 447.1,496Z" fill="url(#gs26)"/>
<path d="M214,495.9 224.6,495.7 226.7,495.4 228.8,494.6 230.9,493.1 232.3,491.5 235.1,485.8 236.5,481.6 238,475.4 238.7,468.5 239.4,449.9 240.1,462.6 240.8,462.5 241.5,454.3 242.2,424.2 243.6,455.9 244.3,459.2 245,460.1 245.7,459.5 247.1,455.1 247.8,455.6 249.2,461.8 251.3,465.6 252,467.6 254.8,480.7 255.5,482.7 256.2,482.3 258.4,470.1 259.1,469.4 259.8,473.1 261.9,490.7 262.6,493 263.3,493.5 264.7,493.4 266.8,494.9 267.5,495 269.6,494.3 271.7,495.8 272.4,495.7 274.5,493.1 275.2,493 276.7,493.9 277.4,494 279.5,492.6 280.2,493 281.6,495.2 282.3,495.8 283,495.5 284.4,493.7 285.1,493.3 286.5,494.2 287.2,494.3 289.3,491.3 290,491.1 292.1,494.3 292.8,494.6 294.2,493.4 295,493.3 297.1,495.5 297.8,495.2 299.9,491.5 300.6,491.5 302,493.2 302.7,493.5 304.8,492.2 305.5,492.8 306.9,495.4 307.6,495.9 308.3,495.4 309.7,493.4 310.4,493.1 312.5,494.2 314.7,492 315.4,492 317.5,495 318.2,495.2 320.3,494.2 322.4,495.5 323.1,495.2 325.2,493.1 325.9,493.3 328,494.7 330.1,494.2 332.2,495.6 333,495.8 335.1,494.5 337.9,494.1 340,491.3 342.1,486.9 342.8,484.5 343.5,478.9 345.6,424.2 347,452.4 347.7,452.1 348.4,441.3 349.8,406.2 350.5,443.3 352,478.4 352.7,485.4 353.4,488.9 354.8,491.7 356.2,492.7 358.3,493.1 363.2,491.9 367.4,490.5 368.1,489.7 368.8,487.6 370.2,479.8 371,479.6 372.4,486.1 373.1,487.7 373.8,488 375.2,487.1 375.9,485.2 378,469.2 378.7,471.4 380.1,481.9 380.8,483.2 381.5,482.7 384.3,477.7 385.7,476.5 387.1,477.2 390,480.5 391.4,481.2 392.1,481.1 393.5,479.6 394.2,477.9 397.7,465.1 398.4,464.1 399.1,463.9 400.5,464.5 401.2,465.7 403.3,472.9 404.7,476.1 405.4,476.6 407.5,476.9 408.2,477.2 412.5,482.5 413.9,483.7 415.3,484.2 419.5,483.7 420.9,484.1 423,485.7 428,490.8 431.5,492.7 438.5,494.4 447,495.3" fill="none" stroke="#999" stroke-width="0.3" stroke-opacity="0.6"/>
<path d="M213,498.3 224.4,498 227.9,497.2 230.1,496 231.5,494.7 234.3,490 235.7,486.6 237.2,481.4 237.9,475.8 238.6,460.5 239.3,470.9 240,470.9 240.7,464.2 241.4,439.5 242.8,465.5 243.5,468.2 244.3,468.9 245,468.5 246.4,464.8 247.1,465.2 248.5,470.3 250.6,473.4 251.4,475.1 254.2,485.8 254.9,487.4 255.6,487.1 257.7,477.1 258.4,476.5 259.2,479.5 261.3,494 262,495.8 262.7,496.3 264.1,496.1 266.2,497.4 267,497.5 269.1,496.9 271.2,498.2 271.9,498.1 274.1,495.9 274.8,495.8 276.9,496.7 279,495.4 279.7,495.8 281.1,497.7 281.9,498.2 282.6,497.9 284,496.3 284.7,496.1 286.8,496.9 288.9,494.3 289.7,494.2 291.8,496.9 292.5,497.2 293.9,496.2 294.6,496 296.8,498 297.5,497.7 299.6,494.5 300.3,494.5 301.7,495.9 302.4,496.2 304.6,495.1 305.3,495.6 306.7,497.8 307.4,498.3 308.1,497.9 309.5,496.1 310.2,495.8 312.4,496.8 314.5,494.9 315.2,495 317.3,497.5 318,497.7 320.2,496.8 322.3,497.9 323,497.7 325.1,495.9 328,497.2 330.1,496.8 332.9,498.2 335.1,497.1 337.9,496.8 339.3,495.4 342.2,490.9 342.9,489 343.6,484.4 345.7,439.7 347.1,462.7 347.8,462.5 348.5,453.6 350,424.9 350.7,455.2 352.1,483.9 352.8,489.6 353.5,492.5 354.9,494.8 356.3,495.7 358.5,496 367.7,493.9 368.4,493.2 369.1,491.5 370.5,485.1 371.2,484.9 372.7,490.3 373.4,491.6 374.1,491.8 375.5,491.1 376.2,489.5 378.3,476.4 379,478.2 380.5,486.8 381.2,487.9 381.9,487.5 384.7,483.4 386.1,482.4 387.5,483 390.4,485.7 391.8,486.2 392.5,486.2 393.9,484.9 394.6,483.5 398.2,473.1 398.9,472.3 399.6,472.1 401,472.6 401.7,473.6 403.9,479.4 405.3,482.1 406,482.5 408.8,483 413.1,487.3 414.5,488.3 415.9,488.7 420.2,488.3 421.6,488.6 423.7,489.9 428.7,494.1 432.2,495.7 439.3,497 447.8,497.8 448,498.3Z" fill="url(#gs27)"/>
<path d="M213,498.3 223.7,498.1 225.8,497.8 227.9,497.2 230.1,496 231.5,494.7 234.3,490 235.7,486.6 237.2,481.4 237.9,475.8 238.6,460.5 239.3,470.9 240,470.9 240.7,464.2 241.4,439.5 242.8,465.5 243.5,468.2 244.3,468.9 245,468.5 246.4,464.8 247.1,465.2 248.5,470.3 250.6,473.4 251.4,475.1 254.2,485.8 254.9,487.4 255.6,487.1 257.7,477.1 258.4,476.5 259.2,479.5 261.3,494 262,495.8 262.7,496.3 264.1,496.1 266.2,497.4 267,497.5 269.1,496.9 271.2,498.2 271.9,498.1 274.1,495.9 274.8,495.8 276.9,496.7 279,495.4 279.7,495.8 281.1,497.7 281.9,498.2 282.6,497.9 284,496.3 284.7,496.1 286.8,496.9 288.9,494.3 289.7,494.2 291.8,496.9 292.5,497.2 293.9,496.2 294.6,496 296.8,498 297.5,497.7 299.6,494.5 300.3,494.5 301.7,495.9 302.4,496.2 304.6,495.1 305.3,495.6 306.7,497.8 307.4,498.3 308.1,497.9 309.5,496.1 310.2,495.8 312.4,496.8 314.5,494.9 315.2,495 317.3,497.5 318,497.7 320.2,496.8 322.3,497.9 323,497.7 325.1,495.9 328,497.2 330.1,496.8 332.9,498.2 335.1,497.1 337.9,496.8 339.3,495.4 342.2,490.9 342.9,489 343.6,484.4 345.7,439.7 347.1,462.7 347.8,462.5 348.5,453.6 350,424.9 350.7,455.2 352.1,483.9 352.8,489.6 353.5,492.5 354.9,494.8 356.3,495.7 358.5,496 367.7,493.9 368.4,493.2 369.1,491.5 370.5,485.1 371.2,484.9 372.7,490.3 373.4,491.6 374.1,491.8 375.5,491.1 376.2,489.5 378.3,476.4 379,478.2 380.5,486.8 381.2,487.9 381.9,487.5 384.7,483.4 386.1,482.4 387.5,483 390.4,485.7 391.8,486.2 392.5,486.2 393.9,484.9 394.6,483.5 398.2,473.1 398.9,472.3 399.6,472.1 401,472.6 401.7,473.6 403.9,479.4 405.3,482.1 406,482.5 408.8,483 413.1,487.3 414.5,488.3 415.9,488.7 420.2,488.3 421.6,488.6 423.7,489.9 428.7,494.1 432.2,495.7 439.3,497 447.8,497.8" fill="none" stroke="#999" stroke-width="0.3" stroke-opacity="0.6"/>
<path d="M212.1,500.7 223.5,500.5 227.1,499.9 229.2,499.1 230.7,498.2 233.5,495.1 234.9,492.8 236.4,489.3 237.1,485.5 237.8,475.3 238.5,482.3 239.2,482.3 239.9,477.7 240.7,461.1 242.1,478.6 242.8,480.4 243.5,480.9 244.2,480.6 245.7,478.2 246.4,478.4 247.8,481.8 250,483.9 250.7,485 253.5,492.2 254.3,493.3 255,493.1 257.1,486.4 257.8,486 258.5,488 260,495.2 260.7,497.7 261.4,499 262.1,499.2 263.5,499 266.4,500.1 268.6,499.6 270.7,500.6 271.4,500.5 273.6,498.9 274.3,498.8 276.4,499.4 278.6,498.5 279.3,498.8 281.4,500.6 284.3,499 286.4,499.6 288.6,497.7 289.3,497.6 291.4,499.6 292.1,499.8 294.3,499 296.4,500.4 297.2,500.2 299.3,497.8 300,497.8 301.4,498.9 302.2,499.1 304.3,498.2 305,498.7 306.4,500.3 307.2,500.7 309.3,499 310,498.8 312.2,499.5 314.3,498.1 315,498.2 317.2,500.1 317.9,500.2 320,499.5 322.2,500.4 325,498.9 327.9,499.9 330,499.6 332.9,500.6 335,499.8 337.9,499.6 339.3,498.7 342.2,495.8 342.9,494.5 343.6,491.5 345.8,461.8 347.2,477.1 347.9,477 348.6,471.1 350.1,452.1 350.8,472.1 352.2,491.1 352.9,494.9 353.6,496.8 355.1,498.3 357.2,499.1 358.6,499.2 367.9,497.7 368.7,497.3 369.4,496.1 370.8,491.9 371.5,491.8 372.9,495.4 373.7,496.2 374.4,496.4 375.8,495.9 376.5,494.9 378.7,486.2 379.4,487.3 380.8,493.1 381.5,493.8 382.2,493.5 385.1,490.8 386.5,490.1 388,490.5 390.8,492.3 393,492.6 394.4,491.8 395.1,490.9 398.7,483.9 400.1,483.3 401.5,483.6 402.3,484.2 404.4,488.2 405.8,489.9 409.4,490.5 415.1,494 416.6,494.3 420.9,494 422.3,494.2 429.4,497.9 433,498.9 440.2,499.8 448.7,500.4 448.9,500.7Z" fill="url(#gs28)"/>
<path d="M212.1,500.7 220.6,500.6 226.4,500.1 229.9,498.7 231.4,497.6 233.5,495.1 234.9,492.8 236.4,489.3 237.1,485.5 237.8,475.3 238.5,482.3 239.2,482.3 239.9,477.7 240.7,461.1 242.1,478.6 242.8,480.4 243.5,480.9 244.2,480.6 245.7,478.2 246.4,478.4 247.8,481.8 250,483.9 250.7,485 253.5,492.2 254.3,493.3 255,493.1 257.1,486.4 257.8,486 258.5,488 260,495.2 260.7,497.7 261.4,499 262.1,499.2 263.5,499 266.4,500.1 268.6,499.6 270.7,500.6 271.4,500.5 273.6,498.9 274.3,498.8 276.4,499.4 278.6,498.5 279.3,498.8 281.4,500.6 284.3,499 286.4,499.6 288.6,497.7 289.3,497.6 291.4,499.6 292.1,499.8 294.3,499 296.4,500.4 297.2,500.2 299.3,497.8 300,497.8 301.4,498.9 302.2,499.1 304.3,498.2 305,498.7 306.4,500.3 307.2,500.7 309.3,499 310,498.8 312.2,499.5 314.3,498.1 315,498.2 317.2,500.1 317.9,500.2 320,499.5 322.2,500.4 325,498.9 327.9,499.9 330,499.6 332.9,500.6 335,499.8 337.9,499.6 339.3,498.7 342.2,495.8 342.9,494.5 343.6,491.5 345.8,461.8 347.2,477.1 347.9,477 348.6,471.1 350.1,452.1 350.8,472.1 352.2,491.1 352.9,494.9 353.6,496.8 355.1,498.3 357.2,499.1 358.6,499.2 367.9,497.7 368.7,497.3 369.4,496.1 370.8,491.9 371.5,491.8 372.9,495.4 373.7,496.2 374.4,496.4 375.8,495.9 376.5,494.9 378.7,486.2 379.4,487.3 380.8,493.1 381.5,493.8 382.2,493.5 385.1,490.8 386.5,490.1 388,490.5 390.8,492.3 393,492.6 394.4,491.8 395.1,490.9 398.7,483.9 400.1,483.3 401.5,483.6 402.3,484.2 404.4,488.2 405.8,489.9 409.4,490.5 415.1,494 416.6,494.3 420.9,494 422.3,494.2 429.4,497.9 433,498.9 440.2,499.8 448.7,500.4" fill="none" stroke="#999" stroke-width="0.3" stroke-opacity="0.6"/>
<path d="M211.1,503.1 225.5,502.7 229.1,502 232.7,499.9 234.1,498.6 235.6,496.7 236.3,494.6 237,488.8 237.7,492.7 238.5,492.7 239.2,490.2 239.9,481 241.4,490.7 242.1,491.7 242.8,492 243.5,491.8 245,490.5 245.7,490.6 247.1,492.5 250,494.3 253.6,498.9 254.3,498.8 256.5,495 257.2,494.8 257.9,495.9 259.4,499.9 260.1,501.4 260.8,502 263,501.9 265.9,502.6 268,502.3 270.2,503 270.9,502.9 273.1,501.8 275.9,502.2 278.1,501.5 281,503 283.9,501.9 286,502.3 288.2,501 288.9,500.9 291.1,502.3 291.8,502.4 294,501.9 296.1,502.9 296.8,502.7 299,501 299.7,501 301.9,501.9 304.1,501.3 306.9,503 309.1,501.9 309.8,501.8 312,502.2 314.1,501.3 314.9,501.3 317,502.6 317.7,502.7 319.9,502.2 322.1,502.9 325,501.8 327.8,502.5 330,502.3 332.9,503 335,502.4 337.9,502.4 342.2,500.4 343,499.7 343.7,498.1 345.9,482.1 347.3,490.4 348,490.3 348.7,487.1 350.2,476.9 350.9,487.6 352.3,497.9 353.1,499.9 353.8,501 355.2,501.8 358.8,502.2 368.2,501.4 369.6,500.6 371.1,498.3 371.8,498.2 373.2,500.2 374,500.6 376.1,500.4 376.8,499.9 379,495.2 379.7,495.8 381.2,498.9 381.9,499.3 386.9,497.3 391.3,498.5 393.4,498.7 395.6,497.7 399.2,494 400.6,493.6 402.8,494.1 405,496.3 406.4,497.2 410,497.5 415.8,499.5 423,499.6 430.2,501.5 433.8,502.1 449.8,503.1Z" fill="url(#gs29)"/>
<path d="M211.1,503 225.5,502.7 229.1,502 232.7,499.9 234.1,498.6 235.6,496.7 236.3,494.6 237,488.8 237.7,492.7 238.5,492.7 239.2,490.2 239.9,481 241.4,490.7 242.1,491.7 242.8,492 243.5,491.8 245,490.5 245.7,490.6 247.1,492.5 250,494.3 253.6,498.9 254.3,498.8 256.5,495 257.2,494.8 257.9,495.9 259.4,499.9 260.1,501.4 260.8,502 263,501.9 265.9,502.6 268,502.3 270.2,503 270.9,502.9 273.1,501.8 275.9,502.2 278.1,501.5 281,503 283.9,501.9 286,502.3 288.2,501 288.9,500.9 291.1,502.3 291.8,502.4 294,501.9 296.1,502.9 296.8,502.7 299,501 299.7,501 301.9,501.9 304.1,501.3 306.9,503 309.1,501.9 309.8,501.8 312,502.2 314.1,501.3 314.9,501.3 317,502.6 317.7,502.7 319.9,502.2 322.1,502.9 325,501.8 327.8,502.5 330,502.3 332.9,503 335,502.4 337.9,502.4 342.2,500.4 343,499.7 343.7,498.1 345.9,482.1 347.3,490.4 348,490.3 348.7,487.1 350.2,476.9 350.9,487.6 352.3,497.9 353.1,499.9 353.8,501 355.2,501.8 358.8,502.2 368.2,501.4 369.6,500.6 371.1,498.3 371.8,498.2 373.2,500.2 374,500.6 376.1,500.4 376.8,499.9 379,495.2 379.7,495.8 381.2,498.9 381.9,499.3 386.9,497.3 391.3,498.5 393.4,498.7 395.6,497.7 399.2,494 400.6,493.6 402.8,494.1 405,496.3 406.4,497.2 410,497.5 415.8,499.5 423,499.6 430.2,501.5 433.8,502.1 449.6,502.9" fill="none" stroke="#999" stroke-width="0.3" stroke-opacity="0.6"/>
<path d="M210.1,505.4 224.6,505.2 228.3,504.9 231.9,503.9 234.8,502.3 235.5,501.3 236.2,498.5 237,500.4 237.7,500.4 238.4,499.2 239.2,494.8 240.6,499.4 241.3,499.9 242.8,500 244.2,499.4 245,499.4 246.4,500.3 249.3,501.1 253,503.3 253.7,503.3 255.9,501.5 256.6,501.4 257.3,501.9 258.8,503.9 260.2,504.8 262.4,504.6 265.3,505.1 267.5,504.9 269.7,505.4 272.6,504.5 275.5,504.8 277.7,504.3 280.6,505.4 283.5,504.6 285.6,504.9 288.5,503.8 290.7,504.9 293.6,504.6 295.8,505.3 296.5,505.2 298.7,504 301.6,504.6 303.8,504.2 306.7,505.4 308.9,504.6 311.8,504.8 314,504.1 317.6,505.2 319.8,504.8 322,505.3 324.9,504.5 327.8,505 330,504.9 332.9,505.4 335,505 337.9,505 342.3,504.2 343.8,503.2 345.9,496.2 347.4,499.8 348.1,499.8 350.3,493.8 351,498.6 352.5,503.1 353.9,504.5 355.4,504.8 359,505.1 368.4,504.7 369.9,504.3 371.4,503.3 372.1,503.2 374.3,504.3 376.4,504.2 377.2,504 379.3,501.9 380.1,502.2 381.5,503.6 382.2,503.7 387.3,502.9 393.9,503.5 396.1,503 399.7,501.3 401.1,501.2 403.3,501.4 406.9,502.8 410.6,502.9 416.4,503.8 423.7,503.9 434.5,505 450.7,505.4Z" fill="url(#gs30)"/>
<path d="M210.1,505.4 224.6,505.2 228.3,504.9 231.9,503.9 234.8,502.3 235.5,501.3 236.2,498.5 237,500.4 237.7,500.4 238.4,499.2 239.2,494.8 240.6,499.4 241.3,499.9 242.8,500 244.2,499.4 245,499.4 246.4,500.3 249.3,501.1 253,503.3 253.7,503.3 255.9,501.5 256.6,501.4 257.3,501.9 258.8,503.9 260.2,504.8 262.4,504.6 265.3,505.1 267.5,504.9 269.7,505.4 272.6,504.5 275.5,504.8 277.7,504.3 280.6,505.4 283.5,504.6 285.6,504.9 288.5,503.8 290.7,504.9 293.6,504.6 295.8,505.3 296.5,505.2 298.7,504 301.6,504.6 303.8,504.2 306.7,505.4 308.9,504.6 311.8,504.8 314,504.1 317.6,505.2 319.8,504.8 322,505.3 324.9,504.5 327.8,505 330,504.9 332.9,505.4 335,505 337.9,505 342.3,504.2 343.8,503.2 345.9,496.2 347.4,499.8 348.1,499.8 350.3,493.8 351,498.6 352.5,503.1 353.9,504.5 355.4,504.8 359,505.1 368.4,504.7 369.9,504.3 371.4,503.3 372.1,503.2 374.3,504.3 376.4,504.2 377.2,504 379.3,501.9 380.1,502.2 381.5,503.6 382.2,503.7 387.3,502.9 393.9,503.5 396.1,503 399.7,501.3 401.1,501.2 403.3,501.4 406.9,502.8 410.6,502.9 416.4,503.8 423.7,503.9 434.5,505 450.5,505.3" fill="none" stroke="#999" stroke-width="0.3" stroke-opacity="0.6"/>
<path d="M209.1,507.8 226,507.6 231.8,507 234,506.4 234.7,505.9 235.5,504.6 236.2,505.5 236.9,505.5 237.7,505 238.4,503 239.9,505.1 240.6,505.3 244.3,505.1 253,506.8 256,505.9 258.9,507.3 266.9,507.4 269.1,507.8 272.1,507 275,507.3 277.2,506.9 280.1,507.7 283.1,507.1 285.2,507.4 288.2,506.5 290.4,507.4 293.3,507.1 295.5,507.7 298.4,506.6 301.4,507.1 303.6,506.8 306.5,507.8 308.7,507.1 311.6,507.3 313.8,506.7 317.5,507.6 319.7,507.3 321.9,507.7 324.8,507.1 332.8,507.8 335,507.5 338,507.5 343.8,506.9 346,504.3 347.5,505.7 348.2,505.7 350.4,503.4 351.1,505.2 352.6,506.9 354.1,507.4 357.7,507.6 369.4,507.5 372.4,506.9 374.6,507.4 376.8,507.3 379.7,506.4 382.6,507.1 387.7,506.8 394.3,507 401.6,506.1 407.5,506.8 417,507.2 451.6,507.8Z" fill="url(#gs31)"/>
<path d="M209.1,507.8 223,507.7 231.1,507.1 234,506.4 234.7,505.9 235.5,504.6 236.2,505.5 236.9,505.5 237.7,505 238.4,503 239.9,505.1 240.6,505.3 244.3,505.1 253,506.8 256,505.9 258.9,507.3 266.9,507.4 269.1,507.8 272.1,507 275,507.3 277.2,506.9 280.1,507.7 283.1,507.1 285.2,507.4 288.2,506.5 290.4,507.4 293.3,507.1 295.5,507.7 298.4,506.6 301.4,507.1 303.6,506.8 306.5,507.8 308.7,507.1 311.6,507.3 313.8,506.7 317.5,507.6 319.7,507.3 321.9,507.7 324.8,507.1 332.8,507.8 335,507.5 338,507.5 343.8,506.9 346,504.3 347.5,505.7 348.2,505.7 350.4,503.4 351.1,505.2 352.6,506.9 354.1,507.4 357.7,507.6 369.4,507.5 372.4,506.9 374.6,507.4 376.8,507.3 379.7,506.4 382.6,507.1 387.7,506.8 394.3,507 401.6,506.1 407.5,506.8 417,507.2 451.4,507.8" fill="none" stroke="#999" stroke-width="0.3" stroke-opacity="0.6"/>
<path d="M208.1,510.2 225.8,510.1 231,509.7 233.2,509.4 234.7,508.6 236.2,509 236.9,508.8 237.6,507.8 239.1,508.8 239.9,508.9 243.5,508.8 252.4,509.6 255.3,509.1 258.3,509.9 261.3,509.6 268.6,510.1 271.6,509.5 274.5,509.7 276.7,509.3 279.7,510.1 282.6,509.5 284.9,509.8 287.8,509 290,509.8 293,509.5 295.2,510.1 298.1,509.1 301.1,509.6 303.3,509.2 306.3,510.1 308.5,509.5 311.4,509.7 313.6,509.2 317.3,510 319.5,509.7 321.7,510.1 324.7,509.5 332.8,510.2 335.8,509.8 343.1,509.9 346.1,508.9 348.3,509.4 350.5,508.6 352,509.5 353.5,509.9 358.6,510.1 377.1,510 380,509.6 383,509.9 395.5,509.9 402.2,509.5 452.5,510.2Z" fill="url(#gs32)"/>
<path d="M208.1,510.2 225.8,510.1 231,509.7 233.2,509.4 234.7,508.6 236.2,509 236.9,508.8 237.6,507.8 239.1,508.8 239.9,508.9 243.5,508.8 252.4,509.6 255.3,509.1 258.3,509.9 261.3,509.6 268.6,510.1 271.6,509.5 274.5,509.7 276.7,509.3 279.7,510.1 282.6,509.5 284.9,509.8 287.8,509 290,509.8 293,509.5 295.2,510.1 298.1,509.1 301.1,509.6 303.3,509.2 306.3,510.1 308.5,509.5 311.4,509.7 313.6,509.2 317.3,510 319.5,509.7 321.7,510.1 324.7,509.5 332.8,510.2 335.8,509.8 343.1,509.9 346.1,508.9 348.3,509.4 350.5,508.6 352,509.5 353.5,509.9 358.6,510.1 377.1,510 380,509.6 383,509.9 395.5,509.9 402.2,509.5 452.3,510.1" fill="none" stroke="#999" stroke-width="0.3" stroke-opacity="0.6"/>
<path d="M207.2,512.4 230.3,512.1 232.5,511.9 234,511.4 235.5,511.7 236.9,510.9 238.4,511.5 239.9,511.6 245.1,511.6 251.8,512 254.8,511.7 257.7,512.1 260.7,511.8 268.1,512.3 271.1,511.7 274.1,511.9 276.3,511.6 279.3,512.3 282.3,511.7 284.5,512 287.5,511.2 289.7,512 292.7,511.7 294.9,512.3 297.9,511.3 300.8,511.8 303.1,511.5 306,512.4 308.3,511.8 311.2,511.9 313.5,511.4 317.2,512.2 319.4,511.9 321.6,512.3 324.6,511.7 332.8,512.4 335.8,512.1 343.9,512.2 346.2,511.8 348.4,512.1 350.6,511.7 353.6,512.2 358.8,512.3 402.6,512.1 453.3,512.4Z" fill="url(#gs33)"/>
<path d="M207.2,512.4 230.3,512.1 232.5,511.9 234,511.4 235.5,511.7 236.9,510.9 238.4,511.5 239.9,511.6 245.1,511.6 251.8,512 254.8,511.7 257.7,512.1 260.7,511.8 268.1,512.3 271.1,511.7 274.1,511.9 276.3,511.6 279.3,512.3 282.3,511.7 284.5,512 287.5,511.2 289.7,512 292.7,511.7 294.9,512.3 297.9,511.3 300.8,511.8 303.1,511.5 306,512.4 308.3,511.8 311.2,511.9 313.5,511.4 317.2,512.2 319.4,511.9 321.6,512.3 324.6,511.7 332.8,512.4 335.8,512.1 343.9,512.2 346.2,511.8 348.4,512.1 350.6,511.7 353.6,512.2 358.8,512.3 402.6,512.1 453.2,512.4" fill="none" stroke="#999" stroke-width="0.3" stroke-opacity="0.6"/>
<path d="M206.5,514 229.7,513.8 233.4,513.3 235.7,513.4 236.4,513 240.1,513.5 252.1,513.8 254.3,513.5 257.3,513.8 260.3,513.5 267.8,514 270.8,513.4 273.8,513.6 276,513.2 279,514 282,513.4 284.2,513.6 287.2,512.9 289.4,513.6 292.4,513.4 294.7,513.9 297.7,513 300.6,513.4 302.9,513.1 305.9,514 308.1,513.4 311.1,513.6 313.3,513.1 317.1,513.8 319.3,513.6 321.6,513.9 324.6,513.4 332.8,514 335.8,513.7 343.2,513.9 350.7,513.6 359.7,514 454,514Z" fill="url(#gs34)"/>
<path d="M206.5,514 229.7,513.8 233.4,513.3 235.7,513.4 236.4,513 240.1,513.5 252.1,513.8 254.3,513.5 257.3,513.8 260.3,513.5 267.8,514 270.8,513.4 273.8,513.6 276,513.2 279,514 282,513.4 284.2,513.6 287.2,512.9 289.4,513.6 292.4,513.4 294.7,513.9 297.7,513 300.6,513.4 302.9,513.1 305.9,514 308.1,513.4 311.1,513.6 313.3,513.1 317.1,513.8 319.3,513.6 321.6,513.9 324.6,513.4 332.8,514 335.8,513.7 343.2,513.9 350.7,513.6 359.7,514 453.8,514" fill="none" stroke="#999" stroke-width="0.3" stroke-opacity="0.6"/>
<path d="M205.8,515.7 229.1,515.5 232.9,515.1 235.1,515.2 235.9,514.9 239.6,515.3 248.7,515.2 251.7,515.5 253.9,515.2 256.9,515.5 259.9,515.1 267.4,515.6 270.4,515 273.4,515.2 275.7,514.9 278.7,515.6 281.7,515.1 283.9,515.3 286.9,514.5 289.2,515.3 292.2,515.1 294.5,515.6 297.5,514.6 300.5,515.1 302.7,514.8 305.7,515.7 308,515.1 311,515.3 313.2,514.7 317,515.5 319.2,515.3 321.5,515.6 324.5,515 332.8,515.7 335.8,515.4 344,515.6 350.8,515.3 359.8,515.7 454.6,515.7Z" fill="url(#gs35)"/>
<path d="M205.8,515.7 229.1,515.5 232.9,515.1 235.1,515.2 235.9,514.9 239.6,515.3 248.7,515.2 251.7,515.5 253.9,515.2 256.9,515.5 259.9,515.1 267.4,515.6 270.4,515 273.4,515.2 275.7,514.9 278.7,515.6 281.7,515.1 283.9,515.3 286.9,514.5 289.2,515.3 292.2,515.1 294.5,515.6 297.5,514.6 300.5,515.1 302.7,514.8 305.7,515.7 308,515.1 311,515.3 313.2,514.7 317,515.5 319.2,515.3 321.5,515.6 324.5,515 332.8,515.7 335.8,515.4 344,515.6 350.8,515.3 359.8,515.7 454.4,515.7" fill="none" stroke="#999" stroke-width="0.3" stroke-opacity="0.6"/>
<path d="M205.2,517.3 228.6,517.2 235.4,516.7 251.2,517.2 253.5,516.9 256.5,517.2 259.5,516.8 267.1,517.3 270.1,516.7 273.1,516.9 275.4,516.5 278.4,517.3 281.4,516.7 283.7,516.9 286.7,516.2 289,516.9 292,516.7 294.2,517.2 297.3,516.3 300.3,516.7 302.5,516.4 305.6,517.3 307.8,516.7 310.8,516.9 313.1,516.4 316.9,517.1 319.1,516.9 321.4,517.2 324.4,516.7 332.7,517.3 340.3,517 343.3,517.3 350.9,517 359.9,517.3 455.2,517.3Z" fill="url(#gs36)"/>
<path d="M205.2,517.3 228.6,517.2 235.4,516.7 251.2,517.2 253.5,516.9 256.5,517.2 259.5,516.8 267.1,517.3 270.1,516.7 273.1,516.9 275.4,516.5 278.4,517.3 281.4,516.7 283.7,516.9 286.7,516.2 289,516.9 292,516.7 294.2,517.2 297.3,516.3 300.3,516.7 302.5,516.4 305.6,517.3 307.8,516.7 310.8,516.9 313.1,516.4 316.9,517.1 319.1,516.9 321.4,517.2 324.4,516.7 332.7,517.3 340.3,517 343.3,517.3 350.9,517 359.9,517.3 455,517.3" fill="none" stroke="#999" stroke-width="0.3" stroke-opacity="0.6"/>
<path d="M204.5,519 228.8,518.9 234.8,518.5 256.1,518.8 259.1,518.4 266.7,518.9 269.7,518.3 272.8,518.5 275,518.2 278.1,518.9 281.1,518.4 283.4,518.6 286.4,517.8 288.7,518.6 291.7,518.4 294,518.9 297.1,517.9 300.1,518.4 302.4,518.1 305.4,519 307.7,518.4 310.7,518.6 313,518 316.8,518.8 319.1,518.6 321.3,518.9 324.4,518.3 332.7,519 340.3,518.7 343.3,518.9 350.9,518.7 360,519 455.8,519Z" fill="url(#gs37)"/>
<path d="M204.5,519 228.8,518.9 234.8,518.5 256.1,518.8 259.1,518.4 266.7,518.9 269.7,518.3 272.8,518.5 275,518.2 278.1,518.9 281.1,518.4 283.4,518.6 286.4,517.8 288.7,518.6 291.7,518.4 294,518.9 297.1,517.9 300.1,518.4 302.4,518.1 305.4,519 307.7,518.4 310.7,518.6 313,518 316.8,518.8 319.1,518.6 321.3,518.9 324.4,518.3 332.7,519 340.3,518.7 343.3,518.9 350.9,518.7 360,519 455.6,519" fill="none" stroke="#999" stroke-width="0.3" stroke-opacity="0.6"/>
<path d="M203.8,520.6 228.2,520.5 234.3,520.3 255.7,520.5 258.7,520.1 266.3,520.6 269.4,520 272.4,520.2 274.7,519.8 277.8,520.6 280.8,520 283.1,520.2 286.2,519.5 288.5,520.2 291.5,520 293.8,520.5 296.9,519.6 299.9,520 302.2,519.7 305.2,520.6 307.5,520 310.6,520.2 312.9,519.7 316.7,520.4 319,520.2 321.3,520.5 324.3,520 332.7,520.6 340.3,520.3 343.4,520.6 360.2,520.6 456.5,520.6Z" fill="url(#gs38)"/>
<path d="M203.8,520.6 228.2,520.5 234.3,520.3 255.7,520.5 258.7,520.1 266.3,520.6 269.4,520 272.4,520.2 274.7,519.8 277.8,520.6 280.8,520 283.1,520.2 286.2,519.5 288.5,520.2 291.5,520 293.8,520.5 296.9,519.6 299.9,520 302.2,519.7 305.2,520.6 307.5,520 310.6,520.2 312.9,519.7 316.7,520.4 319,520.2 321.3,520.5 324.3,520 332.7,520.6 340.3,520.3 343.4,520.6 360.2,520.6 456.3,520.6" fill="none" stroke="#999" stroke-width="0.3" stroke-opacity="0.6"/>
<path d="M203.1,522.3 246.8,521.9 249.9,522.2 255.2,522.1 258.3,521.7 266,522.2 269,521.6 272.1,521.8 274.4,521.5 277.5,522.2 280.5,521.7 282.8,521.9 285.9,521.1 288.2,521.9 291.3,521.7 293.6,522.2 296.6,521.2 299.7,521.7 302,521.4 305.1,522.3 307.4,521.7 310.4,521.9 312.7,521.4 316.6,522.1 318.9,521.9 321.2,522.2 324.3,521.6 332.7,522.3 340.4,522 343.4,522.2 360.3,522.3 457.1,522.3Z" fill="url(#gs39)"/>
<path d="M203.1,522.3 246.8,521.9 249.9,522.2 255.2,522.1 258.3,521.7 266,522.2 269,521.6 272.1,521.8 274.4,521.5 277.5,522.2 280.5,521.7 282.8,521.9 285.9,521.1 288.2,521.9 291.3,521.7 293.6,522.2 296.6,521.2 299.7,521.7 302,521.4 305.1,522.3 307.4,521.7 310.4,521.9 312.7,521.4 316.6,522.1 318.9,521.9 321.2,522.2 324.3,521.6 332.7,522.3 340.4,522 343.4,522.2 360.3,522.3 456.9,522.3" fill="none" stroke="#999" stroke-width="0.3" stroke-opacity="0.6"/>
<line x1="235.10" y1="445.40" x2="235.10" y2="378.00" stroke="#111" stroke-width="0.9" />
<path d="M235.1,373.5 L233.2,379 L237,379 Z" fill="#111"/>
<text transform="translate(229.50,405.50) rotate(-90)" font-size="9.1" font-weight="bold" text-anchor="middle" fill="#000" stroke="#000" stroke-width="0.1">Absorbance</text>
<text x="232.4" y="447.0" font-size="8.4" font-weight="bold" font-style="italic" text-anchor="end">800</text>
<line x1="235.37" y1="444.50" x2="232.87" y2="444.50" stroke="#333" stroke-width="0.7" />
<text x="224.1" y="467.0" font-size="8.4" font-weight="bold" font-style="italic" text-anchor="end">600</text>
<line x1="227.08" y1="464.50" x2="224.58" y2="464.50" stroke="#333" stroke-width="0.7" />
<text x="215.3" y="488.2" font-size="8.4" font-weight="bold" font-style="italic" text-anchor="end">400</text>
<line x1="218.28" y1="485.70" x2="215.78" y2="485.70" stroke="#333" stroke-width="0.7" />
<text x="204.4" y="514.5" font-size="8.4" font-weight="bold" font-style="italic" text-anchor="end">200</text>
<line x1="207.37" y1="512.00" x2="204.87" y2="512.00" stroke="#333" stroke-width="0.7" />
<text transform="translate(193.5,497) rotate(-67) skewX(-10)" font-size="6.4" font-weight="bold" text-anchor="middle">Temperature (°C)</text>
<text x="225.76" y="538.20" font-size="9.3" font-weight="bold" text-anchor="middle" fill="#000" stroke="#000" stroke-width="0.1" >3000</text>
<text x="274.48" y="538.20" font-size="9.3" font-weight="bold" text-anchor="middle" fill="#000" stroke="#000" stroke-width="0.1" >2500</text>
<text x="323.19" y="538.20" font-size="9.3" font-weight="bold" text-anchor="middle" fill="#000" stroke="#000" stroke-width="0.1" >2000</text>
<text x="371.91" y="538.20" font-size="9.3" font-weight="bold" text-anchor="middle" fill="#000" stroke="#000" stroke-width="0.1" >1500</text>
<text x="420.63" y="538.20" font-size="9.3" font-weight="bold" text-anchor="middle" fill="#000" stroke="#000" stroke-width="0.1" >1000</text>
<text x="291" y="552.4" font-size="8.2" font-weight="bold">Wavelength (cm<tspan font-size="5" dy="-3.2">-1</tspan><tspan dy="3.2">)</tspan></text>
<path d="M226.4,492.6 Q226.4,494.8 227.9,494.8 L244.0,494.8 L245.2,496.0 L246.39999999999998,494.8 L262.5,494.8 Q264,494.8 264,492.6" stroke="#222" stroke-width="0.8" fill="none"/>
<text x="245.40" y="507.90" font-size="7.6" font-weight="bold" text-anchor="middle" fill="#000" stroke="#000" stroke-width="0.1" >C–H</text>
<path d="M335.6,492.6 Q335.6,494.8 337.1,494.8 L344.00000000000006,494.8 L345.20000000000005,496.0 L346.40000000000003,494.8 L353.3,494.8 Q354.8,494.8 354.8,492.6" stroke="#222" stroke-width="0.8" fill="none"/>
<text x="346.10" y="507.90" font-size="7.6" font-weight="bold" text-anchor="middle" fill="#000" stroke="#000" stroke-width="0.1" >C=O</text>
<path d="M371.1,492.6 Q371.1,494.8 372.6,494.8 L392.40000000000003,494.8 L393.6,496.0 L394.8,494.8 L414.6,494.8 Q416.1,494.8 416.1,492.6" stroke="#222" stroke-width="0.8" fill="none"/>
<text x="395.40" y="507.90" font-size="7.6" font-weight="bold" text-anchor="middle" fill="#000" stroke="#000" stroke-width="0.1" >C–O, O–H</text>
<line x1="274.30" y1="477.00" x2="291.00" y2="477.00" stroke="#333" stroke-width="0.7" stroke-dasharray="2,1.3"/>
<line x1="316.00" y1="477.00" x2="331.50" y2="477.00" stroke="#333" stroke-width="0.7" stroke-dasharray="2,1.3"/>
<text x="303.20" y="479.50" font-size="7.6" font-weight="bold" text-anchor="middle" fill="#000" stroke="#000" stroke-width="0.1" >500 °C</text>
<line x1="272.20" y1="499.50" x2="289.00" y2="499.50" stroke="#333" stroke-width="0.7" stroke-dasharray="2,1.3"/>
<line x1="314.00" y1="499.50" x2="331.50" y2="499.50" stroke="#333" stroke-width="0.7" stroke-dasharray="2,1.3"/>
<text x="301.00" y="502.00" font-size="7.6" font-weight="bold" text-anchor="middle" fill="#000" stroke="#000" stroke-width="0.1" >300 °C</text>
<line x1="300.50" y1="494.00" x2="301.80" y2="484.50" stroke="#111" stroke-width="0.8" />
<path d="M302.1,481.5 L300.2,485.6 L303.6,486 Z" fill="#111"/>
<rect x="493.6" y="377.4" width="144.0" height="150.30000000000007" fill="#e1e5ea"/>
<g clip-path="url(#chh)" stroke="#7a7a7a" stroke-width="0.3" stroke-opacity="0.75" fill-rule="evenodd"><path d="M556.9,526.2 563.4,527 569.5,526.5 575.6,524.7 582.6,521.2 590.4,515.4 597.1,509 602.2,502.7 605.7,496.4 607.3,491 607.9,485.5 607.4,479.2 605.7,472 599.9,454.8 598.3,445.8 595.9,437.6 594.3,434 591.8,429.5 584.1,419.6 583.4,417.8 583.3,416 584.3,413.2 586,410.5 592.3,403.3 602.6,393.4 621.6,376.2 595.1,376.2 565.1,399.7 555,406.9 548.8,410.5 546,411.5 543.4,411.9 526,410.7 520,411 514.7,411.9 509.5,413.5 505.2,415.9 502.2,418.7 500.6,421.4 500.1,423.2 500.1,425.9 500.7,427.7 501.7,429.5 503.2,431.3 505.3,433.1 512.9,437.6 513.5,438.5 513.6,439.4 512,442.2 509.3,444.9 492.1,459.3 492.1,492.1 500.8,484.6 508.9,478.3 513.9,475.3 515.6,474.9 516.5,475.1 517.3,476.6 517.5,486.4 518.4,491.9 520.6,497.3 524.3,503 531.3,510.5 540.8,518.3 548.6,523.1 553,525 556.5,526.1Z" fill="#e3e5ea"/><path d="M558.4,514.4 564.3,514.9 569.5,514.4 574.7,512.9 580.8,510.1 586.9,506.1 591.7,501.8 595.6,497.1 598.6,491.9 599.8,488.2 600.6,483.7 600.6,480.1 600.1,475.6 599.1,471.1 597.6,466.6 595.3,461.1 592.1,454.8 591.5,448.5 590.1,442.2 588.3,437.6 586,433.7 582.6,429.5 576.5,423.7 575.6,422.3 575.4,420.5 575.9,418.7 577.4,416 580.3,412.3 584.5,407.8 594.8,397.9 618.8,376.2 596.2,376.2 556.5,407.8 547.9,414.1 543.4,416.9 540,418.5 536.5,419.1 526.9,417.6 521.7,417.5 517.3,418.4 513.9,420.1 512.4,421.4 511.4,423.2 511.2,424.1 511.4,425.9 512.5,427.7 513.9,429 519.8,432.2 520.7,433.1 520.8,434 520.1,435.8 517.8,438.5 513,443.1 492.1,460.2 492.1,489.5 506,477.4 516.2,469.3 520,466.7 523.4,464.7 525.2,464.3 526,464.4 526.6,465.7 526.6,466.6 524.8,476.5 524.6,482.8 524.9,485.5 525.9,489.1 528.5,494.6 531.2,498.2 533.9,501 537.3,504.1 541.7,507.3 546,509.9 550.4,512 553.9,513.3 558.2,514.4Z" fill="#e6e5e9"/><path d="M557.5,507.2 562.6,507.8 567.8,507.5 573,506.3 578.2,504.3 583.4,501.2 587.8,497.6 591.2,493.6 593.9,489.1 595.2,485.5 595.9,481.9 596.1,478.3 595.6,473.8 594.8,470.2 593.3,465.7 590.9,460.2 588.1,454.8 587.7,448.5 586.4,443.1 584.5,438.5 581.4,434 578.2,430.9 572.8,426.8 571.3,425.2 570.8,424.1 570.9,422.3 572.2,419.6 574.1,416.9 581.7,408.7 592.2,398.8 617.3,376.2 596.7,376.2 550.3,413.2 541.7,419.6 530.4,427.3 520,437.6 506,449.4 492.1,460.5 492.1,488.1 509.5,472.9 520.8,463.9 529.1,458.4 531.3,457.5 532.9,457.5 533.2,458.4 533,460.2 530,470.2 529,477.4 529.1,481 529.5,483.7 531.5,489.1 533.1,491.9 535.6,494.9 538.2,497.5 541.7,500.3 545.2,502.5 549.5,504.7 553,506 557.3,507.2Z" fill="#e8e5e9"/><path d="M561.5,502.7 566.9,502.6 572.1,501.5 577.3,499.4 582.6,496.2 586.9,492.2 589.7,488.2 591.7,483.7 592.5,479.2 592.5,474.7 591.6,469.3 589,462 585.4,454.8 584.9,447.6 583.2,442.2 581.3,438.5 578.2,434.7 574.7,431.8 568.5,427.7 567.5,425.9 568,423.2 569.6,420.5 571.8,417.8 578.7,410.5 591.2,398.8 616.4,376.2 597.1,376.2 552,412.3 533.9,426.1 513,444 492.1,460.8 492.1,487.3 509.5,472 525.3,459.3 530.4,455.7 533.7,453.9 535.6,453.4 537.3,453.9 538,454.8 537.9,455.7 534.1,465.7 533,470.2 532.4,473.8 532.6,480.1 533.5,483.7 534.6,486.4 536.5,489.5 539.1,492.6 541.7,494.9 545.2,497.4 548.6,499.3 553,501 557.3,502.2 560.8,502.7Z" fill="#eae5e8"/><path d="M557.1,498.2 562.6,498.8 567.8,498.4 573,497.1 578.2,494.7 582.6,491.5 586,487.6 588.5,482.8 589.6,478.3 589.7,473.8 588.9,468.4 586.8,462 583.4,454.8 583,448.5 581.3,443.1 578.7,438.5 575.6,435.2 572.1,432.7 566.1,429.5 565.2,428.6 564.8,426.8 565.3,425 566.9,422.3 569.1,419.6 577,411.4 588.6,400.6 615.8,376.2 597.4,376.2 551.2,413.2 532.1,428.1 512.2,444.9 492.1,461.1 492.1,486.8 512.1,469.3 527.8,456.6 534.7,452.1 537.3,451.2 539.1,451.6 540,452.9 540.5,454.8 536.7,464.7 535.1,472 535.1,477.4 536.2,481.9 537.4,484.6 539.1,487.3 543.5,491.9 546,493.7 549.5,495.6 553,497.1 556.5,498.1Z" fill="#ece5e8"/><path d="M561.6,495.5 566.9,495.2 571.3,494.3 575.6,492.5 579.9,489.6 583.1,486.4 585.4,482.8 586.7,479.2 587.4,474.7 587.2,471.1 586.4,466.6 584.6,461.1 581.7,454.8 581.2,448.5 579.4,443.1 577.1,439.4 573.9,436.2 570.4,433.9 564.3,431.3 563.1,430.4 562.5,429.5 562.4,428.6 562.9,426.8 564.6,424.1 566.8,421.4 576.5,411.4 615.5,376.2 597.5,376.2 558.2,407.8 534.7,426.3 492.1,461.2 492.1,486.4 509.5,471.1 526,457.5 534.8,451.2 538.2,449.5 540.2,449.4 540.8,449.8 541.7,451.2 542.3,454.8 538.8,463.8 537.4,470.2 537.3,473.8 537.5,476.5 539.1,481.8 540.7,484.6 542.6,486.9 545.2,489.4 547.8,491.2 553.9,494 557.3,494.9 560.8,495.4Z" fill="#eee5e7"/><path d="M556.4,491.9 561.7,492.6 566.9,492.3 572.1,490.9 576.5,488.7 580.3,485.5 582.9,481.9 584.4,478.3 585.2,473.8 585.2,470.2 584.4,465.7 583,461.1 580.3,454.8 579.7,448.5 578.9,445.8 577.7,443.1 575.1,439.4 571.9,436.7 567.8,434.6 561.2,432.2 560.4,431.3 560.2,430.4 560.7,428.6 561.7,426.8 564.6,423.2 572.4,415.1 586.9,401.5 615.2,376.2 597.7,376.2 533.9,427.2 492.1,461.3 492.1,486.2 511.3,469.3 526.8,456.6 534.1,451.2 538.2,448.5 540.8,447.5 541.9,447.6 542.6,448 543.2,449.4 543.7,454.8 541,462 539.5,468.4 539.4,473.8 540.3,478.3 542.6,482.8 546,486.6 550.4,489.6 555.6,491.6Z" fill="#f0e4e6"/><path d="M561.7,490 566,489.8 570.4,488.8 573.9,487.3 577.6,484.6 580,481.9 582.1,478.3 583.1,474.7 583.4,470.2 583,466.6 582.1,462.9 579,454.8 578.8,451.2 578.3,448.5 577.4,445.8 576.1,443.1 573,439.4 569.5,437 566,435.6 559.1,433.9 558.2,433.1 558.2,431.3 559.1,429.5 562.5,425 573,414.1 615,376.2 597.8,376.2 533,428.1 492.1,461.4 492.1,486.1 512.1,468.4 527.7,455.7 538.8,447.6 541.7,446.1 543.8,445.8 544.3,446.1 544.8,447.6 545,454.8 542.4,462 541.3,467.5 541.2,472.9 542.3,477.4 543.6,480.1 545.2,482.3 546.9,484.2 549.5,486.2 554.7,488.7 560.8,490Z" fill="#f1e2e4"/><path d="M558.5,487.3 563.4,487.7 567.8,487.1 571.3,485.9 575,483.7 577.9,481 580.1,477.4 581.3,473.8 581.6,469.3 580.7,462.9 577.8,454.8 577.6,451.2 577.1,448.5 576.1,445.8 574.7,443.4 572,440.4 567.8,437.7 563.4,436.4 556.5,435.7 555.6,434.9 555.7,434 556.5,432.2 559.1,428.6 563.1,424.1 574.7,412.3 614.7,376.2 597.9,376.2 532.1,429 492.1,461.5 492.1,485.9 513,467.5 528.6,454.8 540.8,445.8 544.3,443.9 546,443.7 546.7,444.9 546.2,454.8 543.7,462 542.8,467.5 542.8,471.1 543.5,474.7 545.5,479.2 548.6,482.7 553,485.5 558.2,487.3Z" fill="#f1dfe1"/><path d="M492.1,485.5 513.9,466.6 526.1,456.6 539.1,446.7 544.3,443 550.4,439.3 556.4,431.3 562.8,424.1 569,417.8 583.4,404.2 614.6,376.2 598.1,376.2 535.6,426.3 492.1,461.6 492.1,484.6ZM556.6,484.6 559.9,485.3 564.3,485.4 568.6,484.6 572.1,483 574.9,481 577.3,478.3 578.7,475.6 579.8,472 580,468.4 579.5,463.8 578.6,460.2 576.7,454.8 576.3,450.3 575.2,446.7 573.6,444 571.3,441.3 568.6,439.5 565.2,438.2 561.7,437.6 557.3,437.9 553,439 550.9,440.4 549.5,443 548.2,446.7 547.4,451.2 547.2,454.8 544.8,462.9 544.3,466.6 544.4,470.2 545.1,473.8 546.2,476.5 548.1,479.2 550.4,481.4 553,483.1 556.5,484.6Z" fill="#f2dcde"/><path d="M492.1,485.5 518.1,462.9 529.4,453.9 548.6,439.2 553,434.8 562.5,424.1 570.7,416 584.2,403.3 614.5,376.2 598.2,376.2 535.6,426.4 492.1,461.7 492.1,484.6ZM557.8,482.8 561.7,483.4 565.2,483.2 568.6,482.3 571.3,481.1 573.8,479.2 575.6,477.2 577.3,474.1 578.2,471.1 578.5,467.5 578.2,463.8 577.5,460.2 575.7,454.8 575.4,451.2 574.3,447.6 572.9,444.9 570.4,442.2 567.8,440.4 565.2,439.4 561.7,438.9 557.3,439.5 553.9,441 551.7,443.1 550,445.8 549,448.5 548.5,451.2 548.3,454.8 546.2,462 545.8,465.7 545.8,469.3 546.6,472.9 547.8,475.4 549.5,477.8 552,480.1 554.7,481.7 557.3,482.7Z" fill="#f3dadc"/><path d="M492.1,484.6 492.1,485.5 519.1,462 546.9,440.2 552.1,435.3 561.6,425 569.5,416.9 585.1,402.4 614.4,376.2 598.2,376.3 534.7,427.2 492.1,461.8 492.1,483.7ZM558.9,481 561.7,481.4 565.2,481.2 568.6,480.1 571.3,478.7 573,477.2 575,474.7 576.2,472 576.9,469.3 577.1,465.7 576.7,462 574.6,454.8 574.1,450.3 573.1,447.6 571.5,444.9 569.5,442.9 566.9,441.3 564.3,440.5 560.8,440.2 557.3,440.9 554.7,442.2 552.1,444.8 551,446.7 549.9,449.4 549.4,452.1 549.3,454.8 547.4,462 547.1,465.7 547.2,468.4 547.8,471.1 548.9,473.8 550.4,476 552.8,478.3 555.6,479.9 558.2,480.9Z" fill="#f3d7d9"/><path d="M492.1,484.6 492.1,485.4 514.7,465.5 547.8,439.2 571.3,415.1 586,401.4 614.3,376.2 598.5,376.2 598.2,376.4 534.7,427.3 492.1,461.9 492.1,483.7ZM559.9,479.2 562.6,479.4 565.2,479.1 567.8,478.3 570.4,476.9 572.1,475.4 573.9,472.9 575.1,470.2 575.6,467.5 575.7,464.7 575.3,461.1 573.7,454.8 573.3,451.2 572.4,448.5 570.8,445.8 569,444 566.9,442.6 564.3,441.7 560.8,441.4 558.2,441.9 555.6,443.2 553,445.6 551.8,447.6 550.8,450.3 550.3,454.8 548.7,461.1 548.4,464.7 548.6,467.5 549.2,470.2 550.4,472.8 552.1,475.1 553.9,476.7 556.5,478.2 559.1,479.1Z" fill="#f4d5d7"/><path d="M492.1,484.6 492.1,485.3 499.1,478.9 519.1,461.7 540,445.5 547.8,438.9 572.1,414.1 586,401.2 614.2,376.2 598.6,376.2 598.2,376.5 533.9,428.1 492.1,462 492.1,483.7ZM561.2,477.4 563.4,477.4 566,476.9 568.6,475.7 570.4,474.4 572.1,472.4 573.3,470.2 574.1,467.5 574.4,464.7 573.8,459.3 572.7,454.8 572.2,451.2 571.2,448.5 569.5,446 567.8,444.5 565.2,443.1 562.6,442.6 559.9,442.7 557.3,443.6 554.7,445.4 553.1,447.6 551.6,451.2 549.7,462.9 549.8,465.7 550.3,468.4 551.3,470.9 552.6,472.9 554.3,474.7 556.5,476.1 560.8,477.4Z" fill="#f4d1d3"/><path d="M492.1,484.6 492.1,485.2 493,484.1 497.3,480.6 499.1,478.7 513.9,466.2 514.7,465.1 518.2,462.6 519.1,461.5 545.2,441 551.3,435.5 572.1,413.9 585.2,402.1 586,401 589.5,398.2 605.2,383.9 609.5,380.3 611.2,378.5 614.1,376.2 598.8,376.2 598.2,376.6 533.9,428.1 517.3,441.8 492.1,462.1 492.1,483.7ZM558.1,474.7 560.8,475.4 563.4,475.4 566,474.8 567.8,473.9 569.5,472.6 570.8,471.1 572.1,468.7 572.8,466.6 573.1,463.8 573,461.1 570.8,450.3 570,448.5 568.6,446.7 566.9,445.3 565.2,444.4 563.4,443.9 560.8,443.8 557.3,444.9 555.6,446.2 554.4,447.6 552.7,451.2 551.1,460.2 551,462.9 551.3,465.9 552.1,468.8 553.4,471.1 555.1,472.9 557.3,474.4Z" fill="#f4ced0"/><path d="M492.1,484.6 492.1,485.2 493,483.9 496.5,481.3 498.8,479.2 499.1,478.5 502.6,475.9 505.2,473.2 510.1,469.3 510.4,468.7 513.9,466.1 514.7,464.9 517.3,463.2 518.7,462 519.1,461.4 521.7,459.6 523.4,458 526,456.2 526.9,455.1 529.5,453.4 545.2,440.9 552.1,434.4 572.1,413.7 585.2,402 586,400.8 589.5,398.1 593,394.7 598.8,389.8 599.1,389.2 604.3,384.9 605.2,383.7 610.4,379.5 611.2,378.3 614,376.2 598.9,376.2 598.2,376.7 549.5,415.7 548.6,416.7 541.7,421.9 540.8,422.9 533.9,428.2 533,429.2 529.5,431.7 525.2,435.6 521.7,438.1 517.3,441.9 492.1,462.2 492.1,483.7ZM558.9,472.9 560.8,473.4 563.4,473.4 566.9,472.2 568.6,470.8 569.9,469.3 571.4,465.7 571.7,462.9 571.7,460.2 570,451.2 569.2,449.4 567.9,447.6 565.2,445.7 561.7,445 559.9,445.2 558.2,445.8 556.5,447 555.2,448.5 553.6,452.1 552.3,460.2 552.3,462.9 552.7,465.7 553.8,468.4 554.7,469.8 556.5,471.5 558.2,472.6Z" fill="#f3cacc"/><path d="M492.1,484.6 492.1,485.1 493,483.8 497.3,480.4 498.7,479.2 499.1,478.4 503.4,475 504.8,473.8 505.2,473.1 510,469.3 510.4,468.6 513.9,466 514.7,464.8 517.3,463.1 518.6,462 519.1,461.2 521.7,459.6 523.4,457.8 526.5,455.7 526.9,455 529.5,453.4 546,440 553,433.4 563.6,422.3 571.9,414.1 572.1,413.5 579.1,407.5 579.9,406.3 585.2,402 586,400.7 589.5,398 592.7,395.2 593,394.5 598.8,389.8 599.1,389 604.3,384.8 605.2,383.6 610.4,379.4 611.2,378.1 613.9,376.2 599.1,376.2 596.5,378 591.2,382.5 584.3,387.8 583.4,388.8 576.5,394.1 575.6,395.1 549.5,415.8 548.6,416.8 533.9,428.3 533,429.4 529.5,431.8 528.6,432.8 525.7,434.9 525.2,435.7 521.7,438.2 517.3,442 513.9,444.6 509.5,448.4 506,450.9 492.1,462.2 492.1,483.7ZM560.2,471.1 563.4,471.2 565.2,470.7 566.9,469.7 568.2,468.4 569.3,466.6 570.3,462.9 570.3,458.4 568.8,451.2 566.9,448.3 565.2,447.1 563.4,446.4 561.7,446.2 559.9,446.5 558.2,447.3 556.5,448.8 555.4,450.3 554.7,452.1 553.8,457.5 553.6,462 553.9,463.9 554.7,466.5 556.8,469.3 558.2,470.3 559.9,471Z" fill="#f3c6c8"/><path d="M492.1,484.6 492.1,485 493,483.7 498.2,479.6 499.1,478.2 504.3,474.2 505.2,472.9 509.5,469.7 510.4,468.4 513.9,466 514.7,464.7 518.2,462.3 519.1,461.1 522.6,458.8 523.4,457.7 526.4,455.7 526.9,454.8 529.5,453.3 546,439.9 571.8,414.1 572.1,413.3 579.1,407.4 579.9,406.1 585.2,401.9 586,400.5 592.1,395.6 593,394.3 598.2,390.2 599.1,388.9 604.3,384.7 605.2,383.4 610.4,379.3 611.2,378 613.7,376.2 599.2,376.2 595.6,378.7 591.2,382.6 584.3,387.9 583.4,388.9 579.9,391.3 575.6,395.2 572.1,397.6 567.8,401.5 553,413 552.1,414 549.4,416 548.6,416.9 541.7,422.1 540.8,423.2 537.3,425.6 536.5,426.6 533.6,428.6 533,429.5 529.5,431.9 528.6,432.9 525.8,434.9 525.2,435.8 521.7,438.3 520.8,439.3 518,441.3 517.3,442.2 513.9,444.6 509.5,448.5 506,451 501.7,454.8 498.2,457.3 492.1,462.3 492.1,483.7ZM559.3,468.4 560.8,468.9 562.6,469 565.2,468.2 566.9,466.8 567.7,465.7 568.7,462.9 569,459.3 568.1,453 566.9,450.3 566,449.3 564.3,448.1 561.7,447.6 559.1,448.3 556.9,450.3 555.7,453 554.9,459.3 555.3,462.9 556.5,465.8 557.3,466.9 559.1,468.3Z" fill="#f3c2c4"/><path d="M492.1,484.6 492.1,484.9 492.4,484.6 492.8,483.7 493.9,482.8 498.5,479.2 499.1,478.2 504.3,474.1 505.2,472.8 509.5,469.6 510.4,468.3 513.9,465.9 514.7,464.6 518.2,462.3 519.1,461 522.6,458.7 523.4,457.5 526,455.9 526.9,454.7 530.4,452.5 531.3,451.5 537.3,447.1 546,439.8 571.7,414.1 572.1,413.2 577.3,408.9 579.5,406.9 579.9,406 585.5,401.5 586,400.4 591.2,396.3 592.5,395.2 593,394.2 597.3,390.9 598.6,389.8 599.1,388.8 603.4,385.4 604.7,384.3 605.2,383.3 609.5,380 610.7,378.9 611.1,378 613.4,376.2 599.2,376.2 595.6,378.8 594.7,379.8 587.8,385.1 583.4,389 579.9,391.4 575.6,395.3 572.1,397.7 567.8,401.5 564.3,404 559.9,407.8 556.5,410.3 552.1,414.1 549.5,415.9 548.6,416.9 541.7,422.2 540.8,423.2 537.3,425.6 536.5,426.7 533.7,428.6 533,429.6 529.5,431.9 528.6,433 525.9,434.9 525.2,435.9 521.7,438.3 520.8,439.4 518.1,441.3 517.3,442.2 513.9,444.7 509.5,448.6 506,451 505.2,452 502.6,453.9 501.7,454.9 498.2,457.3 497.3,458.3 492.1,462.4 492.1,483.7ZM559.5,465.7 561.7,466.4 564.3,465.9 566,464.2 567.1,462 567.5,458.4 567,453.9 566,451.6 564.3,449.9 562.6,449.2 559.9,449.6 558.2,451 557.1,453 556.5,456.9 556.5,460.2 557.3,463.2 559.1,465.4Z" fill="#f2bec0"/><path d="M492.1,484.6 493.9,482.7 498.5,479.2 499.1,478.1 504.3,474.1 505.2,472.7 509.5,469.5 510.4,468.2 513.9,465.8 514.7,464.5 518.2,462.2 519.1,460.9 522.6,458.7 523.4,457.4 526,455.9 526.9,454.7 529.5,453.1 530.8,452.1 531.3,451.4 533.9,449.7 534.7,448.6 537.3,447 546.9,438.9 552,434 562.2,423.2 571.6,414.1 572.1,413.1 578.2,408 579.4,406.9 579.9,405.9 585.2,401.7 586,400.4 592.1,395.5 593,394.1 598.2,390 599.1,388.7 604.3,384.6 605,383.4 610.4,379.2 611,378 613.2,376.2 599.3,376.2 595.6,378.9 594.8,379.8 592.1,381.8 591.2,382.7 587.8,385.2 587,386.1 584.3,388 583.4,389 579.9,391.5 575.6,395.3 572.1,397.8 567.8,401.6 564.3,404.1 559.9,407.9 556.5,410.4 555.6,411.4 552.9,413.2 552.1,414.2 549.5,416 548.6,417 545.2,419.4 544.3,420.5 541.6,422.3 540.8,423.3 537.3,425.7 536.5,426.8 533.8,428.6 533,429.7 529.5,432 528.7,433.1 526,434.9 525.2,436 521.7,438.4 520.8,439.5 518.2,441.3 517.3,442.3 513.9,444.8 513,445.8 506,451.1 505.2,452.1 502.6,453.9 501.7,455 498.2,457.4 497.3,458.4 492.1,462.5 492.1,483.7ZM560.8,462.9 562.6,463.1 563.4,462.8 564.9,461.1 565.5,459.3 565.6,456.6 565.2,453.9 564.3,452.3 563.4,451.6 562.6,451.3 560.8,451.4 559.7,452.1 558.6,453.9 558.3,458.4 559,461.1 559.9,462.4Z" fill="#f2babc"/><path d="M492.1,484.6 492.6,483.7 493.9,482.6 498.4,479.2 499.1,478 504.5,473.8 505.2,472.6 509.5,469.4 510.1,468.4 511.3,467.4 513.9,465.7 514.7,464.4 518.2,462.1 518.8,461.1 520,460.2 522.6,458.6 523.4,457.4 526,455.8 526.9,454.6 530.4,452.4 531.3,451.2 533.9,449.7 534.7,448.5 538.2,446.2 539.1,445.1 541.7,443.4 543.1,442.2 543.4,441.5 546.9,438.8 551.9,434 552.1,433.3 561.9,423.2 571.6,414.1 572.1,413 579.1,407.2 579.7,406 580.8,405 585.2,401.7 585.7,400.6 586.9,399.5 592.1,395.4 593,394 598.2,390 599.1,388.6 604.3,384.5 605.2,383.1 610.4,379.1 610.9,378 613,376.2 599.4,376.2 595.6,379 591.2,382.8 587.8,385.3 587.1,386.1 583.4,389.1 579.9,391.6 579.2,392.5 576.5,394.5 575.6,395.4 572.1,397.8 571.4,398.8 568.6,400.7 567.8,401.7 564.3,404.1 563.5,405.1 560.8,407 559.9,408 556.5,410.4 555.6,411.5 553,413.2 552.3,414.1 549.5,416.1 548.6,417.1 545.2,419.5 544.4,420.5 541.7,422.3 540.8,423.4 537.3,425.8 536.5,426.9 533.9,428.6 533,429.7 529.5,432.1 528.6,433.2 526,435 525.2,436.1 521.7,438.5 520.8,439.6 513.9,444.8 513,445.9 506,451.2 505.2,452.2 498.2,457.5 497.3,458.5 492.1,462.6 492.1,483.7Z" fill="#f1b6b8"/><path d="M492.1,484.6 493,483.3 498.2,479.3 498.7,478.3 500.8,476.4 504.3,473.9 504.8,472.9 506,471.8 509.5,469.4 510.4,468 513.9,465.6 514.7,464.4 518.2,462 518.7,461.1 520,460.1 522.6,458.5 523.4,457.3 526,455.7 526.9,454.5 530.4,452.3 531.3,451.1 533.9,449.6 534.7,448.4 538.2,446.1 539.1,445 541.7,443.3 543,442.2 543.4,441.3 546.9,438.7 551.8,434 552.1,433.1 561.7,423.2 571.5,414.1 572.1,412.9 579.1,407.1 579.6,406 581.7,404.2 585.2,401.6 585.6,400.6 586.9,399.4 592.1,395.3 593,393.9 598.2,389.9 599.1,388.5 604.3,384.4 605.2,383.1 610.4,379 610.8,378 612.9,376.2 599.5,376.2 587.8,385.4 583.4,389.2 579.9,391.7 575.6,395.5 572.1,397.9 571.5,398.8 567.8,401.8 564.3,404.2 563.6,405.1 560.8,407.1 559.9,408.1 556.5,410.5 555.6,411.6 553,413.4 548.6,417.2 545.2,419.6 544.5,420.5 541.7,422.5 540.8,423.5 537.3,425.8 536.5,427 533.9,428.7 532.1,430.5 529.5,432.2 528.6,433.3 521.7,438.5 520.8,439.7 513.9,444.9 513,446 506,451.3 505.2,452.3 498.2,457.6 497.3,458.6 492.1,462.7 492.1,483.7Z" fill="#f1b2b4"/><path d="M492.1,483.7 492.1,484.6 493,483.2 495.6,480.9 498.2,479.2 499.1,477.8 501.7,475.6 504.3,473.8 505.2,472.5 509.5,469.3 509.9,468.4 513.9,465.4 514.7,464.3 518.2,461.8 518.6,461.1 520,460 522.6,458.4 523,457.5 526,455.6 526.9,454.4 530.4,452.3 531.3,451 533.9,449.5 534.7,448.3 538.2,446.1 539.1,444.8 541.7,443.2 542.9,442.2 543.4,441.2 546.9,438.6 551.7,434 552,433.1 563.4,421.3 571.4,414.1 572.1,412.8 575.6,409.7 579.1,407 579.5,406 581.7,404 585.2,401.5 585.5,400.6 587.8,398.5 592.1,395.3 592.5,394.3 593.9,393.1 598.2,389.8 598.6,388.8 599.9,387.6 604.3,384.4 604.7,383.4 606,382.2 610.4,378.9 610.7,378 612.8,376.2 599.6,376.2 579.9,391.8 575.6,395.6 572.1,398.1 567.8,401.9 564.3,404.3 559.9,408.2 556.5,410.6 555.6,411.7 545.2,419.7 544.6,420.5 541.7,422.6 540.8,423.6 537.3,425.9 536.5,427.1 533.9,428.9 532.1,430.6 529.5,432.2 528.6,433.4 521.7,438.7 520.8,439.8 513.9,445.1 513,446.1 506,451.4 505.2,452.4 498.2,457.7 497.3,458.7 492.1,462.8 492.1,482.8Z" fill="#f0adaf"/><path d="M492.1,483.7 492.1,484.4 492.4,483.7 493.9,482.4 498.2,478.9 498.5,478.3 501.7,475.4 504.3,473.7 505.2,472.4 509.5,469.1 509.8,468.4 513.9,465.3 515.6,463.5 518.2,461.7 520.8,459.2 522.6,458.3 522.9,457.5 526,455.4 527.8,453.7 530.4,452.2 531.3,450.9 533.9,449.4 534.7,448.2 538.2,446 539.1,444.7 541.7,443.1 542.9,442.2 543.4,441.1 547.8,437.8 551.7,434 551.9,433.1 563.4,421.2 571.3,414.1 571.6,413.2 572.1,412.7 576.5,408.8 579.1,407 579.4,406 585.2,401.3 585.4,400.6 587.8,398.4 592.1,395.2 592.5,394.3 593.9,393 598.2,389.7 598.5,388.8 601.7,386 604.3,384.2 604.6,383.4 608.6,379.9 610.4,378.7 610.6,378 612.7,376.2 599.7,376.2 567.8,402 564.3,404.5 559.9,408.3 556.5,410.7 555.6,411.7 545.2,419.8 540.8,423.6 537.3,426.1 536.5,427.2 529.5,432.4 528.6,433.5 521.7,438.8 520.8,439.8 492.1,462.9 492.1,482.8Z" fill="#f0a9ab"/><path d="M492.1,483.7 492.1,484.1 500.8,476.1 504.3,473.4 505.2,472.3 509.5,468.9 509.7,468.4 515.6,463.4 520.8,459.1 522.6,458.1 523.4,457 526,455.2 527.8,453.6 530.4,452.1 531.3,450.9 533.9,449.4 534.7,448.1 538.2,445.9 539.1,444.7 542.8,442.2 543.2,441.3 547.8,437.7 551.3,434.4 551.8,433.1 559.9,424.7 567.8,416.9 571.3,414.1 571.5,413.2 573,411.8 576.5,408.6 579.1,406.8 579.3,406 580.8,404.6 585.2,401 589.5,396.8 592.1,395 593,393.7 598.2,389.5 599.1,388.2 604.3,384 604.5,383.4 610.4,378.5 612.5,376.2 599.8,376.2 540,424.4 537.3,426.2 536.5,427.2 529.5,432.6 528.6,433.6 492.3,462.9 492.1,482.8Z" fill="#efa5a7"/><path d="M492.1,483.7 516.5,462.6 527.8,453.5 530.4,452 530.8,451.2 533.9,449.2 534.2,448.5 535.6,447.4 538.2,445.9 539.1,444.6 542.7,442.2 543.1,441.3 548.6,436.8 551.3,434.3 551.7,433.1 560.8,423.7 567.8,416.7 571.3,413.8 571.4,413.2 573.9,410.9 579.1,406.5 579.2,406 581.7,403.7 592.1,394.7 593.9,392.8 598.2,389.2 612.4,376.2 599.9,376.2 537.3,426.4 492.4,462.9 492.1,463.2 492.1,482.8Z" fill="#eea1a3"/><path d="M492.1,482.8 492.1,483.7 516.5,462.4 527.8,453.4 530.4,451.7 531.3,450.7 533.9,449 535.6,447.3 538.2,445.8 538.6,444.9 540,443.8 542.6,442.2 543,441.3 551.3,434.2 551.6,433.1 560.8,423.6 573.9,410.8 612.3,376.2 600,376.2 492.5,462.9 492.1,463.3 492.1,481.9Z" fill="#ee9d9f"/><path d="M492.1,482.8 492.1,483.5 492.9,482.8 507.8,469.7 520.8,458.8 530.4,451.5 535.6,447.2 538.2,445.6 538.5,444.9 540,443.7 542.6,442 543.4,440.7 551.3,434 551.6,433.1 569.5,414.8 583.4,401.9 612.2,376.2 600.2,376.2 492.7,462.9 492.1,463.4 492.1,481.9Z" fill="#ed989a"/><path d="M492.1,482.8 492.1,483.3 493.8,481.9 517.3,461.5 542.6,441.8 544.3,439.9 551.3,434 551.5,433.1 570.4,413.8 584.3,401 612.1,376.2 600.4,376.2 492.8,462.9 492.1,463.6 492.1,481.9Z" fill="#ed9799"/></g>
<rect x="493.60" y="377.40" width="144.00" height="150.30" fill="none" stroke="#333" stroke-width="1.0" />
<line x1="527.23" y1="527.70" x2="527.23" y2="525.40" stroke="#333" stroke-width="0.8" />
<text x="527.23" y="537.70" font-size="9.1" font-weight="bold" text-anchor="middle" fill="#000" stroke="#000" stroke-width="0.1" >600</text>
<line x1="564.02" y1="527.70" x2="564.02" y2="525.40" stroke="#333" stroke-width="0.8" />
<text x="564.02" y="537.70" font-size="9.1" font-weight="bold" text-anchor="middle" fill="#000" stroke="#000" stroke-width="0.1" >650</text>
<line x1="600.81" y1="527.70" x2="600.81" y2="525.40" stroke="#333" stroke-width="0.8" />
<text x="600.81" y="537.70" font-size="9.1" font-weight="bold" text-anchor="middle" fill="#000" stroke="#000" stroke-width="0.1" >700</text>
<line x1="637.60" y1="527.70" x2="637.60" y2="525.40" stroke="#333" stroke-width="0.8" />
<text x="637.60" y="537.70" font-size="9.1" font-weight="bold" text-anchor="middle" fill="#000" stroke="#000" stroke-width="0.1" >750</text>
<line x1="508.83" y1="527.70" x2="508.83" y2="526.40" stroke="#333" stroke-width="0.6" />
<line x1="545.62" y1="527.70" x2="545.62" y2="526.40" stroke="#333" stroke-width="0.6" />
<line x1="582.41" y1="527.70" x2="582.41" y2="526.40" stroke="#333" stroke-width="0.6" />
<line x1="619.20" y1="527.70" x2="619.20" y2="526.40" stroke="#333" stroke-width="0.6" />
<line x1="493.60" y1="527.70" x2="495.90" y2="527.70" stroke="#333" stroke-width="0.8" />
<text x="491.10" y="530.80" font-size="9.1" font-weight="bold" text-anchor="end" fill="#000" stroke="#000" stroke-width="0.1" >450</text>
<line x1="493.60" y1="497.64" x2="495.90" y2="497.64" stroke="#333" stroke-width="0.8" />
<text x="491.10" y="500.74" font-size="9.1" font-weight="bold" text-anchor="end" fill="#000" stroke="#000" stroke-width="0.1" >500</text>
<line x1="493.60" y1="467.58" x2="495.90" y2="467.58" stroke="#333" stroke-width="0.8" />
<text x="491.10" y="470.68" font-size="9.1" font-weight="bold" text-anchor="end" fill="#000" stroke="#000" stroke-width="0.1" >550</text>
<line x1="493.60" y1="437.52" x2="495.90" y2="437.52" stroke="#333" stroke-width="0.8" />
<text x="491.10" y="440.62" font-size="9.1" font-weight="bold" text-anchor="end" fill="#000" stroke="#000" stroke-width="0.1" >600</text>
<line x1="493.60" y1="407.46" x2="495.90" y2="407.46" stroke="#333" stroke-width="0.8" />
<text x="491.10" y="410.56" font-size="9.1" font-weight="bold" text-anchor="end" fill="#000" stroke="#000" stroke-width="0.1" >650</text>
<line x1="493.60" y1="377.40" x2="495.90" y2="377.40" stroke="#333" stroke-width="0.8" />
<text x="491.10" y="380.50" font-size="9.1" font-weight="bold" text-anchor="end" fill="#000" stroke="#000" stroke-width="0.1" >700</text>
<line x1="493.60" y1="512.67" x2="494.90" y2="512.67" stroke="#333" stroke-width="0.6" />
<line x1="493.60" y1="482.61" x2="494.90" y2="482.61" stroke="#333" stroke-width="0.6" />
<line x1="493.60" y1="452.55" x2="494.90" y2="452.55" stroke="#333" stroke-width="0.6" />
<line x1="493.60" y1="422.49" x2="494.90" y2="422.49" stroke="#333" stroke-width="0.6" />
<line x1="493.60" y1="392.43" x2="494.90" y2="392.43" stroke="#333" stroke-width="0.6" />
<text x="568.00" y="551.80" font-size="9.4" font-weight="bold" text-anchor="middle" fill="#000" stroke="#000" stroke-width="0.1" >Emission (nm)</text>
<text transform="translate(471.30,452.50) rotate(-90)" font-size="9.35" font-weight="bold" text-anchor="middle" fill="#000" stroke="#000" stroke-width="0.1">Excitation (nm)</text>
<rect x="641.30" y="376.50" width="14.00" height="151.00" fill="url(#gcb)" stroke="#333" stroke-width="0.9" />
<line x1="655.30" y1="527.50" x2="657.30" y2="527.50" stroke="#333" stroke-width="0.8" />
<text x="657.40" y="530.70" font-size="9.1" font-weight="bold" text-anchor="start" fill="#000" stroke="#000" stroke-width="0.1" >0</text>
<line x1="655.30" y1="491.97" x2="657.30" y2="491.97" stroke="#333" stroke-width="0.8" />
<text x="657.40" y="495.17" font-size="9.1" font-weight="bold" text-anchor="start" fill="#000" stroke="#000" stroke-width="0.1" >200</text>
<line x1="655.30" y1="456.44" x2="657.30" y2="456.44" stroke="#333" stroke-width="0.8" />
<text x="657.40" y="459.64" font-size="9.1" font-weight="bold" text-anchor="start" fill="#000" stroke="#000" stroke-width="0.1" >400</text>
<line x1="655.30" y1="420.91" x2="657.30" y2="420.91" stroke="#333" stroke-width="0.8" />
<text x="657.40" y="424.11" font-size="9.1" font-weight="bold" text-anchor="start" fill="#000" stroke="#000" stroke-width="0.1" >600</text>
<line x1="655.30" y1="385.38" x2="657.30" y2="385.38" stroke="#333" stroke-width="0.8" />
<text x="657.40" y="388.58" font-size="9.1" font-weight="bold" text-anchor="start" fill="#000" stroke="#000" stroke-width="0.1" >800</text>
<line x1="655.30" y1="509.74" x2="656.50" y2="509.74" stroke="#333" stroke-width="0.6" />
<line x1="655.30" y1="474.21" x2="656.50" y2="474.21" stroke="#333" stroke-width="0.6" />
<line x1="655.30" y1="438.68" x2="656.50" y2="438.68" stroke="#333" stroke-width="0.6" />
<line x1="655.30" y1="403.15" x2="656.50" y2="403.15" stroke="#333" stroke-width="0.6" />
<text transform="translate(684.20,452.80) rotate(-90)" font-size="9.2" font-weight="bold" text-anchor="middle" fill="#000" stroke="#000" stroke-width="0.1">FL Intensity (arb. units)</text></svg></body></html>
